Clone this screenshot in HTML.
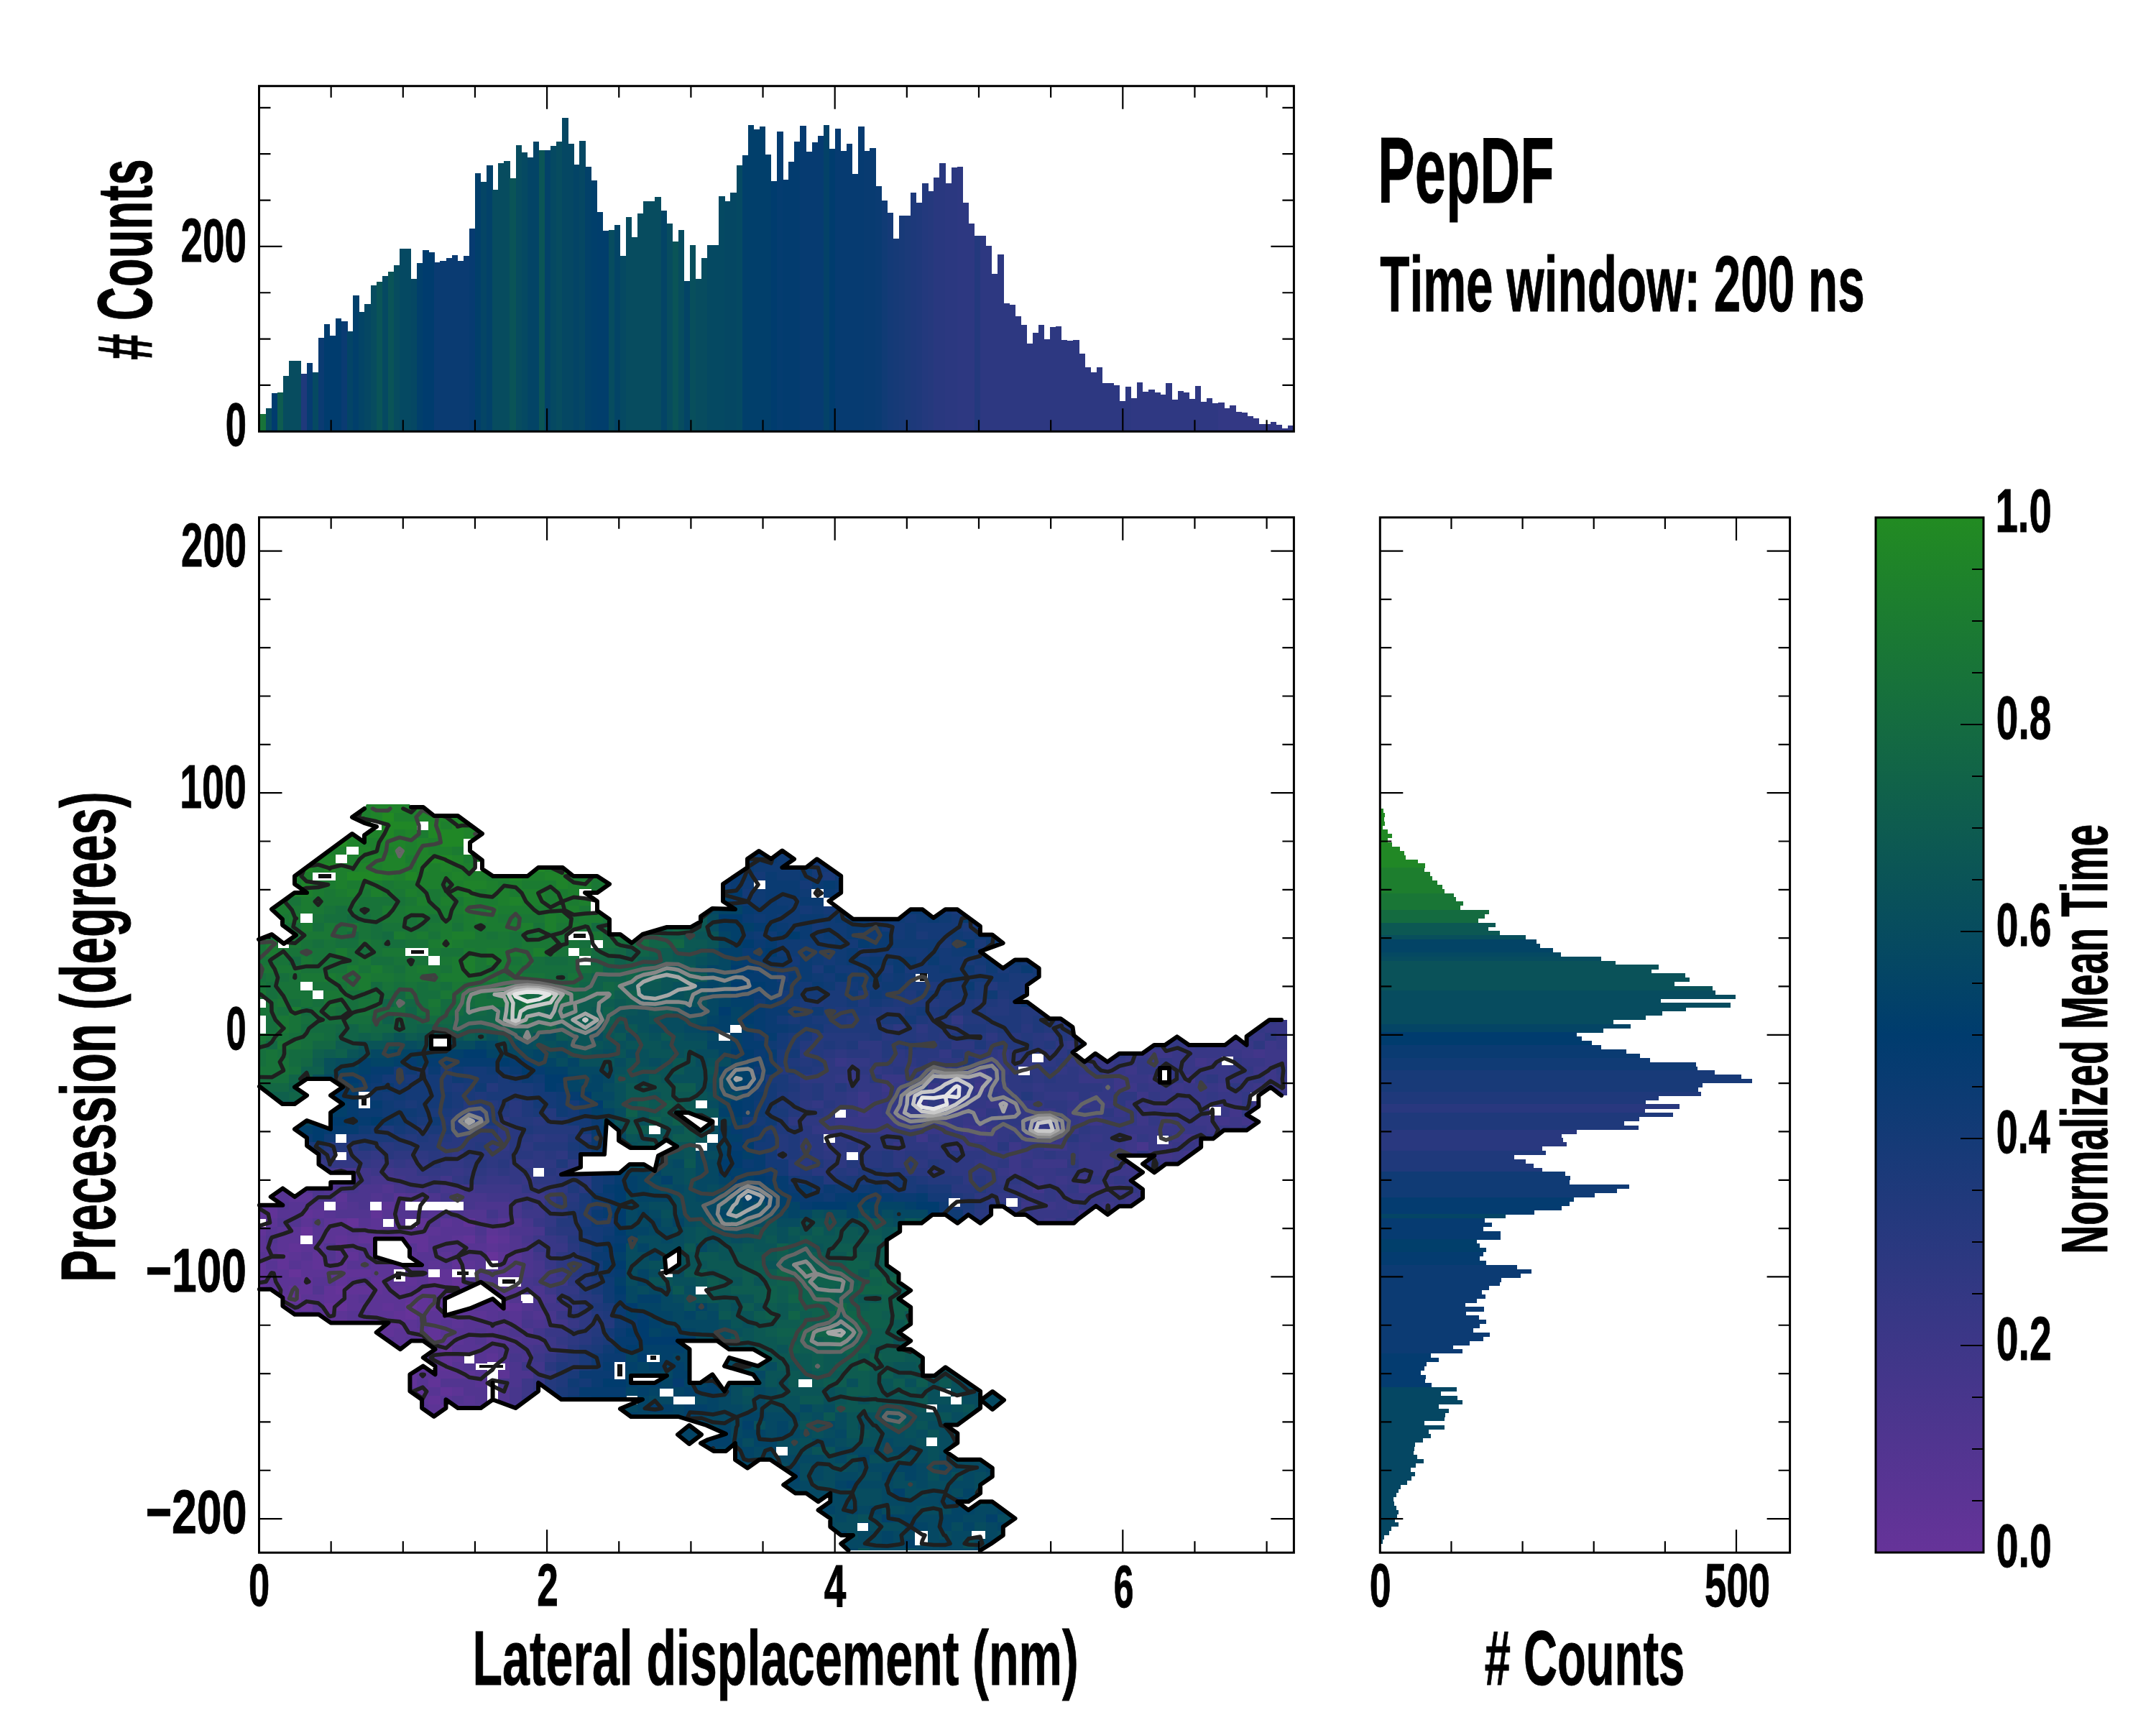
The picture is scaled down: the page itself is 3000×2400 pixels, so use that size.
<!DOCTYPE html><html><head><meta charset="utf-8"><style>html,body{margin:0;padding:0;background:#fff;width:3000px;height:2400px;overflow:hidden}svg{display:block}</style></head><body><svg width="3000" height="2400" viewBox="0 0 3000 2400"><rect width="3000" height="2400" fill="#fff"/><g shape-rendering="crispEdges"><rect x="362.00" y="576.0" width="8.38" height="24.3" fill="#187339"/><rect x="370.08" y="568.1" width="8.38" height="32.2" fill="#074c5f"/><rect x="378.16" y="546.9" width="8.38" height="53.4" fill="#003c6e"/><rect x="386.24" y="546.1" width="8.38" height="54.2" fill="#0e5c50"/><rect x="394.32" y="523.2" width="8.38" height="77.1" fill="#074c5f"/><rect x="402.40" y="502.2" width="8.38" height="98.1" fill="#074c5f"/><rect x="410.48" y="502.2" width="8.38" height="98.1" fill="#074c5f"/><rect x="418.56" y="520.2" width="8.38" height="80.1" fill="#1f397b"/><rect x="426.64" y="505.2" width="8.38" height="95.1" fill="#063b71"/><rect x="434.72" y="518.0" width="8.38" height="82.3" fill="#054962"/><rect x="442.80" y="470.1" width="8.38" height="130.2" fill="#0a3b72"/><rect x="450.88" y="451.3" width="8.38" height="149.0" fill="#003c6e"/><rect x="458.96" y="467.1" width="8.38" height="133.2" fill="#003c6e"/><rect x="467.04" y="443.1" width="8.38" height="157.2" fill="#003c6e"/><rect x="475.12" y="447.2" width="8.38" height="153.1" fill="#0a3b72"/><rect x="483.20" y="461.1" width="8.38" height="139.2" fill="#034466"/><rect x="491.28" y="410.9" width="8.38" height="189.4" fill="#013f6b"/><rect x="499.36" y="433.8" width="8.38" height="166.5" fill="#034466"/><rect x="507.44" y="423.2" width="8.38" height="177.1" fill="#054763"/><rect x="515.52" y="397.0" width="8.38" height="203.3" fill="#074c5f"/><rect x="523.60" y="392.1" width="8.38" height="208.2" fill="#0a5457"/><rect x="531.68" y="384.0" width="8.38" height="216.3" fill="#054962"/><rect x="539.76" y="378.0" width="8.38" height="222.3" fill="#0a5457"/><rect x="547.84" y="369.0" width="8.38" height="231.3" fill="#074c5f"/><rect x="555.92" y="346.1" width="8.38" height="254.2" fill="#054962"/><rect x="564.00" y="346.1" width="8.38" height="254.2" fill="#054962"/><rect x="572.08" y="387.8" width="8.38" height="212.5" fill="#054763"/><rect x="580.16" y="366.0" width="8.38" height="234.3" fill="#013f6b"/><rect x="588.24" y="348.0" width="8.38" height="252.3" fill="#003c6e"/><rect x="596.32" y="351.0" width="8.38" height="249.3" fill="#003c6e"/><rect x="604.40" y="364.7" width="8.38" height="235.6" fill="#0a3b72"/><rect x="612.48" y="363.1" width="8.38" height="237.2" fill="#0a3b72"/><rect x="620.56" y="359.0" width="8.38" height="241.3" fill="#0a3b72"/><rect x="628.64" y="355.0" width="8.38" height="245.3" fill="#0a3b72"/><rect x="636.72" y="363.1" width="8.38" height="237.2" fill="#0a3b72"/><rect x="644.80" y="355.8" width="8.38" height="244.5" fill="#0a3b72"/><rect x="652.88" y="317.9" width="8.38" height="282.4" fill="#063b71"/><rect x="660.96" y="241.1" width="8.38" height="359.2" fill="#013f6b"/><rect x="669.04" y="253.1" width="8.38" height="347.2" fill="#044565"/><rect x="677.12" y="230.2" width="8.38" height="370.1" fill="#024169"/><rect x="685.20" y="264.0" width="8.38" height="336.3" fill="#074c5f"/><rect x="693.28" y="227.0" width="8.38" height="373.3" fill="#074c5f"/><rect x="701.36" y="224.2" width="8.38" height="376.1" fill="#074c5f"/><rect x="709.44" y="247.9" width="8.38" height="352.4" fill="#0a5457"/><rect x="717.52" y="202.2" width="8.38" height="398.1" fill="#074c5f"/><rect x="725.60" y="212.0" width="8.38" height="388.3" fill="#054962"/><rect x="733.68" y="218.8" width="8.38" height="381.5" fill="#034466"/><rect x="741.76" y="197.0" width="8.38" height="403.3" fill="#034466"/><rect x="749.84" y="209.2" width="8.38" height="391.1" fill="#0b5556"/><rect x="757.92" y="209.2" width="8.38" height="391.1" fill="#034268"/><rect x="766.00" y="203.3" width="8.38" height="397.0" fill="#054962"/><rect x="774.08" y="197.0" width="8.38" height="403.3" fill="#074c5f"/><rect x="782.16" y="164.3" width="8.38" height="436.0" fill="#054763"/><rect x="790.24" y="200.0" width="8.38" height="400.3" fill="#054763"/><rect x="798.32" y="229.1" width="8.38" height="371.2" fill="#034466"/><rect x="806.40" y="195.9" width="8.38" height="404.4" fill="#054763"/><rect x="814.48" y="232.1" width="8.38" height="368.2" fill="#024169"/><rect x="822.56" y="251.2" width="8.38" height="349.1" fill="#013f6b"/><rect x="830.64" y="294.8" width="8.38" height="305.5" fill="#013e6c"/><rect x="838.72" y="321.2" width="8.38" height="279.1" fill="#013e6c"/><rect x="846.80" y="320.1" width="8.38" height="280.2" fill="#074c5f"/><rect x="854.88" y="313.0" width="8.38" height="287.3" fill="#034466"/><rect x="862.96" y="355.8" width="8.38" height="244.5" fill="#054962"/><rect x="871.04" y="302.1" width="8.38" height="298.2" fill="#074c5f"/><rect x="879.12" y="329.9" width="8.38" height="270.4" fill="#074c5f"/><rect x="887.20" y="296.9" width="8.38" height="303.4" fill="#074c5f"/><rect x="895.28" y="280.1" width="8.38" height="320.2" fill="#074c5f"/><rect x="903.36" y="280.1" width="8.38" height="320.2" fill="#074c5f"/><rect x="911.44" y="274.1" width="8.38" height="326.2" fill="#074c5f"/><rect x="919.52" y="293.1" width="8.38" height="307.2" fill="#034466"/><rect x="927.60" y="310.8" width="8.38" height="289.5" fill="#074c5f"/><rect x="935.68" y="335.9" width="8.38" height="264.4" fill="#0a5457"/><rect x="943.76" y="320.1" width="8.38" height="280.2" fill="#074c5f"/><rect x="951.84" y="390.9" width="8.38" height="209.4" fill="#034466"/><rect x="959.92" y="341.1" width="8.38" height="259.2" fill="#084f5c"/><rect x="968.00" y="387.6" width="8.38" height="212.7" fill="#074c5f"/><rect x="976.08" y="359.0" width="8.38" height="241.3" fill="#074c5f"/><rect x="984.16" y="341.1" width="8.38" height="259.2" fill="#054962"/><rect x="992.24" y="341.1" width="8.38" height="259.2" fill="#054962"/><rect x="1000.32" y="273.0" width="8.38" height="327.3" fill="#054962"/><rect x="1008.40" y="279.8" width="8.38" height="320.5" fill="#054763"/><rect x="1016.48" y="268.1" width="8.38" height="332.2" fill="#054763"/><rect x="1024.56" y="229.9" width="8.38" height="370.4" fill="#054962"/><rect x="1032.64" y="216.1" width="8.38" height="384.2" fill="#013f6b"/><rect x="1040.72" y="173.8" width="8.38" height="426.5" fill="#013f6b"/><rect x="1048.80" y="180.1" width="8.38" height="420.2" fill="#013f6b"/><rect x="1056.88" y="176.3" width="8.38" height="424.0" fill="#013f6b"/><rect x="1064.96" y="215.0" width="8.38" height="385.3" fill="#013f6b"/><rect x="1073.04" y="252.0" width="8.38" height="348.3" fill="#003c6e"/><rect x="1081.12" y="183.1" width="8.38" height="417.2" fill="#043c70"/><rect x="1089.20" y="249.8" width="8.38" height="350.5" fill="#023c6f"/><rect x="1097.28" y="225.0" width="8.38" height="375.3" fill="#023c6f"/><rect x="1105.36" y="197.0" width="8.38" height="403.3" fill="#023c6f"/><rect x="1113.44" y="175.2" width="8.38" height="425.1" fill="#063b71"/><rect x="1121.52" y="210.9" width="8.38" height="389.4" fill="#063b71"/><rect x="1129.60" y="198.1" width="8.38" height="402.2" fill="#063b71"/><rect x="1137.68" y="189.1" width="8.38" height="411.2" fill="#063b71"/><rect x="1145.76" y="173.8" width="8.38" height="426.5" fill="#034268"/><rect x="1153.84" y="207.1" width="8.38" height="393.2" fill="#003c6e"/><rect x="1161.92" y="179.0" width="8.38" height="421.3" fill="#063b71"/><rect x="1170.00" y="209.8" width="8.38" height="390.5" fill="#063b71"/><rect x="1178.08" y="200.0" width="8.38" height="400.3" fill="#063b71"/><rect x="1186.16" y="241.7" width="8.38" height="358.6" fill="#063b71"/><rect x="1194.24" y="176.0" width="8.38" height="424.3" fill="#063b71"/><rect x="1202.32" y="209.8" width="8.38" height="390.5" fill="#083b71"/><rect x="1210.40" y="206.0" width="8.38" height="394.3" fill="#083b71"/><rect x="1218.48" y="259.1" width="8.38" height="341.2" fill="#0a3b72"/><rect x="1226.56" y="279.0" width="8.38" height="321.3" fill="#103b75"/><rect x="1234.64" y="295.8" width="8.38" height="304.5" fill="#143a77"/><rect x="1242.72" y="331.8" width="8.38" height="268.5" fill="#163a77"/><rect x="1250.80" y="299.9" width="8.38" height="300.4" fill="#183a78"/><rect x="1258.88" y="299.9" width="8.38" height="300.4" fill="#1b3a79"/><rect x="1266.96" y="268.1" width="8.38" height="332.2" fill="#1d397a"/><rect x="1275.04" y="282.0" width="8.38" height="318.3" fill="#1f397b"/><rect x="1283.12" y="255.0" width="8.38" height="345.3" fill="#23397d"/><rect x="1291.20" y="265.9" width="8.38" height="334.4" fill="#25397d"/><rect x="1299.28" y="247.1" width="8.38" height="353.2" fill="#29387f"/><rect x="1307.36" y="227.0" width="8.38" height="373.3" fill="#29387f"/><rect x="1315.44" y="255.0" width="8.38" height="345.3" fill="#2b3880"/><rect x="1323.52" y="232.9" width="8.38" height="367.4" fill="#2b3880"/><rect x="1331.60" y="232.1" width="8.38" height="368.2" fill="#2d3881"/><rect x="1339.68" y="282.0" width="8.38" height="318.3" fill="#2d3881"/><rect x="1347.76" y="310.8" width="8.38" height="289.5" fill="#2d3881"/><rect x="1355.84" y="327.5" width="8.38" height="272.8" fill="#23397d"/><rect x="1363.92" y="328.0" width="8.38" height="272.3" fill="#2d3881"/><rect x="1372.00" y="341.9" width="8.38" height="258.4" fill="#2d3881"/><rect x="1380.08" y="380.8" width="8.38" height="219.5" fill="#2d3881"/><rect x="1388.16" y="353.9" width="8.38" height="246.4" fill="#2d3881"/><rect x="1396.24" y="421.9" width="8.38" height="178.4" fill="#2d3881"/><rect x="1404.32" y="423.6" width="8.38" height="176.7" fill="#2d3881"/><rect x="1412.40" y="439.9" width="8.38" height="160.4" fill="#2d3881"/><rect x="1420.48" y="451.9" width="8.38" height="148.4" fill="#2d3881"/><rect x="1428.56" y="477.8" width="8.38" height="122.5" fill="#2d3881"/><rect x="1436.64" y="462.5" width="8.38" height="137.8" fill="#2d3881"/><rect x="1444.72" y="451.9" width="8.38" height="148.4" fill="#2d3881"/><rect x="1452.80" y="471.8" width="8.38" height="128.5" fill="#2d3881"/><rect x="1460.88" y="454.6" width="8.38" height="145.7" fill="#2d3881"/><rect x="1468.96" y="454.1" width="8.38" height="146.2" fill="#2d3881"/><rect x="1477.04" y="473.1" width="8.38" height="127.2" fill="#2d3881"/><rect x="1485.12" y="474.0" width="8.38" height="126.3" fill="#2d3881"/><rect x="1493.20" y="473.1" width="8.38" height="127.2" fill="#2d3881"/><rect x="1501.28" y="492.2" width="8.38" height="108.1" fill="#2d3881"/><rect x="1509.36" y="510.7" width="8.38" height="89.6" fill="#2d3881"/><rect x="1517.44" y="517.5" width="8.38" height="82.8" fill="#2d3881"/><rect x="1525.52" y="510.7" width="8.38" height="89.6" fill="#2d3881"/><rect x="1533.60" y="532.5" width="8.38" height="67.8" fill="#2d3881"/><rect x="1541.68" y="532.5" width="8.38" height="67.8" fill="#2d3881"/><rect x="1549.76" y="535.5" width="8.38" height="64.8" fill="#2d3881"/><rect x="1557.84" y="558.4" width="8.38" height="41.9" fill="#2d3881"/><rect x="1565.92" y="537.7" width="8.38" height="62.6" fill="#2d3881"/><rect x="1574.00" y="554.2" width="8.38" height="46.1" fill="#2f3882"/><rect x="1582.08" y="532.2" width="8.38" height="68.1" fill="#2f3882"/><rect x="1590.16" y="545.1" width="8.38" height="55.2" fill="#2f3882"/><rect x="1598.24" y="542.2" width="8.38" height="58.1" fill="#2f3882"/><rect x="1606.32" y="546.1" width="8.38" height="54.2" fill="#2f3882"/><rect x="1614.40" y="549.1" width="8.38" height="51.2" fill="#2f3882"/><rect x="1622.48" y="533.3" width="8.38" height="67.0" fill="#2f3882"/><rect x="1630.56" y="556.0" width="8.38" height="44.3" fill="#2f3882"/><rect x="1638.64" y="544.4" width="8.38" height="55.9" fill="#2f3882"/><rect x="1646.72" y="546.2" width="8.38" height="54.1" fill="#2f3882"/><rect x="1654.80" y="555.1" width="8.38" height="45.2" fill="#2f3882"/><rect x="1662.88" y="537.3" width="8.38" height="63.0" fill="#2f3882"/><rect x="1670.96" y="559.0" width="8.38" height="41.3" fill="#2f3882"/><rect x="1679.04" y="554.3" width="8.38" height="46.0" fill="#2f3882"/><rect x="1687.12" y="561.1" width="8.38" height="39.2" fill="#2f3882"/><rect x="1695.20" y="560.4" width="8.38" height="39.9" fill="#333884"/><rect x="1703.28" y="568.2" width="8.38" height="32.1" fill="#333884"/><rect x="1711.36" y="564.3" width="8.38" height="36.0" fill="#333884"/><rect x="1719.44" y="573.1" width="8.38" height="27.2" fill="#333884"/><rect x="1727.52" y="574.0" width="8.38" height="26.3" fill="#333884"/><rect x="1735.60" y="579.2" width="8.38" height="21.1" fill="#333884"/><rect x="1743.68" y="582.2" width="8.38" height="18.1" fill="#333884"/><rect x="1751.76" y="590.1" width="8.38" height="10.2" fill="#333884"/><rect x="1759.84" y="590.1" width="8.38" height="10.2" fill="#333884"/><rect x="1767.92" y="587.4" width="8.38" height="12.9" fill="#333884"/><rect x="1776.00" y="591.3" width="8.38" height="9.0" fill="#333884"/><rect x="1784.08" y="596.0" width="8.38" height="4.3" fill="#333884"/><rect x="1792.16" y="592.3" width="8.38" height="8.0" fill="#333884"/><rect x="1920.3" y="1125.00" width="4.4" height="6.18" fill="#228b22"/><rect x="1920.3" y="1130.88" width="6.5" height="6.18" fill="#228b22"/><rect x="1920.3" y="1136.75" width="5.6" height="6.18" fill="#228a23"/><rect x="1920.3" y="1142.63" width="6.5" height="6.18" fill="#228a23"/><rect x="1920.3" y="1148.51" width="3.5" height="6.18" fill="#218a23"/><rect x="1920.3" y="1154.38" width="10.4" height="6.18" fill="#218924"/><rect x="1920.3" y="1160.26" width="16.5" height="6.18" fill="#218924"/><rect x="1920.3" y="1166.14" width="10.4" height="6.18" fill="#218924"/><rect x="1920.3" y="1172.02" width="16.5" height="6.18" fill="#218824"/><rect x="1920.3" y="1177.89" width="27.5" height="6.18" fill="#218825"/><rect x="1920.3" y="1183.77" width="33.7" height="6.18" fill="#218825"/><rect x="1920.3" y="1189.65" width="35.6" height="6.18" fill="#218825"/><rect x="1920.3" y="1195.52" width="52.6" height="6.18" fill="#208726"/><rect x="1920.3" y="1201.40" width="62.5" height="6.18" fill="#208726"/><rect x="1920.3" y="1207.28" width="61.5" height="6.18" fill="#1d7e2e"/><rect x="1920.3" y="1213.15" width="69.4" height="6.18" fill="#1d7e2e"/><rect x="1920.3" y="1219.03" width="72.6" height="6.18" fill="#1d7e2e"/><rect x="1920.3" y="1224.91" width="79.6" height="6.18" fill="#1d7e2e"/><rect x="1920.3" y="1230.79" width="86.5" height="6.18" fill="#1d7e2e"/><rect x="1920.3" y="1236.66" width="89.6" height="6.18" fill="#1d7e2e"/><rect x="1920.3" y="1242.54" width="102.5" height="6.18" fill="#197636"/><rect x="1920.3" y="1248.42" width="105.6" height="6.18" fill="#197636"/><rect x="1920.3" y="1254.29" width="115.6" height="6.18" fill="#197636"/><rect x="1920.3" y="1260.17" width="111.6" height="6.18" fill="#197636"/><rect x="1920.3" y="1266.05" width="151.7" height="6.18" fill="#146b40"/><rect x="1920.3" y="1271.92" width="145.5" height="6.18" fill="#146b40"/><rect x="1920.3" y="1277.80" width="136.6" height="6.18" fill="#146b40"/><rect x="1920.3" y="1283.68" width="160.6" height="6.18" fill="#0c5853"/><rect x="1920.3" y="1289.56" width="150.7" height="6.18" fill="#0c5853"/><rect x="1920.3" y="1295.43" width="166.7" height="6.18" fill="#0c5853"/><rect x="1920.3" y="1301.31" width="202.6" height="6.18" fill="#084f5c"/><rect x="1920.3" y="1307.19" width="217.5" height="6.18" fill="#034466"/><rect x="1920.3" y="1313.06" width="222.5" height="6.18" fill="#034466"/><rect x="1920.3" y="1318.94" width="240.6" height="6.18" fill="#034466"/><rect x="1920.3" y="1324.82" width="251.5" height="6.18" fill="#054962"/><rect x="1920.3" y="1330.69" width="307.5" height="6.18" fill="#074c5f"/><rect x="1920.3" y="1336.57" width="327.6" height="6.18" fill="#0a5259"/><rect x="1920.3" y="1342.45" width="387.4" height="6.18" fill="#0a5259"/><rect x="1920.3" y="1348.33" width="377.4" height="6.18" fill="#0a5259"/><rect x="1920.3" y="1354.20" width="424.5" height="6.18" fill="#0a5259"/><rect x="1920.3" y="1360.08" width="430.5" height="6.18" fill="#0a5259"/><rect x="1920.3" y="1365.96" width="409.5" height="6.18" fill="#0a5259"/><rect x="1920.3" y="1371.83" width="462.3" height="6.18" fill="#0a5259"/><rect x="1920.3" y="1377.71" width="466.6" height="6.18" fill="#074c5f"/><rect x="1920.3" y="1383.59" width="494.6" height="6.18" fill="#074c5f"/><rect x="1920.3" y="1389.46" width="390.4" height="6.18" fill="#074c5f"/><rect x="1920.3" y="1395.34" width="487.6" height="6.18" fill="#074c5f"/><rect x="1920.3" y="1401.22" width="425.5" height="6.18" fill="#074c5f"/><rect x="1920.3" y="1407.10" width="392.4" height="6.18" fill="#074c5f"/><rect x="1920.3" y="1412.97" width="369.4" height="6.18" fill="#074c5f"/><rect x="1920.3" y="1418.85" width="324.6" height="6.18" fill="#074c5f"/><rect x="1920.3" y="1424.73" width="348.6" height="6.18" fill="#044565"/><rect x="1920.3" y="1430.60" width="310.5" height="6.18" fill="#044565"/><rect x="1920.3" y="1436.48" width="273.5" height="6.18" fill="#003c6e"/><rect x="1920.3" y="1442.36" width="280.5" height="6.18" fill="#003c6e"/><rect x="1920.3" y="1448.24" width="294.5" height="6.18" fill="#003c6e"/><rect x="1920.3" y="1454.11" width="307.5" height="6.18" fill="#0a3b72"/><rect x="1920.3" y="1459.99" width="342.6" height="6.18" fill="#0a3b72"/><rect x="1920.3" y="1465.87" width="361.6" height="6.18" fill="#0a3b72"/><rect x="1920.3" y="1471.74" width="375.7" height="6.18" fill="#103b75"/><rect x="1920.3" y="1477.62" width="439.5" height="6.18" fill="#103b75"/><rect x="1920.3" y="1483.50" width="441.5" height="6.18" fill="#103b75"/><rect x="1920.3" y="1489.37" width="465.6" height="6.18" fill="#183a78"/><rect x="1920.3" y="1495.25" width="502.6" height="6.18" fill="#183a78"/><rect x="1920.3" y="1501.13" width="517.7" height="6.18" fill="#183a78"/><rect x="1920.3" y="1507.01" width="448.5" height="6.18" fill="#183a78"/><rect x="1920.3" y="1512.88" width="442.5" height="6.18" fill="#183a78"/><rect x="1920.3" y="1518.76" width="446.5" height="6.18" fill="#1f397b"/><rect x="1920.3" y="1524.64" width="387.4" height="6.18" fill="#1f397b"/><rect x="1920.3" y="1530.51" width="369.4" height="6.18" fill="#1f397b"/><rect x="1920.3" y="1536.39" width="416.5" height="6.18" fill="#29387f"/><rect x="1920.3" y="1542.27" width="368.4" height="6.18" fill="#29387f"/><rect x="1920.3" y="1548.14" width="407.5" height="6.18" fill="#1f397b"/><rect x="1920.3" y="1554.02" width="360.4" height="6.18" fill="#1f397b"/><rect x="1920.3" y="1559.90" width="339.6" height="6.18" fill="#1f397b"/><rect x="1920.3" y="1565.78" width="359.6" height="6.18" fill="#1f397b"/><rect x="1920.3" y="1571.65" width="273.5" height="6.18" fill="#29387f"/><rect x="1920.3" y="1577.53" width="252.7" height="6.18" fill="#29387f"/><rect x="1920.3" y="1583.41" width="254.4" height="6.18" fill="#29387f"/><rect x="1920.3" y="1589.28" width="259.4" height="6.18" fill="#29387f"/><rect x="1920.3" y="1595.16" width="225.6" height="6.18" fill="#29387f"/><rect x="1920.3" y="1601.04" width="230.4" height="6.18" fill="#1f397b"/><rect x="1920.3" y="1606.91" width="186.6" height="6.18" fill="#1f397b"/><rect x="1920.3" y="1612.79" width="202.3" height="6.18" fill="#1f397b"/><rect x="1920.3" y="1618.67" width="213.6" height="6.18" fill="#1f397b"/><rect x="1920.3" y="1624.55" width="225.4" height="6.18" fill="#1f397b"/><rect x="1920.3" y="1630.42" width="257.7" height="6.18" fill="#103b75"/><rect x="1920.3" y="1636.30" width="264.5" height="6.18" fill="#103b75"/><rect x="1920.3" y="1642.18" width="263.4" height="6.18" fill="#103b75"/><rect x="1920.3" y="1648.05" width="346.6" height="6.18" fill="#103b75"/><rect x="1920.3" y="1653.93" width="329.6" height="6.18" fill="#103b75"/><rect x="1920.3" y="1659.81" width="298.5" height="6.18" fill="#103b75"/><rect x="1920.3" y="1665.68" width="269.5" height="6.18" fill="#043c70"/><rect x="1920.3" y="1671.56" width="263.4" height="6.18" fill="#043c70"/><rect x="1920.3" y="1677.44" width="252.4" height="6.18" fill="#043c70"/><rect x="1920.3" y="1683.32" width="214.4" height="6.18" fill="#043c70"/><rect x="1920.3" y="1689.19" width="174.3" height="6.18" fill="#044565"/><rect x="1920.3" y="1695.07" width="145.5" height="6.18" fill="#063b71"/><rect x="1920.3" y="1700.95" width="155.2" height="6.18" fill="#063b71"/><rect x="1920.3" y="1706.82" width="143.5" height="6.18" fill="#063b71"/><rect x="1920.3" y="1712.70" width="167.3" height="6.18" fill="#063b71"/><rect x="1920.3" y="1718.58" width="167.3" height="6.18" fill="#063b71"/><rect x="1920.3" y="1724.45" width="134.5" height="6.18" fill="#013f6b"/><rect x="1920.3" y="1730.33" width="138.2" height="6.18" fill="#013f6b"/><rect x="1920.3" y="1736.21" width="147.2" height="6.18" fill="#013f6b"/><rect x="1920.3" y="1742.09" width="143.2" height="6.18" fill="#043c70"/><rect x="1920.3" y="1747.96" width="138.5" height="6.18" fill="#043c70"/><rect x="1920.3" y="1753.84" width="147.2" height="6.18" fill="#043c70"/><rect x="1920.3" y="1759.72" width="190.3" height="6.18" fill="#0c3b73"/><rect x="1920.3" y="1765.59" width="210.4" height="6.18" fill="#0c3b73"/><rect x="1920.3" y="1771.47" width="195.3" height="6.18" fill="#0c3b73"/><rect x="1920.3" y="1777.35" width="168.3" height="6.18" fill="#0c3b73"/><rect x="1920.3" y="1783.22" width="166.5" height="6.18" fill="#0c3b73"/><rect x="1920.3" y="1789.10" width="151.5" height="6.18" fill="#0c3b73"/><rect x="1920.3" y="1794.98" width="141.5" height="6.18" fill="#0c3b73"/><rect x="1920.3" y="1800.86" width="146.4" height="6.18" fill="#0c3b73"/><rect x="1920.3" y="1806.73" width="134.4" height="6.18" fill="#0c3b73"/><rect x="1920.3" y="1812.61" width="118.5" height="6.18" fill="#0c3b73"/><rect x="1920.3" y="1818.49" width="144.6" height="6.18" fill="#0c3b73"/><rect x="1920.3" y="1824.36" width="119.5" height="6.18" fill="#0c3b73"/><rect x="1920.3" y="1830.24" width="137.5" height="6.18" fill="#0c3b73"/><rect x="1920.3" y="1836.12" width="147.5" height="6.18" fill="#0c3b73"/><rect x="1920.3" y="1841.99" width="138.4" height="6.18" fill="#0c3b73"/><rect x="1920.3" y="1847.87" width="129.5" height="6.18" fill="#0c3b73"/><rect x="1920.3" y="1853.75" width="152.5" height="6.18" fill="#0c3b73"/><rect x="1920.3" y="1859.62" width="143.4" height="6.18" fill="#0c3b73"/><rect x="1920.3" y="1865.50" width="124.5" height="6.18" fill="#0c3b73"/><rect x="1920.3" y="1871.38" width="101.6" height="6.18" fill="#0c3b73"/><rect x="1920.3" y="1877.26" width="114.5" height="6.18" fill="#0c3b73"/><rect x="1920.3" y="1883.13" width="70.7" height="6.18" fill="#043c70"/><rect x="1920.3" y="1889.01" width="81.5" height="6.18" fill="#043c70"/><rect x="1920.3" y="1894.89" width="64.5" height="6.18" fill="#043c70"/><rect x="1920.3" y="1900.76" width="61.5" height="6.18" fill="#043c70"/><rect x="1920.3" y="1906.64" width="56.6" height="6.18" fill="#043c70"/><rect x="1920.3" y="1912.52" width="63.4" height="6.18" fill="#043c70"/><rect x="1920.3" y="1918.39" width="62.6" height="6.18" fill="#043c70"/><rect x="1920.3" y="1924.27" width="71.4" height="6.18" fill="#043c70"/><rect x="1920.3" y="1930.15" width="106.4" height="6.18" fill="#054763"/><rect x="1920.3" y="1936.03" width="84.7" height="6.18" fill="#054763"/><rect x="1920.3" y="1941.90" width="107.4" height="6.18" fill="#054763"/><rect x="1920.3" y="1947.78" width="114.5" height="6.18" fill="#054763"/><rect x="1920.3" y="1953.66" width="81.7" height="6.18" fill="#054763"/><rect x="1920.3" y="1959.53" width="95.4" height="6.18" fill="#054763"/><rect x="1920.3" y="1965.41" width="90.6" height="6.18" fill="#054763"/><rect x="1920.3" y="1971.29" width="89.6" height="6.18" fill="#054763"/><rect x="1920.3" y="1977.16" width="61.6" height="6.18" fill="#054763"/><rect x="1920.3" y="1983.04" width="89.6" height="6.18" fill="#054763"/><rect x="1920.3" y="1988.92" width="67.5" height="6.18" fill="#054763"/><rect x="1920.3" y="1994.80" width="70.5" height="6.18" fill="#054763"/><rect x="1920.3" y="2000.67" width="59.5" height="6.18" fill="#054763"/><rect x="1920.3" y="2006.55" width="48.5" height="6.18" fill="#054763"/><rect x="1920.3" y="2012.43" width="47.6" height="6.18" fill="#054763"/><rect x="1920.3" y="2018.30" width="46.6" height="6.18" fill="#054763"/><rect x="1920.3" y="2024.18" width="51.7" height="6.18" fill="#054763"/><rect x="1920.3" y="2030.06" width="60.6" height="6.18" fill="#054763"/><rect x="1920.3" y="2035.93" width="49.6" height="6.18" fill="#054763"/><rect x="1920.3" y="2041.81" width="42.6" height="6.18" fill="#054763"/><rect x="1920.3" y="2047.69" width="48.6" height="6.18" fill="#054763"/><rect x="1920.3" y="2053.57" width="43.6" height="6.18" fill="#054763"/><rect x="1920.3" y="2059.44" width="37.6" height="6.18" fill="#054763"/><rect x="1920.3" y="2065.32" width="28.5" height="6.18" fill="#054763"/><rect x="1920.3" y="2071.20" width="25.6" height="6.18" fill="#054763"/><rect x="1920.3" y="2077.07" width="22.5" height="6.18" fill="#054763"/><rect x="1920.3" y="2082.95" width="18.5" height="6.18" fill="#054763"/><rect x="1920.3" y="2088.83" width="19.6" height="6.18" fill="#054763"/><rect x="1920.3" y="2094.70" width="22.5" height="6.18" fill="#054763"/><rect x="1920.3" y="2100.58" width="25.6" height="6.18" fill="#054763"/><rect x="1920.3" y="2106.46" width="23.5" height="6.18" fill="#054763"/><rect x="1920.3" y="2112.34" width="20.4" height="6.18" fill="#054763"/><rect x="1920.3" y="2118.21" width="25.6" height="6.18" fill="#054763"/><rect x="1920.3" y="2124.09" width="15.7" height="6.18" fill="#054763"/><rect x="1920.3" y="2129.97" width="12.6" height="6.18" fill="#054763"/><rect x="1920.3" y="2135.84" width="5.6" height="6.18" fill="#054763"/><rect x="1920.3" y="2141.72" width="3.5" height="6.18" fill="#054763"/></g><defs><clipPath id="axc"><rect x="362" y="721.3" width="1436.9" height="1437.4"/></clipPath><clipPath id="bnd"><path d="M360.0 1307.0 L378.0 1300.0 L395.0 1313.0 L412.0 1301.0 L393.0 1287.0 L393.0 1279.0 L378.0 1265.0 L410.0 1242.0 L427.0 1242.0 L410.0 1230.0 L410.0 1219.0 L490.0 1160.0 L507.0 1172.0 L507.0 1162.0 L524.0 1150.0 L507.0 1145.0 L490.0 1137.0 L507.0 1125.0 L510.0 1119.0 L570.0 1119.0 L572.0 1123.0 L589.0 1123.0 L604.0 1135.0 L637.0 1135.0 L671.0 1160.0 L654.0 1172.0 L654.0 1184.0 L671.0 1197.0 L671.0 1209.0 L686.0 1219.0 L734.0 1219.0 L749.0 1207.0 L783.0 1207.0 L798.0 1219.0 L831.0 1219.0 L848.0 1230.0 L831.0 1242.0 L814.0 1242.0 L831.0 1254.0 L831.0 1267.0 L848.0 1279.0 L848.0 1300.0 L863.0 1300.0 L879.0 1312.0 L894.0 1300.0 L928.0 1290.0 L961.0 1290.0 L975.0 1282.0 L975.0 1275.0 L991.0 1264.0 L1023.0 1265.0 L1006.0 1254.0 L1006.0 1230.0 L1040.0 1207.0 L1040.0 1195.0 L1056.0 1184.0 L1073.0 1195.0 L1088.4 1183.5 L1105.0 1195.2 L1088.4 1206.9 L1121.8 1206.9 L1136.8 1195.2 L1170.2 1218.6 L1170.2 1242.0 L1153.5 1253.7 L1186.9 1278.7 L1250.3 1278.7 L1267.0 1265.3 L1283.7 1265.3 L1298.8 1277.0 L1315.5 1265.3 L1332.2 1265.3 L1363.9 1288.7 L1363.9 1300.4 L1380.6 1300.4 L1395.6 1312.1 L1363.9 1323.8 L1395.6 1347.2 L1412.3 1335.5 L1429.0 1335.5 L1445.7 1347.2 L1445.7 1358.9 L1429.0 1370.6 L1429.0 1383.9 L1412.3 1393.9 L1429.0 1393.9 L1460.8 1417.3 L1475.8 1417.3 L1492.5 1429.0 L1494.2 1440.7 L1509.2 1452.4 L1492.5 1464.1 L1509.2 1477.4 L1524.2 1465.7 L1540.9 1477.4 L1557.6 1465.7 L1589.4 1465.7 L1606.0 1454.0 L1621.0 1454.0 L1637.8 1442.4 L1654.5 1454.0 L1704.6 1454.0 L1719.6 1442.4 L1734.6 1454.0 L1734.6 1442.0 L1766.4 1419.0 L1783.0 1419.0 L1791.0 1419.0 L1791.0 1524.0 L1783.0 1524.2 L1768.0 1512.5 L1751.3 1524.2 L1751.3 1539.2 L1734.6 1550.9 L1751.3 1560.9 L1734.6 1572.6 L1702.9 1572.6 L1687.9 1584.3 L1671.2 1584.3 L1671.2 1596.0 L1639.1 1619.4 L1622.4 1619.4 L1606.2 1631.4 L1590.0 1619.4 L1606.2 1607.8 L1557.0 1607.8 L1590.0 1631.0 L1573.7 1642.6 L1590.0 1654.6 L1590.0 1666.7 L1573.7 1678.3 L1557.0 1678.3 L1541.3 1689.9 L1525.0 1677.8 L1500.0 1696.4 L1494.3 1701.8 L1444.2 1701.8 L1427.5 1690.1 L1412.5 1690.1 L1395.8 1678.5 L1379.1 1678.5 L1379.1 1690.1 L1364.1 1701.8 L1347.4 1690.1 L1332.3 1701.8 L1315.6 1690.1 L1297.3 1690.1 L1282.2 1701.8 L1252.2 1701.8 L1252.2 1713.5 L1233.8 1725.2 L1233.8 1760.3 L1250.5 1772.0 L1250.5 1783.7 L1267.2 1795.4 L1250.5 1807.0 L1267.2 1818.7 L1267.2 1842.1 L1250.5 1853.8 L1267.2 1865.5 L1250.5 1877.2 L1267.2 1877.2 L1283.9 1888.9 L1283.9 1913.9 L1300.6 1913.9 L1315.6 1902.2 L1364.1 1935.6 L1364.1 1959.0 L1332.3 1982.4 L1315.6 1982.4 L1332.3 1994.1 L1332.3 2007.5 L1315.6 2019.1 L1332.3 2030.8 L1364.1 2030.8 L1380.8 2042.5 L1380.8 2054.2 L1364.1 2065.9 L1364.1 2077.6 L1347.4 2089.3 L1332.3 2089.3 L1347.4 2101.0 L1364.1 2089.3 L1380.8 2089.3 L1412.5 2112.6 L1395.8 2124.3 L1395.8 2136.0 L1379.1 2147.7 L1364.1 2157.0 L1180.4 2157.0 L1170.3 2147.7 L1187.0 2136.0 L1170.3 2136.0 L1155.3 2124.3 L1155.3 2112.6 L1138.6 2101.0 L1155.3 2089.3 L1155.3 2077.6 L1138.6 2089.3 L1121.9 2077.6 L1106.9 2077.6 L1090.2 2065.9 L1106.9 2054.2 L1071.8 2030.8 L1056.8 2030.8 L1040.1 2042.5 L1023.0 2031.0 L1023.0 2008.0 L1010.0 2019.0 L993.0 2019.0 L975.0 2008.0 L985.0 2003.0 L1010.0 1995.0 L983.0 1983.0 L944.0 1971.0 L878.0 1971.0 L863.0 1960.0 L894.0 1947.0 L781.0 1947.0 L749.1 1923.9 L749.1 1935.6 L717.4 1959.0 L685.6 1947.3 L685.6 1923.9 L685.6 1947.3 L669.0 1959.0 L637.2 1959.0 L620.5 1947.3 L620.5 1959.0 L603.8 1970.7 L587.1 1959.0 L587.1 1947.3 L570.4 1935.6 L570.4 1912.3 L588.8 1900.6 L605.5 1912.3 L605.5 1900.6 L588.8 1888.9 L605.5 1877.2 L588.8 1865.5 L572.1 1865.5 L557.1 1877.2 L523.7 1853.8 L540.4 1840.4 L460.2 1840.4 L443.5 1828.7 L410.1 1828.7 L393.4 1817.1 L393.4 1805.4 L376.7 1793.7 L361.0 1793.7 L361.0 1676.8 L393.4 1676.8 L376.7 1665.1 L393.4 1653.4 L410.1 1665.1 L426.8 1653.4 L460.2 1653.4 L460.2 1645.0 L491.9 1645.0 L491.9 1631.7 L460.2 1631.7 L443.5 1620.0 L443.5 1606.0 L427.0 1594.0 L427.0 1583.0 L410.0 1571.0 L427.0 1559.0 L460.0 1571.0 L460.0 1548.0 L477.0 1536.0 L460.0 1524.0 L477.0 1512.5 L460.0 1501.0 L427.0 1501.0 L410.0 1512.5 L427.0 1524.0 L410.0 1536.0 L393.0 1536.0 L361.0 1511.5 Z"/></clipPath></defs><g clip-path="url(#bnd)" shape-rendering="crispEdges"><rect x="499.4" y="1119.1" width="16.6" height="12.15" fill="#1d7f2d"/><rect x="515.5" y="1119.1" width="48.9" height="12.15" fill="#1f832a"/><rect x="564.0" y="1119.1" width="16.6" height="12.15" fill="#1d7f2d"/><rect x="580.2" y="1119.1" width="16.6" height="12.15" fill="#1f832a"/><rect x="483.2" y="1130.9" width="16.6" height="12.15" fill="#1f832a"/><rect x="499.4" y="1130.9" width="16.6" height="12.15" fill="#1d7f2d"/><rect x="515.5" y="1130.9" width="16.6" height="12.15" fill="#1f832a"/><rect x="531.7" y="1130.9" width="16.6" height="12.15" fill="#228b22"/><rect x="547.8" y="1130.9" width="32.7" height="12.15" fill="#1d7f2d"/><rect x="580.2" y="1130.9" width="65.0" height="12.15" fill="#1f832a"/><rect x="499.4" y="1142.7" width="32.7" height="12.15" fill="#1f832a"/><rect x="531.7" y="1142.7" width="48.9" height="12.15" fill="#208726"/><rect x="580.2" y="1142.7" width="16.6" height="12.15" fill="#1f832a"/><rect x="596.3" y="1142.7" width="16.6" height="12.15" fill="#208726"/><rect x="612.5" y="1142.7" width="16.6" height="12.15" fill="#1d7f2d"/><rect x="628.6" y="1142.7" width="16.6" height="12.15" fill="#208726"/><rect x="644.8" y="1142.7" width="16.6" height="12.15" fill="#1f832a"/><rect x="483.2" y="1154.4" width="16.6" height="12.15" fill="#208726"/><rect x="499.4" y="1154.4" width="32.7" height="12.15" fill="#1f832a"/><rect x="531.7" y="1154.4" width="16.6" height="12.15" fill="#208726"/><rect x="547.8" y="1154.4" width="16.6" height="12.15" fill="#1d7f2d"/><rect x="564.0" y="1154.4" width="16.6" height="12.15" fill="#1f832a"/><rect x="580.2" y="1154.4" width="16.6" height="12.15" fill="#1b7b31"/><rect x="596.3" y="1154.4" width="48.9" height="12.15" fill="#208726"/><rect x="644.8" y="1154.4" width="32.7" height="12.15" fill="#1f832a"/><rect x="467.0" y="1166.2" width="16.6" height="12.15" fill="#228b22"/><rect x="483.2" y="1166.2" width="16.6" height="12.15" fill="#1f832a"/><rect x="499.4" y="1166.2" width="32.7" height="12.15" fill="#1d7f2d"/><rect x="531.7" y="1166.2" width="32.7" height="12.15" fill="#1f832a"/><rect x="564.0" y="1166.2" width="16.6" height="12.15" fill="#1d7f2d"/><rect x="580.2" y="1166.2" width="16.6" height="12.15" fill="#1f832a"/><rect x="596.3" y="1166.2" width="16.6" height="12.15" fill="#1d7f2d"/><rect x="612.5" y="1166.2" width="48.9" height="12.15" fill="#208726"/><rect x="450.9" y="1177.9" width="48.9" height="12.15" fill="#1d7f2d"/><rect x="499.4" y="1177.9" width="16.6" height="12.15" fill="#1f832a"/><rect x="515.5" y="1177.9" width="32.7" height="12.15" fill="#1d7f2d"/><rect x="547.8" y="1177.9" width="16.6" height="12.15" fill="#1f832a"/><rect x="564.0" y="1177.9" width="16.6" height="12.15" fill="#1d7f2d"/><rect x="580.2" y="1177.9" width="16.6" height="12.15" fill="#1f832a"/><rect x="596.3" y="1177.9" width="32.7" height="12.15" fill="#1d7f2d"/><rect x="628.6" y="1177.9" width="16.6" height="12.15" fill="#1b7b31"/><rect x="644.8" y="1177.9" width="16.6" height="12.15" fill="#208726"/><rect x="1048.8" y="1177.9" width="16.6" height="12.15" fill="#0a3b72"/><rect x="1081.1" y="1177.9" width="16.6" height="12.15" fill="#0f3b74"/><rect x="434.7" y="1189.7" width="48.9" height="12.15" fill="#1f832a"/><rect x="483.2" y="1189.7" width="32.7" height="12.15" fill="#1d7f2d"/><rect x="515.5" y="1189.7" width="48.9" height="12.15" fill="#1f832a"/><rect x="564.0" y="1189.7" width="16.6" height="12.15" fill="#1b7b31"/><rect x="580.2" y="1189.7" width="16.6" height="12.15" fill="#1f832a"/><rect x="596.3" y="1189.7" width="32.7" height="12.15" fill="#208726"/><rect x="628.6" y="1189.7" width="16.6" height="12.15" fill="#1f832a"/><rect x="644.8" y="1189.7" width="16.6" height="12.15" fill="#1b7b31"/><rect x="661.0" y="1189.7" width="16.6" height="12.15" fill="#1f832a"/><rect x="1032.6" y="1189.7" width="48.9" height="12.15" fill="#0a3b72"/><rect x="1081.1" y="1189.7" width="16.6" height="12.15" fill="#0f3b74"/><rect x="1097.3" y="1189.7" width="16.6" height="12.15" fill="#0a3b72"/><rect x="1129.6" y="1189.7" width="16.6" height="12.15" fill="#143a77"/><rect x="418.6" y="1201.4" width="16.6" height="12.15" fill="#208726"/><rect x="434.7" y="1201.4" width="16.6" height="12.15" fill="#1d7f2d"/><rect x="450.9" y="1201.4" width="16.6" height="12.15" fill="#208726"/><rect x="467.0" y="1201.4" width="32.7" height="12.15" fill="#1d7f2d"/><rect x="499.4" y="1201.4" width="16.6" height="12.15" fill="#1f832a"/><rect x="515.5" y="1201.4" width="16.6" height="12.15" fill="#1d7f2d"/><rect x="531.7" y="1201.4" width="32.7" height="12.15" fill="#1f832a"/><rect x="564.0" y="1201.4" width="16.6" height="12.15" fill="#1d7f2d"/><rect x="580.2" y="1201.4" width="16.6" height="12.15" fill="#1f832a"/><rect x="596.3" y="1201.4" width="16.6" height="12.15" fill="#1d7f2d"/><rect x="612.5" y="1201.4" width="16.6" height="12.15" fill="#1f832a"/><rect x="628.6" y="1201.4" width="32.7" height="12.15" fill="#1d7f2d"/><rect x="661.0" y="1201.4" width="16.6" height="12.15" fill="#208726"/><rect x="741.8" y="1201.4" width="16.6" height="12.15" fill="#208726"/><rect x="757.9" y="1201.4" width="16.6" height="12.15" fill="#1d7f2d"/><rect x="774.1" y="1201.4" width="16.6" height="12.15" fill="#1b7b31"/><rect x="1032.6" y="1201.4" width="16.6" height="12.15" fill="#0a3b72"/><rect x="1048.8" y="1201.4" width="65.0" height="12.15" fill="#0f3b74"/><rect x="1113.4" y="1201.4" width="16.6" height="12.15" fill="#0a3b72"/><rect x="1129.6" y="1201.4" width="32.7" height="12.15" fill="#143a77"/><rect x="402.4" y="1213.2" width="48.9" height="12.15" fill="#1d7f2d"/><rect x="450.9" y="1213.2" width="16.6" height="12.15" fill="#1b7b31"/><rect x="467.0" y="1213.2" width="16.6" height="12.15" fill="#1d7f2d"/><rect x="483.2" y="1213.2" width="48.9" height="12.15" fill="#208726"/><rect x="531.7" y="1213.2" width="16.6" height="12.15" fill="#1f832a"/><rect x="547.8" y="1213.2" width="16.6" height="12.15" fill="#1d7f2d"/><rect x="564.0" y="1213.2" width="16.6" height="12.15" fill="#208726"/><rect x="580.2" y="1213.2" width="48.9" height="12.15" fill="#1d7f2d"/><rect x="628.6" y="1213.2" width="16.6" height="12.15" fill="#1f832a"/><rect x="644.8" y="1213.2" width="32.7" height="12.15" fill="#1d7f2d"/><rect x="677.1" y="1213.2" width="16.6" height="12.15" fill="#1b7b31"/><rect x="693.3" y="1213.2" width="16.6" height="12.15" fill="#1d7f2d"/><rect x="709.4" y="1213.2" width="16.6" height="12.15" fill="#208726"/><rect x="725.6" y="1213.2" width="32.7" height="12.15" fill="#1d7f2d"/><rect x="757.9" y="1213.2" width="32.7" height="12.15" fill="#1f832a"/><rect x="790.2" y="1213.2" width="48.9" height="12.15" fill="#1b7b31"/><rect x="1016.5" y="1213.2" width="32.7" height="12.15" fill="#0a3b72"/><rect x="1048.8" y="1213.2" width="16.6" height="12.15" fill="#143a77"/><rect x="1065.0" y="1213.2" width="16.6" height="12.15" fill="#0a3b72"/><rect x="1081.1" y="1213.2" width="32.7" height="12.15" fill="#0f3b74"/><rect x="1113.4" y="1213.2" width="16.6" height="12.15" fill="#0a3b72"/><rect x="1129.6" y="1213.2" width="16.6" height="12.15" fill="#143a77"/><rect x="1145.8" y="1213.2" width="16.6" height="12.15" fill="#1a3a79"/><rect x="1161.9" y="1213.2" width="16.6" height="12.15" fill="#0f3b74"/><rect x="402.4" y="1224.9" width="16.6" height="12.15" fill="#1b7b31"/><rect x="418.6" y="1224.9" width="16.6" height="12.15" fill="#1f832a"/><rect x="434.7" y="1224.9" width="32.7" height="12.15" fill="#1b7b31"/><rect x="467.0" y="1224.9" width="16.6" height="12.15" fill="#1d7f2d"/><rect x="483.2" y="1224.9" width="48.9" height="12.15" fill="#1b7b31"/><rect x="531.7" y="1224.9" width="16.6" height="12.15" fill="#1a7735"/><rect x="547.8" y="1224.9" width="32.7" height="12.15" fill="#1b7b31"/><rect x="580.2" y="1224.9" width="32.7" height="12.15" fill="#1d7f2d"/><rect x="612.5" y="1224.9" width="16.6" height="12.15" fill="#1a7735"/><rect x="628.6" y="1224.9" width="16.6" height="12.15" fill="#1d7f2d"/><rect x="644.8" y="1224.9" width="32.7" height="12.15" fill="#1f832a"/><rect x="677.1" y="1224.9" width="16.6" height="12.15" fill="#1d7f2d"/><rect x="693.3" y="1224.9" width="16.6" height="12.15" fill="#1b7b31"/><rect x="709.4" y="1224.9" width="16.6" height="12.15" fill="#1d7f2d"/><rect x="725.6" y="1224.9" width="48.9" height="12.15" fill="#1b7b31"/><rect x="774.1" y="1224.9" width="16.6" height="12.15" fill="#1f832a"/><rect x="790.2" y="1224.9" width="32.7" height="12.15" fill="#1d7f2d"/><rect x="822.6" y="1224.9" width="32.7" height="12.15" fill="#1a7735"/><rect x="1000.3" y="1224.9" width="16.6" height="12.15" fill="#0f3b74"/><rect x="1016.5" y="1224.9" width="16.6" height="12.15" fill="#0a3b72"/><rect x="1032.6" y="1224.9" width="32.7" height="12.15" fill="#0f3b74"/><rect x="1065.0" y="1224.9" width="48.9" height="12.15" fill="#0a3b72"/><rect x="1113.4" y="1224.9" width="16.6" height="12.15" fill="#143a77"/><rect x="1129.6" y="1224.9" width="16.6" height="12.15" fill="#0a3b72"/><rect x="1145.8" y="1224.9" width="16.6" height="12.15" fill="#053c70"/><rect x="1161.9" y="1224.9" width="16.6" height="12.15" fill="#0a3b72"/><rect x="402.4" y="1236.7" width="32.7" height="12.15" fill="#1d7f2d"/><rect x="434.7" y="1236.7" width="16.6" height="12.15" fill="#1b7b31"/><rect x="450.9" y="1236.7" width="16.6" height="12.15" fill="#1a7735"/><rect x="467.0" y="1236.7" width="16.6" height="12.15" fill="#1b7b31"/><rect x="483.2" y="1236.7" width="16.6" height="12.15" fill="#1d7f2d"/><rect x="499.4" y="1236.7" width="16.6" height="12.15" fill="#1a7735"/><rect x="515.5" y="1236.7" width="16.6" height="12.15" fill="#1d7f2d"/><rect x="531.7" y="1236.7" width="16.6" height="12.15" fill="#1b7b31"/><rect x="547.8" y="1236.7" width="16.6" height="12.15" fill="#1a7735"/><rect x="564.0" y="1236.7" width="16.6" height="12.15" fill="#1d7f2d"/><rect x="580.2" y="1236.7" width="16.6" height="12.15" fill="#1b7b31"/><rect x="596.3" y="1236.7" width="16.6" height="12.15" fill="#1a7735"/><rect x="612.5" y="1236.7" width="16.6" height="12.15" fill="#1b7b31"/><rect x="628.6" y="1236.7" width="16.6" height="12.15" fill="#1d7f2d"/><rect x="644.8" y="1236.7" width="16.6" height="12.15" fill="#1f832a"/><rect x="661.0" y="1236.7" width="16.6" height="12.15" fill="#1b7b31"/><rect x="677.1" y="1236.7" width="32.7" height="12.15" fill="#1d7f2d"/><rect x="709.4" y="1236.7" width="16.6" height="12.15" fill="#1b7b31"/><rect x="725.6" y="1236.7" width="32.7" height="12.15" fill="#1d7f2d"/><rect x="757.9" y="1236.7" width="32.7" height="12.15" fill="#1b7b31"/><rect x="790.2" y="1236.7" width="16.6" height="12.15" fill="#1d7f2d"/><rect x="806.4" y="1236.7" width="16.6" height="12.15" fill="#1b7b31"/><rect x="822.6" y="1236.7" width="16.6" height="12.15" fill="#1a7735"/><rect x="1000.3" y="1236.7" width="16.6" height="12.15" fill="#02406a"/><rect x="1016.5" y="1236.7" width="16.6" height="12.15" fill="#003c6e"/><rect x="1032.6" y="1236.7" width="16.6" height="12.15" fill="#143a77"/><rect x="1048.8" y="1236.7" width="16.6" height="12.15" fill="#0f3b74"/><rect x="1065.0" y="1236.7" width="48.9" height="12.15" fill="#0a3b72"/><rect x="1113.4" y="1236.7" width="16.6" height="12.15" fill="#0f3b74"/><rect x="1129.6" y="1236.7" width="32.7" height="12.15" fill="#0a3b72"/><rect x="1161.9" y="1236.7" width="16.6" height="12.15" fill="#0f3b74"/><rect x="386.2" y="1248.4" width="16.6" height="12.15" fill="#1b7b31"/><rect x="402.4" y="1248.4" width="16.6" height="12.15" fill="#187339"/><rect x="418.6" y="1248.4" width="16.6" height="12.15" fill="#1b7b31"/><rect x="434.7" y="1248.4" width="65.0" height="12.15" fill="#1a7735"/><rect x="499.4" y="1248.4" width="65.0" height="12.15" fill="#187339"/><rect x="564.0" y="1248.4" width="16.6" height="12.15" fill="#1a7735"/><rect x="580.2" y="1248.4" width="16.6" height="12.15" fill="#1d7f2d"/><rect x="596.3" y="1248.4" width="16.6" height="12.15" fill="#1a7735"/><rect x="612.5" y="1248.4" width="16.6" height="12.15" fill="#1d7f2d"/><rect x="628.6" y="1248.4" width="16.6" height="12.15" fill="#1a7735"/><rect x="644.8" y="1248.4" width="16.6" height="12.15" fill="#1d7f2d"/><rect x="661.0" y="1248.4" width="32.7" height="12.15" fill="#1b7b31"/><rect x="693.3" y="1248.4" width="16.6" height="12.15" fill="#1d7f2d"/><rect x="709.4" y="1248.4" width="16.6" height="12.15" fill="#1f832a"/><rect x="725.6" y="1248.4" width="32.7" height="12.15" fill="#1d7f2d"/><rect x="757.9" y="1248.4" width="16.6" height="12.15" fill="#1b7b31"/><rect x="774.1" y="1248.4" width="16.6" height="12.15" fill="#1d7f2d"/><rect x="790.2" y="1248.4" width="16.6" height="12.15" fill="#1b7b31"/><rect x="806.4" y="1248.4" width="16.6" height="12.15" fill="#1d7f2d"/><rect x="822.6" y="1248.4" width="16.6" height="12.15" fill="#1a7735"/><rect x="1000.3" y="1248.4" width="16.6" height="12.15" fill="#02406a"/><rect x="1016.5" y="1248.4" width="16.6" height="12.15" fill="#0a3b72"/><rect x="1032.6" y="1248.4" width="32.7" height="12.15" fill="#0f3b74"/><rect x="1065.0" y="1248.4" width="16.6" height="12.15" fill="#0a3b72"/><rect x="1081.1" y="1248.4" width="32.7" height="12.15" fill="#0f3b74"/><rect x="1113.4" y="1248.4" width="32.7" height="12.15" fill="#0a3b72"/><rect x="1145.8" y="1248.4" width="16.6" height="12.15" fill="#0f3b74"/><rect x="370.1" y="1260.2" width="16.6" height="12.15" fill="#1a7735"/><rect x="386.2" y="1260.2" width="16.6" height="12.15" fill="#1b7b31"/><rect x="402.4" y="1260.2" width="16.6" height="12.15" fill="#1a7735"/><rect x="418.6" y="1260.2" width="16.6" height="12.15" fill="#1b7b31"/><rect x="434.7" y="1260.2" width="16.6" height="12.15" fill="#1a7735"/><rect x="450.9" y="1260.2" width="16.6" height="12.15" fill="#187339"/><rect x="467.0" y="1260.2" width="16.6" height="12.15" fill="#166f3d"/><rect x="483.2" y="1260.2" width="48.9" height="12.15" fill="#187339"/><rect x="531.7" y="1260.2" width="16.6" height="12.15" fill="#1b7b31"/><rect x="547.8" y="1260.2" width="16.6" height="12.15" fill="#1a7735"/><rect x="564.0" y="1260.2" width="81.2" height="12.15" fill="#1b7b31"/><rect x="644.8" y="1260.2" width="16.6" height="12.15" fill="#1d7f2d"/><rect x="661.0" y="1260.2" width="16.6" height="12.15" fill="#1a7735"/><rect x="677.1" y="1260.2" width="16.6" height="12.15" fill="#1d7f2d"/><rect x="693.3" y="1260.2" width="97.4" height="12.15" fill="#1b7b31"/><rect x="790.2" y="1260.2" width="16.6" height="12.15" fill="#1d7f2d"/><rect x="806.4" y="1260.2" width="16.6" height="12.15" fill="#1a7735"/><rect x="822.6" y="1260.2" width="16.6" height="12.15" fill="#166f3d"/><rect x="968.0" y="1260.2" width="16.6" height="12.15" fill="#08505b"/><rect x="984.2" y="1260.2" width="16.6" height="12.15" fill="#054863"/><rect x="1000.3" y="1260.2" width="32.7" height="12.15" fill="#034466"/><rect x="1032.6" y="1260.2" width="16.6" height="12.15" fill="#053c70"/><rect x="1048.8" y="1260.2" width="48.9" height="12.15" fill="#0a3b72"/><rect x="1097.3" y="1260.2" width="16.6" height="12.15" fill="#0f3b74"/><rect x="1113.4" y="1260.2" width="16.6" height="12.15" fill="#143a77"/><rect x="1129.6" y="1260.2" width="16.6" height="12.15" fill="#0f3b74"/><rect x="1145.8" y="1260.2" width="16.6" height="12.15" fill="#143a77"/><rect x="1161.9" y="1260.2" width="16.6" height="12.15" fill="#0f3b74"/><rect x="1258.9" y="1260.2" width="32.7" height="12.15" fill="#0a3b72"/><rect x="1307.4" y="1260.2" width="16.6" height="12.15" fill="#143a77"/><rect x="1323.5" y="1260.2" width="16.6" height="12.15" fill="#1a3a79"/><rect x="386.2" y="1271.9" width="16.6" height="12.15" fill="#1a7735"/><rect x="402.4" y="1271.9" width="16.6" height="12.15" fill="#1b7b31"/><rect x="418.6" y="1271.9" width="32.7" height="12.15" fill="#187339"/><rect x="450.9" y="1271.9" width="32.7" height="12.15" fill="#166f3d"/><rect x="483.2" y="1271.9" width="16.6" height="12.15" fill="#146b40"/><rect x="499.4" y="1271.9" width="16.6" height="12.15" fill="#166f3d"/><rect x="515.5" y="1271.9" width="16.6" height="12.15" fill="#187339"/><rect x="531.7" y="1271.9" width="32.7" height="12.15" fill="#1a7735"/><rect x="564.0" y="1271.9" width="16.6" height="12.15" fill="#187339"/><rect x="580.2" y="1271.9" width="16.6" height="12.15" fill="#1a7735"/><rect x="596.3" y="1271.9" width="16.6" height="12.15" fill="#187339"/><rect x="612.5" y="1271.9" width="16.6" height="12.15" fill="#1b7b31"/><rect x="628.6" y="1271.9" width="16.6" height="12.15" fill="#1a7735"/><rect x="644.8" y="1271.9" width="16.6" height="12.15" fill="#1b7b31"/><rect x="661.0" y="1271.9" width="16.6" height="12.15" fill="#1d7f2d"/><rect x="677.1" y="1271.9" width="16.6" height="12.15" fill="#1b7b31"/><rect x="693.3" y="1271.9" width="65.0" height="12.15" fill="#1a7735"/><rect x="757.9" y="1271.9" width="16.6" height="12.15" fill="#1d7f2d"/><rect x="774.1" y="1271.9" width="16.6" height="12.15" fill="#1b7b31"/><rect x="790.2" y="1271.9" width="16.6" height="12.15" fill="#1a7735"/><rect x="806.4" y="1271.9" width="32.7" height="12.15" fill="#1b7b31"/><rect x="838.7" y="1271.9" width="16.6" height="12.15" fill="#187339"/><rect x="968.0" y="1271.9" width="16.6" height="12.15" fill="#0c5853"/><rect x="984.2" y="1271.9" width="16.6" height="12.15" fill="#074c5f"/><rect x="1000.3" y="1271.9" width="32.7" height="12.15" fill="#003c6e"/><rect x="1032.6" y="1271.9" width="16.6" height="12.15" fill="#0a3b72"/><rect x="1048.8" y="1271.9" width="16.6" height="12.15" fill="#0f3b74"/><rect x="1065.0" y="1271.9" width="16.6" height="12.15" fill="#0a3b72"/><rect x="1081.1" y="1271.9" width="32.7" height="12.15" fill="#0f3b74"/><rect x="1113.4" y="1271.9" width="32.7" height="12.15" fill="#0a3b72"/><rect x="1145.8" y="1271.9" width="16.6" height="12.15" fill="#0f3b74"/><rect x="1161.9" y="1271.9" width="48.9" height="12.15" fill="#0a3b72"/><rect x="1210.4" y="1271.9" width="16.6" height="12.15" fill="#1a3a79"/><rect x="1226.6" y="1271.9" width="32.7" height="12.15" fill="#0f3b74"/><rect x="1258.9" y="1271.9" width="16.6" height="12.15" fill="#143a77"/><rect x="1275.0" y="1271.9" width="16.6" height="12.15" fill="#0f3b74"/><rect x="1291.2" y="1271.9" width="16.6" height="12.15" fill="#0a3b72"/><rect x="1307.4" y="1271.9" width="16.6" height="12.15" fill="#0f3b74"/><rect x="1323.5" y="1271.9" width="16.6" height="12.15" fill="#143a77"/><rect x="1339.7" y="1271.9" width="16.6" height="12.15" fill="#053c70"/><rect x="386.2" y="1283.7" width="32.7" height="12.15" fill="#187339"/><rect x="418.6" y="1283.7" width="16.6" height="12.15" fill="#1b7b31"/><rect x="434.7" y="1283.7" width="16.6" height="12.15" fill="#166f3d"/><rect x="450.9" y="1283.7" width="16.6" height="12.15" fill="#1a7735"/><rect x="467.0" y="1283.7" width="16.6" height="12.15" fill="#187339"/><rect x="483.2" y="1283.7" width="16.6" height="12.15" fill="#1a7735"/><rect x="499.4" y="1283.7" width="16.6" height="12.15" fill="#187339"/><rect x="515.5" y="1283.7" width="16.6" height="12.15" fill="#166f3d"/><rect x="531.7" y="1283.7" width="65.0" height="12.15" fill="#187339"/><rect x="596.3" y="1283.7" width="16.6" height="12.15" fill="#1a7735"/><rect x="612.5" y="1283.7" width="16.6" height="12.15" fill="#1b7b31"/><rect x="628.6" y="1283.7" width="16.6" height="12.15" fill="#187339"/><rect x="644.8" y="1283.7" width="16.6" height="12.15" fill="#1b7b31"/><rect x="661.0" y="1283.7" width="16.6" height="12.15" fill="#1a7735"/><rect x="677.1" y="1283.7" width="48.9" height="12.15" fill="#1b7b31"/><rect x="725.6" y="1283.7" width="16.6" height="12.15" fill="#1d7f2d"/><rect x="741.8" y="1283.7" width="16.6" height="12.15" fill="#187339"/><rect x="757.9" y="1283.7" width="16.6" height="12.15" fill="#1d7f2d"/><rect x="774.1" y="1283.7" width="16.6" height="12.15" fill="#1a7735"/><rect x="790.2" y="1283.7" width="16.6" height="12.15" fill="#1b7b31"/><rect x="806.4" y="1283.7" width="16.6" height="12.15" fill="#1a7735"/><rect x="822.6" y="1283.7" width="16.6" height="12.15" fill="#146b40"/><rect x="838.7" y="1283.7" width="16.6" height="12.15" fill="#166f3d"/><rect x="903.4" y="1283.7" width="16.6" height="12.15" fill="#136744"/><rect x="919.5" y="1283.7" width="16.6" height="12.15" fill="#0f604c"/><rect x="935.7" y="1283.7" width="16.6" height="12.15" fill="#136744"/><rect x="951.8" y="1283.7" width="16.6" height="12.15" fill="#116448"/><rect x="968.0" y="1283.7" width="16.6" height="12.15" fill="#0c5853"/><rect x="984.2" y="1283.7" width="16.6" height="12.15" fill="#074c5f"/><rect x="1000.3" y="1283.7" width="48.9" height="12.15" fill="#02406a"/><rect x="1048.8" y="1283.7" width="32.7" height="12.15" fill="#053c70"/><rect x="1081.1" y="1283.7" width="16.6" height="12.15" fill="#0a3b72"/><rect x="1097.3" y="1283.7" width="16.6" height="12.15" fill="#0f3b74"/><rect x="1113.4" y="1283.7" width="16.6" height="12.15" fill="#0a3b72"/><rect x="1129.6" y="1283.7" width="16.6" height="12.15" fill="#143a77"/><rect x="1145.8" y="1283.7" width="32.7" height="12.15" fill="#0f3b74"/><rect x="1178.1" y="1283.7" width="48.9" height="12.15" fill="#0a3b72"/><rect x="1226.6" y="1283.7" width="32.7" height="12.15" fill="#143a77"/><rect x="1258.9" y="1283.7" width="16.6" height="12.15" fill="#0f3b74"/><rect x="1275.0" y="1283.7" width="65.0" height="12.15" fill="#143a77"/><rect x="1339.7" y="1283.7" width="16.6" height="12.15" fill="#1a3a79"/><rect x="1355.8" y="1283.7" width="16.6" height="12.15" fill="#143a77"/><rect x="353.9" y="1295.5" width="16.6" height="12.15" fill="#1b7b31"/><rect x="370.1" y="1295.5" width="16.6" height="12.15" fill="#166f3d"/><rect x="402.4" y="1295.5" width="16.6" height="12.15" fill="#187339"/><rect x="418.6" y="1295.5" width="48.9" height="12.15" fill="#1a7735"/><rect x="467.0" y="1295.5" width="16.6" height="12.15" fill="#187339"/><rect x="483.2" y="1295.5" width="16.6" height="12.15" fill="#146b40"/><rect x="499.4" y="1295.5" width="16.6" height="12.15" fill="#187339"/><rect x="515.5" y="1295.5" width="16.6" height="12.15" fill="#166f3d"/><rect x="531.7" y="1295.5" width="16.6" height="12.15" fill="#146b40"/><rect x="547.8" y="1295.5" width="16.6" height="12.15" fill="#1b7b31"/><rect x="564.0" y="1295.5" width="16.6" height="12.15" fill="#1a7735"/><rect x="580.2" y="1295.5" width="16.6" height="12.15" fill="#1b7b31"/><rect x="596.3" y="1295.5" width="16.6" height="12.15" fill="#187339"/><rect x="612.5" y="1295.5" width="16.6" height="12.15" fill="#1b7b31"/><rect x="628.6" y="1295.5" width="32.7" height="12.15" fill="#1d7f2d"/><rect x="661.0" y="1295.5" width="16.6" height="12.15" fill="#1a7735"/><rect x="677.1" y="1295.5" width="16.6" height="12.15" fill="#187339"/><rect x="693.3" y="1295.5" width="16.6" height="12.15" fill="#1a7735"/><rect x="709.4" y="1295.5" width="32.7" height="12.15" fill="#187339"/><rect x="741.8" y="1295.5" width="16.6" height="12.15" fill="#1a7735"/><rect x="757.9" y="1295.5" width="16.6" height="12.15" fill="#187339"/><rect x="774.1" y="1295.5" width="32.7" height="12.15" fill="#1a7735"/><rect x="806.4" y="1295.5" width="16.6" height="12.15" fill="#1b7b31"/><rect x="822.6" y="1295.5" width="16.6" height="12.15" fill="#1a7735"/><rect x="838.7" y="1295.5" width="16.6" height="12.15" fill="#166f3d"/><rect x="854.9" y="1295.5" width="16.6" height="12.15" fill="#187339"/><rect x="887.2" y="1295.5" width="32.7" height="12.15" fill="#136744"/><rect x="919.5" y="1295.5" width="32.7" height="12.15" fill="#0f604c"/><rect x="951.8" y="1295.5" width="16.6" height="12.15" fill="#0c5853"/><rect x="968.0" y="1295.5" width="32.7" height="12.15" fill="#0a5457"/><rect x="1000.3" y="1295.5" width="16.6" height="12.15" fill="#034466"/><rect x="1016.5" y="1295.5" width="16.6" height="12.15" fill="#02406a"/><rect x="1032.6" y="1295.5" width="16.6" height="12.15" fill="#0a3b72"/><rect x="1048.8" y="1295.5" width="32.7" height="12.15" fill="#0f3b74"/><rect x="1081.1" y="1295.5" width="16.6" height="12.15" fill="#053c70"/><rect x="1097.3" y="1295.5" width="16.6" height="12.15" fill="#003c6e"/><rect x="1113.4" y="1295.5" width="16.6" height="12.15" fill="#0a3b72"/><rect x="1129.6" y="1295.5" width="16.6" height="12.15" fill="#0f3b74"/><rect x="1145.8" y="1295.5" width="16.6" height="12.15" fill="#0a3b72"/><rect x="1161.9" y="1295.5" width="16.6" height="12.15" fill="#0f3b74"/><rect x="1178.1" y="1295.5" width="16.6" height="12.15" fill="#0a3b72"/><rect x="1194.2" y="1295.5" width="32.7" height="12.15" fill="#0f3b74"/><rect x="1226.6" y="1295.5" width="16.6" height="12.15" fill="#0a3b72"/><rect x="1242.7" y="1295.5" width="16.6" height="12.15" fill="#143a77"/><rect x="1258.9" y="1295.5" width="16.6" height="12.15" fill="#0f3b74"/><rect x="1275.0" y="1295.5" width="16.6" height="12.15" fill="#1a3a79"/><rect x="1291.2" y="1295.5" width="32.7" height="12.15" fill="#143a77"/><rect x="1323.5" y="1295.5" width="16.6" height="12.15" fill="#0f3b74"/><rect x="1339.7" y="1295.5" width="16.6" height="12.15" fill="#143a77"/><rect x="1355.8" y="1295.5" width="32.7" height="12.15" fill="#0f3b74"/><rect x="353.9" y="1307.2" width="16.6" height="12.15" fill="#187339"/><rect x="370.1" y="1307.2" width="16.6" height="12.15" fill="#1b7b31"/><rect x="386.2" y="1307.2" width="16.6" height="12.15" fill="#187339"/><rect x="402.4" y="1307.2" width="16.6" height="12.15" fill="#1a7735"/><rect x="418.6" y="1307.2" width="16.6" height="12.15" fill="#187339"/><rect x="434.7" y="1307.2" width="16.6" height="12.15" fill="#166f3d"/><rect x="450.9" y="1307.2" width="16.6" height="12.15" fill="#187339"/><rect x="467.0" y="1307.2" width="32.7" height="12.15" fill="#166f3d"/><rect x="499.4" y="1307.2" width="16.6" height="12.15" fill="#1a7735"/><rect x="515.5" y="1307.2" width="16.6" height="12.15" fill="#187339"/><rect x="531.7" y="1307.2" width="32.7" height="12.15" fill="#166f3d"/><rect x="564.0" y="1307.2" width="32.7" height="12.15" fill="#187339"/><rect x="596.3" y="1307.2" width="16.6" height="12.15" fill="#1b7b31"/><rect x="612.5" y="1307.2" width="16.6" height="12.15" fill="#1d7f2d"/><rect x="628.6" y="1307.2" width="16.6" height="12.15" fill="#1b7b31"/><rect x="644.8" y="1307.2" width="65.0" height="12.15" fill="#1a7735"/><rect x="709.4" y="1307.2" width="16.6" height="12.15" fill="#187339"/><rect x="725.6" y="1307.2" width="48.9" height="12.15" fill="#1a7735"/><rect x="774.1" y="1307.2" width="32.7" height="12.15" fill="#187339"/><rect x="806.4" y="1307.2" width="16.6" height="12.15" fill="#166f3d"/><rect x="822.6" y="1307.2" width="16.6" height="12.15" fill="#1a7735"/><rect x="838.7" y="1307.2" width="32.7" height="12.15" fill="#166f3d"/><rect x="871.0" y="1307.2" width="32.7" height="12.15" fill="#146b40"/><rect x="903.4" y="1307.2" width="32.7" height="12.15" fill="#116448"/><rect x="935.7" y="1307.2" width="16.6" height="12.15" fill="#136744"/><rect x="951.8" y="1307.2" width="32.7" height="12.15" fill="#0c5853"/><rect x="984.2" y="1307.2" width="16.6" height="12.15" fill="#0a5457"/><rect x="1000.3" y="1307.2" width="16.6" height="12.15" fill="#054863"/><rect x="1016.5" y="1307.2" width="16.6" height="12.15" fill="#02406a"/><rect x="1032.6" y="1307.2" width="16.6" height="12.15" fill="#003c6e"/><rect x="1048.8" y="1307.2" width="16.6" height="12.15" fill="#0a3b72"/><rect x="1065.0" y="1307.2" width="16.6" height="12.15" fill="#053c70"/><rect x="1081.1" y="1307.2" width="81.2" height="12.15" fill="#0f3b74"/><rect x="1161.9" y="1307.2" width="16.6" height="12.15" fill="#0a3b72"/><rect x="1178.1" y="1307.2" width="16.6" height="12.15" fill="#143a77"/><rect x="1194.2" y="1307.2" width="16.6" height="12.15" fill="#053c70"/><rect x="1210.4" y="1307.2" width="32.7" height="12.15" fill="#0a3b72"/><rect x="1242.7" y="1307.2" width="65.0" height="12.15" fill="#0f3b74"/><rect x="1307.4" y="1307.2" width="16.6" height="12.15" fill="#1a3a79"/><rect x="1323.5" y="1307.2" width="16.6" height="12.15" fill="#0f3b74"/><rect x="1339.7" y="1307.2" width="16.6" height="12.15" fill="#053c70"/><rect x="1355.8" y="1307.2" width="16.6" height="12.15" fill="#1a3a79"/><rect x="1372.0" y="1307.2" width="32.7" height="12.15" fill="#0f3b74"/><rect x="353.9" y="1319.0" width="16.6" height="12.15" fill="#187339"/><rect x="370.1" y="1319.0" width="16.6" height="12.15" fill="#1b7b31"/><rect x="386.2" y="1319.0" width="16.6" height="12.15" fill="#1a7735"/><rect x="402.4" y="1319.0" width="65.0" height="12.15" fill="#187339"/><rect x="467.0" y="1319.0" width="16.6" height="12.15" fill="#1b7b31"/><rect x="483.2" y="1319.0" width="16.6" height="12.15" fill="#187339"/><rect x="499.4" y="1319.0" width="16.6" height="12.15" fill="#166f3d"/><rect x="515.5" y="1319.0" width="16.6" height="12.15" fill="#187339"/><rect x="531.7" y="1319.0" width="32.7" height="12.15" fill="#1a7735"/><rect x="564.0" y="1319.0" width="32.7" height="12.15" fill="#187339"/><rect x="596.3" y="1319.0" width="16.6" height="12.15" fill="#1a7735"/><rect x="612.5" y="1319.0" width="32.7" height="12.15" fill="#187339"/><rect x="644.8" y="1319.0" width="16.6" height="12.15" fill="#1b7b31"/><rect x="661.0" y="1319.0" width="16.6" height="12.15" fill="#1a7735"/><rect x="677.1" y="1319.0" width="48.9" height="12.15" fill="#1b7b31"/><rect x="725.6" y="1319.0" width="16.6" height="12.15" fill="#1a7735"/><rect x="741.8" y="1319.0" width="16.6" height="12.15" fill="#1d7f2d"/><rect x="757.9" y="1319.0" width="16.6" height="12.15" fill="#1a7735"/><rect x="774.1" y="1319.0" width="48.9" height="12.15" fill="#187339"/><rect x="822.6" y="1319.0" width="32.7" height="12.15" fill="#146b40"/><rect x="854.9" y="1319.0" width="16.6" height="12.15" fill="#136744"/><rect x="871.0" y="1319.0" width="16.6" height="12.15" fill="#0f604c"/><rect x="887.2" y="1319.0" width="16.6" height="12.15" fill="#116448"/><rect x="903.4" y="1319.0" width="16.6" height="12.15" fill="#0f604c"/><rect x="919.5" y="1319.0" width="16.6" height="12.15" fill="#0e5c50"/><rect x="935.7" y="1319.0" width="32.7" height="12.15" fill="#0c5853"/><rect x="968.0" y="1319.0" width="16.6" height="12.15" fill="#0a5457"/><rect x="984.2" y="1319.0" width="16.6" height="12.15" fill="#074c5f"/><rect x="1000.3" y="1319.0" width="32.7" height="12.15" fill="#02406a"/><rect x="1032.6" y="1319.0" width="16.6" height="12.15" fill="#0a3b72"/><rect x="1048.8" y="1319.0" width="16.6" height="12.15" fill="#053c70"/><rect x="1065.0" y="1319.0" width="16.6" height="12.15" fill="#003c6e"/><rect x="1081.1" y="1319.0" width="32.7" height="12.15" fill="#0f3b74"/><rect x="1113.4" y="1319.0" width="16.6" height="12.15" fill="#0a3b72"/><rect x="1129.6" y="1319.0" width="48.9" height="12.15" fill="#0f3b74"/><rect x="1178.1" y="1319.0" width="16.6" height="12.15" fill="#0a3b72"/><rect x="1194.2" y="1319.0" width="16.6" height="12.15" fill="#1a3a79"/><rect x="1210.4" y="1319.0" width="81.2" height="12.15" fill="#143a77"/><rect x="1291.2" y="1319.0" width="16.6" height="12.15" fill="#0f3b74"/><rect x="1307.4" y="1319.0" width="16.6" height="12.15" fill="#143a77"/><rect x="1323.5" y="1319.0" width="32.7" height="12.15" fill="#0f3b74"/><rect x="1355.8" y="1319.0" width="32.7" height="12.15" fill="#143a77"/><rect x="353.9" y="1330.7" width="48.9" height="12.15" fill="#187339"/><rect x="402.4" y="1330.7" width="16.6" height="12.15" fill="#146b40"/><rect x="418.6" y="1330.7" width="16.6" height="12.15" fill="#1a7735"/><rect x="434.7" y="1330.7" width="65.0" height="12.15" fill="#187339"/><rect x="499.4" y="1330.7" width="16.6" height="12.15" fill="#1a7735"/><rect x="515.5" y="1330.7" width="32.7" height="12.15" fill="#166f3d"/><rect x="547.8" y="1330.7" width="65.0" height="12.15" fill="#187339"/><rect x="612.5" y="1330.7" width="16.6" height="12.15" fill="#1a7735"/><rect x="628.6" y="1330.7" width="16.6" height="12.15" fill="#1b7b31"/><rect x="644.8" y="1330.7" width="16.6" height="12.15" fill="#1d7f2d"/><rect x="661.0" y="1330.7" width="16.6" height="12.15" fill="#1a7735"/><rect x="677.1" y="1330.7" width="16.6" height="12.15" fill="#1d7f2d"/><rect x="693.3" y="1330.7" width="16.6" height="12.15" fill="#1b7b31"/><rect x="709.4" y="1330.7" width="16.6" height="12.15" fill="#187339"/><rect x="725.6" y="1330.7" width="16.6" height="12.15" fill="#1a7735"/><rect x="741.8" y="1330.7" width="16.6" height="12.15" fill="#166f3d"/><rect x="757.9" y="1330.7" width="32.7" height="12.15" fill="#146b40"/><rect x="790.2" y="1330.7" width="16.6" height="12.15" fill="#166f3d"/><rect x="806.4" y="1330.7" width="16.6" height="12.15" fill="#146b40"/><rect x="822.6" y="1330.7" width="32.7" height="12.15" fill="#136744"/><rect x="854.9" y="1330.7" width="16.6" height="12.15" fill="#0f604c"/><rect x="871.0" y="1330.7" width="16.6" height="12.15" fill="#116448"/><rect x="887.2" y="1330.7" width="48.9" height="12.15" fill="#0e5c50"/><rect x="935.7" y="1330.7" width="16.6" height="12.15" fill="#0c5853"/><rect x="951.8" y="1330.7" width="16.6" height="12.15" fill="#0a5457"/><rect x="968.0" y="1330.7" width="16.6" height="12.15" fill="#08505b"/><rect x="984.2" y="1330.7" width="16.6" height="12.15" fill="#074c5f"/><rect x="1000.3" y="1330.7" width="16.6" height="12.15" fill="#054863"/><rect x="1016.5" y="1330.7" width="16.6" height="12.15" fill="#02406a"/><rect x="1032.6" y="1330.7" width="16.6" height="12.15" fill="#053c70"/><rect x="1048.8" y="1330.7" width="48.9" height="12.15" fill="#0a3b72"/><rect x="1097.3" y="1330.7" width="16.6" height="12.15" fill="#143a77"/><rect x="1113.4" y="1330.7" width="16.6" height="12.15" fill="#0a3b72"/><rect x="1129.6" y="1330.7" width="16.6" height="12.15" fill="#0f3b74"/><rect x="1145.8" y="1330.7" width="16.6" height="12.15" fill="#143a77"/><rect x="1161.9" y="1330.7" width="16.6" height="12.15" fill="#0f3b74"/><rect x="1178.1" y="1330.7" width="16.6" height="12.15" fill="#0a3b72"/><rect x="1194.2" y="1330.7" width="16.6" height="12.15" fill="#0f3b74"/><rect x="1210.4" y="1330.7" width="16.6" height="12.15" fill="#0a3b72"/><rect x="1226.6" y="1330.7" width="16.6" height="12.15" fill="#0f3b74"/><rect x="1242.7" y="1330.7" width="32.7" height="12.15" fill="#0a3b72"/><rect x="1275.0" y="1330.7" width="16.6" height="12.15" fill="#143a77"/><rect x="1291.2" y="1330.7" width="16.6" height="12.15" fill="#0a3b72"/><rect x="1307.4" y="1330.7" width="32.7" height="12.15" fill="#143a77"/><rect x="1339.7" y="1330.7" width="16.6" height="12.15" fill="#1a3a79"/><rect x="1355.8" y="1330.7" width="16.6" height="12.15" fill="#143a77"/><rect x="1372.0" y="1330.7" width="16.6" height="12.15" fill="#0f3b74"/><rect x="1404.3" y="1330.7" width="16.6" height="12.15" fill="#0f3b74"/><rect x="1420.5" y="1330.7" width="16.6" height="12.15" fill="#143a77"/><rect x="353.9" y="1342.5" width="65.0" height="12.15" fill="#1a7735"/><rect x="418.6" y="1342.5" width="65.0" height="12.15" fill="#187339"/><rect x="483.2" y="1342.5" width="16.6" height="12.15" fill="#1b7b31"/><rect x="499.4" y="1342.5" width="16.6" height="12.15" fill="#187339"/><rect x="515.5" y="1342.5" width="16.6" height="12.15" fill="#1b7b31"/><rect x="531.7" y="1342.5" width="16.6" height="12.15" fill="#187339"/><rect x="547.8" y="1342.5" width="16.6" height="12.15" fill="#166f3d"/><rect x="564.0" y="1342.5" width="16.6" height="12.15" fill="#1a7735"/><rect x="580.2" y="1342.5" width="16.6" height="12.15" fill="#1b7b31"/><rect x="596.3" y="1342.5" width="16.6" height="12.15" fill="#1a7735"/><rect x="612.5" y="1342.5" width="16.6" height="12.15" fill="#187339"/><rect x="628.6" y="1342.5" width="16.6" height="12.15" fill="#1b7b31"/><rect x="644.8" y="1342.5" width="16.6" height="12.15" fill="#1d7f2d"/><rect x="661.0" y="1342.5" width="16.6" height="12.15" fill="#1a7735"/><rect x="677.1" y="1342.5" width="16.6" height="12.15" fill="#187339"/><rect x="693.3" y="1342.5" width="16.6" height="12.15" fill="#1b7b31"/><rect x="709.4" y="1342.5" width="16.6" height="12.15" fill="#1a7735"/><rect x="725.6" y="1342.5" width="97.4" height="12.15" fill="#166f3d"/><rect x="822.6" y="1342.5" width="16.6" height="12.15" fill="#146b40"/><rect x="838.7" y="1342.5" width="16.6" height="12.15" fill="#0f604c"/><rect x="854.9" y="1342.5" width="32.7" height="12.15" fill="#116448"/><rect x="887.2" y="1342.5" width="32.7" height="12.15" fill="#0f604c"/><rect x="919.5" y="1342.5" width="16.6" height="12.15" fill="#0c5853"/><rect x="935.7" y="1342.5" width="16.6" height="12.15" fill="#0a5457"/><rect x="951.8" y="1342.5" width="16.6" height="12.15" fill="#0c5853"/><rect x="968.0" y="1342.5" width="16.6" height="12.15" fill="#074c5f"/><rect x="984.2" y="1342.5" width="16.6" height="12.15" fill="#034466"/><rect x="1000.3" y="1342.5" width="16.6" height="12.15" fill="#054863"/><rect x="1016.5" y="1342.5" width="32.7" height="12.15" fill="#003c6e"/><rect x="1048.8" y="1342.5" width="32.7" height="12.15" fill="#0a3b72"/><rect x="1081.1" y="1342.5" width="32.7" height="12.15" fill="#0f3b74"/><rect x="1113.4" y="1342.5" width="16.6" height="12.15" fill="#0a3b72"/><rect x="1129.6" y="1342.5" width="16.6" height="12.15" fill="#1a3a79"/><rect x="1145.8" y="1342.5" width="16.6" height="12.15" fill="#0a3b72"/><rect x="1161.9" y="1342.5" width="32.7" height="12.15" fill="#143a77"/><rect x="1194.2" y="1342.5" width="32.7" height="12.15" fill="#0f3b74"/><rect x="1226.6" y="1342.5" width="16.6" height="12.15" fill="#1a3a79"/><rect x="1242.7" y="1342.5" width="16.6" height="12.15" fill="#0a3b72"/><rect x="1258.9" y="1342.5" width="16.6" height="12.15" fill="#1a3a79"/><rect x="1275.0" y="1342.5" width="32.7" height="12.15" fill="#143a77"/><rect x="1307.4" y="1342.5" width="16.6" height="12.15" fill="#0f3b74"/><rect x="1323.5" y="1342.5" width="16.6" height="12.15" fill="#143a77"/><rect x="1339.7" y="1342.5" width="16.6" height="12.15" fill="#0f3b74"/><rect x="1355.8" y="1342.5" width="16.6" height="12.15" fill="#1a3a79"/><rect x="1372.0" y="1342.5" width="16.6" height="12.15" fill="#0f3b74"/><rect x="1388.2" y="1342.5" width="16.6" height="12.15" fill="#1a3a79"/><rect x="1404.3" y="1342.5" width="16.6" height="12.15" fill="#143a77"/><rect x="1420.5" y="1342.5" width="16.6" height="12.15" fill="#0a3b72"/><rect x="1436.6" y="1342.5" width="16.6" height="12.15" fill="#143a77"/><rect x="353.9" y="1354.2" width="16.6" height="12.15" fill="#166f3d"/><rect x="370.1" y="1354.2" width="16.6" height="12.15" fill="#187339"/><rect x="386.2" y="1354.2" width="16.6" height="12.15" fill="#166f3d"/><rect x="402.4" y="1354.2" width="16.6" height="12.15" fill="#187339"/><rect x="418.6" y="1354.2" width="32.7" height="12.15" fill="#1a7735"/><rect x="450.9" y="1354.2" width="16.6" height="12.15" fill="#1b7b31"/><rect x="467.0" y="1354.2" width="16.6" height="12.15" fill="#1a7735"/><rect x="483.2" y="1354.2" width="16.6" height="12.15" fill="#187339"/><rect x="499.4" y="1354.2" width="16.6" height="12.15" fill="#1b7b31"/><rect x="515.5" y="1354.2" width="32.7" height="12.15" fill="#1a7735"/><rect x="547.8" y="1354.2" width="16.6" height="12.15" fill="#187339"/><rect x="564.0" y="1354.2" width="48.9" height="12.15" fill="#1a7735"/><rect x="612.5" y="1354.2" width="48.9" height="12.15" fill="#1b7b31"/><rect x="661.0" y="1354.2" width="16.6" height="12.15" fill="#1a7735"/><rect x="677.1" y="1354.2" width="16.6" height="12.15" fill="#1b7b31"/><rect x="693.3" y="1354.2" width="16.6" height="12.15" fill="#187339"/><rect x="709.4" y="1354.2" width="16.6" height="12.15" fill="#1b7b31"/><rect x="725.6" y="1354.2" width="32.7" height="12.15" fill="#187339"/><rect x="757.9" y="1354.2" width="16.6" height="12.15" fill="#166f3d"/><rect x="774.1" y="1354.2" width="16.6" height="12.15" fill="#146b40"/><rect x="790.2" y="1354.2" width="16.6" height="12.15" fill="#187339"/><rect x="806.4" y="1354.2" width="16.6" height="12.15" fill="#136744"/><rect x="822.6" y="1354.2" width="48.9" height="12.15" fill="#0f604c"/><rect x="871.0" y="1354.2" width="16.6" height="12.15" fill="#116448"/><rect x="887.2" y="1354.2" width="32.7" height="12.15" fill="#0e5c50"/><rect x="919.5" y="1354.2" width="16.6" height="12.15" fill="#0a5457"/><rect x="935.7" y="1354.2" width="48.9" height="12.15" fill="#0c5853"/><rect x="984.2" y="1354.2" width="32.7" height="12.15" fill="#054863"/><rect x="1016.5" y="1354.2" width="16.6" height="12.15" fill="#02406a"/><rect x="1032.6" y="1354.2" width="48.9" height="12.15" fill="#053c70"/><rect x="1081.1" y="1354.2" width="16.6" height="12.15" fill="#143a77"/><rect x="1097.3" y="1354.2" width="32.7" height="12.15" fill="#0a3b72"/><rect x="1129.6" y="1354.2" width="16.6" height="12.15" fill="#0f3b74"/><rect x="1145.8" y="1354.2" width="16.6" height="12.15" fill="#143a77"/><rect x="1161.9" y="1354.2" width="16.6" height="12.15" fill="#0a3b72"/><rect x="1178.1" y="1354.2" width="32.7" height="12.15" fill="#0f3b74"/><rect x="1210.4" y="1354.2" width="16.6" height="12.15" fill="#0a3b72"/><rect x="1226.6" y="1354.2" width="16.6" height="12.15" fill="#143a77"/><rect x="1242.7" y="1354.2" width="16.6" height="12.15" fill="#0f3b74"/><rect x="1258.9" y="1354.2" width="65.0" height="12.15" fill="#143a77"/><rect x="1323.5" y="1354.2" width="16.6" height="12.15" fill="#0f3b74"/><rect x="1339.7" y="1354.2" width="65.0" height="12.15" fill="#143a77"/><rect x="1404.3" y="1354.2" width="32.7" height="12.15" fill="#1a3a79"/><rect x="1436.6" y="1354.2" width="16.6" height="12.15" fill="#143a77"/><rect x="353.9" y="1366.0" width="16.6" height="12.15" fill="#187339"/><rect x="370.1" y="1366.0" width="16.6" height="12.15" fill="#166f3d"/><rect x="386.2" y="1366.0" width="97.4" height="12.15" fill="#187339"/><rect x="483.2" y="1366.0" width="16.6" height="12.15" fill="#1a7735"/><rect x="499.4" y="1366.0" width="16.6" height="12.15" fill="#1b7b31"/><rect x="515.5" y="1366.0" width="16.6" height="12.15" fill="#146b40"/><rect x="531.7" y="1366.0" width="16.6" height="12.15" fill="#187339"/><rect x="547.8" y="1366.0" width="16.6" height="12.15" fill="#166f3d"/><rect x="564.0" y="1366.0" width="16.6" height="12.15" fill="#187339"/><rect x="580.2" y="1366.0" width="16.6" height="12.15" fill="#166f3d"/><rect x="596.3" y="1366.0" width="16.6" height="12.15" fill="#187339"/><rect x="612.5" y="1366.0" width="16.6" height="12.15" fill="#166f3d"/><rect x="628.6" y="1366.0" width="16.6" height="12.15" fill="#1a7735"/><rect x="644.8" y="1366.0" width="48.9" height="12.15" fill="#187339"/><rect x="693.3" y="1366.0" width="16.6" height="12.15" fill="#166f3d"/><rect x="709.4" y="1366.0" width="16.6" height="12.15" fill="#146b40"/><rect x="725.6" y="1366.0" width="32.7" height="12.15" fill="#166f3d"/><rect x="757.9" y="1366.0" width="48.9" height="12.15" fill="#146b40"/><rect x="806.4" y="1366.0" width="16.6" height="12.15" fill="#116448"/><rect x="822.6" y="1366.0" width="16.6" height="12.15" fill="#0f604c"/><rect x="838.7" y="1366.0" width="16.6" height="12.15" fill="#136744"/><rect x="854.9" y="1366.0" width="16.6" height="12.15" fill="#116448"/><rect x="871.0" y="1366.0" width="48.9" height="12.15" fill="#0c5853"/><rect x="919.5" y="1366.0" width="16.6" height="12.15" fill="#0a5457"/><rect x="935.7" y="1366.0" width="16.6" height="12.15" fill="#08505b"/><rect x="951.8" y="1366.0" width="16.6" height="12.15" fill="#0a5457"/><rect x="968.0" y="1366.0" width="16.6" height="12.15" fill="#054863"/><rect x="984.2" y="1366.0" width="16.6" height="12.15" fill="#034466"/><rect x="1000.3" y="1366.0" width="16.6" height="12.15" fill="#054863"/><rect x="1016.5" y="1366.0" width="48.9" height="12.15" fill="#003c6e"/><rect x="1065.0" y="1366.0" width="16.6" height="12.15" fill="#053c70"/><rect x="1081.1" y="1366.0" width="16.6" height="12.15" fill="#0a3b72"/><rect x="1097.3" y="1366.0" width="16.6" height="12.15" fill="#0f3b74"/><rect x="1113.4" y="1366.0" width="16.6" height="12.15" fill="#143a77"/><rect x="1129.6" y="1366.0" width="16.6" height="12.15" fill="#0a3b72"/><rect x="1145.8" y="1366.0" width="16.6" height="12.15" fill="#0f3b74"/><rect x="1161.9" y="1366.0" width="16.6" height="12.15" fill="#1a3a79"/><rect x="1178.1" y="1366.0" width="16.6" height="12.15" fill="#143a77"/><rect x="1194.2" y="1366.0" width="16.6" height="12.15" fill="#0f3b74"/><rect x="1210.4" y="1366.0" width="16.6" height="12.15" fill="#143a77"/><rect x="1226.6" y="1366.0" width="32.7" height="12.15" fill="#0f3b74"/><rect x="1258.9" y="1366.0" width="32.7" height="12.15" fill="#1a3a79"/><rect x="1291.2" y="1366.0" width="16.6" height="12.15" fill="#1f397b"/><rect x="1307.4" y="1366.0" width="16.6" height="12.15" fill="#143a77"/><rect x="1323.5" y="1366.0" width="16.6" height="12.15" fill="#1a3a79"/><rect x="1339.7" y="1366.0" width="16.6" height="12.15" fill="#0a3b72"/><rect x="1355.8" y="1366.0" width="16.6" height="12.15" fill="#1a3a79"/><rect x="1372.0" y="1366.0" width="16.6" height="12.15" fill="#24397d"/><rect x="1388.2" y="1366.0" width="32.7" height="12.15" fill="#1a3a79"/><rect x="1420.5" y="1366.0" width="16.6" height="12.15" fill="#1f397b"/><rect x="353.9" y="1377.7" width="16.6" height="12.15" fill="#1a7735"/><rect x="370.1" y="1377.7" width="16.6" height="12.15" fill="#166f3d"/><rect x="386.2" y="1377.7" width="48.9" height="12.15" fill="#187339"/><rect x="434.7" y="1377.7" width="16.6" height="12.15" fill="#166f3d"/><rect x="450.9" y="1377.7" width="32.7" height="12.15" fill="#1a7735"/><rect x="483.2" y="1377.7" width="32.7" height="12.15" fill="#166f3d"/><rect x="515.5" y="1377.7" width="16.6" height="12.15" fill="#187339"/><rect x="531.7" y="1377.7" width="16.6" height="12.15" fill="#166f3d"/><rect x="547.8" y="1377.7" width="16.6" height="12.15" fill="#136744"/><rect x="564.0" y="1377.7" width="16.6" height="12.15" fill="#187339"/><rect x="580.2" y="1377.7" width="32.7" height="12.15" fill="#166f3d"/><rect x="612.5" y="1377.7" width="16.6" height="12.15" fill="#1a7735"/><rect x="628.6" y="1377.7" width="16.6" height="12.15" fill="#187339"/><rect x="644.8" y="1377.7" width="32.7" height="12.15" fill="#166f3d"/><rect x="677.1" y="1377.7" width="32.7" height="12.15" fill="#146b40"/><rect x="709.4" y="1377.7" width="16.6" height="12.15" fill="#166f3d"/><rect x="725.6" y="1377.7" width="16.6" height="12.15" fill="#146b40"/><rect x="741.8" y="1377.7" width="16.6" height="12.15" fill="#136744"/><rect x="757.9" y="1377.7" width="16.6" height="12.15" fill="#166f3d"/><rect x="774.1" y="1377.7" width="16.6" height="12.15" fill="#146b40"/><rect x="790.2" y="1377.7" width="16.6" height="12.15" fill="#136744"/><rect x="806.4" y="1377.7" width="48.9" height="12.15" fill="#116448"/><rect x="854.9" y="1377.7" width="16.6" height="12.15" fill="#0e5c50"/><rect x="871.0" y="1377.7" width="16.6" height="12.15" fill="#0f604c"/><rect x="887.2" y="1377.7" width="32.7" height="12.15" fill="#0a5457"/><rect x="919.5" y="1377.7" width="32.7" height="12.15" fill="#08505b"/><rect x="951.8" y="1377.7" width="16.6" height="12.15" fill="#0a5457"/><rect x="968.0" y="1377.7" width="16.6" height="12.15" fill="#08505b"/><rect x="984.2" y="1377.7" width="32.7" height="12.15" fill="#034466"/><rect x="1016.5" y="1377.7" width="16.6" height="12.15" fill="#003c6e"/><rect x="1032.6" y="1377.7" width="16.6" height="12.15" fill="#053c70"/><rect x="1048.8" y="1377.7" width="32.7" height="12.15" fill="#0a3b72"/><rect x="1081.1" y="1377.7" width="16.6" height="12.15" fill="#143a77"/><rect x="1097.3" y="1377.7" width="16.6" height="12.15" fill="#0f3b74"/><rect x="1113.4" y="1377.7" width="32.7" height="12.15" fill="#143a77"/><rect x="1145.8" y="1377.7" width="32.7" height="12.15" fill="#1a3a79"/><rect x="1178.1" y="1377.7" width="16.6" height="12.15" fill="#0f3b74"/><rect x="1194.2" y="1377.7" width="16.6" height="12.15" fill="#1f397b"/><rect x="1210.4" y="1377.7" width="16.6" height="12.15" fill="#0f3b74"/><rect x="1226.6" y="1377.7" width="16.6" height="12.15" fill="#143a77"/><rect x="1242.7" y="1377.7" width="16.6" height="12.15" fill="#1a3a79"/><rect x="1258.9" y="1377.7" width="16.6" height="12.15" fill="#1f397b"/><rect x="1275.0" y="1377.7" width="32.7" height="12.15" fill="#143a77"/><rect x="1307.4" y="1377.7" width="16.6" height="12.15" fill="#1f397b"/><rect x="1323.5" y="1377.7" width="16.6" height="12.15" fill="#1a3a79"/><rect x="1339.7" y="1377.7" width="16.6" height="12.15" fill="#143a77"/><rect x="1355.8" y="1377.7" width="16.6" height="12.15" fill="#1a3a79"/><rect x="1372.0" y="1377.7" width="16.6" height="12.15" fill="#0f3b74"/><rect x="1388.2" y="1377.7" width="16.6" height="12.15" fill="#1f397b"/><rect x="1404.3" y="1377.7" width="16.6" height="12.15" fill="#1a3a79"/><rect x="1420.5" y="1377.7" width="16.6" height="12.15" fill="#1f397b"/><rect x="353.9" y="1389.5" width="16.6" height="12.15" fill="#1a7735"/><rect x="370.1" y="1389.5" width="16.6" height="12.15" fill="#187339"/><rect x="386.2" y="1389.5" width="16.6" height="12.15" fill="#1a7735"/><rect x="402.4" y="1389.5" width="16.6" height="12.15" fill="#166f3d"/><rect x="418.6" y="1389.5" width="16.6" height="12.15" fill="#187339"/><rect x="434.7" y="1389.5" width="16.6" height="12.15" fill="#166f3d"/><rect x="450.9" y="1389.5" width="16.6" height="12.15" fill="#1a7735"/><rect x="467.0" y="1389.5" width="16.6" height="12.15" fill="#187339"/><rect x="483.2" y="1389.5" width="16.6" height="12.15" fill="#166f3d"/><rect x="499.4" y="1389.5" width="32.7" height="12.15" fill="#187339"/><rect x="531.7" y="1389.5" width="16.6" height="12.15" fill="#116448"/><rect x="547.8" y="1389.5" width="16.6" height="12.15" fill="#146b40"/><rect x="564.0" y="1389.5" width="16.6" height="12.15" fill="#136744"/><rect x="580.2" y="1389.5" width="16.6" height="12.15" fill="#166f3d"/><rect x="596.3" y="1389.5" width="16.6" height="12.15" fill="#1a7735"/><rect x="612.5" y="1389.5" width="16.6" height="12.15" fill="#146b40"/><rect x="628.6" y="1389.5" width="16.6" height="12.15" fill="#166f3d"/><rect x="644.8" y="1389.5" width="16.6" height="12.15" fill="#146b40"/><rect x="661.0" y="1389.5" width="48.9" height="12.15" fill="#166f3d"/><rect x="709.4" y="1389.5" width="16.6" height="12.15" fill="#136744"/><rect x="725.6" y="1389.5" width="16.6" height="12.15" fill="#166f3d"/><rect x="741.8" y="1389.5" width="16.6" height="12.15" fill="#116448"/><rect x="757.9" y="1389.5" width="32.7" height="12.15" fill="#136744"/><rect x="790.2" y="1389.5" width="16.6" height="12.15" fill="#116448"/><rect x="806.4" y="1389.5" width="48.9" height="12.15" fill="#0e5c50"/><rect x="854.9" y="1389.5" width="16.6" height="12.15" fill="#0c5853"/><rect x="871.0" y="1389.5" width="16.6" height="12.15" fill="#0e5c50"/><rect x="887.2" y="1389.5" width="16.6" height="12.15" fill="#08505b"/><rect x="903.4" y="1389.5" width="48.9" height="12.15" fill="#0a5457"/><rect x="951.8" y="1389.5" width="32.7" height="12.15" fill="#08505b"/><rect x="984.2" y="1389.5" width="16.6" height="12.15" fill="#054863"/><rect x="1000.3" y="1389.5" width="16.6" height="12.15" fill="#034466"/><rect x="1016.5" y="1389.5" width="32.7" height="12.15" fill="#02406a"/><rect x="1048.8" y="1389.5" width="16.6" height="12.15" fill="#0f3b74"/><rect x="1065.0" y="1389.5" width="16.6" height="12.15" fill="#053c70"/><rect x="1081.1" y="1389.5" width="16.6" height="12.15" fill="#0f3b74"/><rect x="1097.3" y="1389.5" width="16.6" height="12.15" fill="#143a77"/><rect x="1113.4" y="1389.5" width="16.6" height="12.15" fill="#1a3a79"/><rect x="1129.6" y="1389.5" width="16.6" height="12.15" fill="#1f397b"/><rect x="1145.8" y="1389.5" width="32.7" height="12.15" fill="#1a3a79"/><rect x="1178.1" y="1389.5" width="16.6" height="12.15" fill="#143a77"/><rect x="1194.2" y="1389.5" width="16.6" height="12.15" fill="#1f397b"/><rect x="1210.4" y="1389.5" width="16.6" height="12.15" fill="#143a77"/><rect x="1226.6" y="1389.5" width="16.6" height="12.15" fill="#1a3a79"/><rect x="1242.7" y="1389.5" width="48.9" height="12.15" fill="#1f397b"/><rect x="1291.2" y="1389.5" width="16.6" height="12.15" fill="#24397d"/><rect x="1307.4" y="1389.5" width="48.9" height="12.15" fill="#1f397b"/><rect x="1355.8" y="1389.5" width="16.6" height="12.15" fill="#24397d"/><rect x="1372.0" y="1389.5" width="16.6" height="12.15" fill="#1f397b"/><rect x="1388.2" y="1389.5" width="16.6" height="12.15" fill="#24397d"/><rect x="1404.3" y="1389.5" width="16.6" height="12.15" fill="#1f397b"/><rect x="1420.5" y="1389.5" width="16.6" height="12.15" fill="#143a77"/><rect x="353.9" y="1401.2" width="32.7" height="12.15" fill="#187339"/><rect x="386.2" y="1401.2" width="16.6" height="12.15" fill="#166f3d"/><rect x="402.4" y="1401.2" width="16.6" height="12.15" fill="#1b7b31"/><rect x="418.6" y="1401.2" width="16.6" height="12.15" fill="#146b40"/><rect x="434.7" y="1401.2" width="32.7" height="12.15" fill="#187339"/><rect x="467.0" y="1401.2" width="32.7" height="12.15" fill="#166f3d"/><rect x="499.4" y="1401.2" width="16.6" height="12.15" fill="#187339"/><rect x="515.5" y="1401.2" width="48.9" height="12.15" fill="#166f3d"/><rect x="564.0" y="1401.2" width="16.6" height="12.15" fill="#116448"/><rect x="580.2" y="1401.2" width="16.6" height="12.15" fill="#166f3d"/><rect x="596.3" y="1401.2" width="16.6" height="12.15" fill="#187339"/><rect x="612.5" y="1401.2" width="32.7" height="12.15" fill="#146b40"/><rect x="644.8" y="1401.2" width="16.6" height="12.15" fill="#116448"/><rect x="661.0" y="1401.2" width="16.6" height="12.15" fill="#136744"/><rect x="677.1" y="1401.2" width="32.7" height="12.15" fill="#116448"/><rect x="709.4" y="1401.2" width="16.6" height="12.15" fill="#146b40"/><rect x="725.6" y="1401.2" width="32.7" height="12.15" fill="#116448"/><rect x="757.9" y="1401.2" width="16.6" height="12.15" fill="#0e5c50"/><rect x="774.1" y="1401.2" width="32.7" height="12.15" fill="#0f604c"/><rect x="806.4" y="1401.2" width="16.6" height="12.15" fill="#0e5c50"/><rect x="822.6" y="1401.2" width="16.6" height="12.15" fill="#0c5853"/><rect x="838.7" y="1401.2" width="16.6" height="12.15" fill="#0f604c"/><rect x="854.9" y="1401.2" width="32.7" height="12.15" fill="#0a5457"/><rect x="887.2" y="1401.2" width="16.6" height="12.15" fill="#08505b"/><rect x="903.4" y="1401.2" width="32.7" height="12.15" fill="#0c5853"/><rect x="935.7" y="1401.2" width="16.6" height="12.15" fill="#08505b"/><rect x="951.8" y="1401.2" width="48.9" height="12.15" fill="#054863"/><rect x="1000.3" y="1401.2" width="16.6" height="12.15" fill="#003c6e"/><rect x="1016.5" y="1401.2" width="16.6" height="12.15" fill="#034466"/><rect x="1032.6" y="1401.2" width="16.6" height="12.15" fill="#02406a"/><rect x="1048.8" y="1401.2" width="16.6" height="12.15" fill="#053c70"/><rect x="1065.0" y="1401.2" width="48.9" height="12.15" fill="#0a3b72"/><rect x="1113.4" y="1401.2" width="16.6" height="12.15" fill="#1a3a79"/><rect x="1129.6" y="1401.2" width="16.6" height="12.15" fill="#0f3b74"/><rect x="1145.8" y="1401.2" width="16.6" height="12.15" fill="#1a3a79"/><rect x="1161.9" y="1401.2" width="16.6" height="12.15" fill="#1f397b"/><rect x="1178.1" y="1401.2" width="32.7" height="12.15" fill="#1a3a79"/><rect x="1210.4" y="1401.2" width="16.6" height="12.15" fill="#1f397b"/><rect x="1226.6" y="1401.2" width="32.7" height="12.15" fill="#24397d"/><rect x="1258.9" y="1401.2" width="16.6" height="12.15" fill="#1a3a79"/><rect x="1275.0" y="1401.2" width="16.6" height="12.15" fill="#143a77"/><rect x="1291.2" y="1401.2" width="16.6" height="12.15" fill="#1f397b"/><rect x="1307.4" y="1401.2" width="16.6" height="12.15" fill="#1a3a79"/><rect x="1323.5" y="1401.2" width="16.6" height="12.15" fill="#24397d"/><rect x="1339.7" y="1401.2" width="32.7" height="12.15" fill="#1f397b"/><rect x="1372.0" y="1401.2" width="32.7" height="12.15" fill="#24397d"/><rect x="1404.3" y="1401.2" width="16.6" height="12.15" fill="#1f397b"/><rect x="1420.5" y="1401.2" width="32.7" height="12.15" fill="#24397d"/><rect x="353.9" y="1413.0" width="16.6" height="12.15" fill="#1a7735"/><rect x="370.1" y="1413.0" width="16.6" height="12.15" fill="#166f3d"/><rect x="386.2" y="1413.0" width="16.6" height="12.15" fill="#1a7735"/><rect x="402.4" y="1413.0" width="16.6" height="12.15" fill="#187339"/><rect x="418.6" y="1413.0" width="97.4" height="12.15" fill="#166f3d"/><rect x="515.5" y="1413.0" width="16.6" height="12.15" fill="#146b40"/><rect x="531.7" y="1413.0" width="16.6" height="12.15" fill="#0f604c"/><rect x="547.8" y="1413.0" width="16.6" height="12.15" fill="#146b40"/><rect x="564.0" y="1413.0" width="16.6" height="12.15" fill="#116448"/><rect x="580.2" y="1413.0" width="16.6" height="12.15" fill="#136744"/><rect x="596.3" y="1413.0" width="16.6" height="12.15" fill="#146b40"/><rect x="612.5" y="1413.0" width="16.6" height="12.15" fill="#136744"/><rect x="628.6" y="1413.0" width="81.2" height="12.15" fill="#116448"/><rect x="709.4" y="1413.0" width="16.6" height="12.15" fill="#0f604c"/><rect x="725.6" y="1413.0" width="16.6" height="12.15" fill="#136744"/><rect x="741.8" y="1413.0" width="16.6" height="12.15" fill="#0f604c"/><rect x="757.9" y="1413.0" width="16.6" height="12.15" fill="#116448"/><rect x="774.1" y="1413.0" width="16.6" height="12.15" fill="#0f604c"/><rect x="790.2" y="1413.0" width="65.0" height="12.15" fill="#0e5c50"/><rect x="854.9" y="1413.0" width="16.6" height="12.15" fill="#0c5853"/><rect x="871.0" y="1413.0" width="32.7" height="12.15" fill="#08505b"/><rect x="903.4" y="1413.0" width="16.6" height="12.15" fill="#0a5457"/><rect x="919.5" y="1413.0" width="32.7" height="12.15" fill="#074c5f"/><rect x="951.8" y="1413.0" width="16.6" height="12.15" fill="#08505b"/><rect x="968.0" y="1413.0" width="16.6" height="12.15" fill="#074c5f"/><rect x="984.2" y="1413.0" width="16.6" height="12.15" fill="#034466"/><rect x="1000.3" y="1413.0" width="16.6" height="12.15" fill="#02406a"/><rect x="1016.5" y="1413.0" width="16.6" height="12.15" fill="#034466"/><rect x="1032.6" y="1413.0" width="16.6" height="12.15" fill="#003c6e"/><rect x="1048.8" y="1413.0" width="16.6" height="12.15" fill="#053c70"/><rect x="1065.0" y="1413.0" width="16.6" height="12.15" fill="#0a3b72"/><rect x="1081.1" y="1413.0" width="16.6" height="12.15" fill="#143a77"/><rect x="1097.3" y="1413.0" width="16.6" height="12.15" fill="#1a3a79"/><rect x="1113.4" y="1413.0" width="16.6" height="12.15" fill="#143a77"/><rect x="1129.6" y="1413.0" width="32.7" height="12.15" fill="#1a3a79"/><rect x="1161.9" y="1413.0" width="16.6" height="12.15" fill="#1f397b"/><rect x="1178.1" y="1413.0" width="16.6" height="12.15" fill="#24397d"/><rect x="1194.2" y="1413.0" width="16.6" height="12.15" fill="#1f397b"/><rect x="1210.4" y="1413.0" width="16.6" height="12.15" fill="#24397d"/><rect x="1226.6" y="1413.0" width="32.7" height="12.15" fill="#1a3a79"/><rect x="1258.9" y="1413.0" width="16.6" height="12.15" fill="#143a77"/><rect x="1275.0" y="1413.0" width="16.6" height="12.15" fill="#1f397b"/><rect x="1291.2" y="1413.0" width="32.7" height="12.15" fill="#24397d"/><rect x="1323.5" y="1413.0" width="16.6" height="12.15" fill="#333884"/><rect x="1339.7" y="1413.0" width="32.7" height="12.15" fill="#24397d"/><rect x="1372.0" y="1413.0" width="48.9" height="12.15" fill="#1f397b"/><rect x="1420.5" y="1413.0" width="16.6" height="12.15" fill="#24397d"/><rect x="1436.6" y="1413.0" width="32.7" height="12.15" fill="#1f397b"/><rect x="1469.0" y="1413.0" width="16.6" height="12.15" fill="#29387f"/><rect x="1759.8" y="1413.0" width="16.6" height="12.15" fill="#333884"/><rect x="1776.0" y="1413.0" width="16.6" height="12.15" fill="#383786"/><rect x="353.9" y="1424.8" width="16.6" height="12.15" fill="#1a7735"/><rect x="370.1" y="1424.8" width="16.6" height="12.15" fill="#166f3d"/><rect x="386.2" y="1424.8" width="16.6" height="12.15" fill="#1a7735"/><rect x="402.4" y="1424.8" width="16.6" height="12.15" fill="#187339"/><rect x="418.6" y="1424.8" width="48.9" height="12.15" fill="#146b40"/><rect x="467.0" y="1424.8" width="16.6" height="12.15" fill="#136744"/><rect x="483.2" y="1424.8" width="16.6" height="12.15" fill="#116448"/><rect x="499.4" y="1424.8" width="16.6" height="12.15" fill="#146b40"/><rect x="515.5" y="1424.8" width="32.7" height="12.15" fill="#136744"/><rect x="547.8" y="1424.8" width="32.7" height="12.15" fill="#116448"/><rect x="580.2" y="1424.8" width="32.7" height="12.15" fill="#0f604c"/><rect x="612.5" y="1424.8" width="16.6" height="12.15" fill="#116448"/><rect x="628.6" y="1424.8" width="16.6" height="12.15" fill="#0f604c"/><rect x="644.8" y="1424.8" width="32.7" height="12.15" fill="#0e5c50"/><rect x="677.1" y="1424.8" width="32.7" height="12.15" fill="#0f604c"/><rect x="709.4" y="1424.8" width="32.7" height="12.15" fill="#0e5c50"/><rect x="741.8" y="1424.8" width="16.6" height="12.15" fill="#0f604c"/><rect x="757.9" y="1424.8" width="16.6" height="12.15" fill="#116448"/><rect x="774.1" y="1424.8" width="16.6" height="12.15" fill="#0c5853"/><rect x="790.2" y="1424.8" width="32.7" height="12.15" fill="#0e5c50"/><rect x="822.6" y="1424.8" width="16.6" height="12.15" fill="#08505b"/><rect x="838.7" y="1424.8" width="16.6" height="12.15" fill="#0c5853"/><rect x="854.9" y="1424.8" width="16.6" height="12.15" fill="#08505b"/><rect x="871.0" y="1424.8" width="16.6" height="12.15" fill="#0c5853"/><rect x="887.2" y="1424.8" width="16.6" height="12.15" fill="#08505b"/><rect x="903.4" y="1424.8" width="48.9" height="12.15" fill="#074c5f"/><rect x="951.8" y="1424.8" width="32.7" height="12.15" fill="#054863"/><rect x="984.2" y="1424.8" width="65.0" height="12.15" fill="#02406a"/><rect x="1048.8" y="1424.8" width="16.6" height="12.15" fill="#053c70"/><rect x="1065.0" y="1424.8" width="32.7" height="12.15" fill="#0a3b72"/><rect x="1097.3" y="1424.8" width="16.6" height="12.15" fill="#0f3b74"/><rect x="1113.4" y="1424.8" width="32.7" height="12.15" fill="#143a77"/><rect x="1145.8" y="1424.8" width="81.2" height="12.15" fill="#1f397b"/><rect x="1226.6" y="1424.8" width="16.6" height="12.15" fill="#24397d"/><rect x="1242.7" y="1424.8" width="16.6" height="12.15" fill="#2e3881"/><rect x="1258.9" y="1424.8" width="16.6" height="12.15" fill="#24397d"/><rect x="1275.0" y="1424.8" width="16.6" height="12.15" fill="#2e3881"/><rect x="1291.2" y="1424.8" width="32.7" height="12.15" fill="#24397d"/><rect x="1323.5" y="1424.8" width="16.6" height="12.15" fill="#29387f"/><rect x="1339.7" y="1424.8" width="32.7" height="12.15" fill="#1f397b"/><rect x="1372.0" y="1424.8" width="16.6" height="12.15" fill="#24397d"/><rect x="1388.2" y="1424.8" width="32.7" height="12.15" fill="#1f397b"/><rect x="1420.5" y="1424.8" width="16.6" height="12.15" fill="#29387f"/><rect x="1436.6" y="1424.8" width="16.6" height="12.15" fill="#1f397b"/><rect x="1452.8" y="1424.8" width="48.9" height="12.15" fill="#24397d"/><rect x="1743.7" y="1424.8" width="16.6" height="12.15" fill="#333884"/><rect x="1759.8" y="1424.8" width="32.7" height="12.15" fill="#383786"/><rect x="353.9" y="1436.5" width="16.6" height="12.15" fill="#1a7735"/><rect x="370.1" y="1436.5" width="32.7" height="12.15" fill="#187339"/><rect x="402.4" y="1436.5" width="48.9" height="12.15" fill="#166f3d"/><rect x="450.9" y="1436.5" width="16.6" height="12.15" fill="#146b40"/><rect x="467.0" y="1436.5" width="32.7" height="12.15" fill="#116448"/><rect x="499.4" y="1436.5" width="16.6" height="12.15" fill="#0f604c"/><rect x="515.5" y="1436.5" width="16.6" height="12.15" fill="#116448"/><rect x="531.7" y="1436.5" width="16.6" height="12.15" fill="#0e5c50"/><rect x="547.8" y="1436.5" width="16.6" height="12.15" fill="#0a5457"/><rect x="564.0" y="1436.5" width="16.6" height="12.15" fill="#0e5c50"/><rect x="580.2" y="1436.5" width="16.6" height="12.15" fill="#0c5853"/><rect x="596.3" y="1436.5" width="48.9" height="12.15" fill="#0a5457"/><rect x="644.8" y="1436.5" width="16.6" height="12.15" fill="#0e5c50"/><rect x="661.0" y="1436.5" width="16.6" height="12.15" fill="#0c5853"/><rect x="677.1" y="1436.5" width="16.6" height="12.15" fill="#08505b"/><rect x="693.3" y="1436.5" width="16.6" height="12.15" fill="#0c5853"/><rect x="709.4" y="1436.5" width="16.6" height="12.15" fill="#0a5457"/><rect x="725.6" y="1436.5" width="16.6" height="12.15" fill="#0e5c50"/><rect x="741.8" y="1436.5" width="16.6" height="12.15" fill="#08505b"/><rect x="757.9" y="1436.5" width="16.6" height="12.15" fill="#074c5f"/><rect x="774.1" y="1436.5" width="16.6" height="12.15" fill="#0c5853"/><rect x="790.2" y="1436.5" width="32.7" height="12.15" fill="#0a5457"/><rect x="822.6" y="1436.5" width="16.6" height="12.15" fill="#074c5f"/><rect x="838.7" y="1436.5" width="16.6" height="12.15" fill="#0a5457"/><rect x="854.9" y="1436.5" width="16.6" height="12.15" fill="#0c5853"/><rect x="871.0" y="1436.5" width="16.6" height="12.15" fill="#074c5f"/><rect x="887.2" y="1436.5" width="16.6" height="12.15" fill="#0a5457"/><rect x="903.4" y="1436.5" width="16.6" height="12.15" fill="#08505b"/><rect x="919.5" y="1436.5" width="16.6" height="12.15" fill="#0c5853"/><rect x="935.7" y="1436.5" width="16.6" height="12.15" fill="#08505b"/><rect x="951.8" y="1436.5" width="32.7" height="12.15" fill="#074c5f"/><rect x="984.2" y="1436.5" width="16.6" height="12.15" fill="#054863"/><rect x="1000.3" y="1436.5" width="32.7" height="12.15" fill="#02406a"/><rect x="1032.6" y="1436.5" width="16.6" height="12.15" fill="#053c70"/><rect x="1048.8" y="1436.5" width="16.6" height="12.15" fill="#0f3b74"/><rect x="1065.0" y="1436.5" width="16.6" height="12.15" fill="#053c70"/><rect x="1081.1" y="1436.5" width="16.6" height="12.15" fill="#143a77"/><rect x="1097.3" y="1436.5" width="32.7" height="12.15" fill="#1a3a79"/><rect x="1129.6" y="1436.5" width="81.2" height="12.15" fill="#24397d"/><rect x="1210.4" y="1436.5" width="16.6" height="12.15" fill="#1f397b"/><rect x="1226.6" y="1436.5" width="16.6" height="12.15" fill="#29387f"/><rect x="1242.7" y="1436.5" width="32.7" height="12.15" fill="#24397d"/><rect x="1275.0" y="1436.5" width="16.6" height="12.15" fill="#29387f"/><rect x="1291.2" y="1436.5" width="16.6" height="12.15" fill="#24397d"/><rect x="1307.4" y="1436.5" width="16.6" height="12.15" fill="#29387f"/><rect x="1323.5" y="1436.5" width="16.6" height="12.15" fill="#1f397b"/><rect x="1339.7" y="1436.5" width="32.7" height="12.15" fill="#24397d"/><rect x="1372.0" y="1436.5" width="16.6" height="12.15" fill="#2e3881"/><rect x="1388.2" y="1436.5" width="16.6" height="12.15" fill="#24397d"/><rect x="1404.3" y="1436.5" width="16.6" height="12.15" fill="#29387f"/><rect x="1420.5" y="1436.5" width="16.6" height="12.15" fill="#24397d"/><rect x="1436.6" y="1436.5" width="16.6" height="12.15" fill="#29387f"/><rect x="1452.8" y="1436.5" width="16.6" height="12.15" fill="#2e3881"/><rect x="1469.0" y="1436.5" width="16.6" height="12.15" fill="#24397d"/><rect x="1485.1" y="1436.5" width="16.6" height="12.15" fill="#29387f"/><rect x="1630.6" y="1436.5" width="16.6" height="12.15" fill="#2e3881"/><rect x="1711.4" y="1436.5" width="16.6" height="12.15" fill="#383786"/><rect x="1727.5" y="1436.5" width="16.6" height="12.15" fill="#333884"/><rect x="1743.7" y="1436.5" width="16.6" height="12.15" fill="#383786"/><rect x="1759.8" y="1436.5" width="16.6" height="12.15" fill="#2e3881"/><rect x="1776.0" y="1436.5" width="16.6" height="12.15" fill="#383786"/><rect x="353.9" y="1448.3" width="16.6" height="12.15" fill="#187339"/><rect x="370.1" y="1448.3" width="16.6" height="12.15" fill="#136744"/><rect x="386.2" y="1448.3" width="16.6" height="12.15" fill="#1a7735"/><rect x="402.4" y="1448.3" width="16.6" height="12.15" fill="#187339"/><rect x="418.6" y="1448.3" width="16.6" height="12.15" fill="#166f3d"/><rect x="434.7" y="1448.3" width="32.7" height="12.15" fill="#136744"/><rect x="467.0" y="1448.3" width="32.7" height="12.15" fill="#0e5c50"/><rect x="499.4" y="1448.3" width="48.9" height="12.15" fill="#0a5457"/><rect x="547.8" y="1448.3" width="16.6" height="12.15" fill="#08505b"/><rect x="564.0" y="1448.3" width="16.6" height="12.15" fill="#074c5f"/><rect x="580.2" y="1448.3" width="16.6" height="12.15" fill="#08505b"/><rect x="596.3" y="1448.3" width="16.6" height="12.15" fill="#074c5f"/><rect x="612.5" y="1448.3" width="16.6" height="12.15" fill="#054863"/><rect x="628.6" y="1448.3" width="32.7" height="12.15" fill="#074c5f"/><rect x="661.0" y="1448.3" width="16.6" height="12.15" fill="#034466"/><rect x="677.1" y="1448.3" width="16.6" height="12.15" fill="#054863"/><rect x="693.3" y="1448.3" width="16.6" height="12.15" fill="#08505b"/><rect x="709.4" y="1448.3" width="16.6" height="12.15" fill="#054863"/><rect x="725.6" y="1448.3" width="16.6" height="12.15" fill="#074c5f"/><rect x="741.8" y="1448.3" width="32.7" height="12.15" fill="#08505b"/><rect x="774.1" y="1448.3" width="16.6" height="12.15" fill="#074c5f"/><rect x="790.2" y="1448.3" width="16.6" height="12.15" fill="#08505b"/><rect x="806.4" y="1448.3" width="32.7" height="12.15" fill="#0a5457"/><rect x="838.7" y="1448.3" width="32.7" height="12.15" fill="#08505b"/><rect x="871.0" y="1448.3" width="48.9" height="12.15" fill="#0a5457"/><rect x="919.5" y="1448.3" width="65.0" height="12.15" fill="#08505b"/><rect x="984.2" y="1448.3" width="32.7" height="12.15" fill="#034466"/><rect x="1016.5" y="1448.3" width="16.6" height="12.15" fill="#02406a"/><rect x="1032.6" y="1448.3" width="32.7" height="12.15" fill="#053c70"/><rect x="1065.0" y="1448.3" width="16.6" height="12.15" fill="#0f3b74"/><rect x="1081.1" y="1448.3" width="16.6" height="12.15" fill="#143a77"/><rect x="1097.3" y="1448.3" width="16.6" height="12.15" fill="#1a3a79"/><rect x="1113.4" y="1448.3" width="32.7" height="12.15" fill="#24397d"/><rect x="1145.8" y="1448.3" width="16.6" height="12.15" fill="#1f397b"/><rect x="1161.9" y="1448.3" width="16.6" height="12.15" fill="#24397d"/><rect x="1178.1" y="1448.3" width="16.6" height="12.15" fill="#1f397b"/><rect x="1194.2" y="1448.3" width="32.7" height="12.15" fill="#2e3881"/><rect x="1226.6" y="1448.3" width="32.7" height="12.15" fill="#24397d"/><rect x="1258.9" y="1448.3" width="16.6" height="12.15" fill="#1f397b"/><rect x="1275.0" y="1448.3" width="16.6" height="12.15" fill="#24397d"/><rect x="1291.2" y="1448.3" width="16.6" height="12.15" fill="#29387f"/><rect x="1307.4" y="1448.3" width="16.6" height="12.15" fill="#24397d"/><rect x="1323.5" y="1448.3" width="32.7" height="12.15" fill="#2e3881"/><rect x="1355.8" y="1448.3" width="16.6" height="12.15" fill="#1f397b"/><rect x="1372.0" y="1448.3" width="16.6" height="12.15" fill="#29387f"/><rect x="1388.2" y="1448.3" width="32.7" height="12.15" fill="#24397d"/><rect x="1420.5" y="1448.3" width="16.6" height="12.15" fill="#1f397b"/><rect x="1436.6" y="1448.3" width="16.6" height="12.15" fill="#29387f"/><rect x="1452.8" y="1448.3" width="16.6" height="12.15" fill="#24397d"/><rect x="1469.0" y="1448.3" width="16.6" height="12.15" fill="#2e3881"/><rect x="1485.1" y="1448.3" width="16.6" height="12.15" fill="#333884"/><rect x="1501.3" y="1448.3" width="16.6" height="12.15" fill="#24397d"/><rect x="1598.2" y="1448.3" width="16.6" height="12.15" fill="#2e3881"/><rect x="1614.4" y="1448.3" width="32.7" height="12.15" fill="#333884"/><rect x="1646.7" y="1448.3" width="16.6" height="12.15" fill="#383786"/><rect x="1662.9" y="1448.3" width="16.6" height="12.15" fill="#333884"/><rect x="1679.0" y="1448.3" width="32.7" height="12.15" fill="#383786"/><rect x="1711.4" y="1448.3" width="16.6" height="12.15" fill="#3d3788"/><rect x="1727.5" y="1448.3" width="16.6" height="12.15" fill="#383786"/><rect x="1743.7" y="1448.3" width="16.6" height="12.15" fill="#2e3881"/><rect x="1759.8" y="1448.3" width="16.6" height="12.15" fill="#3d3788"/><rect x="1776.0" y="1448.3" width="16.6" height="12.15" fill="#383786"/><rect x="353.9" y="1460.0" width="16.6" height="12.15" fill="#166f3d"/><rect x="370.1" y="1460.0" width="16.6" height="12.15" fill="#187339"/><rect x="386.2" y="1460.0" width="16.6" height="12.15" fill="#166f3d"/><rect x="402.4" y="1460.0" width="32.7" height="12.15" fill="#146b40"/><rect x="434.7" y="1460.0" width="16.6" height="12.15" fill="#0f604c"/><rect x="450.9" y="1460.0" width="16.6" height="12.15" fill="#0e5c50"/><rect x="467.0" y="1460.0" width="16.6" height="12.15" fill="#0f604c"/><rect x="483.2" y="1460.0" width="16.6" height="12.15" fill="#0a5457"/><rect x="499.4" y="1460.0" width="16.6" height="12.15" fill="#08505b"/><rect x="515.5" y="1460.0" width="32.7" height="12.15" fill="#054863"/><rect x="547.8" y="1460.0" width="32.7" height="12.15" fill="#034466"/><rect x="580.2" y="1460.0" width="65.0" height="12.15" fill="#02406a"/><rect x="644.8" y="1460.0" width="32.7" height="12.15" fill="#003c6e"/><rect x="677.1" y="1460.0" width="32.7" height="12.15" fill="#034466"/><rect x="709.4" y="1460.0" width="32.7" height="12.15" fill="#054863"/><rect x="741.8" y="1460.0" width="16.6" height="12.15" fill="#034466"/><rect x="757.9" y="1460.0" width="16.6" height="12.15" fill="#074c5f"/><rect x="774.1" y="1460.0" width="16.6" height="12.15" fill="#054863"/><rect x="790.2" y="1460.0" width="32.7" height="12.15" fill="#0a5457"/><rect x="822.6" y="1460.0" width="16.6" height="12.15" fill="#08505b"/><rect x="838.7" y="1460.0" width="16.6" height="12.15" fill="#074c5f"/><rect x="854.9" y="1460.0" width="16.6" height="12.15" fill="#0a5457"/><rect x="871.0" y="1460.0" width="16.6" height="12.15" fill="#074c5f"/><rect x="887.2" y="1460.0" width="16.6" height="12.15" fill="#08505b"/><rect x="903.4" y="1460.0" width="32.7" height="12.15" fill="#0a5457"/><rect x="935.7" y="1460.0" width="16.6" height="12.15" fill="#08505b"/><rect x="951.8" y="1460.0" width="16.6" height="12.15" fill="#0a5457"/><rect x="968.0" y="1460.0" width="32.7" height="12.15" fill="#074c5f"/><rect x="1000.3" y="1460.0" width="16.6" height="12.15" fill="#034466"/><rect x="1016.5" y="1460.0" width="32.7" height="12.15" fill="#003c6e"/><rect x="1048.8" y="1460.0" width="16.6" height="12.15" fill="#0a3b72"/><rect x="1065.0" y="1460.0" width="16.6" height="12.15" fill="#053c70"/><rect x="1081.1" y="1460.0" width="16.6" height="12.15" fill="#1a3a79"/><rect x="1097.3" y="1460.0" width="16.6" height="12.15" fill="#143a77"/><rect x="1113.4" y="1460.0" width="16.6" height="12.15" fill="#29387f"/><rect x="1129.6" y="1460.0" width="16.6" height="12.15" fill="#24397d"/><rect x="1145.8" y="1460.0" width="16.6" height="12.15" fill="#29387f"/><rect x="1161.9" y="1460.0" width="16.6" height="12.15" fill="#2e3881"/><rect x="1178.1" y="1460.0" width="32.7" height="12.15" fill="#29387f"/><rect x="1210.4" y="1460.0" width="16.6" height="12.15" fill="#2e3881"/><rect x="1226.6" y="1460.0" width="16.6" height="12.15" fill="#24397d"/><rect x="1242.7" y="1460.0" width="16.6" height="12.15" fill="#2e3881"/><rect x="1258.9" y="1460.0" width="48.9" height="12.15" fill="#29387f"/><rect x="1307.4" y="1460.0" width="16.6" height="12.15" fill="#333884"/><rect x="1323.5" y="1460.0" width="16.6" height="12.15" fill="#24397d"/><rect x="1339.7" y="1460.0" width="16.6" height="12.15" fill="#29387f"/><rect x="1355.8" y="1460.0" width="32.7" height="12.15" fill="#2e3881"/><rect x="1388.2" y="1460.0" width="16.6" height="12.15" fill="#333884"/><rect x="1404.3" y="1460.0" width="16.6" height="12.15" fill="#2e3881"/><rect x="1420.5" y="1460.0" width="32.7" height="12.15" fill="#29387f"/><rect x="1452.8" y="1460.0" width="32.7" height="12.15" fill="#2e3881"/><rect x="1485.1" y="1460.0" width="16.6" height="12.15" fill="#24397d"/><rect x="1517.4" y="1460.0" width="16.6" height="12.15" fill="#333884"/><rect x="1549.8" y="1460.0" width="16.6" height="12.15" fill="#2e3881"/><rect x="1565.9" y="1460.0" width="16.6" height="12.15" fill="#333884"/><rect x="1582.1" y="1460.0" width="16.6" height="12.15" fill="#383786"/><rect x="1598.2" y="1460.0" width="32.7" height="12.15" fill="#3d3788"/><rect x="1630.6" y="1460.0" width="97.4" height="12.15" fill="#383786"/><rect x="1727.5" y="1460.0" width="16.6" height="12.15" fill="#3d3788"/><rect x="1743.7" y="1460.0" width="16.6" height="12.15" fill="#42368a"/><rect x="1759.8" y="1460.0" width="32.7" height="12.15" fill="#3d3788"/><rect x="353.9" y="1471.8" width="16.6" height="12.15" fill="#166f3d"/><rect x="370.1" y="1471.8" width="32.7" height="12.15" fill="#187339"/><rect x="402.4" y="1471.8" width="16.6" height="12.15" fill="#146b40"/><rect x="418.6" y="1471.8" width="16.6" height="12.15" fill="#136744"/><rect x="434.7" y="1471.8" width="16.6" height="12.15" fill="#0e5c50"/><rect x="450.9" y="1471.8" width="16.6" height="12.15" fill="#08505b"/><rect x="467.0" y="1471.8" width="32.7" height="12.15" fill="#074c5f"/><rect x="499.4" y="1471.8" width="16.6" height="12.15" fill="#02406a"/><rect x="515.5" y="1471.8" width="32.7" height="12.15" fill="#034466"/><rect x="547.8" y="1471.8" width="16.6" height="12.15" fill="#02406a"/><rect x="564.0" y="1471.8" width="16.6" height="12.15" fill="#053c70"/><rect x="580.2" y="1471.8" width="16.6" height="12.15" fill="#02406a"/><rect x="596.3" y="1471.8" width="97.4" height="12.15" fill="#053c70"/><rect x="693.3" y="1471.8" width="16.6" height="12.15" fill="#003c6e"/><rect x="709.4" y="1471.8" width="32.7" height="12.15" fill="#053c70"/><rect x="741.8" y="1471.8" width="32.7" height="12.15" fill="#034466"/><rect x="774.1" y="1471.8" width="16.6" height="12.15" fill="#074c5f"/><rect x="790.2" y="1471.8" width="16.6" height="12.15" fill="#034466"/><rect x="806.4" y="1471.8" width="32.7" height="12.15" fill="#08505b"/><rect x="838.7" y="1471.8" width="16.6" height="12.15" fill="#0a5457"/><rect x="854.9" y="1471.8" width="16.6" height="12.15" fill="#074c5f"/><rect x="871.0" y="1471.8" width="16.6" height="12.15" fill="#0a5457"/><rect x="887.2" y="1471.8" width="16.6" height="12.15" fill="#08505b"/><rect x="903.4" y="1471.8" width="16.6" height="12.15" fill="#074c5f"/><rect x="919.5" y="1471.8" width="16.6" height="12.15" fill="#08505b"/><rect x="935.7" y="1471.8" width="16.6" height="12.15" fill="#0c5853"/><rect x="951.8" y="1471.8" width="16.6" height="12.15" fill="#0a5457"/><rect x="968.0" y="1471.8" width="16.6" height="12.15" fill="#074c5f"/><rect x="984.2" y="1471.8" width="16.6" height="12.15" fill="#08505b"/><rect x="1000.3" y="1471.8" width="16.6" height="12.15" fill="#074c5f"/><rect x="1016.5" y="1471.8" width="16.6" height="12.15" fill="#034466"/><rect x="1032.6" y="1471.8" width="16.6" height="12.15" fill="#003c6e"/><rect x="1048.8" y="1471.8" width="16.6" height="12.15" fill="#053c70"/><rect x="1065.0" y="1471.8" width="16.6" height="12.15" fill="#0a3b72"/><rect x="1081.1" y="1471.8" width="16.6" height="12.15" fill="#1a3a79"/><rect x="1097.3" y="1471.8" width="16.6" height="12.15" fill="#1f397b"/><rect x="1113.4" y="1471.8" width="16.6" height="12.15" fill="#24397d"/><rect x="1129.6" y="1471.8" width="16.6" height="12.15" fill="#1f397b"/><rect x="1145.8" y="1471.8" width="16.6" height="12.15" fill="#2e3881"/><rect x="1161.9" y="1471.8" width="16.6" height="12.15" fill="#383786"/><rect x="1178.1" y="1471.8" width="32.7" height="12.15" fill="#333884"/><rect x="1210.4" y="1471.8" width="16.6" height="12.15" fill="#2e3881"/><rect x="1226.6" y="1471.8" width="16.6" height="12.15" fill="#29387f"/><rect x="1242.7" y="1471.8" width="32.7" height="12.15" fill="#2e3881"/><rect x="1275.0" y="1471.8" width="16.6" height="12.15" fill="#29387f"/><rect x="1291.2" y="1471.8" width="48.9" height="12.15" fill="#2e3881"/><rect x="1339.7" y="1471.8" width="16.6" height="12.15" fill="#1f397b"/><rect x="1355.8" y="1471.8" width="16.6" height="12.15" fill="#29387f"/><rect x="1372.0" y="1471.8" width="32.7" height="12.15" fill="#333884"/><rect x="1404.3" y="1471.8" width="16.6" height="12.15" fill="#2e3881"/><rect x="1420.5" y="1471.8" width="16.6" height="12.15" fill="#333884"/><rect x="1436.6" y="1471.8" width="32.7" height="12.15" fill="#2e3881"/><rect x="1469.0" y="1471.8" width="16.6" height="12.15" fill="#29387f"/><rect x="1485.1" y="1471.8" width="32.7" height="12.15" fill="#333884"/><rect x="1517.4" y="1471.8" width="32.7" height="12.15" fill="#383786"/><rect x="1549.8" y="1471.8" width="16.6" height="12.15" fill="#333884"/><rect x="1565.9" y="1471.8" width="16.6" height="12.15" fill="#383786"/><rect x="1582.1" y="1471.8" width="16.6" height="12.15" fill="#333884"/><rect x="1598.2" y="1471.8" width="16.6" height="12.15" fill="#383786"/><rect x="1614.4" y="1471.8" width="16.6" height="12.15" fill="#333884"/><rect x="1630.6" y="1471.8" width="32.7" height="12.15" fill="#383786"/><rect x="1662.9" y="1471.8" width="16.6" height="12.15" fill="#42368a"/><rect x="1679.0" y="1471.8" width="16.6" height="12.15" fill="#3d3788"/><rect x="1695.2" y="1471.8" width="16.6" height="12.15" fill="#383786"/><rect x="1711.4" y="1471.8" width="16.6" height="12.15" fill="#333884"/><rect x="1727.5" y="1471.8" width="32.7" height="12.15" fill="#383786"/><rect x="1759.8" y="1471.8" width="32.7" height="12.15" fill="#3d3788"/><rect x="353.9" y="1483.5" width="48.9" height="12.15" fill="#187339"/><rect x="402.4" y="1483.5" width="16.6" height="12.15" fill="#166f3d"/><rect x="418.6" y="1483.5" width="32.7" height="12.15" fill="#0f604c"/><rect x="450.9" y="1483.5" width="16.6" height="12.15" fill="#08505b"/><rect x="467.0" y="1483.5" width="32.7" height="12.15" fill="#034466"/><rect x="499.4" y="1483.5" width="16.6" height="12.15" fill="#02406a"/><rect x="515.5" y="1483.5" width="32.7" height="12.15" fill="#053c70"/><rect x="547.8" y="1483.5" width="16.6" height="12.15" fill="#143a77"/><rect x="564.0" y="1483.5" width="16.6" height="12.15" fill="#0f3b74"/><rect x="580.2" y="1483.5" width="16.6" height="12.15" fill="#1a3a79"/><rect x="596.3" y="1483.5" width="16.6" height="12.15" fill="#0a3b72"/><rect x="612.5" y="1483.5" width="16.6" height="12.15" fill="#1a3a79"/><rect x="628.6" y="1483.5" width="16.6" height="12.15" fill="#0f3b74"/><rect x="644.8" y="1483.5" width="32.7" height="12.15" fill="#143a77"/><rect x="677.1" y="1483.5" width="32.7" height="12.15" fill="#0f3b74"/><rect x="709.4" y="1483.5" width="16.6" height="12.15" fill="#0a3b72"/><rect x="725.6" y="1483.5" width="16.6" height="12.15" fill="#003c6e"/><rect x="741.8" y="1483.5" width="16.6" height="12.15" fill="#053c70"/><rect x="757.9" y="1483.5" width="32.7" height="12.15" fill="#02406a"/><rect x="790.2" y="1483.5" width="48.9" height="12.15" fill="#054863"/><rect x="838.7" y="1483.5" width="16.6" height="12.15" fill="#074c5f"/><rect x="854.9" y="1483.5" width="16.6" height="12.15" fill="#08505b"/><rect x="871.0" y="1483.5" width="65.0" height="12.15" fill="#0a5457"/><rect x="935.7" y="1483.5" width="16.6" height="12.15" fill="#0c5853"/><rect x="951.8" y="1483.5" width="32.7" height="12.15" fill="#08505b"/><rect x="984.2" y="1483.5" width="16.6" height="12.15" fill="#0a5457"/><rect x="1000.3" y="1483.5" width="48.9" height="12.15" fill="#02406a"/><rect x="1048.8" y="1483.5" width="16.6" height="12.15" fill="#0f3b74"/><rect x="1065.0" y="1483.5" width="16.6" height="12.15" fill="#053c70"/><rect x="1081.1" y="1483.5" width="16.6" height="12.15" fill="#24397d"/><rect x="1097.3" y="1483.5" width="16.6" height="12.15" fill="#1a3a79"/><rect x="1113.4" y="1483.5" width="16.6" height="12.15" fill="#1f397b"/><rect x="1129.6" y="1483.5" width="16.6" height="12.15" fill="#24397d"/><rect x="1145.8" y="1483.5" width="32.7" height="12.15" fill="#2e3881"/><rect x="1178.1" y="1483.5" width="16.6" height="12.15" fill="#333884"/><rect x="1194.2" y="1483.5" width="16.6" height="12.15" fill="#2e3881"/><rect x="1210.4" y="1483.5" width="16.6" height="12.15" fill="#333884"/><rect x="1226.6" y="1483.5" width="16.6" height="12.15" fill="#2e3881"/><rect x="1242.7" y="1483.5" width="16.6" height="12.15" fill="#29387f"/><rect x="1258.9" y="1483.5" width="16.6" height="12.15" fill="#333884"/><rect x="1275.0" y="1483.5" width="32.7" height="12.15" fill="#2e3881"/><rect x="1307.4" y="1483.5" width="16.6" height="12.15" fill="#333884"/><rect x="1323.5" y="1483.5" width="16.6" height="12.15" fill="#29387f"/><rect x="1339.7" y="1483.5" width="16.6" height="12.15" fill="#2e3881"/><rect x="1355.8" y="1483.5" width="16.6" height="12.15" fill="#383786"/><rect x="1372.0" y="1483.5" width="16.6" height="12.15" fill="#2e3881"/><rect x="1388.2" y="1483.5" width="16.6" height="12.15" fill="#333884"/><rect x="1404.3" y="1483.5" width="48.9" height="12.15" fill="#2e3881"/><rect x="1452.8" y="1483.5" width="16.6" height="12.15" fill="#29387f"/><rect x="1469.0" y="1483.5" width="16.6" height="12.15" fill="#333884"/><rect x="1485.1" y="1483.5" width="16.6" height="12.15" fill="#2e3881"/><rect x="1501.3" y="1483.5" width="16.6" height="12.15" fill="#333884"/><rect x="1517.4" y="1483.5" width="16.6" height="12.15" fill="#2e3881"/><rect x="1533.6" y="1483.5" width="32.7" height="12.15" fill="#383786"/><rect x="1565.9" y="1483.5" width="16.6" height="12.15" fill="#3d3788"/><rect x="1582.1" y="1483.5" width="32.7" height="12.15" fill="#333884"/><rect x="1614.4" y="1483.5" width="16.6" height="12.15" fill="#2e3881"/><rect x="1630.6" y="1483.5" width="16.6" height="12.15" fill="#333884"/><rect x="1646.7" y="1483.5" width="65.0" height="12.15" fill="#383786"/><rect x="1711.4" y="1483.5" width="32.7" height="12.15" fill="#333884"/><rect x="1743.7" y="1483.5" width="32.7" height="12.15" fill="#3d3788"/><rect x="1776.0" y="1483.5" width="16.6" height="12.15" fill="#333884"/><rect x="353.9" y="1495.3" width="48.9" height="12.15" fill="#166f3d"/><rect x="402.4" y="1495.3" width="16.6" height="12.15" fill="#116448"/><rect x="418.6" y="1495.3" width="16.6" height="12.15" fill="#0f604c"/><rect x="434.7" y="1495.3" width="16.6" height="12.15" fill="#08505b"/><rect x="450.9" y="1495.3" width="16.6" height="12.15" fill="#054863"/><rect x="467.0" y="1495.3" width="32.7" height="12.15" fill="#003c6e"/><rect x="499.4" y="1495.3" width="16.6" height="12.15" fill="#053c70"/><rect x="515.5" y="1495.3" width="16.6" height="12.15" fill="#0a3b72"/><rect x="531.7" y="1495.3" width="32.7" height="12.15" fill="#143a77"/><rect x="564.0" y="1495.3" width="16.6" height="12.15" fill="#1a3a79"/><rect x="580.2" y="1495.3" width="32.7" height="12.15" fill="#143a77"/><rect x="612.5" y="1495.3" width="16.6" height="12.15" fill="#1a3a79"/><rect x="628.6" y="1495.3" width="16.6" height="12.15" fill="#0f3b74"/><rect x="644.8" y="1495.3" width="48.9" height="12.15" fill="#143a77"/><rect x="693.3" y="1495.3" width="16.6" height="12.15" fill="#1a3a79"/><rect x="709.4" y="1495.3" width="16.6" height="12.15" fill="#143a77"/><rect x="725.6" y="1495.3" width="16.6" height="12.15" fill="#0a3b72"/><rect x="741.8" y="1495.3" width="16.6" height="12.15" fill="#0f3b74"/><rect x="757.9" y="1495.3" width="32.7" height="12.15" fill="#003c6e"/><rect x="790.2" y="1495.3" width="16.6" height="12.15" fill="#034466"/><rect x="806.4" y="1495.3" width="16.6" height="12.15" fill="#054863"/><rect x="822.6" y="1495.3" width="16.6" height="12.15" fill="#034466"/><rect x="838.7" y="1495.3" width="16.6" height="12.15" fill="#054863"/><rect x="854.9" y="1495.3" width="32.7" height="12.15" fill="#0a5457"/><rect x="887.2" y="1495.3" width="16.6" height="12.15" fill="#08505b"/><rect x="903.4" y="1495.3" width="16.6" height="12.15" fill="#0c5853"/><rect x="919.5" y="1495.3" width="16.6" height="12.15" fill="#0a5457"/><rect x="935.7" y="1495.3" width="65.0" height="12.15" fill="#08505b"/><rect x="1000.3" y="1495.3" width="16.6" height="12.15" fill="#054863"/><rect x="1016.5" y="1495.3" width="16.6" height="12.15" fill="#034466"/><rect x="1032.6" y="1495.3" width="16.6" height="12.15" fill="#02406a"/><rect x="1048.8" y="1495.3" width="16.6" height="12.15" fill="#053c70"/><rect x="1065.0" y="1495.3" width="32.7" height="12.15" fill="#1a3a79"/><rect x="1097.3" y="1495.3" width="16.6" height="12.15" fill="#24397d"/><rect x="1113.4" y="1495.3" width="48.9" height="12.15" fill="#2e3881"/><rect x="1161.9" y="1495.3" width="16.6" height="12.15" fill="#333884"/><rect x="1178.1" y="1495.3" width="16.6" height="12.15" fill="#383786"/><rect x="1194.2" y="1495.3" width="16.6" height="12.15" fill="#333884"/><rect x="1210.4" y="1495.3" width="16.6" height="12.15" fill="#29387f"/><rect x="1226.6" y="1495.3" width="32.7" height="12.15" fill="#383786"/><rect x="1258.9" y="1495.3" width="16.6" height="12.15" fill="#2e3881"/><rect x="1275.0" y="1495.3" width="16.6" height="12.15" fill="#29387f"/><rect x="1291.2" y="1495.3" width="16.6" height="12.15" fill="#2e3881"/><rect x="1307.4" y="1495.3" width="16.6" height="12.15" fill="#333884"/><rect x="1323.5" y="1495.3" width="16.6" height="12.15" fill="#2e3881"/><rect x="1339.7" y="1495.3" width="16.6" height="12.15" fill="#333884"/><rect x="1355.8" y="1495.3" width="16.6" height="12.15" fill="#383786"/><rect x="1372.0" y="1495.3" width="16.6" height="12.15" fill="#333884"/><rect x="1388.2" y="1495.3" width="32.7" height="12.15" fill="#2e3881"/><rect x="1420.5" y="1495.3" width="16.6" height="12.15" fill="#29387f"/><rect x="1436.6" y="1495.3" width="16.6" height="12.15" fill="#2e3881"/><rect x="1452.8" y="1495.3" width="16.6" height="12.15" fill="#29387f"/><rect x="1469.0" y="1495.3" width="32.7" height="12.15" fill="#2e3881"/><rect x="1501.3" y="1495.3" width="32.7" height="12.15" fill="#383786"/><rect x="1533.6" y="1495.3" width="16.6" height="12.15" fill="#333884"/><rect x="1549.8" y="1495.3" width="16.6" height="12.15" fill="#3d3788"/><rect x="1565.9" y="1495.3" width="32.7" height="12.15" fill="#383786"/><rect x="1598.2" y="1495.3" width="32.7" height="12.15" fill="#3d3788"/><rect x="1630.6" y="1495.3" width="16.6" height="12.15" fill="#333884"/><rect x="1646.7" y="1495.3" width="16.6" height="12.15" fill="#42368a"/><rect x="1662.9" y="1495.3" width="16.6" height="12.15" fill="#333884"/><rect x="1679.0" y="1495.3" width="16.6" height="12.15" fill="#2e3881"/><rect x="1695.2" y="1495.3" width="48.9" height="12.15" fill="#383786"/><rect x="1743.7" y="1495.3" width="16.6" height="12.15" fill="#333884"/><rect x="1759.8" y="1495.3" width="16.6" height="12.15" fill="#3d3788"/><rect x="1776.0" y="1495.3" width="16.6" height="12.15" fill="#383786"/><rect x="353.9" y="1507.0" width="16.6" height="12.15" fill="#146b40"/><rect x="370.1" y="1507.0" width="32.7" height="12.15" fill="#136744"/><rect x="402.4" y="1507.0" width="16.6" height="12.15" fill="#0f604c"/><rect x="467.0" y="1507.0" width="16.6" height="12.15" fill="#053c70"/><rect x="483.2" y="1507.0" width="16.6" height="12.15" fill="#02406a"/><rect x="499.4" y="1507.0" width="16.6" height="12.15" fill="#0a3b72"/><rect x="515.5" y="1507.0" width="16.6" height="12.15" fill="#0f3b74"/><rect x="531.7" y="1507.0" width="16.6" height="12.15" fill="#0a3b72"/><rect x="547.8" y="1507.0" width="65.0" height="12.15" fill="#143a77"/><rect x="612.5" y="1507.0" width="16.6" height="12.15" fill="#1a3a79"/><rect x="628.6" y="1507.0" width="16.6" height="12.15" fill="#1f397b"/><rect x="644.8" y="1507.0" width="16.6" height="12.15" fill="#1a3a79"/><rect x="661.0" y="1507.0" width="16.6" height="12.15" fill="#0f3b74"/><rect x="677.1" y="1507.0" width="16.6" height="12.15" fill="#24397d"/><rect x="693.3" y="1507.0" width="48.9" height="12.15" fill="#1a3a79"/><rect x="741.8" y="1507.0" width="16.6" height="12.15" fill="#143a77"/><rect x="757.9" y="1507.0" width="16.6" height="12.15" fill="#003c6e"/><rect x="774.1" y="1507.0" width="16.6" height="12.15" fill="#053c70"/><rect x="790.2" y="1507.0" width="48.9" height="12.15" fill="#034466"/><rect x="838.7" y="1507.0" width="16.6" height="12.15" fill="#074c5f"/><rect x="854.9" y="1507.0" width="16.6" height="12.15" fill="#08505b"/><rect x="871.0" y="1507.0" width="65.0" height="12.15" fill="#0c5853"/><rect x="935.7" y="1507.0" width="32.7" height="12.15" fill="#0e5c50"/><rect x="968.0" y="1507.0" width="16.6" height="12.15" fill="#08505b"/><rect x="984.2" y="1507.0" width="16.6" height="12.15" fill="#074c5f"/><rect x="1000.3" y="1507.0" width="16.6" height="12.15" fill="#054863"/><rect x="1016.5" y="1507.0" width="16.6" height="12.15" fill="#02406a"/><rect x="1032.6" y="1507.0" width="16.6" height="12.15" fill="#003c6e"/><rect x="1048.8" y="1507.0" width="16.6" height="12.15" fill="#0f3b74"/><rect x="1065.0" y="1507.0" width="16.6" height="12.15" fill="#143a77"/><rect x="1081.1" y="1507.0" width="16.6" height="12.15" fill="#1a3a79"/><rect x="1097.3" y="1507.0" width="16.6" height="12.15" fill="#1f397b"/><rect x="1113.4" y="1507.0" width="16.6" height="12.15" fill="#29387f"/><rect x="1129.6" y="1507.0" width="16.6" height="12.15" fill="#24397d"/><rect x="1145.8" y="1507.0" width="16.6" height="12.15" fill="#2e3881"/><rect x="1161.9" y="1507.0" width="16.6" height="12.15" fill="#24397d"/><rect x="1178.1" y="1507.0" width="16.6" height="12.15" fill="#2e3881"/><rect x="1194.2" y="1507.0" width="32.7" height="12.15" fill="#333884"/><rect x="1226.6" y="1507.0" width="16.6" height="12.15" fill="#3d3788"/><rect x="1242.7" y="1507.0" width="16.6" height="12.15" fill="#333884"/><rect x="1258.9" y="1507.0" width="16.6" height="12.15" fill="#2e3881"/><rect x="1275.0" y="1507.0" width="16.6" height="12.15" fill="#24397d"/><rect x="1291.2" y="1507.0" width="16.6" height="12.15" fill="#383786"/><rect x="1307.4" y="1507.0" width="16.6" height="12.15" fill="#29387f"/><rect x="1323.5" y="1507.0" width="16.6" height="12.15" fill="#333884"/><rect x="1339.7" y="1507.0" width="16.6" height="12.15" fill="#2e3881"/><rect x="1355.8" y="1507.0" width="16.6" height="12.15" fill="#3d3788"/><rect x="1372.0" y="1507.0" width="32.7" height="12.15" fill="#333884"/><rect x="1404.3" y="1507.0" width="32.7" height="12.15" fill="#2e3881"/><rect x="1436.6" y="1507.0" width="16.6" height="12.15" fill="#333884"/><rect x="1452.8" y="1507.0" width="81.2" height="12.15" fill="#2e3881"/><rect x="1533.6" y="1507.0" width="16.6" height="12.15" fill="#333884"/><rect x="1549.8" y="1507.0" width="32.7" height="12.15" fill="#3d3788"/><rect x="1582.1" y="1507.0" width="16.6" height="12.15" fill="#333884"/><rect x="1598.2" y="1507.0" width="32.7" height="12.15" fill="#383786"/><rect x="1630.6" y="1507.0" width="16.6" height="12.15" fill="#3d3788"/><rect x="1646.7" y="1507.0" width="48.9" height="12.15" fill="#383786"/><rect x="1695.2" y="1507.0" width="16.6" height="12.15" fill="#3d3788"/><rect x="1711.4" y="1507.0" width="16.6" height="12.15" fill="#2e3881"/><rect x="1727.5" y="1507.0" width="16.6" height="12.15" fill="#383786"/><rect x="1743.7" y="1507.0" width="48.9" height="12.15" fill="#3d3788"/><rect x="370.1" y="1518.8" width="32.7" height="12.15" fill="#0f604c"/><rect x="402.4" y="1518.8" width="16.6" height="12.15" fill="#116448"/><rect x="418.6" y="1518.8" width="16.6" height="12.15" fill="#0c5853"/><rect x="450.9" y="1518.8" width="16.6" height="12.15" fill="#034466"/><rect x="467.0" y="1518.8" width="32.7" height="12.15" fill="#003c6e"/><rect x="499.4" y="1518.8" width="16.6" height="12.15" fill="#0a3b72"/><rect x="515.5" y="1518.8" width="16.6" height="12.15" fill="#0f3b74"/><rect x="531.7" y="1518.8" width="16.6" height="12.15" fill="#143a77"/><rect x="547.8" y="1518.8" width="16.6" height="12.15" fill="#0f3b74"/><rect x="564.0" y="1518.8" width="65.0" height="12.15" fill="#143a77"/><rect x="628.6" y="1518.8" width="32.7" height="12.15" fill="#1a3a79"/><rect x="661.0" y="1518.8" width="16.6" height="12.15" fill="#1f397b"/><rect x="677.1" y="1518.8" width="32.7" height="12.15" fill="#1a3a79"/><rect x="709.4" y="1518.8" width="16.6" height="12.15" fill="#1f397b"/><rect x="725.6" y="1518.8" width="16.6" height="12.15" fill="#1a3a79"/><rect x="741.8" y="1518.8" width="32.7" height="12.15" fill="#143a77"/><rect x="774.1" y="1518.8" width="16.6" height="12.15" fill="#0f3b74"/><rect x="790.2" y="1518.8" width="16.6" height="12.15" fill="#053c70"/><rect x="806.4" y="1518.8" width="16.6" height="12.15" fill="#003c6e"/><rect x="822.6" y="1518.8" width="32.7" height="12.15" fill="#054863"/><rect x="854.9" y="1518.8" width="16.6" height="12.15" fill="#08505b"/><rect x="871.0" y="1518.8" width="32.7" height="12.15" fill="#0c5853"/><rect x="903.4" y="1518.8" width="16.6" height="12.15" fill="#0a5457"/><rect x="919.5" y="1518.8" width="48.9" height="12.15" fill="#0c5853"/><rect x="968.0" y="1518.8" width="16.6" height="12.15" fill="#0a5457"/><rect x="984.2" y="1518.8" width="16.6" height="12.15" fill="#08505b"/><rect x="1000.3" y="1518.8" width="16.6" height="12.15" fill="#034466"/><rect x="1016.5" y="1518.8" width="16.6" height="12.15" fill="#054863"/><rect x="1032.6" y="1518.8" width="16.6" height="12.15" fill="#053c70"/><rect x="1048.8" y="1518.8" width="16.6" height="12.15" fill="#0a3b72"/><rect x="1065.0" y="1518.8" width="16.6" height="12.15" fill="#143a77"/><rect x="1081.1" y="1518.8" width="16.6" height="12.15" fill="#1f397b"/><rect x="1097.3" y="1518.8" width="16.6" height="12.15" fill="#24397d"/><rect x="1113.4" y="1518.8" width="16.6" height="12.15" fill="#29387f"/><rect x="1129.6" y="1518.8" width="16.6" height="12.15" fill="#24397d"/><rect x="1145.8" y="1518.8" width="32.7" height="12.15" fill="#2e3881"/><rect x="1178.1" y="1518.8" width="16.6" height="12.15" fill="#333884"/><rect x="1194.2" y="1518.8" width="16.6" height="12.15" fill="#3d3788"/><rect x="1210.4" y="1518.8" width="16.6" height="12.15" fill="#333884"/><rect x="1226.6" y="1518.8" width="16.6" height="12.15" fill="#383786"/><rect x="1242.7" y="1518.8" width="16.6" height="12.15" fill="#2e3881"/><rect x="1258.9" y="1518.8" width="16.6" height="12.15" fill="#333884"/><rect x="1275.0" y="1518.8" width="16.6" height="12.15" fill="#29387f"/><rect x="1291.2" y="1518.8" width="32.7" height="12.15" fill="#2e3881"/><rect x="1323.5" y="1518.8" width="48.9" height="12.15" fill="#333884"/><rect x="1372.0" y="1518.8" width="16.6" height="12.15" fill="#2e3881"/><rect x="1388.2" y="1518.8" width="16.6" height="12.15" fill="#333884"/><rect x="1404.3" y="1518.8" width="16.6" height="12.15" fill="#2e3881"/><rect x="1420.5" y="1518.8" width="16.6" height="12.15" fill="#24397d"/><rect x="1436.6" y="1518.8" width="16.6" height="12.15" fill="#2e3881"/><rect x="1452.8" y="1518.8" width="32.7" height="12.15" fill="#333884"/><rect x="1485.1" y="1518.8" width="16.6" height="12.15" fill="#383786"/><rect x="1501.3" y="1518.8" width="16.6" height="12.15" fill="#2e3881"/><rect x="1517.4" y="1518.8" width="32.7" height="12.15" fill="#333884"/><rect x="1549.8" y="1518.8" width="32.7" height="12.15" fill="#2e3881"/><rect x="1582.1" y="1518.8" width="16.6" height="12.15" fill="#3d3788"/><rect x="1598.2" y="1518.8" width="16.6" height="12.15" fill="#333884"/><rect x="1614.4" y="1518.8" width="65.0" height="12.15" fill="#383786"/><rect x="1679.0" y="1518.8" width="16.6" height="12.15" fill="#333884"/><rect x="1695.2" y="1518.8" width="32.7" height="12.15" fill="#383786"/><rect x="1727.5" y="1518.8" width="32.7" height="12.15" fill="#333884"/><rect x="1776.0" y="1518.8" width="16.6" height="12.15" fill="#383786"/><rect x="386.2" y="1530.5" width="32.7" height="12.15" fill="#0c5853"/><rect x="467.0" y="1530.5" width="16.6" height="12.15" fill="#02406a"/><rect x="483.2" y="1530.5" width="16.6" height="12.15" fill="#053c70"/><rect x="499.4" y="1530.5" width="16.6" height="12.15" fill="#0a3b72"/><rect x="515.5" y="1530.5" width="16.6" height="12.15" fill="#053c70"/><rect x="531.7" y="1530.5" width="16.6" height="12.15" fill="#0f3b74"/><rect x="547.8" y="1530.5" width="16.6" height="12.15" fill="#143a77"/><rect x="564.0" y="1530.5" width="16.6" height="12.15" fill="#1a3a79"/><rect x="580.2" y="1530.5" width="48.9" height="12.15" fill="#143a77"/><rect x="628.6" y="1530.5" width="16.6" height="12.15" fill="#1a3a79"/><rect x="644.8" y="1530.5" width="16.6" height="12.15" fill="#24397d"/><rect x="661.0" y="1530.5" width="16.6" height="12.15" fill="#1f397b"/><rect x="677.1" y="1530.5" width="16.6" height="12.15" fill="#24397d"/><rect x="693.3" y="1530.5" width="16.6" height="12.15" fill="#1f397b"/><rect x="709.4" y="1530.5" width="16.6" height="12.15" fill="#29387f"/><rect x="725.6" y="1530.5" width="16.6" height="12.15" fill="#1f397b"/><rect x="741.8" y="1530.5" width="32.7" height="12.15" fill="#143a77"/><rect x="774.1" y="1530.5" width="16.6" height="12.15" fill="#0f3b74"/><rect x="790.2" y="1530.5" width="16.6" height="12.15" fill="#143a77"/><rect x="806.4" y="1530.5" width="16.6" height="12.15" fill="#0a3b72"/><rect x="822.6" y="1530.5" width="16.6" height="12.15" fill="#003c6e"/><rect x="838.7" y="1530.5" width="16.6" height="12.15" fill="#074c5f"/><rect x="854.9" y="1530.5" width="16.6" height="12.15" fill="#08505b"/><rect x="871.0" y="1530.5" width="16.6" height="12.15" fill="#0a5457"/><rect x="887.2" y="1530.5" width="16.6" height="12.15" fill="#0e5c50"/><rect x="903.4" y="1530.5" width="16.6" height="12.15" fill="#0c5853"/><rect x="919.5" y="1530.5" width="16.6" height="12.15" fill="#0f604c"/><rect x="935.7" y="1530.5" width="16.6" height="12.15" fill="#0e5c50"/><rect x="951.8" y="1530.5" width="32.7" height="12.15" fill="#0c5853"/><rect x="984.2" y="1530.5" width="16.6" height="12.15" fill="#074c5f"/><rect x="1000.3" y="1530.5" width="16.6" height="12.15" fill="#034466"/><rect x="1016.5" y="1530.5" width="16.6" height="12.15" fill="#003c6e"/><rect x="1032.6" y="1530.5" width="16.6" height="12.15" fill="#053c70"/><rect x="1048.8" y="1530.5" width="16.6" height="12.15" fill="#0f3b74"/><rect x="1065.0" y="1530.5" width="16.6" height="12.15" fill="#143a77"/><rect x="1081.1" y="1530.5" width="32.7" height="12.15" fill="#1f397b"/><rect x="1113.4" y="1530.5" width="16.6" height="12.15" fill="#2e3881"/><rect x="1129.6" y="1530.5" width="16.6" height="12.15" fill="#333884"/><rect x="1145.8" y="1530.5" width="16.6" height="12.15" fill="#29387f"/><rect x="1161.9" y="1530.5" width="16.6" height="12.15" fill="#2e3881"/><rect x="1178.1" y="1530.5" width="16.6" height="12.15" fill="#333884"/><rect x="1194.2" y="1530.5" width="16.6" height="12.15" fill="#3d3788"/><rect x="1210.4" y="1530.5" width="16.6" height="12.15" fill="#383786"/><rect x="1226.6" y="1530.5" width="32.7" height="12.15" fill="#333884"/><rect x="1258.9" y="1530.5" width="16.6" height="12.15" fill="#29387f"/><rect x="1275.0" y="1530.5" width="16.6" height="12.15" fill="#383786"/><rect x="1291.2" y="1530.5" width="16.6" height="12.15" fill="#2e3881"/><rect x="1307.4" y="1530.5" width="16.6" height="12.15" fill="#383786"/><rect x="1323.5" y="1530.5" width="16.6" height="12.15" fill="#2e3881"/><rect x="1339.7" y="1530.5" width="32.7" height="12.15" fill="#333884"/><rect x="1372.0" y="1530.5" width="48.9" height="12.15" fill="#383786"/><rect x="1420.5" y="1530.5" width="32.7" height="12.15" fill="#333884"/><rect x="1452.8" y="1530.5" width="32.7" height="12.15" fill="#2e3881"/><rect x="1485.1" y="1530.5" width="16.6" height="12.15" fill="#333884"/><rect x="1501.3" y="1530.5" width="16.6" height="12.15" fill="#383786"/><rect x="1517.4" y="1530.5" width="16.6" height="12.15" fill="#333884"/><rect x="1533.6" y="1530.5" width="16.6" height="12.15" fill="#383786"/><rect x="1549.8" y="1530.5" width="16.6" height="12.15" fill="#2e3881"/><rect x="1565.9" y="1530.5" width="32.7" height="12.15" fill="#383786"/><rect x="1598.2" y="1530.5" width="16.6" height="12.15" fill="#3d3788"/><rect x="1614.4" y="1530.5" width="16.6" height="12.15" fill="#42368a"/><rect x="1630.6" y="1530.5" width="32.7" height="12.15" fill="#3d3788"/><rect x="1662.9" y="1530.5" width="32.7" height="12.15" fill="#383786"/><rect x="1695.2" y="1530.5" width="32.7" height="12.15" fill="#3d3788"/><rect x="1727.5" y="1530.5" width="16.6" height="12.15" fill="#333884"/><rect x="1743.7" y="1530.5" width="16.6" height="12.15" fill="#3d3788"/><rect x="450.9" y="1542.3" width="32.7" height="12.15" fill="#02406a"/><rect x="483.2" y="1542.3" width="16.6" height="12.15" fill="#053c70"/><rect x="499.4" y="1542.3" width="32.7" height="12.15" fill="#0a3b72"/><rect x="531.7" y="1542.3" width="48.9" height="12.15" fill="#0f3b74"/><rect x="580.2" y="1542.3" width="16.6" height="12.15" fill="#143a77"/><rect x="596.3" y="1542.3" width="32.7" height="12.15" fill="#1a3a79"/><rect x="628.6" y="1542.3" width="16.6" height="12.15" fill="#1f397b"/><rect x="644.8" y="1542.3" width="32.7" height="12.15" fill="#24397d"/><rect x="677.1" y="1542.3" width="16.6" height="12.15" fill="#1f397b"/><rect x="693.3" y="1542.3" width="16.6" height="12.15" fill="#24397d"/><rect x="709.4" y="1542.3" width="16.6" height="12.15" fill="#29387f"/><rect x="725.6" y="1542.3" width="16.6" height="12.15" fill="#1f397b"/><rect x="741.8" y="1542.3" width="16.6" height="12.15" fill="#1a3a79"/><rect x="757.9" y="1542.3" width="16.6" height="12.15" fill="#24397d"/><rect x="774.1" y="1542.3" width="16.6" height="12.15" fill="#0f3b74"/><rect x="790.2" y="1542.3" width="16.6" height="12.15" fill="#143a77"/><rect x="806.4" y="1542.3" width="16.6" height="12.15" fill="#0a3b72"/><rect x="822.6" y="1542.3" width="16.6" height="12.15" fill="#02406a"/><rect x="838.7" y="1542.3" width="16.6" height="12.15" fill="#034466"/><rect x="854.9" y="1542.3" width="16.6" height="12.15" fill="#074c5f"/><rect x="871.0" y="1542.3" width="16.6" height="12.15" fill="#0f604c"/><rect x="887.2" y="1542.3" width="16.6" height="12.15" fill="#0a5457"/><rect x="903.4" y="1542.3" width="16.6" height="12.15" fill="#0c5853"/><rect x="919.5" y="1542.3" width="16.6" height="12.15" fill="#0e5c50"/><rect x="935.7" y="1542.3" width="16.6" height="12.15" fill="#0c5853"/><rect x="951.8" y="1542.3" width="16.6" height="12.15" fill="#0e5c50"/><rect x="968.0" y="1542.3" width="32.7" height="12.15" fill="#0a5457"/><rect x="1000.3" y="1542.3" width="16.6" height="12.15" fill="#02406a"/><rect x="1016.5" y="1542.3" width="16.6" height="12.15" fill="#003c6e"/><rect x="1032.6" y="1542.3" width="16.6" height="12.15" fill="#053c70"/><rect x="1048.8" y="1542.3" width="16.6" height="12.15" fill="#0f3b74"/><rect x="1065.0" y="1542.3" width="32.7" height="12.15" fill="#1a3a79"/><rect x="1097.3" y="1542.3" width="16.6" height="12.15" fill="#24397d"/><rect x="1113.4" y="1542.3" width="32.7" height="12.15" fill="#29387f"/><rect x="1145.8" y="1542.3" width="16.6" height="12.15" fill="#2e3881"/><rect x="1161.9" y="1542.3" width="32.7" height="12.15" fill="#333884"/><rect x="1194.2" y="1542.3" width="16.6" height="12.15" fill="#3d3788"/><rect x="1210.4" y="1542.3" width="16.6" height="12.15" fill="#383786"/><rect x="1226.6" y="1542.3" width="16.6" height="12.15" fill="#333884"/><rect x="1242.7" y="1542.3" width="16.6" height="12.15" fill="#383786"/><rect x="1258.9" y="1542.3" width="32.7" height="12.15" fill="#333884"/><rect x="1291.2" y="1542.3" width="16.6" height="12.15" fill="#2e3881"/><rect x="1307.4" y="1542.3" width="16.6" height="12.15" fill="#29387f"/><rect x="1323.5" y="1542.3" width="16.6" height="12.15" fill="#383786"/><rect x="1339.7" y="1542.3" width="16.6" height="12.15" fill="#333884"/><rect x="1355.8" y="1542.3" width="16.6" height="12.15" fill="#383786"/><rect x="1372.0" y="1542.3" width="16.6" height="12.15" fill="#2e3881"/><rect x="1388.2" y="1542.3" width="65.0" height="12.15" fill="#333884"/><rect x="1452.8" y="1542.3" width="16.6" height="12.15" fill="#383786"/><rect x="1469.0" y="1542.3" width="16.6" height="12.15" fill="#2e3881"/><rect x="1485.1" y="1542.3" width="16.6" height="12.15" fill="#383786"/><rect x="1501.3" y="1542.3" width="16.6" height="12.15" fill="#2e3881"/><rect x="1517.4" y="1542.3" width="16.6" height="12.15" fill="#333884"/><rect x="1533.6" y="1542.3" width="16.6" height="12.15" fill="#2e3881"/><rect x="1549.8" y="1542.3" width="16.6" height="12.15" fill="#383786"/><rect x="1565.9" y="1542.3" width="16.6" height="12.15" fill="#333884"/><rect x="1582.1" y="1542.3" width="16.6" height="12.15" fill="#3d3788"/><rect x="1598.2" y="1542.3" width="65.0" height="12.15" fill="#383786"/><rect x="1662.9" y="1542.3" width="16.6" height="12.15" fill="#333884"/><rect x="1679.0" y="1542.3" width="16.6" height="12.15" fill="#42368a"/><rect x="1695.2" y="1542.3" width="16.6" height="12.15" fill="#383786"/><rect x="1711.4" y="1542.3" width="16.6" height="12.15" fill="#42368a"/><rect x="1727.5" y="1542.3" width="16.6" height="12.15" fill="#333884"/><rect x="418.6" y="1554.0" width="32.7" height="12.15" fill="#054863"/><rect x="450.9" y="1554.0" width="32.7" height="12.15" fill="#003c6e"/><rect x="483.2" y="1554.0" width="32.7" height="12.15" fill="#053c70"/><rect x="515.5" y="1554.0" width="16.6" height="12.15" fill="#003c6e"/><rect x="531.7" y="1554.0" width="16.6" height="12.15" fill="#0a3b72"/><rect x="547.8" y="1554.0" width="16.6" height="12.15" fill="#0f3b74"/><rect x="564.0" y="1554.0" width="16.6" height="12.15" fill="#143a77"/><rect x="580.2" y="1554.0" width="16.6" height="12.15" fill="#1a3a79"/><rect x="596.3" y="1554.0" width="16.6" height="12.15" fill="#0f3b74"/><rect x="612.5" y="1554.0" width="16.6" height="12.15" fill="#1f397b"/><rect x="628.6" y="1554.0" width="16.6" height="12.15" fill="#24397d"/><rect x="644.8" y="1554.0" width="16.6" height="12.15" fill="#1f397b"/><rect x="661.0" y="1554.0" width="16.6" height="12.15" fill="#24397d"/><rect x="677.1" y="1554.0" width="16.6" height="12.15" fill="#1a3a79"/><rect x="693.3" y="1554.0" width="16.6" height="12.15" fill="#2e3881"/><rect x="709.4" y="1554.0" width="32.7" height="12.15" fill="#24397d"/><rect x="741.8" y="1554.0" width="16.6" height="12.15" fill="#29387f"/><rect x="757.9" y="1554.0" width="16.6" height="12.15" fill="#24397d"/><rect x="774.1" y="1554.0" width="16.6" height="12.15" fill="#1f397b"/><rect x="790.2" y="1554.0" width="32.7" height="12.15" fill="#143a77"/><rect x="822.6" y="1554.0" width="16.6" height="12.15" fill="#0a3b72"/><rect x="838.7" y="1554.0" width="16.6" height="12.15" fill="#054863"/><rect x="854.9" y="1554.0" width="16.6" height="12.15" fill="#0a5457"/><rect x="871.0" y="1554.0" width="16.6" height="12.15" fill="#0c5853"/><rect x="887.2" y="1554.0" width="16.6" height="12.15" fill="#08505b"/><rect x="903.4" y="1554.0" width="16.6" height="12.15" fill="#0f604c"/><rect x="919.5" y="1554.0" width="16.6" height="12.15" fill="#0c5853"/><rect x="935.7" y="1554.0" width="16.6" height="12.15" fill="#0f604c"/><rect x="951.8" y="1554.0" width="16.6" height="12.15" fill="#0e5c50"/><rect x="968.0" y="1554.0" width="16.6" height="12.15" fill="#0a5457"/><rect x="984.2" y="1554.0" width="16.6" height="12.15" fill="#074c5f"/><rect x="1000.3" y="1554.0" width="16.6" height="12.15" fill="#054863"/><rect x="1016.5" y="1554.0" width="16.6" height="12.15" fill="#02406a"/><rect x="1032.6" y="1554.0" width="32.7" height="12.15" fill="#143a77"/><rect x="1065.0" y="1554.0" width="16.6" height="12.15" fill="#0f3b74"/><rect x="1081.1" y="1554.0" width="16.6" height="12.15" fill="#1f397b"/><rect x="1097.3" y="1554.0" width="48.9" height="12.15" fill="#2e3881"/><rect x="1145.8" y="1554.0" width="16.6" height="12.15" fill="#333884"/><rect x="1161.9" y="1554.0" width="97.4" height="12.15" fill="#383786"/><rect x="1258.9" y="1554.0" width="16.6" height="12.15" fill="#333884"/><rect x="1275.0" y="1554.0" width="16.6" height="12.15" fill="#2e3881"/><rect x="1291.2" y="1554.0" width="16.6" height="12.15" fill="#333884"/><rect x="1307.4" y="1554.0" width="16.6" height="12.15" fill="#383786"/><rect x="1323.5" y="1554.0" width="16.6" height="12.15" fill="#333884"/><rect x="1339.7" y="1554.0" width="16.6" height="12.15" fill="#383786"/><rect x="1355.8" y="1554.0" width="32.7" height="12.15" fill="#333884"/><rect x="1388.2" y="1554.0" width="32.7" height="12.15" fill="#2e3881"/><rect x="1420.5" y="1554.0" width="32.7" height="12.15" fill="#333884"/><rect x="1452.8" y="1554.0" width="32.7" height="12.15" fill="#2e3881"/><rect x="1485.1" y="1554.0" width="16.6" height="12.15" fill="#333884"/><rect x="1501.3" y="1554.0" width="16.6" height="12.15" fill="#383786"/><rect x="1517.4" y="1554.0" width="16.6" height="12.15" fill="#3d3788"/><rect x="1533.6" y="1554.0" width="48.9" height="12.15" fill="#333884"/><rect x="1582.1" y="1554.0" width="16.6" height="12.15" fill="#3d3788"/><rect x="1598.2" y="1554.0" width="16.6" height="12.15" fill="#333884"/><rect x="1614.4" y="1554.0" width="16.6" height="12.15" fill="#3d3788"/><rect x="1630.6" y="1554.0" width="32.7" height="12.15" fill="#383786"/><rect x="1662.9" y="1554.0" width="32.7" height="12.15" fill="#3d3788"/><rect x="1695.2" y="1554.0" width="16.6" height="12.15" fill="#42368a"/><rect x="1711.4" y="1554.0" width="16.6" height="12.15" fill="#3d3788"/><rect x="1727.5" y="1554.0" width="16.6" height="12.15" fill="#42368a"/><rect x="1743.7" y="1554.0" width="16.6" height="12.15" fill="#383786"/><rect x="402.4" y="1565.8" width="32.7" height="12.15" fill="#02406a"/><rect x="434.7" y="1565.8" width="16.6" height="12.15" fill="#003c6e"/><rect x="450.9" y="1565.8" width="48.9" height="12.15" fill="#053c70"/><rect x="499.4" y="1565.8" width="16.6" height="12.15" fill="#0f3b74"/><rect x="515.5" y="1565.8" width="16.6" height="12.15" fill="#143a77"/><rect x="531.7" y="1565.8" width="16.6" height="12.15" fill="#1f397b"/><rect x="547.8" y="1565.8" width="16.6" height="12.15" fill="#143a77"/><rect x="564.0" y="1565.8" width="16.6" height="12.15" fill="#1a3a79"/><rect x="580.2" y="1565.8" width="16.6" height="12.15" fill="#24397d"/><rect x="596.3" y="1565.8" width="32.7" height="12.15" fill="#1a3a79"/><rect x="628.6" y="1565.8" width="32.7" height="12.15" fill="#24397d"/><rect x="661.0" y="1565.8" width="16.6" height="12.15" fill="#29387f"/><rect x="677.1" y="1565.8" width="16.6" height="12.15" fill="#24397d"/><rect x="693.3" y="1565.8" width="16.6" height="12.15" fill="#2e3881"/><rect x="709.4" y="1565.8" width="16.6" height="12.15" fill="#29387f"/><rect x="725.6" y="1565.8" width="16.6" height="12.15" fill="#1f397b"/><rect x="741.8" y="1565.8" width="65.0" height="12.15" fill="#24397d"/><rect x="806.4" y="1565.8" width="16.6" height="12.15" fill="#143a77"/><rect x="822.6" y="1565.8" width="16.6" height="12.15" fill="#053c70"/><rect x="838.7" y="1565.8" width="16.6" height="12.15" fill="#003c6e"/><rect x="854.9" y="1565.8" width="16.6" height="12.15" fill="#074c5f"/><rect x="871.0" y="1565.8" width="32.7" height="12.15" fill="#0e5c50"/><rect x="903.4" y="1565.8" width="48.9" height="12.15" fill="#0a5457"/><rect x="951.8" y="1565.8" width="16.6" height="12.15" fill="#0e5c50"/><rect x="968.0" y="1565.8" width="16.6" height="12.15" fill="#0a5457"/><rect x="984.2" y="1565.8" width="16.6" height="12.15" fill="#074c5f"/><rect x="1000.3" y="1565.8" width="16.6" height="12.15" fill="#02406a"/><rect x="1016.5" y="1565.8" width="16.6" height="12.15" fill="#053c70"/><rect x="1032.6" y="1565.8" width="16.6" height="12.15" fill="#0a3b72"/><rect x="1048.8" y="1565.8" width="16.6" height="12.15" fill="#0f3b74"/><rect x="1065.0" y="1565.8" width="16.6" height="12.15" fill="#1a3a79"/><rect x="1081.1" y="1565.8" width="16.6" height="12.15" fill="#1f397b"/><rect x="1097.3" y="1565.8" width="16.6" height="12.15" fill="#24397d"/><rect x="1113.4" y="1565.8" width="16.6" height="12.15" fill="#29387f"/><rect x="1129.6" y="1565.8" width="16.6" height="12.15" fill="#333884"/><rect x="1145.8" y="1565.8" width="16.6" height="12.15" fill="#383786"/><rect x="1161.9" y="1565.8" width="32.7" height="12.15" fill="#333884"/><rect x="1194.2" y="1565.8" width="48.9" height="12.15" fill="#383786"/><rect x="1242.7" y="1565.8" width="48.9" height="12.15" fill="#333884"/><rect x="1291.2" y="1565.8" width="32.7" height="12.15" fill="#383786"/><rect x="1323.5" y="1565.8" width="16.6" height="12.15" fill="#333884"/><rect x="1339.7" y="1565.8" width="32.7" height="12.15" fill="#3d3788"/><rect x="1372.0" y="1565.8" width="16.6" height="12.15" fill="#383786"/><rect x="1388.2" y="1565.8" width="32.7" height="12.15" fill="#333884"/><rect x="1420.5" y="1565.8" width="16.6" height="12.15" fill="#2e3881"/><rect x="1436.6" y="1565.8" width="32.7" height="12.15" fill="#333884"/><rect x="1469.0" y="1565.8" width="32.7" height="12.15" fill="#383786"/><rect x="1501.3" y="1565.8" width="16.6" height="12.15" fill="#2e3881"/><rect x="1517.4" y="1565.8" width="48.9" height="12.15" fill="#333884"/><rect x="1565.9" y="1565.8" width="113.5" height="12.15" fill="#383786"/><rect x="1679.0" y="1565.8" width="16.6" height="12.15" fill="#3d3788"/><rect x="1695.2" y="1565.8" width="16.6" height="12.15" fill="#383786"/><rect x="1711.4" y="1565.8" width="16.6" height="12.15" fill="#3d3788"/><rect x="1727.5" y="1565.8" width="16.6" height="12.15" fill="#333884"/><rect x="418.6" y="1577.6" width="16.6" height="12.15" fill="#0a3b72"/><rect x="434.7" y="1577.6" width="16.6" height="12.15" fill="#003c6e"/><rect x="450.9" y="1577.6" width="16.6" height="12.15" fill="#0f3b74"/><rect x="467.0" y="1577.6" width="81.2" height="12.15" fill="#1a3a79"/><rect x="547.8" y="1577.6" width="16.6" height="12.15" fill="#1f397b"/><rect x="564.0" y="1577.6" width="16.6" height="12.15" fill="#24397d"/><rect x="580.2" y="1577.6" width="16.6" height="12.15" fill="#1f397b"/><rect x="596.3" y="1577.6" width="32.7" height="12.15" fill="#24397d"/><rect x="628.6" y="1577.6" width="65.0" height="12.15" fill="#29387f"/><rect x="693.3" y="1577.6" width="16.6" height="12.15" fill="#2e3881"/><rect x="709.4" y="1577.6" width="32.7" height="12.15" fill="#29387f"/><rect x="741.8" y="1577.6" width="16.6" height="12.15" fill="#2e3881"/><rect x="757.9" y="1577.6" width="32.7" height="12.15" fill="#29387f"/><rect x="790.2" y="1577.6" width="16.6" height="12.15" fill="#1f397b"/><rect x="806.4" y="1577.6" width="16.6" height="12.15" fill="#24397d"/><rect x="822.6" y="1577.6" width="16.6" height="12.15" fill="#0a3b72"/><rect x="838.7" y="1577.6" width="16.6" height="12.15" fill="#053c70"/><rect x="854.9" y="1577.6" width="16.6" height="12.15" fill="#054863"/><rect x="871.0" y="1577.6" width="16.6" height="12.15" fill="#0a5457"/><rect x="887.2" y="1577.6" width="16.6" height="12.15" fill="#08505b"/><rect x="903.4" y="1577.6" width="32.7" height="12.15" fill="#0a5457"/><rect x="935.7" y="1577.6" width="32.7" height="12.15" fill="#0e5c50"/><rect x="968.0" y="1577.6" width="16.6" height="12.15" fill="#0a5457"/><rect x="984.2" y="1577.6" width="16.6" height="12.15" fill="#034466"/><rect x="1000.3" y="1577.6" width="32.7" height="12.15" fill="#02406a"/><rect x="1032.6" y="1577.6" width="16.6" height="12.15" fill="#0a3b72"/><rect x="1048.8" y="1577.6" width="16.6" height="12.15" fill="#0f3b74"/><rect x="1065.0" y="1577.6" width="16.6" height="12.15" fill="#143a77"/><rect x="1081.1" y="1577.6" width="16.6" height="12.15" fill="#24397d"/><rect x="1097.3" y="1577.6" width="16.6" height="12.15" fill="#1f397b"/><rect x="1113.4" y="1577.6" width="32.7" height="12.15" fill="#29387f"/><rect x="1145.8" y="1577.6" width="16.6" height="12.15" fill="#333884"/><rect x="1161.9" y="1577.6" width="16.6" height="12.15" fill="#2e3881"/><rect x="1178.1" y="1577.6" width="16.6" height="12.15" fill="#333884"/><rect x="1194.2" y="1577.6" width="81.2" height="12.15" fill="#2e3881"/><rect x="1275.0" y="1577.6" width="16.6" height="12.15" fill="#3d3788"/><rect x="1291.2" y="1577.6" width="16.6" height="12.15" fill="#2e3881"/><rect x="1307.4" y="1577.6" width="32.7" height="12.15" fill="#333884"/><rect x="1339.7" y="1577.6" width="16.6" height="12.15" fill="#383786"/><rect x="1355.8" y="1577.6" width="16.6" height="12.15" fill="#3d3788"/><rect x="1372.0" y="1577.6" width="16.6" height="12.15" fill="#383786"/><rect x="1388.2" y="1577.6" width="16.6" height="12.15" fill="#333884"/><rect x="1404.3" y="1577.6" width="16.6" height="12.15" fill="#2e3881"/><rect x="1420.5" y="1577.6" width="32.7" height="12.15" fill="#383786"/><rect x="1452.8" y="1577.6" width="16.6" height="12.15" fill="#2e3881"/><rect x="1469.0" y="1577.6" width="16.6" height="12.15" fill="#383786"/><rect x="1485.1" y="1577.6" width="16.6" height="12.15" fill="#29387f"/><rect x="1501.3" y="1577.6" width="16.6" height="12.15" fill="#333884"/><rect x="1517.4" y="1577.6" width="16.6" height="12.15" fill="#383786"/><rect x="1533.6" y="1577.6" width="16.6" height="12.15" fill="#333884"/><rect x="1549.8" y="1577.6" width="16.6" height="12.15" fill="#2e3881"/><rect x="1565.9" y="1577.6" width="16.6" height="12.15" fill="#3d3788"/><rect x="1582.1" y="1577.6" width="16.6" height="12.15" fill="#333884"/><rect x="1598.2" y="1577.6" width="16.6" height="12.15" fill="#383786"/><rect x="1614.4" y="1577.6" width="16.6" height="12.15" fill="#333884"/><rect x="1630.6" y="1577.6" width="16.6" height="12.15" fill="#3d3788"/><rect x="1646.7" y="1577.6" width="16.6" height="12.15" fill="#42368a"/><rect x="1662.9" y="1577.6" width="16.6" height="12.15" fill="#383786"/><rect x="1679.0" y="1577.6" width="16.6" height="12.15" fill="#333884"/><rect x="418.6" y="1589.3" width="32.7" height="12.15" fill="#1a3a79"/><rect x="450.9" y="1589.3" width="32.7" height="12.15" fill="#24397d"/><rect x="483.2" y="1589.3" width="16.6" height="12.15" fill="#29387f"/><rect x="499.4" y="1589.3" width="16.6" height="12.15" fill="#1f397b"/><rect x="515.5" y="1589.3" width="16.6" height="12.15" fill="#24397d"/><rect x="531.7" y="1589.3" width="16.6" height="12.15" fill="#29387f"/><rect x="547.8" y="1589.3" width="65.0" height="12.15" fill="#24397d"/><rect x="612.5" y="1589.3" width="48.9" height="12.15" fill="#29387f"/><rect x="661.0" y="1589.3" width="16.6" height="12.15" fill="#24397d"/><rect x="677.1" y="1589.3" width="16.6" height="12.15" fill="#2e3881"/><rect x="693.3" y="1589.3" width="16.6" height="12.15" fill="#333884"/><rect x="709.4" y="1589.3" width="16.6" height="12.15" fill="#29387f"/><rect x="725.6" y="1589.3" width="16.6" height="12.15" fill="#2e3881"/><rect x="741.8" y="1589.3" width="48.9" height="12.15" fill="#24397d"/><rect x="790.2" y="1589.3" width="16.6" height="12.15" fill="#1a3a79"/><rect x="806.4" y="1589.3" width="16.6" height="12.15" fill="#143a77"/><rect x="822.6" y="1589.3" width="16.6" height="12.15" fill="#0a3b72"/><rect x="838.7" y="1589.3" width="16.6" height="12.15" fill="#053c70"/><rect x="854.9" y="1589.3" width="16.6" height="12.15" fill="#034466"/><rect x="871.0" y="1589.3" width="16.6" height="12.15" fill="#08505b"/><rect x="887.2" y="1589.3" width="16.6" height="12.15" fill="#0a5457"/><rect x="903.4" y="1589.3" width="16.6" height="12.15" fill="#0c5853"/><rect x="919.5" y="1589.3" width="16.6" height="12.15" fill="#0e5c50"/><rect x="935.7" y="1589.3" width="32.7" height="12.15" fill="#0a5457"/><rect x="968.0" y="1589.3" width="16.6" height="12.15" fill="#08505b"/><rect x="984.2" y="1589.3" width="16.6" height="12.15" fill="#054863"/><rect x="1000.3" y="1589.3" width="16.6" height="12.15" fill="#034466"/><rect x="1016.5" y="1589.3" width="16.6" height="12.15" fill="#053c70"/><rect x="1032.6" y="1589.3" width="16.6" height="12.15" fill="#003c6e"/><rect x="1048.8" y="1589.3" width="32.7" height="12.15" fill="#143a77"/><rect x="1081.1" y="1589.3" width="16.6" height="12.15" fill="#24397d"/><rect x="1097.3" y="1589.3" width="16.6" height="12.15" fill="#1f397b"/><rect x="1113.4" y="1589.3" width="16.6" height="12.15" fill="#2e3881"/><rect x="1129.6" y="1589.3" width="16.6" height="12.15" fill="#29387f"/><rect x="1145.8" y="1589.3" width="16.6" height="12.15" fill="#333884"/><rect x="1161.9" y="1589.3" width="16.6" height="12.15" fill="#2e3881"/><rect x="1178.1" y="1589.3" width="16.6" height="12.15" fill="#29387f"/><rect x="1194.2" y="1589.3" width="16.6" height="12.15" fill="#333884"/><rect x="1210.4" y="1589.3" width="32.7" height="12.15" fill="#2e3881"/><rect x="1242.7" y="1589.3" width="16.6" height="12.15" fill="#383786"/><rect x="1258.9" y="1589.3" width="32.7" height="12.15" fill="#2e3881"/><rect x="1291.2" y="1589.3" width="16.6" height="12.15" fill="#333884"/><rect x="1307.4" y="1589.3" width="16.6" height="12.15" fill="#2e3881"/><rect x="1323.5" y="1589.3" width="32.7" height="12.15" fill="#383786"/><rect x="1355.8" y="1589.3" width="16.6" height="12.15" fill="#333884"/><rect x="1372.0" y="1589.3" width="16.6" height="12.15" fill="#383786"/><rect x="1388.2" y="1589.3" width="16.6" height="12.15" fill="#29387f"/><rect x="1404.3" y="1589.3" width="16.6" height="12.15" fill="#3d3788"/><rect x="1420.5" y="1589.3" width="32.7" height="12.15" fill="#333884"/><rect x="1452.8" y="1589.3" width="32.7" height="12.15" fill="#3d3788"/><rect x="1485.1" y="1589.3" width="16.6" height="12.15" fill="#333884"/><rect x="1501.3" y="1589.3" width="16.6" height="12.15" fill="#383786"/><rect x="1517.4" y="1589.3" width="32.7" height="12.15" fill="#333884"/><rect x="1549.8" y="1589.3" width="16.6" height="12.15" fill="#383786"/><rect x="1565.9" y="1589.3" width="16.6" height="12.15" fill="#3d3788"/><rect x="1582.1" y="1589.3" width="16.6" height="12.15" fill="#47368c"/><rect x="1598.2" y="1589.3" width="16.6" height="12.15" fill="#383786"/><rect x="1614.4" y="1589.3" width="16.6" height="12.15" fill="#3d3788"/><rect x="1630.6" y="1589.3" width="32.7" height="12.15" fill="#383786"/><rect x="1662.9" y="1589.3" width="16.6" height="12.15" fill="#3d3788"/><rect x="434.7" y="1601.1" width="32.7" height="12.15" fill="#2e3881"/><rect x="467.0" y="1601.1" width="16.6" height="12.15" fill="#29387f"/><rect x="483.2" y="1601.1" width="32.7" height="12.15" fill="#2e3881"/><rect x="515.5" y="1601.1" width="16.6" height="12.15" fill="#333884"/><rect x="531.7" y="1601.1" width="16.6" height="12.15" fill="#29387f"/><rect x="547.8" y="1601.1" width="48.9" height="12.15" fill="#2e3881"/><rect x="596.3" y="1601.1" width="16.6" height="12.15" fill="#29387f"/><rect x="612.5" y="1601.1" width="16.6" height="12.15" fill="#2e3881"/><rect x="628.6" y="1601.1" width="16.6" height="12.15" fill="#333884"/><rect x="644.8" y="1601.1" width="16.6" height="12.15" fill="#29387f"/><rect x="661.0" y="1601.1" width="48.9" height="12.15" fill="#2e3881"/><rect x="709.4" y="1601.1" width="32.7" height="12.15" fill="#29387f"/><rect x="741.8" y="1601.1" width="16.6" height="12.15" fill="#2e3881"/><rect x="757.9" y="1601.1" width="16.6" height="12.15" fill="#29387f"/><rect x="774.1" y="1601.1" width="16.6" height="12.15" fill="#2e3881"/><rect x="790.2" y="1601.1" width="16.6" height="12.15" fill="#1f397b"/><rect x="806.4" y="1601.1" width="16.6" height="12.15" fill="#1a3a79"/><rect x="822.6" y="1601.1" width="16.6" height="12.15" fill="#0a3b72"/><rect x="838.7" y="1601.1" width="16.6" height="12.15" fill="#053c70"/><rect x="854.9" y="1601.1" width="16.6" height="12.15" fill="#003c6e"/><rect x="871.0" y="1601.1" width="16.6" height="12.15" fill="#08505b"/><rect x="887.2" y="1601.1" width="16.6" height="12.15" fill="#074c5f"/><rect x="903.4" y="1601.1" width="48.9" height="12.15" fill="#08505b"/><rect x="951.8" y="1601.1" width="16.6" height="12.15" fill="#0a5457"/><rect x="968.0" y="1601.1" width="16.6" height="12.15" fill="#054863"/><rect x="984.2" y="1601.1" width="16.6" height="12.15" fill="#074c5f"/><rect x="1000.3" y="1601.1" width="16.6" height="12.15" fill="#02406a"/><rect x="1016.5" y="1601.1" width="16.6" height="12.15" fill="#003c6e"/><rect x="1032.6" y="1601.1" width="16.6" height="12.15" fill="#02406a"/><rect x="1048.8" y="1601.1" width="16.6" height="12.15" fill="#053c70"/><rect x="1065.0" y="1601.1" width="16.6" height="12.15" fill="#143a77"/><rect x="1081.1" y="1601.1" width="16.6" height="12.15" fill="#24397d"/><rect x="1097.3" y="1601.1" width="16.6" height="12.15" fill="#1f397b"/><rect x="1113.4" y="1601.1" width="16.6" height="12.15" fill="#24397d"/><rect x="1129.6" y="1601.1" width="16.6" height="12.15" fill="#29387f"/><rect x="1145.8" y="1601.1" width="48.9" height="12.15" fill="#2e3881"/><rect x="1194.2" y="1601.1" width="32.7" height="12.15" fill="#29387f"/><rect x="1226.6" y="1601.1" width="16.6" height="12.15" fill="#24397d"/><rect x="1242.7" y="1601.1" width="16.6" height="12.15" fill="#2e3881"/><rect x="1258.9" y="1601.1" width="32.7" height="12.15" fill="#29387f"/><rect x="1291.2" y="1601.1" width="32.7" height="12.15" fill="#2e3881"/><rect x="1323.5" y="1601.1" width="16.6" height="12.15" fill="#29387f"/><rect x="1339.7" y="1601.1" width="32.7" height="12.15" fill="#2e3881"/><rect x="1372.0" y="1601.1" width="32.7" height="12.15" fill="#333884"/><rect x="1404.3" y="1601.1" width="16.6" height="12.15" fill="#3d3788"/><rect x="1420.5" y="1601.1" width="16.6" height="12.15" fill="#383786"/><rect x="1436.6" y="1601.1" width="16.6" height="12.15" fill="#333884"/><rect x="1452.8" y="1601.1" width="16.6" height="12.15" fill="#2e3881"/><rect x="1469.0" y="1601.1" width="32.7" height="12.15" fill="#333884"/><rect x="1501.3" y="1601.1" width="48.9" height="12.15" fill="#383786"/><rect x="1549.8" y="1601.1" width="16.6" height="12.15" fill="#333884"/><rect x="1565.9" y="1601.1" width="16.6" height="12.15" fill="#3d3788"/><rect x="1582.1" y="1601.1" width="16.6" height="12.15" fill="#333884"/><rect x="1598.2" y="1601.1" width="16.6" height="12.15" fill="#3d3788"/><rect x="1614.4" y="1601.1" width="16.6" height="12.15" fill="#42368a"/><rect x="1630.6" y="1601.1" width="16.6" height="12.15" fill="#3d3788"/><rect x="1646.7" y="1601.1" width="16.6" height="12.15" fill="#42368a"/><rect x="434.7" y="1612.8" width="16.6" height="12.15" fill="#383786"/><rect x="450.9" y="1612.8" width="65.0" height="12.15" fill="#333884"/><rect x="515.5" y="1612.8" width="32.7" height="12.15" fill="#383786"/><rect x="547.8" y="1612.8" width="16.6" height="12.15" fill="#333884"/><rect x="564.0" y="1612.8" width="16.6" height="12.15" fill="#383786"/><rect x="580.2" y="1612.8" width="16.6" height="12.15" fill="#333884"/><rect x="596.3" y="1612.8" width="16.6" height="12.15" fill="#29387f"/><rect x="612.5" y="1612.8" width="32.7" height="12.15" fill="#333884"/><rect x="644.8" y="1612.8" width="16.6" height="12.15" fill="#2e3881"/><rect x="661.0" y="1612.8" width="16.6" height="12.15" fill="#29387f"/><rect x="677.1" y="1612.8" width="16.6" height="12.15" fill="#2e3881"/><rect x="693.3" y="1612.8" width="16.6" height="12.15" fill="#29387f"/><rect x="709.4" y="1612.8" width="32.7" height="12.15" fill="#333884"/><rect x="741.8" y="1612.8" width="32.7" height="12.15" fill="#2e3881"/><rect x="774.1" y="1612.8" width="16.6" height="12.15" fill="#1f397b"/><rect x="790.2" y="1612.8" width="16.6" height="12.15" fill="#2e3881"/><rect x="806.4" y="1612.8" width="32.7" height="12.15" fill="#143a77"/><rect x="838.7" y="1612.8" width="16.6" height="12.15" fill="#053c70"/><rect x="854.9" y="1612.8" width="16.6" height="12.15" fill="#034466"/><rect x="871.0" y="1612.8" width="32.7" height="12.15" fill="#074c5f"/><rect x="903.4" y="1612.8" width="16.6" height="12.15" fill="#034466"/><rect x="919.5" y="1612.8" width="16.6" height="12.15" fill="#074c5f"/><rect x="935.7" y="1612.8" width="16.6" height="12.15" fill="#054863"/><rect x="951.8" y="1612.8" width="16.6" height="12.15" fill="#0c5853"/><rect x="968.0" y="1612.8" width="32.7" height="12.15" fill="#054863"/><rect x="1000.3" y="1612.8" width="32.7" height="12.15" fill="#003c6e"/><rect x="1032.6" y="1612.8" width="16.6" height="12.15" fill="#0a3b72"/><rect x="1048.8" y="1612.8" width="16.6" height="12.15" fill="#053c70"/><rect x="1065.0" y="1612.8" width="32.7" height="12.15" fill="#143a77"/><rect x="1097.3" y="1612.8" width="16.6" height="12.15" fill="#24397d"/><rect x="1113.4" y="1612.8" width="16.6" height="12.15" fill="#29387f"/><rect x="1129.6" y="1612.8" width="16.6" height="12.15" fill="#1f397b"/><rect x="1145.8" y="1612.8" width="16.6" height="12.15" fill="#29387f"/><rect x="1161.9" y="1612.8" width="16.6" height="12.15" fill="#2e3881"/><rect x="1178.1" y="1612.8" width="16.6" height="12.15" fill="#24397d"/><rect x="1194.2" y="1612.8" width="32.7" height="12.15" fill="#29387f"/><rect x="1226.6" y="1612.8" width="16.6" height="12.15" fill="#24397d"/><rect x="1242.7" y="1612.8" width="16.6" height="12.15" fill="#2e3881"/><rect x="1258.9" y="1612.8" width="16.6" height="12.15" fill="#24397d"/><rect x="1275.0" y="1612.8" width="16.6" height="12.15" fill="#2e3881"/><rect x="1291.2" y="1612.8" width="16.6" height="12.15" fill="#24397d"/><rect x="1307.4" y="1612.8" width="16.6" height="12.15" fill="#29387f"/><rect x="1323.5" y="1612.8" width="32.7" height="12.15" fill="#2e3881"/><rect x="1355.8" y="1612.8" width="32.7" height="12.15" fill="#333884"/><rect x="1388.2" y="1612.8" width="16.6" height="12.15" fill="#2e3881"/><rect x="1404.3" y="1612.8" width="16.6" height="12.15" fill="#3d3788"/><rect x="1420.5" y="1612.8" width="16.6" height="12.15" fill="#333884"/><rect x="1436.6" y="1612.8" width="48.9" height="12.15" fill="#3d3788"/><rect x="1485.1" y="1612.8" width="16.6" height="12.15" fill="#2e3881"/><rect x="1501.3" y="1612.8" width="32.7" height="12.15" fill="#383786"/><rect x="1533.6" y="1612.8" width="16.6" height="12.15" fill="#3d3788"/><rect x="1549.8" y="1612.8" width="16.6" height="12.15" fill="#333884"/><rect x="1565.9" y="1612.8" width="16.6" height="12.15" fill="#42368a"/><rect x="1582.1" y="1612.8" width="16.6" height="12.15" fill="#383786"/><rect x="1598.2" y="1612.8" width="16.6" height="12.15" fill="#2e3881"/><rect x="1614.4" y="1612.8" width="16.6" height="12.15" fill="#3d3788"/><rect x="1630.6" y="1612.8" width="16.6" height="12.15" fill="#383786"/><rect x="450.9" y="1624.6" width="16.6" height="12.15" fill="#42368a"/><rect x="467.0" y="1624.6" width="32.7" height="12.15" fill="#47368c"/><rect x="499.4" y="1624.6" width="16.6" height="12.15" fill="#42368a"/><rect x="515.5" y="1624.6" width="16.6" height="12.15" fill="#3d3788"/><rect x="531.7" y="1624.6" width="16.6" height="12.15" fill="#42368a"/><rect x="547.8" y="1624.6" width="32.7" height="12.15" fill="#3d3788"/><rect x="580.2" y="1624.6" width="48.9" height="12.15" fill="#333884"/><rect x="628.6" y="1624.6" width="16.6" height="12.15" fill="#383786"/><rect x="644.8" y="1624.6" width="16.6" height="12.15" fill="#333884"/><rect x="661.0" y="1624.6" width="16.6" height="12.15" fill="#2e3881"/><rect x="677.1" y="1624.6" width="16.6" height="12.15" fill="#333884"/><rect x="693.3" y="1624.6" width="16.6" height="12.15" fill="#2e3881"/><rect x="709.4" y="1624.6" width="16.6" height="12.15" fill="#333884"/><rect x="725.6" y="1624.6" width="32.7" height="12.15" fill="#2e3881"/><rect x="757.9" y="1624.6" width="16.6" height="12.15" fill="#29387f"/><rect x="774.1" y="1624.6" width="16.6" height="12.15" fill="#2e3881"/><rect x="790.2" y="1624.6" width="16.6" height="12.15" fill="#29387f"/><rect x="806.4" y="1624.6" width="16.6" height="12.15" fill="#143a77"/><rect x="822.6" y="1624.6" width="16.6" height="12.15" fill="#1a3a79"/><rect x="838.7" y="1624.6" width="16.6" height="12.15" fill="#0a3b72"/><rect x="854.9" y="1624.6" width="16.6" height="12.15" fill="#02406a"/><rect x="871.0" y="1624.6" width="48.9" height="12.15" fill="#034466"/><rect x="919.5" y="1624.6" width="32.7" height="12.15" fill="#074c5f"/><rect x="951.8" y="1624.6" width="16.6" height="12.15" fill="#08505b"/><rect x="968.0" y="1624.6" width="32.7" height="12.15" fill="#054863"/><rect x="1000.3" y="1624.6" width="16.6" height="12.15" fill="#003c6e"/><rect x="1016.5" y="1624.6" width="16.6" height="12.15" fill="#02406a"/><rect x="1032.6" y="1624.6" width="32.7" height="12.15" fill="#053c70"/><rect x="1065.0" y="1624.6" width="16.6" height="12.15" fill="#0a3b72"/><rect x="1081.1" y="1624.6" width="16.6" height="12.15" fill="#143a77"/><rect x="1097.3" y="1624.6" width="16.6" height="12.15" fill="#24397d"/><rect x="1113.4" y="1624.6" width="16.6" height="12.15" fill="#1f397b"/><rect x="1129.6" y="1624.6" width="32.7" height="12.15" fill="#29387f"/><rect x="1161.9" y="1624.6" width="16.6" height="12.15" fill="#24397d"/><rect x="1178.1" y="1624.6" width="16.6" height="12.15" fill="#29387f"/><rect x="1194.2" y="1624.6" width="32.7" height="12.15" fill="#1f397b"/><rect x="1226.6" y="1624.6" width="32.7" height="12.15" fill="#24397d"/><rect x="1258.9" y="1624.6" width="32.7" height="12.15" fill="#29387f"/><rect x="1291.2" y="1624.6" width="16.6" height="12.15" fill="#333884"/><rect x="1307.4" y="1624.6" width="16.6" height="12.15" fill="#29387f"/><rect x="1323.5" y="1624.6" width="65.0" height="12.15" fill="#2e3881"/><rect x="1388.2" y="1624.6" width="16.6" height="12.15" fill="#383786"/><rect x="1404.3" y="1624.6" width="16.6" height="12.15" fill="#3d3788"/><rect x="1420.5" y="1624.6" width="48.9" height="12.15" fill="#383786"/><rect x="1469.0" y="1624.6" width="32.7" height="12.15" fill="#333884"/><rect x="1501.3" y="1624.6" width="32.7" height="12.15" fill="#383786"/><rect x="1533.6" y="1624.6" width="48.9" height="12.15" fill="#3d3788"/><rect x="1582.1" y="1624.6" width="32.7" height="12.15" fill="#383786"/><rect x="450.9" y="1636.3" width="48.9" height="12.15" fill="#47368c"/><rect x="499.4" y="1636.3" width="16.6" height="12.15" fill="#42368a"/><rect x="515.5" y="1636.3" width="32.7" height="12.15" fill="#47368c"/><rect x="547.8" y="1636.3" width="16.6" height="12.15" fill="#42368a"/><rect x="564.0" y="1636.3" width="32.7" height="12.15" fill="#3d3788"/><rect x="596.3" y="1636.3" width="16.6" height="12.15" fill="#383786"/><rect x="612.5" y="1636.3" width="16.6" height="12.15" fill="#42368a"/><rect x="628.6" y="1636.3" width="16.6" height="12.15" fill="#333884"/><rect x="644.8" y="1636.3" width="16.6" height="12.15" fill="#2e3881"/><rect x="661.0" y="1636.3" width="16.6" height="12.15" fill="#333884"/><rect x="677.1" y="1636.3" width="32.7" height="12.15" fill="#383786"/><rect x="709.4" y="1636.3" width="16.6" height="12.15" fill="#333884"/><rect x="725.6" y="1636.3" width="16.6" height="12.15" fill="#383786"/><rect x="741.8" y="1636.3" width="32.7" height="12.15" fill="#2e3881"/><rect x="774.1" y="1636.3" width="16.6" height="12.15" fill="#29387f"/><rect x="790.2" y="1636.3" width="16.6" height="12.15" fill="#24397d"/><rect x="806.4" y="1636.3" width="16.6" height="12.15" fill="#29387f"/><rect x="822.6" y="1636.3" width="16.6" height="12.15" fill="#143a77"/><rect x="838.7" y="1636.3" width="16.6" height="12.15" fill="#0f3b74"/><rect x="854.9" y="1636.3" width="16.6" height="12.15" fill="#053c70"/><rect x="871.0" y="1636.3" width="16.6" height="12.15" fill="#02406a"/><rect x="887.2" y="1636.3" width="16.6" height="12.15" fill="#034466"/><rect x="903.4" y="1636.3" width="16.6" height="12.15" fill="#054863"/><rect x="919.5" y="1636.3" width="16.6" height="12.15" fill="#02406a"/><rect x="935.7" y="1636.3" width="16.6" height="12.15" fill="#074c5f"/><rect x="951.8" y="1636.3" width="16.6" height="12.15" fill="#08505b"/><rect x="968.0" y="1636.3" width="32.7" height="12.15" fill="#054863"/><rect x="1000.3" y="1636.3" width="16.6" height="12.15" fill="#034466"/><rect x="1016.5" y="1636.3" width="16.6" height="12.15" fill="#003c6e"/><rect x="1032.6" y="1636.3" width="16.6" height="12.15" fill="#02406a"/><rect x="1048.8" y="1636.3" width="16.6" height="12.15" fill="#003c6e"/><rect x="1065.0" y="1636.3" width="32.7" height="12.15" fill="#053c70"/><rect x="1097.3" y="1636.3" width="16.6" height="12.15" fill="#143a77"/><rect x="1113.4" y="1636.3" width="16.6" height="12.15" fill="#1a3a79"/><rect x="1129.6" y="1636.3" width="16.6" height="12.15" fill="#143a77"/><rect x="1145.8" y="1636.3" width="16.6" height="12.15" fill="#24397d"/><rect x="1161.9" y="1636.3" width="16.6" height="12.15" fill="#1f397b"/><rect x="1178.1" y="1636.3" width="48.9" height="12.15" fill="#1a3a79"/><rect x="1226.6" y="1636.3" width="16.6" height="12.15" fill="#1f397b"/><rect x="1242.7" y="1636.3" width="16.6" height="12.15" fill="#143a77"/><rect x="1258.9" y="1636.3" width="16.6" height="12.15" fill="#1a3a79"/><rect x="1275.0" y="1636.3" width="16.6" height="12.15" fill="#1f397b"/><rect x="1291.2" y="1636.3" width="48.9" height="12.15" fill="#24397d"/><rect x="1339.7" y="1636.3" width="16.6" height="12.15" fill="#2e3881"/><rect x="1355.8" y="1636.3" width="16.6" height="12.15" fill="#29387f"/><rect x="1372.0" y="1636.3" width="16.6" height="12.15" fill="#2e3881"/><rect x="1388.2" y="1636.3" width="16.6" height="12.15" fill="#333884"/><rect x="1404.3" y="1636.3" width="16.6" height="12.15" fill="#2e3881"/><rect x="1420.5" y="1636.3" width="16.6" height="12.15" fill="#333884"/><rect x="1436.6" y="1636.3" width="16.6" height="12.15" fill="#3d3788"/><rect x="1452.8" y="1636.3" width="16.6" height="12.15" fill="#383786"/><rect x="1469.0" y="1636.3" width="16.6" height="12.15" fill="#3d3788"/><rect x="1485.1" y="1636.3" width="16.6" height="12.15" fill="#383786"/><rect x="1501.3" y="1636.3" width="16.6" height="12.15" fill="#3d3788"/><rect x="1517.4" y="1636.3" width="16.6" height="12.15" fill="#333884"/><rect x="1533.6" y="1636.3" width="16.6" height="12.15" fill="#383786"/><rect x="1549.8" y="1636.3" width="16.6" height="12.15" fill="#333884"/><rect x="1565.9" y="1636.3" width="16.6" height="12.15" fill="#383786"/><rect x="386.2" y="1648.1" width="16.6" height="12.15" fill="#573493"/><rect x="418.6" y="1648.1" width="16.6" height="12.15" fill="#523590"/><rect x="434.7" y="1648.1" width="16.6" height="12.15" fill="#4c358e"/><rect x="450.9" y="1648.1" width="16.6" height="12.15" fill="#523590"/><rect x="467.0" y="1648.1" width="16.6" height="12.15" fill="#4c358e"/><rect x="483.2" y="1648.1" width="16.6" height="12.15" fill="#47368c"/><rect x="499.4" y="1648.1" width="32.7" height="12.15" fill="#4c358e"/><rect x="531.7" y="1648.1" width="16.6" height="12.15" fill="#523590"/><rect x="547.8" y="1648.1" width="16.6" height="12.15" fill="#47368c"/><rect x="564.0" y="1648.1" width="16.6" height="12.15" fill="#42368a"/><rect x="580.2" y="1648.1" width="16.6" height="12.15" fill="#47368c"/><rect x="596.3" y="1648.1" width="16.6" height="12.15" fill="#3d3788"/><rect x="612.5" y="1648.1" width="32.7" height="12.15" fill="#47368c"/><rect x="644.8" y="1648.1" width="16.6" height="12.15" fill="#42368a"/><rect x="661.0" y="1648.1" width="65.0" height="12.15" fill="#3d3788"/><rect x="725.6" y="1648.1" width="48.9" height="12.15" fill="#333884"/><rect x="774.1" y="1648.1" width="16.6" height="12.15" fill="#2e3881"/><rect x="790.2" y="1648.1" width="16.6" height="12.15" fill="#1f397b"/><rect x="806.4" y="1648.1" width="16.6" height="12.15" fill="#29387f"/><rect x="822.6" y="1648.1" width="16.6" height="12.15" fill="#143a77"/><rect x="838.7" y="1648.1" width="16.6" height="12.15" fill="#053c70"/><rect x="854.9" y="1648.1" width="16.6" height="12.15" fill="#003c6e"/><rect x="871.0" y="1648.1" width="16.6" height="12.15" fill="#02406a"/><rect x="887.2" y="1648.1" width="16.6" height="12.15" fill="#034466"/><rect x="903.4" y="1648.1" width="16.6" height="12.15" fill="#054863"/><rect x="919.5" y="1648.1" width="16.6" height="12.15" fill="#074c5f"/><rect x="935.7" y="1648.1" width="16.6" height="12.15" fill="#054863"/><rect x="951.8" y="1648.1" width="16.6" height="12.15" fill="#074c5f"/><rect x="968.0" y="1648.1" width="16.6" height="12.15" fill="#054863"/><rect x="984.2" y="1648.1" width="16.6" height="12.15" fill="#074c5f"/><rect x="1000.3" y="1648.1" width="16.6" height="12.15" fill="#054863"/><rect x="1016.5" y="1648.1" width="16.6" height="12.15" fill="#02406a"/><rect x="1032.6" y="1648.1" width="16.6" height="12.15" fill="#003c6e"/><rect x="1048.8" y="1648.1" width="32.7" height="12.15" fill="#02406a"/><rect x="1081.1" y="1648.1" width="16.6" height="12.15" fill="#053c70"/><rect x="1097.3" y="1648.1" width="16.6" height="12.15" fill="#0a3b72"/><rect x="1113.4" y="1648.1" width="16.6" height="12.15" fill="#053c70"/><rect x="1129.6" y="1648.1" width="16.6" height="12.15" fill="#143a77"/><rect x="1145.8" y="1648.1" width="16.6" height="12.15" fill="#0a3b72"/><rect x="1161.9" y="1648.1" width="48.9" height="12.15" fill="#0f3b74"/><rect x="1210.4" y="1648.1" width="16.6" height="12.15" fill="#0a3b72"/><rect x="1226.6" y="1648.1" width="32.7" height="12.15" fill="#143a77"/><rect x="1258.9" y="1648.1" width="16.6" height="12.15" fill="#1a3a79"/><rect x="1275.0" y="1648.1" width="16.6" height="12.15" fill="#143a77"/><rect x="1291.2" y="1648.1" width="32.7" height="12.15" fill="#1a3a79"/><rect x="1323.5" y="1648.1" width="32.7" height="12.15" fill="#29387f"/><rect x="1355.8" y="1648.1" width="16.6" height="12.15" fill="#24397d"/><rect x="1372.0" y="1648.1" width="32.7" height="12.15" fill="#2e3881"/><rect x="1404.3" y="1648.1" width="16.6" height="12.15" fill="#333884"/><rect x="1420.5" y="1648.1" width="16.6" height="12.15" fill="#383786"/><rect x="1436.6" y="1648.1" width="16.6" height="12.15" fill="#42368a"/><rect x="1452.8" y="1648.1" width="16.6" height="12.15" fill="#333884"/><rect x="1469.0" y="1648.1" width="16.6" height="12.15" fill="#383786"/><rect x="1485.1" y="1648.1" width="16.6" height="12.15" fill="#333884"/><rect x="1501.3" y="1648.1" width="48.9" height="12.15" fill="#42368a"/><rect x="1549.8" y="1648.1" width="16.6" height="12.15" fill="#3d3788"/><rect x="1565.9" y="1648.1" width="16.6" height="12.15" fill="#333884"/><rect x="1582.1" y="1648.1" width="16.6" height="12.15" fill="#383786"/><rect x="370.1" y="1659.8" width="16.6" height="12.15" fill="#613397"/><rect x="386.2" y="1659.8" width="16.6" height="12.15" fill="#573493"/><rect x="402.4" y="1659.8" width="32.7" height="12.15" fill="#5c3495"/><rect x="434.7" y="1659.8" width="32.7" height="12.15" fill="#4c358e"/><rect x="467.0" y="1659.8" width="16.6" height="12.15" fill="#5c3495"/><rect x="483.2" y="1659.8" width="32.7" height="12.15" fill="#4c358e"/><rect x="515.5" y="1659.8" width="16.6" height="12.15" fill="#523590"/><rect x="531.7" y="1659.8" width="16.6" height="12.15" fill="#4c358e"/><rect x="547.8" y="1659.8" width="16.6" height="12.15" fill="#573493"/><rect x="564.0" y="1659.8" width="32.7" height="12.15" fill="#523590"/><rect x="596.3" y="1659.8" width="16.6" height="12.15" fill="#4c358e"/><rect x="612.5" y="1659.8" width="16.6" height="12.15" fill="#42368a"/><rect x="628.6" y="1659.8" width="16.6" height="12.15" fill="#4c358e"/><rect x="644.8" y="1659.8" width="32.7" height="12.15" fill="#47368c"/><rect x="677.1" y="1659.8" width="32.7" height="12.15" fill="#42368a"/><rect x="709.4" y="1659.8" width="48.9" height="12.15" fill="#3d3788"/><rect x="757.9" y="1659.8" width="16.6" height="12.15" fill="#333884"/><rect x="774.1" y="1659.8" width="32.7" height="12.15" fill="#29387f"/><rect x="806.4" y="1659.8" width="16.6" height="12.15" fill="#1a3a79"/><rect x="822.6" y="1659.8" width="32.7" height="12.15" fill="#0a3b72"/><rect x="854.9" y="1659.8" width="16.6" height="12.15" fill="#003c6e"/><rect x="871.0" y="1659.8" width="16.6" height="12.15" fill="#054863"/><rect x="887.2" y="1659.8" width="48.9" height="12.15" fill="#034466"/><rect x="935.7" y="1659.8" width="32.7" height="12.15" fill="#074c5f"/><rect x="968.0" y="1659.8" width="32.7" height="12.15" fill="#054863"/><rect x="1000.3" y="1659.8" width="16.6" height="12.15" fill="#074c5f"/><rect x="1016.5" y="1659.8" width="16.6" height="12.15" fill="#054863"/><rect x="1032.6" y="1659.8" width="65.0" height="12.15" fill="#02406a"/><rect x="1097.3" y="1659.8" width="16.6" height="12.15" fill="#053c70"/><rect x="1113.4" y="1659.8" width="32.7" height="12.15" fill="#0a3b72"/><rect x="1145.8" y="1659.8" width="16.6" height="12.15" fill="#0f3b74"/><rect x="1161.9" y="1659.8" width="32.7" height="12.15" fill="#053c70"/><rect x="1194.2" y="1659.8" width="16.6" height="12.15" fill="#003c6e"/><rect x="1210.4" y="1659.8" width="16.6" height="12.15" fill="#0a3b72"/><rect x="1226.6" y="1659.8" width="16.6" height="12.15" fill="#053c70"/><rect x="1242.7" y="1659.8" width="32.7" height="12.15" fill="#0a3b72"/><rect x="1275.0" y="1659.8" width="16.6" height="12.15" fill="#053c70"/><rect x="1291.2" y="1659.8" width="32.7" height="12.15" fill="#143a77"/><rect x="1323.5" y="1659.8" width="16.6" height="12.15" fill="#1f397b"/><rect x="1339.7" y="1659.8" width="16.6" height="12.15" fill="#24397d"/><rect x="1355.8" y="1659.8" width="32.7" height="12.15" fill="#2e3881"/><rect x="1388.2" y="1659.8" width="16.6" height="12.15" fill="#333884"/><rect x="1404.3" y="1659.8" width="16.6" height="12.15" fill="#2e3881"/><rect x="1420.5" y="1659.8" width="32.7" height="12.15" fill="#383786"/><rect x="1452.8" y="1659.8" width="16.6" height="12.15" fill="#333884"/><rect x="1469.0" y="1659.8" width="97.4" height="12.15" fill="#383786"/><rect x="1565.9" y="1659.8" width="16.6" height="12.15" fill="#3d3788"/><rect x="1582.1" y="1659.8" width="16.6" height="12.15" fill="#383786"/><rect x="353.9" y="1671.6" width="16.6" height="12.15" fill="#573493"/><rect x="370.1" y="1671.6" width="16.6" height="12.15" fill="#5c3495"/><rect x="386.2" y="1671.6" width="16.6" height="12.15" fill="#523590"/><rect x="402.4" y="1671.6" width="81.2" height="12.15" fill="#573493"/><rect x="483.2" y="1671.6" width="16.6" height="12.15" fill="#523590"/><rect x="499.4" y="1671.6" width="16.6" height="12.15" fill="#4c358e"/><rect x="515.5" y="1671.6" width="16.6" height="12.15" fill="#523590"/><rect x="531.7" y="1671.6" width="16.6" height="12.15" fill="#5c3495"/><rect x="547.8" y="1671.6" width="32.7" height="12.15" fill="#573493"/><rect x="580.2" y="1671.6" width="16.6" height="12.15" fill="#523590"/><rect x="596.3" y="1671.6" width="48.9" height="12.15" fill="#4c358e"/><rect x="644.8" y="1671.6" width="16.6" height="12.15" fill="#47368c"/><rect x="661.0" y="1671.6" width="48.9" height="12.15" fill="#4c358e"/><rect x="709.4" y="1671.6" width="16.6" height="12.15" fill="#47368c"/><rect x="725.6" y="1671.6" width="16.6" height="12.15" fill="#383786"/><rect x="741.8" y="1671.6" width="16.6" height="12.15" fill="#3d3788"/><rect x="757.9" y="1671.6" width="16.6" height="12.15" fill="#2e3881"/><rect x="774.1" y="1671.6" width="32.7" height="12.15" fill="#24397d"/><rect x="806.4" y="1671.6" width="16.6" height="12.15" fill="#1a3a79"/><rect x="822.6" y="1671.6" width="16.6" height="12.15" fill="#143a77"/><rect x="838.7" y="1671.6" width="16.6" height="12.15" fill="#0a3b72"/><rect x="854.9" y="1671.6" width="16.6" height="12.15" fill="#02406a"/><rect x="871.0" y="1671.6" width="16.6" height="12.15" fill="#034466"/><rect x="887.2" y="1671.6" width="16.6" height="12.15" fill="#054863"/><rect x="903.4" y="1671.6" width="81.2" height="12.15" fill="#074c5f"/><rect x="984.2" y="1671.6" width="16.6" height="12.15" fill="#054863"/><rect x="1000.3" y="1671.6" width="16.6" height="12.15" fill="#074c5f"/><rect x="1016.5" y="1671.6" width="16.6" height="12.15" fill="#054863"/><rect x="1032.6" y="1671.6" width="16.6" height="12.15" fill="#034466"/><rect x="1048.8" y="1671.6" width="16.6" height="12.15" fill="#074c5f"/><rect x="1065.0" y="1671.6" width="32.7" height="12.15" fill="#02406a"/><rect x="1097.3" y="1671.6" width="16.6" height="12.15" fill="#034466"/><rect x="1113.4" y="1671.6" width="16.6" height="12.15" fill="#053c70"/><rect x="1129.6" y="1671.6" width="48.9" height="12.15" fill="#003c6e"/><rect x="1178.1" y="1671.6" width="16.6" height="12.15" fill="#02406a"/><rect x="1194.2" y="1671.6" width="65.0" height="12.15" fill="#034466"/><rect x="1258.9" y="1671.6" width="16.6" height="12.15" fill="#02406a"/><rect x="1275.0" y="1671.6" width="32.7" height="12.15" fill="#003c6e"/><rect x="1307.4" y="1671.6" width="16.6" height="12.15" fill="#0f3b74"/><rect x="1323.5" y="1671.6" width="32.7" height="12.15" fill="#1a3a79"/><rect x="1355.8" y="1671.6" width="16.6" height="12.15" fill="#24397d"/><rect x="1372.0" y="1671.6" width="32.7" height="12.15" fill="#29387f"/><rect x="1404.3" y="1671.6" width="16.6" height="12.15" fill="#2e3881"/><rect x="1420.5" y="1671.6" width="16.6" height="12.15" fill="#3d3788"/><rect x="1436.6" y="1671.6" width="16.6" height="12.15" fill="#383786"/><rect x="1452.8" y="1671.6" width="16.6" height="12.15" fill="#3d3788"/><rect x="1469.0" y="1671.6" width="16.6" height="12.15" fill="#383786"/><rect x="1485.1" y="1671.6" width="16.6" height="12.15" fill="#3d3788"/><rect x="1501.3" y="1671.6" width="16.6" height="12.15" fill="#333884"/><rect x="1517.4" y="1671.6" width="16.6" height="12.15" fill="#383786"/><rect x="1533.6" y="1671.6" width="16.6" height="12.15" fill="#3d3788"/><rect x="1549.8" y="1671.6" width="16.6" height="12.15" fill="#383786"/><rect x="1565.9" y="1671.6" width="16.6" height="12.15" fill="#3d3788"/><rect x="353.9" y="1683.3" width="16.6" height="12.15" fill="#5c3495"/><rect x="370.1" y="1683.3" width="16.6" height="12.15" fill="#613397"/><rect x="386.2" y="1683.3" width="32.7" height="12.15" fill="#573493"/><rect x="418.6" y="1683.3" width="16.6" height="12.15" fill="#613397"/><rect x="434.7" y="1683.3" width="16.6" height="12.15" fill="#5c3495"/><rect x="450.9" y="1683.3" width="16.6" height="12.15" fill="#573493"/><rect x="467.0" y="1683.3" width="48.9" height="12.15" fill="#523590"/><rect x="515.5" y="1683.3" width="16.6" height="12.15" fill="#613397"/><rect x="531.7" y="1683.3" width="16.6" height="12.15" fill="#573493"/><rect x="547.8" y="1683.3" width="48.9" height="12.15" fill="#523590"/><rect x="596.3" y="1683.3" width="16.6" height="12.15" fill="#573493"/><rect x="612.5" y="1683.3" width="32.7" height="12.15" fill="#4c358e"/><rect x="644.8" y="1683.3" width="32.7" height="12.15" fill="#523590"/><rect x="677.1" y="1683.3" width="16.6" height="12.15" fill="#42368a"/><rect x="693.3" y="1683.3" width="16.6" height="12.15" fill="#4c358e"/><rect x="709.4" y="1683.3" width="16.6" height="12.15" fill="#47368c"/><rect x="725.6" y="1683.3" width="32.7" height="12.15" fill="#3d3788"/><rect x="757.9" y="1683.3" width="16.6" height="12.15" fill="#333884"/><rect x="774.1" y="1683.3" width="16.6" height="12.15" fill="#2e3881"/><rect x="790.2" y="1683.3" width="16.6" height="12.15" fill="#1f397b"/><rect x="806.4" y="1683.3" width="16.6" height="12.15" fill="#1a3a79"/><rect x="822.6" y="1683.3" width="16.6" height="12.15" fill="#0a3b72"/><rect x="838.7" y="1683.3" width="16.6" height="12.15" fill="#053c70"/><rect x="854.9" y="1683.3" width="16.6" height="12.15" fill="#003c6e"/><rect x="871.0" y="1683.3" width="16.6" height="12.15" fill="#054863"/><rect x="887.2" y="1683.3" width="16.6" height="12.15" fill="#034466"/><rect x="903.4" y="1683.3" width="16.6" height="12.15" fill="#054863"/><rect x="919.5" y="1683.3" width="16.6" height="12.15" fill="#08505b"/><rect x="935.7" y="1683.3" width="16.6" height="12.15" fill="#054863"/><rect x="951.8" y="1683.3" width="32.7" height="12.15" fill="#074c5f"/><rect x="984.2" y="1683.3" width="16.6" height="12.15" fill="#054863"/><rect x="1000.3" y="1683.3" width="16.6" height="12.15" fill="#034466"/><rect x="1016.5" y="1683.3" width="16.6" height="12.15" fill="#08505b"/><rect x="1032.6" y="1683.3" width="65.0" height="12.15" fill="#054863"/><rect x="1097.3" y="1683.3" width="16.6" height="12.15" fill="#034466"/><rect x="1113.4" y="1683.3" width="16.6" height="12.15" fill="#054863"/><rect x="1129.6" y="1683.3" width="16.6" height="12.15" fill="#08505b"/><rect x="1145.8" y="1683.3" width="32.7" height="12.15" fill="#074c5f"/><rect x="1178.1" y="1683.3" width="16.6" height="12.15" fill="#034466"/><rect x="1194.2" y="1683.3" width="16.6" height="12.15" fill="#074c5f"/><rect x="1210.4" y="1683.3" width="16.6" height="12.15" fill="#034466"/><rect x="1226.6" y="1683.3" width="16.6" height="12.15" fill="#074c5f"/><rect x="1242.7" y="1683.3" width="48.9" height="12.15" fill="#054863"/><rect x="1291.2" y="1683.3" width="16.6" height="12.15" fill="#003c6e"/><rect x="1307.4" y="1683.3" width="32.7" height="12.15" fill="#0f3b74"/><rect x="1339.7" y="1683.3" width="16.6" height="12.15" fill="#1f397b"/><rect x="1355.8" y="1683.3" width="32.7" height="12.15" fill="#29387f"/><rect x="1404.3" y="1683.3" width="16.6" height="12.15" fill="#2e3881"/><rect x="1420.5" y="1683.3" width="16.6" height="12.15" fill="#333884"/><rect x="1436.6" y="1683.3" width="48.9" height="12.15" fill="#383786"/><rect x="1485.1" y="1683.3" width="16.6" height="12.15" fill="#333884"/><rect x="1501.3" y="1683.3" width="16.6" height="12.15" fill="#42368a"/><rect x="1533.6" y="1683.3" width="16.6" height="12.15" fill="#3d3788"/><rect x="353.9" y="1695.1" width="16.6" height="12.15" fill="#613397"/><rect x="370.1" y="1695.1" width="16.6" height="12.15" fill="#5c3495"/><rect x="386.2" y="1695.1" width="32.7" height="12.15" fill="#523590"/><rect x="418.6" y="1695.1" width="16.6" height="12.15" fill="#5c3495"/><rect x="434.7" y="1695.1" width="16.6" height="12.15" fill="#523590"/><rect x="450.9" y="1695.1" width="16.6" height="12.15" fill="#5c3495"/><rect x="467.0" y="1695.1" width="16.6" height="12.15" fill="#613397"/><rect x="483.2" y="1695.1" width="16.6" height="12.15" fill="#663399"/><rect x="499.4" y="1695.1" width="16.6" height="12.15" fill="#573493"/><rect x="515.5" y="1695.1" width="16.6" height="12.15" fill="#5c3495"/><rect x="531.7" y="1695.1" width="16.6" height="12.15" fill="#523590"/><rect x="547.8" y="1695.1" width="16.6" height="12.15" fill="#573493"/><rect x="564.0" y="1695.1" width="16.6" height="12.15" fill="#5c3495"/><rect x="580.2" y="1695.1" width="16.6" height="12.15" fill="#613397"/><rect x="596.3" y="1695.1" width="16.6" height="12.15" fill="#523590"/><rect x="612.5" y="1695.1" width="16.6" height="12.15" fill="#5c3495"/><rect x="628.6" y="1695.1" width="16.6" height="12.15" fill="#573493"/><rect x="644.8" y="1695.1" width="16.6" height="12.15" fill="#613397"/><rect x="661.0" y="1695.1" width="16.6" height="12.15" fill="#523590"/><rect x="677.1" y="1695.1" width="16.6" height="12.15" fill="#4c358e"/><rect x="693.3" y="1695.1" width="16.6" height="12.15" fill="#573493"/><rect x="709.4" y="1695.1" width="16.6" height="12.15" fill="#523590"/><rect x="725.6" y="1695.1" width="16.6" height="12.15" fill="#47368c"/><rect x="741.8" y="1695.1" width="16.6" height="12.15" fill="#383786"/><rect x="757.9" y="1695.1" width="16.6" height="12.15" fill="#333884"/><rect x="774.1" y="1695.1" width="32.7" height="12.15" fill="#24397d"/><rect x="806.4" y="1695.1" width="16.6" height="12.15" fill="#1a3a79"/><rect x="822.6" y="1695.1" width="16.6" height="12.15" fill="#0f3b74"/><rect x="838.7" y="1695.1" width="16.6" height="12.15" fill="#143a77"/><rect x="854.9" y="1695.1" width="16.6" height="12.15" fill="#003c6e"/><rect x="871.0" y="1695.1" width="32.7" height="12.15" fill="#054863"/><rect x="903.4" y="1695.1" width="16.6" height="12.15" fill="#034466"/><rect x="919.5" y="1695.1" width="16.6" height="12.15" fill="#074c5f"/><rect x="935.7" y="1695.1" width="16.6" height="12.15" fill="#034466"/><rect x="951.8" y="1695.1" width="16.6" height="12.15" fill="#074c5f"/><rect x="968.0" y="1695.1" width="32.7" height="12.15" fill="#08505b"/><rect x="1000.3" y="1695.1" width="16.6" height="12.15" fill="#074c5f"/><rect x="1016.5" y="1695.1" width="16.6" height="12.15" fill="#08505b"/><rect x="1032.6" y="1695.1" width="16.6" height="12.15" fill="#0a5457"/><rect x="1048.8" y="1695.1" width="16.6" height="12.15" fill="#074c5f"/><rect x="1065.0" y="1695.1" width="16.6" height="12.15" fill="#0a5457"/><rect x="1081.1" y="1695.1" width="32.7" height="12.15" fill="#074c5f"/><rect x="1113.4" y="1695.1" width="48.9" height="12.15" fill="#0a5457"/><rect x="1161.9" y="1695.1" width="32.7" height="12.15" fill="#08505b"/><rect x="1194.2" y="1695.1" width="16.6" height="12.15" fill="#0a5457"/><rect x="1210.4" y="1695.1" width="16.6" height="12.15" fill="#0c5853"/><rect x="1226.6" y="1695.1" width="16.6" height="12.15" fill="#08505b"/><rect x="1242.7" y="1695.1" width="16.6" height="12.15" fill="#074c5f"/><rect x="1258.9" y="1695.1" width="16.6" height="12.15" fill="#0c5853"/><rect x="1275.0" y="1695.1" width="16.6" height="12.15" fill="#0a5457"/><rect x="1323.5" y="1695.1" width="16.6" height="12.15" fill="#003c6e"/><rect x="1355.8" y="1695.1" width="16.6" height="12.15" fill="#1f397b"/><rect x="1436.6" y="1695.1" width="16.6" height="12.15" fill="#383786"/><rect x="1452.8" y="1695.1" width="16.6" height="12.15" fill="#3d3788"/><rect x="1469.0" y="1695.1" width="16.6" height="12.15" fill="#333884"/><rect x="1485.1" y="1695.1" width="16.6" height="12.15" fill="#3d3788"/><rect x="353.9" y="1706.8" width="16.6" height="12.15" fill="#613397"/><rect x="370.1" y="1706.8" width="16.6" height="12.15" fill="#573493"/><rect x="386.2" y="1706.8" width="32.7" height="12.15" fill="#5c3495"/><rect x="418.6" y="1706.8" width="16.6" height="12.15" fill="#663399"/><rect x="434.7" y="1706.8" width="16.6" height="12.15" fill="#573493"/><rect x="450.9" y="1706.8" width="32.7" height="12.15" fill="#5c3495"/><rect x="483.2" y="1706.8" width="16.6" height="12.15" fill="#573493"/><rect x="499.4" y="1706.8" width="32.7" height="12.15" fill="#5c3495"/><rect x="531.7" y="1706.8" width="16.6" height="12.15" fill="#573493"/><rect x="547.8" y="1706.8" width="65.0" height="12.15" fill="#5c3495"/><rect x="612.5" y="1706.8" width="48.9" height="12.15" fill="#573493"/><rect x="661.0" y="1706.8" width="16.6" height="12.15" fill="#4c358e"/><rect x="677.1" y="1706.8" width="16.6" height="12.15" fill="#5c3495"/><rect x="693.3" y="1706.8" width="16.6" height="12.15" fill="#573493"/><rect x="709.4" y="1706.8" width="32.7" height="12.15" fill="#4c358e"/><rect x="741.8" y="1706.8" width="16.6" height="12.15" fill="#47368c"/><rect x="757.9" y="1706.8" width="16.6" height="12.15" fill="#2e3881"/><rect x="774.1" y="1706.8" width="32.7" height="12.15" fill="#29387f"/><rect x="806.4" y="1706.8" width="32.7" height="12.15" fill="#143a77"/><rect x="838.7" y="1706.8" width="16.6" height="12.15" fill="#0f3b74"/><rect x="854.9" y="1706.8" width="16.6" height="12.15" fill="#003c6e"/><rect x="871.0" y="1706.8" width="32.7" height="12.15" fill="#034466"/><rect x="903.4" y="1706.8" width="32.7" height="12.15" fill="#054863"/><rect x="935.7" y="1706.8" width="16.6" height="12.15" fill="#074c5f"/><rect x="951.8" y="1706.8" width="16.6" height="12.15" fill="#08505b"/><rect x="968.0" y="1706.8" width="16.6" height="12.15" fill="#0a5457"/><rect x="984.2" y="1706.8" width="16.6" height="12.15" fill="#08505b"/><rect x="1000.3" y="1706.8" width="32.7" height="12.15" fill="#074c5f"/><rect x="1032.6" y="1706.8" width="16.6" height="12.15" fill="#08505b"/><rect x="1048.8" y="1706.8" width="16.6" height="12.15" fill="#0c5853"/><rect x="1065.0" y="1706.8" width="16.6" height="12.15" fill="#0a5457"/><rect x="1081.1" y="1706.8" width="16.6" height="12.15" fill="#08505b"/><rect x="1097.3" y="1706.8" width="16.6" height="12.15" fill="#0c5853"/><rect x="1113.4" y="1706.8" width="16.6" height="12.15" fill="#0a5457"/><rect x="1129.6" y="1706.8" width="16.6" height="12.15" fill="#0e5c50"/><rect x="1145.8" y="1706.8" width="16.6" height="12.15" fill="#0a5457"/><rect x="1161.9" y="1706.8" width="32.7" height="12.15" fill="#0c5853"/><rect x="1194.2" y="1706.8" width="16.6" height="12.15" fill="#0a5457"/><rect x="1210.4" y="1706.8" width="16.6" height="12.15" fill="#0c5853"/><rect x="1226.6" y="1706.8" width="16.6" height="12.15" fill="#0a5457"/><rect x="1242.7" y="1706.8" width="16.6" height="12.15" fill="#0c5853"/><rect x="353.9" y="1718.6" width="16.6" height="12.15" fill="#5c3495"/><rect x="370.1" y="1718.6" width="16.6" height="12.15" fill="#523590"/><rect x="386.2" y="1718.6" width="48.9" height="12.15" fill="#5c3495"/><rect x="434.7" y="1718.6" width="16.6" height="12.15" fill="#573493"/><rect x="450.9" y="1718.6" width="16.6" height="12.15" fill="#5c3495"/><rect x="467.0" y="1718.6" width="16.6" height="12.15" fill="#613397"/><rect x="483.2" y="1718.6" width="16.6" height="12.15" fill="#5c3495"/><rect x="499.4" y="1718.6" width="97.4" height="12.15" fill="#613397"/><rect x="596.3" y="1718.6" width="32.7" height="12.15" fill="#573493"/><rect x="628.6" y="1718.6" width="16.6" height="12.15" fill="#5c3495"/><rect x="644.8" y="1718.6" width="16.6" height="12.15" fill="#613397"/><rect x="661.0" y="1718.6" width="16.6" height="12.15" fill="#523590"/><rect x="677.1" y="1718.6" width="16.6" height="12.15" fill="#613397"/><rect x="693.3" y="1718.6" width="16.6" height="12.15" fill="#5c3495"/><rect x="709.4" y="1718.6" width="16.6" height="12.15" fill="#523590"/><rect x="725.6" y="1718.6" width="16.6" height="12.15" fill="#47368c"/><rect x="741.8" y="1718.6" width="16.6" height="12.15" fill="#3d3788"/><rect x="757.9" y="1718.6" width="16.6" height="12.15" fill="#383786"/><rect x="774.1" y="1718.6" width="16.6" height="12.15" fill="#333884"/><rect x="790.2" y="1718.6" width="16.6" height="12.15" fill="#24397d"/><rect x="806.4" y="1718.6" width="16.6" height="12.15" fill="#1a3a79"/><rect x="822.6" y="1718.6" width="16.6" height="12.15" fill="#143a77"/><rect x="838.7" y="1718.6" width="16.6" height="12.15" fill="#0a3b72"/><rect x="854.9" y="1718.6" width="16.6" height="12.15" fill="#053c70"/><rect x="871.0" y="1718.6" width="16.6" height="12.15" fill="#02406a"/><rect x="887.2" y="1718.6" width="32.7" height="12.15" fill="#074c5f"/><rect x="919.5" y="1718.6" width="16.6" height="12.15" fill="#054863"/><rect x="935.7" y="1718.6" width="16.6" height="12.15" fill="#074c5f"/><rect x="951.8" y="1718.6" width="16.6" height="12.15" fill="#08505b"/><rect x="968.0" y="1718.6" width="16.6" height="12.15" fill="#0a5457"/><rect x="984.2" y="1718.6" width="16.6" height="12.15" fill="#074c5f"/><rect x="1000.3" y="1718.6" width="16.6" height="12.15" fill="#08505b"/><rect x="1016.5" y="1718.6" width="16.6" height="12.15" fill="#074c5f"/><rect x="1032.6" y="1718.6" width="16.6" height="12.15" fill="#08505b"/><rect x="1048.8" y="1718.6" width="16.6" height="12.15" fill="#0a5457"/><rect x="1065.0" y="1718.6" width="16.6" height="12.15" fill="#0c5853"/><rect x="1081.1" y="1718.6" width="16.6" height="12.15" fill="#08505b"/><rect x="1097.3" y="1718.6" width="16.6" height="12.15" fill="#0a5457"/><rect x="1113.4" y="1718.6" width="16.6" height="12.15" fill="#0e5c50"/><rect x="1129.6" y="1718.6" width="65.0" height="12.15" fill="#0c5853"/><rect x="1194.2" y="1718.6" width="32.7" height="12.15" fill="#0e5c50"/><rect x="1226.6" y="1718.6" width="16.6" height="12.15" fill="#0a5457"/><rect x="353.9" y="1730.4" width="16.6" height="12.15" fill="#5c3495"/><rect x="370.1" y="1730.4" width="16.6" height="12.15" fill="#573493"/><rect x="386.2" y="1730.4" width="16.6" height="12.15" fill="#5c3495"/><rect x="402.4" y="1730.4" width="16.6" height="12.15" fill="#613397"/><rect x="418.6" y="1730.4" width="32.7" height="12.15" fill="#5c3495"/><rect x="450.9" y="1730.4" width="16.6" height="12.15" fill="#523590"/><rect x="467.0" y="1730.4" width="16.6" height="12.15" fill="#663399"/><rect x="483.2" y="1730.4" width="16.6" height="12.15" fill="#5c3495"/><rect x="499.4" y="1730.4" width="16.6" height="12.15" fill="#573493"/><rect x="515.5" y="1730.4" width="16.6" height="12.15" fill="#613397"/><rect x="531.7" y="1730.4" width="16.6" height="12.15" fill="#5c3495"/><rect x="547.8" y="1730.4" width="16.6" height="12.15" fill="#523590"/><rect x="564.0" y="1730.4" width="16.6" height="12.15" fill="#573493"/><rect x="580.2" y="1730.4" width="16.6" height="12.15" fill="#613397"/><rect x="596.3" y="1730.4" width="81.2" height="12.15" fill="#573493"/><rect x="677.1" y="1730.4" width="16.6" height="12.15" fill="#5c3495"/><rect x="693.3" y="1730.4" width="16.6" height="12.15" fill="#573493"/><rect x="709.4" y="1730.4" width="16.6" height="12.15" fill="#523590"/><rect x="725.6" y="1730.4" width="16.6" height="12.15" fill="#4c358e"/><rect x="741.8" y="1730.4" width="48.9" height="12.15" fill="#383786"/><rect x="790.2" y="1730.4" width="16.6" height="12.15" fill="#29387f"/><rect x="806.4" y="1730.4" width="16.6" height="12.15" fill="#1a3a79"/><rect x="822.6" y="1730.4" width="16.6" height="12.15" fill="#0f3b74"/><rect x="838.7" y="1730.4" width="16.6" height="12.15" fill="#053c70"/><rect x="854.9" y="1730.4" width="16.6" height="12.15" fill="#003c6e"/><rect x="871.0" y="1730.4" width="16.6" height="12.15" fill="#074c5f"/><rect x="887.2" y="1730.4" width="16.6" height="12.15" fill="#034466"/><rect x="903.4" y="1730.4" width="48.9" height="12.15" fill="#074c5f"/><rect x="951.8" y="1730.4" width="16.6" height="12.15" fill="#0c5853"/><rect x="968.0" y="1730.4" width="16.6" height="12.15" fill="#054863"/><rect x="984.2" y="1730.4" width="16.6" height="12.15" fill="#08505b"/><rect x="1000.3" y="1730.4" width="32.7" height="12.15" fill="#0a5457"/><rect x="1032.6" y="1730.4" width="16.6" height="12.15" fill="#0c5853"/><rect x="1048.8" y="1730.4" width="32.7" height="12.15" fill="#0a5457"/><rect x="1081.1" y="1730.4" width="16.6" height="12.15" fill="#0f604c"/><rect x="1097.3" y="1730.4" width="32.7" height="12.15" fill="#0c5853"/><rect x="1129.6" y="1730.4" width="16.6" height="12.15" fill="#0a5457"/><rect x="1145.8" y="1730.4" width="16.6" height="12.15" fill="#0c5853"/><rect x="1161.9" y="1730.4" width="32.7" height="12.15" fill="#0e5c50"/><rect x="1194.2" y="1730.4" width="32.7" height="12.15" fill="#0c5853"/><rect x="1226.6" y="1730.4" width="16.6" height="12.15" fill="#0e5c50"/><rect x="353.9" y="1742.1" width="16.6" height="12.15" fill="#573493"/><rect x="370.1" y="1742.1" width="16.6" height="12.15" fill="#5c3495"/><rect x="386.2" y="1742.1" width="16.6" height="12.15" fill="#613397"/><rect x="402.4" y="1742.1" width="16.6" height="12.15" fill="#5c3495"/><rect x="418.6" y="1742.1" width="16.6" height="12.15" fill="#573493"/><rect x="434.7" y="1742.1" width="16.6" height="12.15" fill="#613397"/><rect x="450.9" y="1742.1" width="16.6" height="12.15" fill="#523590"/><rect x="467.0" y="1742.1" width="16.6" height="12.15" fill="#5c3495"/><rect x="483.2" y="1742.1" width="16.6" height="12.15" fill="#613397"/><rect x="499.4" y="1742.1" width="16.6" height="12.15" fill="#573493"/><rect x="515.5" y="1742.1" width="65.0" height="12.15" fill="#5c3495"/><rect x="580.2" y="1742.1" width="32.7" height="12.15" fill="#573493"/><rect x="612.5" y="1742.1" width="16.6" height="12.15" fill="#5c3495"/><rect x="628.6" y="1742.1" width="48.9" height="12.15" fill="#573493"/><rect x="677.1" y="1742.1" width="16.6" height="12.15" fill="#663399"/><rect x="693.3" y="1742.1" width="16.6" height="12.15" fill="#5c3495"/><rect x="709.4" y="1742.1" width="16.6" height="12.15" fill="#573493"/><rect x="725.6" y="1742.1" width="16.6" height="12.15" fill="#4c358e"/><rect x="741.8" y="1742.1" width="16.6" height="12.15" fill="#42368a"/><rect x="757.9" y="1742.1" width="16.6" height="12.15" fill="#383786"/><rect x="774.1" y="1742.1" width="16.6" height="12.15" fill="#2e3881"/><rect x="790.2" y="1742.1" width="16.6" height="12.15" fill="#29387f"/><rect x="806.4" y="1742.1" width="16.6" height="12.15" fill="#1f397b"/><rect x="822.6" y="1742.1" width="32.7" height="12.15" fill="#0a3b72"/><rect x="854.9" y="1742.1" width="16.6" height="12.15" fill="#02406a"/><rect x="871.0" y="1742.1" width="32.7" height="12.15" fill="#074c5f"/><rect x="903.4" y="1742.1" width="16.6" height="12.15" fill="#034466"/><rect x="919.5" y="1742.1" width="32.7" height="12.15" fill="#08505b"/><rect x="951.8" y="1742.1" width="16.6" height="12.15" fill="#0a5457"/><rect x="968.0" y="1742.1" width="32.7" height="12.15" fill="#0c5853"/><rect x="1000.3" y="1742.1" width="16.6" height="12.15" fill="#0a5457"/><rect x="1016.5" y="1742.1" width="65.0" height="12.15" fill="#0c5853"/><rect x="1081.1" y="1742.1" width="16.6" height="12.15" fill="#0e5c50"/><rect x="1097.3" y="1742.1" width="32.7" height="12.15" fill="#0c5853"/><rect x="1129.6" y="1742.1" width="16.6" height="12.15" fill="#0e5c50"/><rect x="1145.8" y="1742.1" width="32.7" height="12.15" fill="#0c5853"/><rect x="1178.1" y="1742.1" width="16.6" height="12.15" fill="#0f604c"/><rect x="1194.2" y="1742.1" width="48.9" height="12.15" fill="#0e5c50"/><rect x="353.9" y="1753.9" width="16.6" height="12.15" fill="#613397"/><rect x="370.1" y="1753.9" width="16.6" height="12.15" fill="#573493"/><rect x="386.2" y="1753.9" width="16.6" height="12.15" fill="#613397"/><rect x="402.4" y="1753.9" width="16.6" height="12.15" fill="#573493"/><rect x="418.6" y="1753.9" width="16.6" height="12.15" fill="#5c3495"/><rect x="434.7" y="1753.9" width="16.6" height="12.15" fill="#613397"/><rect x="450.9" y="1753.9" width="16.6" height="12.15" fill="#5c3495"/><rect x="467.0" y="1753.9" width="16.6" height="12.15" fill="#613397"/><rect x="483.2" y="1753.9" width="32.7" height="12.15" fill="#573493"/><rect x="515.5" y="1753.9" width="65.0" height="12.15" fill="#5c3495"/><rect x="580.2" y="1753.9" width="16.6" height="12.15" fill="#573493"/><rect x="596.3" y="1753.9" width="16.6" height="12.15" fill="#5c3495"/><rect x="612.5" y="1753.9" width="16.6" height="12.15" fill="#573493"/><rect x="628.6" y="1753.9" width="16.6" height="12.15" fill="#613397"/><rect x="644.8" y="1753.9" width="16.6" height="12.15" fill="#5c3495"/><rect x="661.0" y="1753.9" width="16.6" height="12.15" fill="#573493"/><rect x="677.1" y="1753.9" width="16.6" height="12.15" fill="#5c3495"/><rect x="693.3" y="1753.9" width="32.7" height="12.15" fill="#573493"/><rect x="725.6" y="1753.9" width="16.6" height="12.15" fill="#4c358e"/><rect x="741.8" y="1753.9" width="16.6" height="12.15" fill="#47368c"/><rect x="757.9" y="1753.9" width="16.6" height="12.15" fill="#383786"/><rect x="774.1" y="1753.9" width="16.6" height="12.15" fill="#2e3881"/><rect x="790.2" y="1753.9" width="32.7" height="12.15" fill="#29387f"/><rect x="822.6" y="1753.9" width="16.6" height="12.15" fill="#143a77"/><rect x="838.7" y="1753.9" width="16.6" height="12.15" fill="#053c70"/><rect x="854.9" y="1753.9" width="16.6" height="12.15" fill="#003c6e"/><rect x="871.0" y="1753.9" width="32.7" height="12.15" fill="#074c5f"/><rect x="903.4" y="1753.9" width="48.9" height="12.15" fill="#08505b"/><rect x="951.8" y="1753.9" width="32.7" height="12.15" fill="#0a5457"/><rect x="984.2" y="1753.9" width="65.0" height="12.15" fill="#0c5853"/><rect x="1048.8" y="1753.9" width="16.6" height="12.15" fill="#0e5c50"/><rect x="1065.0" y="1753.9" width="16.6" height="12.15" fill="#0a5457"/><rect x="1081.1" y="1753.9" width="32.7" height="12.15" fill="#0c5853"/><rect x="1113.4" y="1753.9" width="65.0" height="12.15" fill="#0e5c50"/><rect x="1178.1" y="1753.9" width="32.7" height="12.15" fill="#0f604c"/><rect x="1210.4" y="1753.9" width="16.6" height="12.15" fill="#0c5853"/><rect x="1226.6" y="1753.9" width="16.6" height="12.15" fill="#0e5c50"/><rect x="353.9" y="1765.6" width="16.6" height="12.15" fill="#613397"/><rect x="370.1" y="1765.6" width="32.7" height="12.15" fill="#5c3495"/><rect x="402.4" y="1765.6" width="16.6" height="12.15" fill="#663399"/><rect x="418.6" y="1765.6" width="48.9" height="12.15" fill="#5c3495"/><rect x="467.0" y="1765.6" width="48.9" height="12.15" fill="#613397"/><rect x="515.5" y="1765.6" width="48.9" height="12.15" fill="#5c3495"/><rect x="564.0" y="1765.6" width="32.7" height="12.15" fill="#573493"/><rect x="596.3" y="1765.6" width="32.7" height="12.15" fill="#613397"/><rect x="628.6" y="1765.6" width="16.6" height="12.15" fill="#523590"/><rect x="644.8" y="1765.6" width="16.6" height="12.15" fill="#5c3495"/><rect x="661.0" y="1765.6" width="32.7" height="12.15" fill="#523590"/><rect x="693.3" y="1765.6" width="16.6" height="12.15" fill="#5c3495"/><rect x="709.4" y="1765.6" width="16.6" height="12.15" fill="#573493"/><rect x="725.6" y="1765.6" width="16.6" height="12.15" fill="#4c358e"/><rect x="741.8" y="1765.6" width="16.6" height="12.15" fill="#47368c"/><rect x="757.9" y="1765.6" width="16.6" height="12.15" fill="#42368a"/><rect x="774.1" y="1765.6" width="16.6" height="12.15" fill="#383786"/><rect x="790.2" y="1765.6" width="16.6" height="12.15" fill="#29387f"/><rect x="806.4" y="1765.6" width="16.6" height="12.15" fill="#24397d"/><rect x="822.6" y="1765.6" width="16.6" height="12.15" fill="#143a77"/><rect x="838.7" y="1765.6" width="16.6" height="12.15" fill="#0a3b72"/><rect x="854.9" y="1765.6" width="16.6" height="12.15" fill="#053c70"/><rect x="871.0" y="1765.6" width="16.6" height="12.15" fill="#074c5f"/><rect x="887.2" y="1765.6" width="16.6" height="12.15" fill="#034466"/><rect x="903.4" y="1765.6" width="16.6" height="12.15" fill="#074c5f"/><rect x="919.5" y="1765.6" width="16.6" height="12.15" fill="#0a5457"/><rect x="935.7" y="1765.6" width="16.6" height="12.15" fill="#074c5f"/><rect x="951.8" y="1765.6" width="16.6" height="12.15" fill="#0c5853"/><rect x="968.0" y="1765.6" width="16.6" height="12.15" fill="#0e5c50"/><rect x="984.2" y="1765.6" width="16.6" height="12.15" fill="#0a5457"/><rect x="1000.3" y="1765.6" width="32.7" height="12.15" fill="#0c5853"/><rect x="1032.6" y="1765.6" width="48.9" height="12.15" fill="#0e5c50"/><rect x="1081.1" y="1765.6" width="16.6" height="12.15" fill="#116448"/><rect x="1097.3" y="1765.6" width="16.6" height="12.15" fill="#0f604c"/><rect x="1113.4" y="1765.6" width="16.6" height="12.15" fill="#116448"/><rect x="1129.6" y="1765.6" width="16.6" height="12.15" fill="#0f604c"/><rect x="1145.8" y="1765.6" width="16.6" height="12.15" fill="#0e5c50"/><rect x="1161.9" y="1765.6" width="32.7" height="12.15" fill="#0f604c"/><rect x="1194.2" y="1765.6" width="16.6" height="12.15" fill="#0c5853"/><rect x="1210.4" y="1765.6" width="16.6" height="12.15" fill="#116448"/><rect x="1226.6" y="1765.6" width="16.6" height="12.15" fill="#0e5c50"/><rect x="1242.7" y="1765.6" width="16.6" height="12.15" fill="#0f604c"/><rect x="353.9" y="1777.4" width="16.6" height="12.15" fill="#613397"/><rect x="370.1" y="1777.4" width="48.9" height="12.15" fill="#5c3495"/><rect x="418.6" y="1777.4" width="16.6" height="12.15" fill="#613397"/><rect x="434.7" y="1777.4" width="32.7" height="12.15" fill="#573493"/><rect x="467.0" y="1777.4" width="16.6" height="12.15" fill="#613397"/><rect x="483.2" y="1777.4" width="16.6" height="12.15" fill="#5c3495"/><rect x="499.4" y="1777.4" width="16.6" height="12.15" fill="#573493"/><rect x="515.5" y="1777.4" width="16.6" height="12.15" fill="#613397"/><rect x="531.7" y="1777.4" width="32.7" height="12.15" fill="#5c3495"/><rect x="564.0" y="1777.4" width="16.6" height="12.15" fill="#613397"/><rect x="580.2" y="1777.4" width="16.6" height="12.15" fill="#5c3495"/><rect x="596.3" y="1777.4" width="16.6" height="12.15" fill="#663399"/><rect x="612.5" y="1777.4" width="16.6" height="12.15" fill="#613397"/><rect x="628.6" y="1777.4" width="16.6" height="12.15" fill="#663399"/><rect x="644.8" y="1777.4" width="48.9" height="12.15" fill="#523590"/><rect x="693.3" y="1777.4" width="16.6" height="12.15" fill="#573493"/><rect x="709.4" y="1777.4" width="16.6" height="12.15" fill="#523590"/><rect x="725.6" y="1777.4" width="16.6" height="12.15" fill="#47368c"/><rect x="741.8" y="1777.4" width="16.6" height="12.15" fill="#42368a"/><rect x="757.9" y="1777.4" width="32.7" height="12.15" fill="#3d3788"/><rect x="790.2" y="1777.4" width="16.6" height="12.15" fill="#2e3881"/><rect x="806.4" y="1777.4" width="16.6" height="12.15" fill="#24397d"/><rect x="822.6" y="1777.4" width="16.6" height="12.15" fill="#1f397b"/><rect x="838.7" y="1777.4" width="16.6" height="12.15" fill="#0f3b74"/><rect x="854.9" y="1777.4" width="16.6" height="12.15" fill="#02406a"/><rect x="871.0" y="1777.4" width="16.6" height="12.15" fill="#074c5f"/><rect x="887.2" y="1777.4" width="16.6" height="12.15" fill="#034466"/><rect x="903.4" y="1777.4" width="32.7" height="12.15" fill="#0a5457"/><rect x="935.7" y="1777.4" width="32.7" height="12.15" fill="#08505b"/><rect x="968.0" y="1777.4" width="16.6" height="12.15" fill="#0a5457"/><rect x="984.2" y="1777.4" width="16.6" height="12.15" fill="#0e5c50"/><rect x="1000.3" y="1777.4" width="16.6" height="12.15" fill="#0c5853"/><rect x="1016.5" y="1777.4" width="16.6" height="12.15" fill="#0a5457"/><rect x="1032.6" y="1777.4" width="16.6" height="12.15" fill="#0e5c50"/><rect x="1048.8" y="1777.4" width="16.6" height="12.15" fill="#0a5457"/><rect x="1065.0" y="1777.4" width="16.6" height="12.15" fill="#0e5c50"/><rect x="1081.1" y="1777.4" width="97.4" height="12.15" fill="#0f604c"/><rect x="1178.1" y="1777.4" width="16.6" height="12.15" fill="#0e5c50"/><rect x="1194.2" y="1777.4" width="32.7" height="12.15" fill="#0f604c"/><rect x="1226.6" y="1777.4" width="32.7" height="12.15" fill="#116448"/><rect x="353.9" y="1789.1" width="16.6" height="12.15" fill="#663399"/><rect x="370.1" y="1789.1" width="32.7" height="12.15" fill="#5c3495"/><rect x="402.4" y="1789.1" width="32.7" height="12.15" fill="#613397"/><rect x="434.7" y="1789.1" width="16.6" height="12.15" fill="#523590"/><rect x="450.9" y="1789.1" width="16.6" height="12.15" fill="#613397"/><rect x="467.0" y="1789.1" width="16.6" height="12.15" fill="#663399"/><rect x="483.2" y="1789.1" width="48.9" height="12.15" fill="#613397"/><rect x="531.7" y="1789.1" width="16.6" height="12.15" fill="#5c3495"/><rect x="547.8" y="1789.1" width="16.6" height="12.15" fill="#613397"/><rect x="564.0" y="1789.1" width="16.6" height="12.15" fill="#5c3495"/><rect x="580.2" y="1789.1" width="48.9" height="12.15" fill="#613397"/><rect x="628.6" y="1789.1" width="16.6" height="12.15" fill="#5c3495"/><rect x="644.8" y="1789.1" width="32.7" height="12.15" fill="#573493"/><rect x="677.1" y="1789.1" width="16.6" height="12.15" fill="#5c3495"/><rect x="693.3" y="1789.1" width="32.7" height="12.15" fill="#573493"/><rect x="725.6" y="1789.1" width="16.6" height="12.15" fill="#47368c"/><rect x="741.8" y="1789.1" width="16.6" height="12.15" fill="#4c358e"/><rect x="757.9" y="1789.1" width="16.6" height="12.15" fill="#3d3788"/><rect x="774.1" y="1789.1" width="32.7" height="12.15" fill="#333884"/><rect x="806.4" y="1789.1" width="16.6" height="12.15" fill="#24397d"/><rect x="822.6" y="1789.1" width="16.6" height="12.15" fill="#1a3a79"/><rect x="838.7" y="1789.1" width="16.6" height="12.15" fill="#0f3b74"/><rect x="854.9" y="1789.1" width="16.6" height="12.15" fill="#003c6e"/><rect x="871.0" y="1789.1" width="16.6" height="12.15" fill="#054863"/><rect x="887.2" y="1789.1" width="16.6" height="12.15" fill="#074c5f"/><rect x="903.4" y="1789.1" width="16.6" height="12.15" fill="#054863"/><rect x="919.5" y="1789.1" width="16.6" height="12.15" fill="#074c5f"/><rect x="935.7" y="1789.1" width="16.6" height="12.15" fill="#0c5853"/><rect x="951.8" y="1789.1" width="16.6" height="12.15" fill="#074c5f"/><rect x="968.0" y="1789.1" width="16.6" height="12.15" fill="#0a5457"/><rect x="984.2" y="1789.1" width="32.7" height="12.15" fill="#0c5853"/><rect x="1016.5" y="1789.1" width="48.9" height="12.15" fill="#0e5c50"/><rect x="1065.0" y="1789.1" width="16.6" height="12.15" fill="#0f604c"/><rect x="1081.1" y="1789.1" width="16.6" height="12.15" fill="#0e5c50"/><rect x="1097.3" y="1789.1" width="32.7" height="12.15" fill="#0f604c"/><rect x="1129.6" y="1789.1" width="16.6" height="12.15" fill="#0e5c50"/><rect x="1145.8" y="1789.1" width="16.6" height="12.15" fill="#0f604c"/><rect x="1161.9" y="1789.1" width="16.6" height="12.15" fill="#0e5c50"/><rect x="1178.1" y="1789.1" width="16.6" height="12.15" fill="#0f604c"/><rect x="1194.2" y="1789.1" width="48.9" height="12.15" fill="#116448"/><rect x="1242.7" y="1789.1" width="16.6" height="12.15" fill="#0c5853"/><rect x="1258.9" y="1789.1" width="16.6" height="12.15" fill="#0f604c"/><rect x="386.2" y="1800.9" width="16.6" height="12.15" fill="#613397"/><rect x="402.4" y="1800.9" width="16.6" height="12.15" fill="#663399"/><rect x="418.6" y="1800.9" width="32.7" height="12.15" fill="#5c3495"/><rect x="450.9" y="1800.9" width="32.7" height="12.15" fill="#613397"/><rect x="483.2" y="1800.9" width="16.6" height="12.15" fill="#5c3495"/><rect x="499.4" y="1800.9" width="16.6" height="12.15" fill="#573493"/><rect x="515.5" y="1800.9" width="48.9" height="12.15" fill="#5c3495"/><rect x="564.0" y="1800.9" width="32.7" height="12.15" fill="#613397"/><rect x="596.3" y="1800.9" width="48.9" height="12.15" fill="#5c3495"/><rect x="644.8" y="1800.9" width="48.9" height="12.15" fill="#573493"/><rect x="693.3" y="1800.9" width="16.6" height="12.15" fill="#5c3495"/><rect x="709.4" y="1800.9" width="32.7" height="12.15" fill="#523590"/><rect x="741.8" y="1800.9" width="16.6" height="12.15" fill="#4c358e"/><rect x="757.9" y="1800.9" width="16.6" height="12.15" fill="#47368c"/><rect x="774.1" y="1800.9" width="16.6" height="12.15" fill="#333884"/><rect x="790.2" y="1800.9" width="16.6" height="12.15" fill="#2e3881"/><rect x="806.4" y="1800.9" width="16.6" height="12.15" fill="#29387f"/><rect x="822.6" y="1800.9" width="16.6" height="12.15" fill="#24397d"/><rect x="838.7" y="1800.9" width="16.6" height="12.15" fill="#0f3b74"/><rect x="854.9" y="1800.9" width="16.6" height="12.15" fill="#053c70"/><rect x="871.0" y="1800.9" width="16.6" height="12.15" fill="#054863"/><rect x="887.2" y="1800.9" width="32.7" height="12.15" fill="#02406a"/><rect x="919.5" y="1800.9" width="16.6" height="12.15" fill="#054863"/><rect x="935.7" y="1800.9" width="16.6" height="12.15" fill="#074c5f"/><rect x="951.8" y="1800.9" width="16.6" height="12.15" fill="#08505b"/><rect x="968.0" y="1800.9" width="16.6" height="12.15" fill="#0a5457"/><rect x="984.2" y="1800.9" width="16.6" height="12.15" fill="#0c5853"/><rect x="1000.3" y="1800.9" width="48.9" height="12.15" fill="#0a5457"/><rect x="1048.8" y="1800.9" width="16.6" height="12.15" fill="#0e5c50"/><rect x="1065.0" y="1800.9" width="16.6" height="12.15" fill="#0f604c"/><rect x="1081.1" y="1800.9" width="16.6" height="12.15" fill="#0e5c50"/><rect x="1097.3" y="1800.9" width="16.6" height="12.15" fill="#116448"/><rect x="1113.4" y="1800.9" width="16.6" height="12.15" fill="#0f604c"/><rect x="1129.6" y="1800.9" width="16.6" height="12.15" fill="#116448"/><rect x="1145.8" y="1800.9" width="16.6" height="12.15" fill="#0f604c"/><rect x="1161.9" y="1800.9" width="32.7" height="12.15" fill="#0e5c50"/><rect x="1194.2" y="1800.9" width="32.7" height="12.15" fill="#0c5853"/><rect x="1226.6" y="1800.9" width="32.7" height="12.15" fill="#0f604c"/><rect x="386.2" y="1812.6" width="16.6" height="12.15" fill="#663399"/><rect x="402.4" y="1812.6" width="16.6" height="12.15" fill="#5c3495"/><rect x="418.6" y="1812.6" width="16.6" height="12.15" fill="#663399"/><rect x="434.7" y="1812.6" width="16.6" height="12.15" fill="#573493"/><rect x="450.9" y="1812.6" width="32.7" height="12.15" fill="#663399"/><rect x="483.2" y="1812.6" width="48.9" height="12.15" fill="#5c3495"/><rect x="531.7" y="1812.6" width="16.6" height="12.15" fill="#613397"/><rect x="547.8" y="1812.6" width="16.6" height="12.15" fill="#5c3495"/><rect x="564.0" y="1812.6" width="16.6" height="12.15" fill="#663399"/><rect x="580.2" y="1812.6" width="32.7" height="12.15" fill="#613397"/><rect x="612.5" y="1812.6" width="16.6" height="12.15" fill="#5c3495"/><rect x="628.6" y="1812.6" width="16.6" height="12.15" fill="#573493"/><rect x="644.8" y="1812.6" width="16.6" height="12.15" fill="#5c3495"/><rect x="661.0" y="1812.6" width="32.7" height="12.15" fill="#573493"/><rect x="693.3" y="1812.6" width="16.6" height="12.15" fill="#613397"/><rect x="709.4" y="1812.6" width="16.6" height="12.15" fill="#5c3495"/><rect x="725.6" y="1812.6" width="16.6" height="12.15" fill="#523590"/><rect x="741.8" y="1812.6" width="16.6" height="12.15" fill="#4c358e"/><rect x="757.9" y="1812.6" width="32.7" height="12.15" fill="#42368a"/><rect x="790.2" y="1812.6" width="16.6" height="12.15" fill="#333884"/><rect x="806.4" y="1812.6" width="16.6" height="12.15" fill="#29387f"/><rect x="822.6" y="1812.6" width="16.6" height="12.15" fill="#1f397b"/><rect x="838.7" y="1812.6" width="16.6" height="12.15" fill="#1a3a79"/><rect x="854.9" y="1812.6" width="16.6" height="12.15" fill="#0a3b72"/><rect x="871.0" y="1812.6" width="16.6" height="12.15" fill="#003c6e"/><rect x="887.2" y="1812.6" width="32.7" height="12.15" fill="#034466"/><rect x="919.5" y="1812.6" width="32.7" height="12.15" fill="#054863"/><rect x="951.8" y="1812.6" width="16.6" height="12.15" fill="#08505b"/><rect x="968.0" y="1812.6" width="16.6" height="12.15" fill="#034466"/><rect x="984.2" y="1812.6" width="16.6" height="12.15" fill="#074c5f"/><rect x="1000.3" y="1812.6" width="16.6" height="12.15" fill="#0a5457"/><rect x="1016.5" y="1812.6" width="16.6" height="12.15" fill="#08505b"/><rect x="1032.6" y="1812.6" width="16.6" height="12.15" fill="#0e5c50"/><rect x="1048.8" y="1812.6" width="16.6" height="12.15" fill="#0a5457"/><rect x="1065.0" y="1812.6" width="16.6" height="12.15" fill="#0e5c50"/><rect x="1081.1" y="1812.6" width="16.6" height="12.15" fill="#0c5853"/><rect x="1097.3" y="1812.6" width="16.6" height="12.15" fill="#0e5c50"/><rect x="1113.4" y="1812.6" width="32.7" height="12.15" fill="#0f604c"/><rect x="1145.8" y="1812.6" width="16.6" height="12.15" fill="#0e5c50"/><rect x="1161.9" y="1812.6" width="16.6" height="12.15" fill="#136744"/><rect x="1178.1" y="1812.6" width="16.6" height="12.15" fill="#0f604c"/><rect x="1194.2" y="1812.6" width="16.6" height="12.15" fill="#0e5c50"/><rect x="1210.4" y="1812.6" width="48.9" height="12.15" fill="#0f604c"/><rect x="1258.9" y="1812.6" width="16.6" height="12.15" fill="#116448"/><rect x="402.4" y="1824.4" width="16.6" height="12.15" fill="#613397"/><rect x="418.6" y="1824.4" width="16.6" height="12.15" fill="#573493"/><rect x="434.7" y="1824.4" width="16.6" height="12.15" fill="#5c3495"/><rect x="450.9" y="1824.4" width="16.6" height="12.15" fill="#613397"/><rect x="467.0" y="1824.4" width="16.6" height="12.15" fill="#5c3495"/><rect x="483.2" y="1824.4" width="32.7" height="12.15" fill="#573493"/><rect x="515.5" y="1824.4" width="32.7" height="12.15" fill="#5c3495"/><rect x="547.8" y="1824.4" width="16.6" height="12.15" fill="#613397"/><rect x="564.0" y="1824.4" width="16.6" height="12.15" fill="#663399"/><rect x="580.2" y="1824.4" width="97.4" height="12.15" fill="#5c3495"/><rect x="677.1" y="1824.4" width="16.6" height="12.15" fill="#573493"/><rect x="693.3" y="1824.4" width="16.6" height="12.15" fill="#523590"/><rect x="709.4" y="1824.4" width="16.6" height="12.15" fill="#573493"/><rect x="725.6" y="1824.4" width="16.6" height="12.15" fill="#4c358e"/><rect x="741.8" y="1824.4" width="16.6" height="12.15" fill="#523590"/><rect x="757.9" y="1824.4" width="16.6" height="12.15" fill="#47368c"/><rect x="774.1" y="1824.4" width="16.6" height="12.15" fill="#383786"/><rect x="790.2" y="1824.4" width="32.7" height="12.15" fill="#2e3881"/><rect x="822.6" y="1824.4" width="16.6" height="12.15" fill="#24397d"/><rect x="838.7" y="1824.4" width="16.6" height="12.15" fill="#1f397b"/><rect x="854.9" y="1824.4" width="16.6" height="12.15" fill="#0a3b72"/><rect x="871.0" y="1824.4" width="16.6" height="12.15" fill="#02406a"/><rect x="887.2" y="1824.4" width="16.6" height="12.15" fill="#053c70"/><rect x="903.4" y="1824.4" width="32.7" height="12.15" fill="#034466"/><rect x="935.7" y="1824.4" width="16.6" height="12.15" fill="#054863"/><rect x="951.8" y="1824.4" width="16.6" height="12.15" fill="#034466"/><rect x="968.0" y="1824.4" width="16.6" height="12.15" fill="#074c5f"/><rect x="984.2" y="1824.4" width="16.6" height="12.15" fill="#054863"/><rect x="1000.3" y="1824.4" width="16.6" height="12.15" fill="#0c5853"/><rect x="1016.5" y="1824.4" width="32.7" height="12.15" fill="#0a5457"/><rect x="1048.8" y="1824.4" width="16.6" height="12.15" fill="#0e5c50"/><rect x="1065.0" y="1824.4" width="16.6" height="12.15" fill="#0f604c"/><rect x="1081.1" y="1824.4" width="16.6" height="12.15" fill="#0c5853"/><rect x="1097.3" y="1824.4" width="16.6" height="12.15" fill="#116448"/><rect x="1113.4" y="1824.4" width="16.6" height="12.15" fill="#0e5c50"/><rect x="1129.6" y="1824.4" width="16.6" height="12.15" fill="#0f604c"/><rect x="1145.8" y="1824.4" width="16.6" height="12.15" fill="#116448"/><rect x="1161.9" y="1824.4" width="16.6" height="12.15" fill="#0c5853"/><rect x="1178.1" y="1824.4" width="16.6" height="12.15" fill="#116448"/><rect x="1194.2" y="1824.4" width="32.7" height="12.15" fill="#0f604c"/><rect x="1226.6" y="1824.4" width="16.6" height="12.15" fill="#0e5c50"/><rect x="1242.7" y="1824.4" width="16.6" height="12.15" fill="#0f604c"/><rect x="1258.9" y="1824.4" width="16.6" height="12.15" fill="#0c5853"/><rect x="450.9" y="1836.1" width="16.6" height="12.15" fill="#613397"/><rect x="467.0" y="1836.1" width="16.6" height="12.15" fill="#663399"/><rect x="483.2" y="1836.1" width="16.6" height="12.15" fill="#5c3495"/><rect x="499.4" y="1836.1" width="16.6" height="12.15" fill="#613397"/><rect x="515.5" y="1836.1" width="16.6" height="12.15" fill="#5c3495"/><rect x="531.7" y="1836.1" width="32.7" height="12.15" fill="#613397"/><rect x="564.0" y="1836.1" width="16.6" height="12.15" fill="#5c3495"/><rect x="580.2" y="1836.1" width="16.6" height="12.15" fill="#573493"/><rect x="596.3" y="1836.1" width="16.6" height="12.15" fill="#5c3495"/><rect x="612.5" y="1836.1" width="16.6" height="12.15" fill="#573493"/><rect x="628.6" y="1836.1" width="16.6" height="12.15" fill="#5c3495"/><rect x="644.8" y="1836.1" width="81.2" height="12.15" fill="#573493"/><rect x="725.6" y="1836.1" width="16.6" height="12.15" fill="#47368c"/><rect x="741.8" y="1836.1" width="16.6" height="12.15" fill="#4c358e"/><rect x="757.9" y="1836.1" width="16.6" height="12.15" fill="#47368c"/><rect x="774.1" y="1836.1" width="16.6" height="12.15" fill="#42368a"/><rect x="790.2" y="1836.1" width="16.6" height="12.15" fill="#383786"/><rect x="806.4" y="1836.1" width="16.6" height="12.15" fill="#2e3881"/><rect x="822.6" y="1836.1" width="16.6" height="12.15" fill="#29387f"/><rect x="838.7" y="1836.1" width="16.6" height="12.15" fill="#24397d"/><rect x="854.9" y="1836.1" width="16.6" height="12.15" fill="#0f3b74"/><rect x="871.0" y="1836.1" width="16.6" height="12.15" fill="#0a3b72"/><rect x="887.2" y="1836.1" width="16.6" height="12.15" fill="#003c6e"/><rect x="903.4" y="1836.1" width="16.6" height="12.15" fill="#02406a"/><rect x="919.5" y="1836.1" width="16.6" height="12.15" fill="#034466"/><rect x="935.7" y="1836.1" width="65.0" height="12.15" fill="#054863"/><rect x="1000.3" y="1836.1" width="16.6" height="12.15" fill="#074c5f"/><rect x="1016.5" y="1836.1" width="16.6" height="12.15" fill="#0a5457"/><rect x="1032.6" y="1836.1" width="16.6" height="12.15" fill="#08505b"/><rect x="1048.8" y="1836.1" width="32.7" height="12.15" fill="#0c5853"/><rect x="1081.1" y="1836.1" width="32.7" height="12.15" fill="#0e5c50"/><rect x="1113.4" y="1836.1" width="16.6" height="12.15" fill="#0f604c"/><rect x="1129.6" y="1836.1" width="32.7" height="12.15" fill="#0e5c50"/><rect x="1161.9" y="1836.1" width="16.6" height="12.15" fill="#0c5853"/><rect x="1178.1" y="1836.1" width="16.6" height="12.15" fill="#0f604c"/><rect x="1194.2" y="1836.1" width="16.6" height="12.15" fill="#116448"/><rect x="1210.4" y="1836.1" width="32.7" height="12.15" fill="#0f604c"/><rect x="1242.7" y="1836.1" width="16.6" height="12.15" fill="#0c5853"/><rect x="1258.9" y="1836.1" width="16.6" height="12.15" fill="#0f604c"/><rect x="515.5" y="1847.9" width="16.6" height="12.15" fill="#5c3495"/><rect x="531.7" y="1847.9" width="16.6" height="12.15" fill="#613397"/><rect x="547.8" y="1847.9" width="48.9" height="12.15" fill="#5c3495"/><rect x="596.3" y="1847.9" width="16.6" height="12.15" fill="#613397"/><rect x="612.5" y="1847.9" width="48.9" height="12.15" fill="#573493"/><rect x="661.0" y="1847.9" width="16.6" height="12.15" fill="#523590"/><rect x="677.1" y="1847.9" width="16.6" height="12.15" fill="#573493"/><rect x="693.3" y="1847.9" width="16.6" height="12.15" fill="#523590"/><rect x="709.4" y="1847.9" width="16.6" height="12.15" fill="#4c358e"/><rect x="725.6" y="1847.9" width="16.6" height="12.15" fill="#523590"/><rect x="741.8" y="1847.9" width="16.6" height="12.15" fill="#42368a"/><rect x="757.9" y="1847.9" width="32.7" height="12.15" fill="#383786"/><rect x="790.2" y="1847.9" width="16.6" height="12.15" fill="#2e3881"/><rect x="806.4" y="1847.9" width="16.6" height="12.15" fill="#29387f"/><rect x="822.6" y="1847.9" width="16.6" height="12.15" fill="#24397d"/><rect x="838.7" y="1847.9" width="16.6" height="12.15" fill="#143a77"/><rect x="854.9" y="1847.9" width="16.6" height="12.15" fill="#0a3b72"/><rect x="871.0" y="1847.9" width="32.7" height="12.15" fill="#003c6e"/><rect x="903.4" y="1847.9" width="16.6" height="12.15" fill="#034466"/><rect x="919.5" y="1847.9" width="32.7" height="12.15" fill="#02406a"/><rect x="951.8" y="1847.9" width="16.6" height="12.15" fill="#034466"/><rect x="968.0" y="1847.9" width="32.7" height="12.15" fill="#054863"/><rect x="1000.3" y="1847.9" width="16.6" height="12.15" fill="#074c5f"/><rect x="1016.5" y="1847.9" width="16.6" height="12.15" fill="#08505b"/><rect x="1032.6" y="1847.9" width="16.6" height="12.15" fill="#0a5457"/><rect x="1048.8" y="1847.9" width="16.6" height="12.15" fill="#0c5853"/><rect x="1065.0" y="1847.9" width="16.6" height="12.15" fill="#0e5c50"/><rect x="1081.1" y="1847.9" width="32.7" height="12.15" fill="#0f604c"/><rect x="1113.4" y="1847.9" width="48.9" height="12.15" fill="#116448"/><rect x="1161.9" y="1847.9" width="16.6" height="12.15" fill="#0e5c50"/><rect x="1178.1" y="1847.9" width="32.7" height="12.15" fill="#0f604c"/><rect x="1210.4" y="1847.9" width="48.9" height="12.15" fill="#0e5c50"/><rect x="531.7" y="1859.6" width="16.6" height="12.15" fill="#573493"/><rect x="547.8" y="1859.6" width="16.6" height="12.15" fill="#5c3495"/><rect x="564.0" y="1859.6" width="16.6" height="12.15" fill="#573493"/><rect x="580.2" y="1859.6" width="16.6" height="12.15" fill="#5c3495"/><rect x="596.3" y="1859.6" width="16.6" height="12.15" fill="#613397"/><rect x="612.5" y="1859.6" width="32.7" height="12.15" fill="#5c3495"/><rect x="644.8" y="1859.6" width="16.6" height="12.15" fill="#573493"/><rect x="661.0" y="1859.6" width="16.6" height="12.15" fill="#523590"/><rect x="677.1" y="1859.6" width="16.6" height="12.15" fill="#5c3495"/><rect x="693.3" y="1859.6" width="16.6" height="12.15" fill="#573493"/><rect x="709.4" y="1859.6" width="16.6" height="12.15" fill="#523590"/><rect x="725.6" y="1859.6" width="32.7" height="12.15" fill="#4c358e"/><rect x="757.9" y="1859.6" width="16.6" height="12.15" fill="#3d3788"/><rect x="774.1" y="1859.6" width="16.6" height="12.15" fill="#333884"/><rect x="790.2" y="1859.6" width="16.6" height="12.15" fill="#2e3881"/><rect x="806.4" y="1859.6" width="16.6" height="12.15" fill="#29387f"/><rect x="822.6" y="1859.6" width="16.6" height="12.15" fill="#1f397b"/><rect x="838.7" y="1859.6" width="16.6" height="12.15" fill="#1a3a79"/><rect x="854.9" y="1859.6" width="32.7" height="12.15" fill="#053c70"/><rect x="887.2" y="1859.6" width="81.2" height="12.15" fill="#003c6e"/><rect x="968.0" y="1859.6" width="48.9" height="12.15" fill="#074c5f"/><rect x="1016.5" y="1859.6" width="16.6" height="12.15" fill="#0c5853"/><rect x="1032.6" y="1859.6" width="16.6" height="12.15" fill="#0a5457"/><rect x="1048.8" y="1859.6" width="32.7" height="12.15" fill="#0c5853"/><rect x="1081.1" y="1859.6" width="32.7" height="12.15" fill="#0e5c50"/><rect x="1113.4" y="1859.6" width="16.6" height="12.15" fill="#0f604c"/><rect x="1129.6" y="1859.6" width="16.6" height="12.15" fill="#0e5c50"/><rect x="1145.8" y="1859.6" width="16.6" height="12.15" fill="#0f604c"/><rect x="1161.9" y="1859.6" width="16.6" height="12.15" fill="#116448"/><rect x="1178.1" y="1859.6" width="16.6" height="12.15" fill="#0c5853"/><rect x="1194.2" y="1859.6" width="48.9" height="12.15" fill="#0e5c50"/><rect x="1242.7" y="1859.6" width="16.6" height="12.15" fill="#0a5457"/><rect x="1258.9" y="1859.6" width="16.6" height="12.15" fill="#0e5c50"/><rect x="547.8" y="1871.4" width="16.6" height="12.15" fill="#573493"/><rect x="596.3" y="1871.4" width="16.6" height="12.15" fill="#5c3495"/><rect x="612.5" y="1871.4" width="16.6" height="12.15" fill="#663399"/><rect x="628.6" y="1871.4" width="65.0" height="12.15" fill="#573493"/><rect x="693.3" y="1871.4" width="16.6" height="12.15" fill="#523590"/><rect x="709.4" y="1871.4" width="16.6" height="12.15" fill="#4c358e"/><rect x="725.6" y="1871.4" width="16.6" height="12.15" fill="#47368c"/><rect x="741.8" y="1871.4" width="16.6" height="12.15" fill="#42368a"/><rect x="757.9" y="1871.4" width="16.6" height="12.15" fill="#3d3788"/><rect x="774.1" y="1871.4" width="16.6" height="12.15" fill="#383786"/><rect x="790.2" y="1871.4" width="16.6" height="12.15" fill="#29387f"/><rect x="806.4" y="1871.4" width="16.6" height="12.15" fill="#1f397b"/><rect x="822.6" y="1871.4" width="16.6" height="12.15" fill="#1a3a79"/><rect x="838.7" y="1871.4" width="16.6" height="12.15" fill="#0f3b74"/><rect x="854.9" y="1871.4" width="16.6" height="12.15" fill="#053c70"/><rect x="871.0" y="1871.4" width="16.6" height="12.15" fill="#003c6e"/><rect x="887.2" y="1871.4" width="65.0" height="12.15" fill="#02406a"/><rect x="951.8" y="1871.4" width="16.6" height="12.15" fill="#034466"/><rect x="968.0" y="1871.4" width="16.6" height="12.15" fill="#02406a"/><rect x="984.2" y="1871.4" width="16.6" height="12.15" fill="#074c5f"/><rect x="1000.3" y="1871.4" width="16.6" height="12.15" fill="#054863"/><rect x="1016.5" y="1871.4" width="32.7" height="12.15" fill="#08505b"/><rect x="1048.8" y="1871.4" width="32.7" height="12.15" fill="#0c5853"/><rect x="1081.1" y="1871.4" width="16.6" height="12.15" fill="#0a5457"/><rect x="1097.3" y="1871.4" width="16.6" height="12.15" fill="#0f604c"/><rect x="1113.4" y="1871.4" width="48.9" height="12.15" fill="#0e5c50"/><rect x="1161.9" y="1871.4" width="48.9" height="12.15" fill="#0f604c"/><rect x="1210.4" y="1871.4" width="16.6" height="12.15" fill="#0c5853"/><rect x="1226.6" y="1871.4" width="32.7" height="12.15" fill="#0e5c50"/><rect x="1258.9" y="1871.4" width="16.6" height="12.15" fill="#0f604c"/><rect x="580.2" y="1883.2" width="16.6" height="12.15" fill="#523590"/><rect x="596.3" y="1883.2" width="16.6" height="12.15" fill="#573493"/><rect x="612.5" y="1883.2" width="16.6" height="12.15" fill="#613397"/><rect x="628.6" y="1883.2" width="16.6" height="12.15" fill="#5c3495"/><rect x="644.8" y="1883.2" width="16.6" height="12.15" fill="#523590"/><rect x="661.0" y="1883.2" width="16.6" height="12.15" fill="#573493"/><rect x="677.1" y="1883.2" width="16.6" height="12.15" fill="#5c3495"/><rect x="693.3" y="1883.2" width="16.6" height="12.15" fill="#523590"/><rect x="709.4" y="1883.2" width="16.6" height="12.15" fill="#47368c"/><rect x="725.6" y="1883.2" width="16.6" height="12.15" fill="#4c358e"/><rect x="741.8" y="1883.2" width="16.6" height="12.15" fill="#3d3788"/><rect x="757.9" y="1883.2" width="16.6" height="12.15" fill="#333884"/><rect x="774.1" y="1883.2" width="16.6" height="12.15" fill="#29387f"/><rect x="790.2" y="1883.2" width="16.6" height="12.15" fill="#24397d"/><rect x="806.4" y="1883.2" width="16.6" height="12.15" fill="#1a3a79"/><rect x="822.6" y="1883.2" width="16.6" height="12.15" fill="#0f3b74"/><rect x="838.7" y="1883.2" width="32.7" height="12.15" fill="#0a3b72"/><rect x="871.0" y="1883.2" width="16.6" height="12.15" fill="#034466"/><rect x="887.2" y="1883.2" width="16.6" height="12.15" fill="#003c6e"/><rect x="903.4" y="1883.2" width="16.6" height="12.15" fill="#034466"/><rect x="919.5" y="1883.2" width="16.6" height="12.15" fill="#02406a"/><rect x="935.7" y="1883.2" width="32.7" height="12.15" fill="#034466"/><rect x="968.0" y="1883.2" width="32.7" height="12.15" fill="#054863"/><rect x="1000.3" y="1883.2" width="16.6" height="12.15" fill="#074c5f"/><rect x="1016.5" y="1883.2" width="16.6" height="12.15" fill="#08505b"/><rect x="1032.6" y="1883.2" width="16.6" height="12.15" fill="#0c5853"/><rect x="1048.8" y="1883.2" width="16.6" height="12.15" fill="#08505b"/><rect x="1065.0" y="1883.2" width="65.0" height="12.15" fill="#0c5853"/><rect x="1129.6" y="1883.2" width="16.6" height="12.15" fill="#0e5c50"/><rect x="1145.8" y="1883.2" width="32.7" height="12.15" fill="#0c5853"/><rect x="1178.1" y="1883.2" width="16.6" height="12.15" fill="#0f604c"/><rect x="1194.2" y="1883.2" width="16.6" height="12.15" fill="#0c5853"/><rect x="1210.4" y="1883.2" width="16.6" height="12.15" fill="#0f604c"/><rect x="1226.6" y="1883.2" width="32.7" height="12.15" fill="#0e5c50"/><rect x="1258.9" y="1883.2" width="32.7" height="12.15" fill="#0c5853"/><rect x="580.2" y="1894.9" width="16.6" height="12.15" fill="#613397"/><rect x="596.3" y="1894.9" width="16.6" height="12.15" fill="#5c3495"/><rect x="612.5" y="1894.9" width="16.6" height="12.15" fill="#613397"/><rect x="628.6" y="1894.9" width="16.6" height="12.15" fill="#573493"/><rect x="644.8" y="1894.9" width="16.6" height="12.15" fill="#523590"/><rect x="661.0" y="1894.9" width="16.6" height="12.15" fill="#573493"/><rect x="693.3" y="1894.9" width="16.6" height="12.15" fill="#573493"/><rect x="709.4" y="1894.9" width="16.6" height="12.15" fill="#4c358e"/><rect x="725.6" y="1894.9" width="16.6" height="12.15" fill="#3d3788"/><rect x="741.8" y="1894.9" width="16.6" height="12.15" fill="#42368a"/><rect x="757.9" y="1894.9" width="16.6" height="12.15" fill="#29387f"/><rect x="774.1" y="1894.9" width="16.6" height="12.15" fill="#1f397b"/><rect x="790.2" y="1894.9" width="16.6" height="12.15" fill="#24397d"/><rect x="806.4" y="1894.9" width="16.6" height="12.15" fill="#1a3a79"/><rect x="822.6" y="1894.9" width="16.6" height="12.15" fill="#0f3b74"/><rect x="838.7" y="1894.9" width="32.7" height="12.15" fill="#053c70"/><rect x="871.0" y="1894.9" width="16.6" height="12.15" fill="#02406a"/><rect x="887.2" y="1894.9" width="16.6" height="12.15" fill="#034466"/><rect x="903.4" y="1894.9" width="48.9" height="12.15" fill="#02406a"/><rect x="951.8" y="1894.9" width="16.6" height="12.15" fill="#034466"/><rect x="968.0" y="1894.9" width="16.6" height="12.15" fill="#02406a"/><rect x="984.2" y="1894.9" width="16.6" height="12.15" fill="#074c5f"/><rect x="1000.3" y="1894.9" width="32.7" height="12.15" fill="#054863"/><rect x="1032.6" y="1894.9" width="16.6" height="12.15" fill="#08505b"/><rect x="1048.8" y="1894.9" width="16.6" height="12.15" fill="#0a5457"/><rect x="1065.0" y="1894.9" width="16.6" height="12.15" fill="#074c5f"/><rect x="1081.1" y="1894.9" width="16.6" height="12.15" fill="#0c5853"/><rect x="1097.3" y="1894.9" width="16.6" height="12.15" fill="#0a5457"/><rect x="1113.4" y="1894.9" width="16.6" height="12.15" fill="#0c5853"/><rect x="1129.6" y="1894.9" width="16.6" height="12.15" fill="#0e5c50"/><rect x="1145.8" y="1894.9" width="16.6" height="12.15" fill="#0c5853"/><rect x="1161.9" y="1894.9" width="32.7" height="12.15" fill="#0e5c50"/><rect x="1194.2" y="1894.9" width="16.6" height="12.15" fill="#116448"/><rect x="1210.4" y="1894.9" width="16.6" height="12.15" fill="#0e5c50"/><rect x="1226.6" y="1894.9" width="16.6" height="12.15" fill="#0c5853"/><rect x="1242.7" y="1894.9" width="32.7" height="12.15" fill="#0a5457"/><rect x="1275.0" y="1894.9" width="16.6" height="12.15" fill="#0c5853"/><rect x="1307.4" y="1894.9" width="16.6" height="12.15" fill="#0a5457"/><rect x="564.0" y="1906.7" width="16.6" height="12.15" fill="#613397"/><rect x="580.2" y="1906.7" width="81.2" height="12.15" fill="#5c3495"/><rect x="661.0" y="1906.7" width="16.6" height="12.15" fill="#573493"/><rect x="693.3" y="1906.7" width="16.6" height="12.15" fill="#5c3495"/><rect x="709.4" y="1906.7" width="32.7" height="12.15" fill="#4c358e"/><rect x="741.8" y="1906.7" width="16.6" height="12.15" fill="#3d3788"/><rect x="757.9" y="1906.7" width="16.6" height="12.15" fill="#333884"/><rect x="774.1" y="1906.7" width="16.6" height="12.15" fill="#1f397b"/><rect x="790.2" y="1906.7" width="16.6" height="12.15" fill="#1a3a79"/><rect x="806.4" y="1906.7" width="48.9" height="12.15" fill="#0a3b72"/><rect x="854.9" y="1906.7" width="16.6" height="12.15" fill="#053c70"/><rect x="871.0" y="1906.7" width="48.9" height="12.15" fill="#034466"/><rect x="919.5" y="1906.7" width="16.6" height="12.15" fill="#054863"/><rect x="935.7" y="1906.7" width="32.7" height="12.15" fill="#02406a"/><rect x="968.0" y="1906.7" width="32.7" height="12.15" fill="#034466"/><rect x="1000.3" y="1906.7" width="32.7" height="12.15" fill="#054863"/><rect x="1032.6" y="1906.7" width="16.6" height="12.15" fill="#0a5457"/><rect x="1048.8" y="1906.7" width="16.6" height="12.15" fill="#054863"/><rect x="1065.0" y="1906.7" width="32.7" height="12.15" fill="#0a5457"/><rect x="1097.3" y="1906.7" width="16.6" height="12.15" fill="#0c5853"/><rect x="1113.4" y="1906.7" width="16.6" height="12.15" fill="#0a5457"/><rect x="1129.6" y="1906.7" width="48.9" height="12.15" fill="#0c5853"/><rect x="1178.1" y="1906.7" width="32.7" height="12.15" fill="#0e5c50"/><rect x="1210.4" y="1906.7" width="16.6" height="12.15" fill="#0c5853"/><rect x="1226.6" y="1906.7" width="16.6" height="12.15" fill="#0e5c50"/><rect x="1242.7" y="1906.7" width="16.6" height="12.15" fill="#0a5457"/><rect x="1258.9" y="1906.7" width="16.6" height="12.15" fill="#0c5853"/><rect x="1275.0" y="1906.7" width="32.7" height="12.15" fill="#0a5457"/><rect x="1307.4" y="1906.7" width="32.7" height="12.15" fill="#08505b"/><rect x="564.0" y="1918.4" width="16.6" height="12.15" fill="#613397"/><rect x="580.2" y="1918.4" width="16.6" height="12.15" fill="#573493"/><rect x="596.3" y="1918.4" width="16.6" height="12.15" fill="#613397"/><rect x="612.5" y="1918.4" width="48.9" height="12.15" fill="#523590"/><rect x="661.0" y="1918.4" width="16.6" height="12.15" fill="#573493"/><rect x="693.3" y="1918.4" width="16.6" height="12.15" fill="#47368c"/><rect x="709.4" y="1918.4" width="16.6" height="12.15" fill="#4c358e"/><rect x="725.6" y="1918.4" width="16.6" height="12.15" fill="#3d3788"/><rect x="741.8" y="1918.4" width="16.6" height="12.15" fill="#383786"/><rect x="757.9" y="1918.4" width="16.6" height="12.15" fill="#24397d"/><rect x="774.1" y="1918.4" width="16.6" height="12.15" fill="#1f397b"/><rect x="790.2" y="1918.4" width="16.6" height="12.15" fill="#0f3b74"/><rect x="806.4" y="1918.4" width="16.6" height="12.15" fill="#143a77"/><rect x="822.6" y="1918.4" width="16.6" height="12.15" fill="#0a3b72"/><rect x="838.7" y="1918.4" width="32.7" height="12.15" fill="#003c6e"/><rect x="871.0" y="1918.4" width="16.6" height="12.15" fill="#02406a"/><rect x="887.2" y="1918.4" width="16.6" height="12.15" fill="#034466"/><rect x="903.4" y="1918.4" width="16.6" height="12.15" fill="#02406a"/><rect x="919.5" y="1918.4" width="16.6" height="12.15" fill="#034466"/><rect x="935.7" y="1918.4" width="16.6" height="12.15" fill="#053c70"/><rect x="951.8" y="1918.4" width="32.7" height="12.15" fill="#034466"/><rect x="984.2" y="1918.4" width="16.6" height="12.15" fill="#02406a"/><rect x="1000.3" y="1918.4" width="16.6" height="12.15" fill="#034466"/><rect x="1016.5" y="1918.4" width="16.6" height="12.15" fill="#074c5f"/><rect x="1032.6" y="1918.4" width="16.6" height="12.15" fill="#054863"/><rect x="1048.8" y="1918.4" width="16.6" height="12.15" fill="#074c5f"/><rect x="1065.0" y="1918.4" width="16.6" height="12.15" fill="#0a5457"/><rect x="1081.1" y="1918.4" width="16.6" height="12.15" fill="#08505b"/><rect x="1097.3" y="1918.4" width="16.6" height="12.15" fill="#0c5853"/><rect x="1113.4" y="1918.4" width="16.6" height="12.15" fill="#0a5457"/><rect x="1129.6" y="1918.4" width="16.6" height="12.15" fill="#0c5853"/><rect x="1145.8" y="1918.4" width="32.7" height="12.15" fill="#0e5c50"/><rect x="1178.1" y="1918.4" width="16.6" height="12.15" fill="#08505b"/><rect x="1194.2" y="1918.4" width="16.6" height="12.15" fill="#0e5c50"/><rect x="1210.4" y="1918.4" width="16.6" height="12.15" fill="#0c5853"/><rect x="1226.6" y="1918.4" width="16.6" height="12.15" fill="#0a5457"/><rect x="1242.7" y="1918.4" width="16.6" height="12.15" fill="#0e5c50"/><rect x="1258.9" y="1918.4" width="16.6" height="12.15" fill="#08505b"/><rect x="1275.0" y="1918.4" width="16.6" height="12.15" fill="#0e5c50"/><rect x="1291.2" y="1918.4" width="16.6" height="12.15" fill="#08505b"/><rect x="1307.4" y="1918.4" width="16.6" height="12.15" fill="#0c5853"/><rect x="1323.5" y="1918.4" width="16.6" height="12.15" fill="#08505b"/><rect x="1339.7" y="1918.4" width="16.6" height="12.15" fill="#054863"/><rect x="564.0" y="1930.2" width="16.6" height="12.15" fill="#573493"/><rect x="580.2" y="1930.2" width="16.6" height="12.15" fill="#613397"/><rect x="596.3" y="1930.2" width="16.6" height="12.15" fill="#573493"/><rect x="612.5" y="1930.2" width="16.6" height="12.15" fill="#613397"/><rect x="628.6" y="1930.2" width="16.6" height="12.15" fill="#5c3495"/><rect x="644.8" y="1930.2" width="32.7" height="12.15" fill="#523590"/><rect x="693.3" y="1930.2" width="16.6" height="12.15" fill="#523590"/><rect x="709.4" y="1930.2" width="16.6" height="12.15" fill="#47368c"/><rect x="725.6" y="1930.2" width="16.6" height="12.15" fill="#3d3788"/><rect x="741.8" y="1930.2" width="16.6" height="12.15" fill="#333884"/><rect x="757.9" y="1930.2" width="16.6" height="12.15" fill="#24397d"/><rect x="774.1" y="1930.2" width="16.6" height="12.15" fill="#1a3a79"/><rect x="790.2" y="1930.2" width="16.6" height="12.15" fill="#143a77"/><rect x="806.4" y="1930.2" width="65.0" height="12.15" fill="#053c70"/><rect x="871.0" y="1930.2" width="16.6" height="12.15" fill="#034466"/><rect x="887.2" y="1930.2" width="16.6" height="12.15" fill="#02406a"/><rect x="903.4" y="1930.2" width="16.6" height="12.15" fill="#034466"/><rect x="919.5" y="1930.2" width="16.6" height="12.15" fill="#02406a"/><rect x="935.7" y="1930.2" width="16.6" height="12.15" fill="#034466"/><rect x="951.8" y="1930.2" width="48.9" height="12.15" fill="#02406a"/><rect x="1000.3" y="1930.2" width="16.6" height="12.15" fill="#034466"/><rect x="1016.5" y="1930.2" width="16.6" height="12.15" fill="#074c5f"/><rect x="1032.6" y="1930.2" width="16.6" height="12.15" fill="#0a5457"/><rect x="1048.8" y="1930.2" width="16.6" height="12.15" fill="#054863"/><rect x="1065.0" y="1930.2" width="16.6" height="12.15" fill="#074c5f"/><rect x="1081.1" y="1930.2" width="16.6" height="12.15" fill="#08505b"/><rect x="1097.3" y="1930.2" width="48.9" height="12.15" fill="#0a5457"/><rect x="1145.8" y="1930.2" width="16.6" height="12.15" fill="#08505b"/><rect x="1161.9" y="1930.2" width="16.6" height="12.15" fill="#0a5457"/><rect x="1178.1" y="1930.2" width="32.7" height="12.15" fill="#0e5c50"/><rect x="1210.4" y="1930.2" width="16.6" height="12.15" fill="#0c5853"/><rect x="1226.6" y="1930.2" width="16.6" height="12.15" fill="#0a5457"/><rect x="1242.7" y="1930.2" width="32.7" height="12.15" fill="#0c5853"/><rect x="1275.0" y="1930.2" width="16.6" height="12.15" fill="#0a5457"/><rect x="1291.2" y="1930.2" width="48.9" height="12.15" fill="#08505b"/><rect x="1339.7" y="1930.2" width="16.6" height="12.15" fill="#074c5f"/><rect x="1355.8" y="1930.2" width="16.6" height="12.15" fill="#054863"/><rect x="580.2" y="1941.9" width="16.6" height="12.15" fill="#5c3495"/><rect x="596.3" y="1941.9" width="16.6" height="12.15" fill="#613397"/><rect x="612.5" y="1941.9" width="16.6" height="12.15" fill="#573493"/><rect x="628.6" y="1941.9" width="16.6" height="12.15" fill="#523590"/><rect x="644.8" y="1941.9" width="16.6" height="12.15" fill="#573493"/><rect x="661.0" y="1941.9" width="16.6" height="12.15" fill="#523590"/><rect x="693.3" y="1941.9" width="16.6" height="12.15" fill="#523590"/><rect x="709.4" y="1941.9" width="16.6" height="12.15" fill="#47368c"/><rect x="725.6" y="1941.9" width="16.6" height="12.15" fill="#383786"/><rect x="774.1" y="1941.9" width="16.6" height="12.15" fill="#143a77"/><rect x="790.2" y="1941.9" width="16.6" height="12.15" fill="#0a3b72"/><rect x="806.4" y="1941.9" width="16.6" height="12.15" fill="#053c70"/><rect x="822.6" y="1941.9" width="48.9" height="12.15" fill="#003c6e"/><rect x="887.2" y="1941.9" width="16.6" height="12.15" fill="#034466"/><rect x="903.4" y="1941.9" width="32.7" height="12.15" fill="#054863"/><rect x="935.7" y="1941.9" width="16.6" height="12.15" fill="#02406a"/><rect x="951.8" y="1941.9" width="16.6" height="12.15" fill="#034466"/><rect x="968.0" y="1941.9" width="16.6" height="12.15" fill="#054863"/><rect x="984.2" y="1941.9" width="16.6" height="12.15" fill="#034466"/><rect x="1000.3" y="1941.9" width="16.6" height="12.15" fill="#054863"/><rect x="1016.5" y="1941.9" width="16.6" height="12.15" fill="#074c5f"/><rect x="1032.6" y="1941.9" width="16.6" height="12.15" fill="#08505b"/><rect x="1048.8" y="1941.9" width="16.6" height="12.15" fill="#054863"/><rect x="1065.0" y="1941.9" width="48.9" height="12.15" fill="#08505b"/><rect x="1113.4" y="1941.9" width="32.7" height="12.15" fill="#0c5853"/><rect x="1145.8" y="1941.9" width="16.6" height="12.15" fill="#08505b"/><rect x="1161.9" y="1941.9" width="16.6" height="12.15" fill="#0a5457"/><rect x="1178.1" y="1941.9" width="16.6" height="12.15" fill="#0c5853"/><rect x="1194.2" y="1941.9" width="16.6" height="12.15" fill="#08505b"/><rect x="1210.4" y="1941.9" width="16.6" height="12.15" fill="#0c5853"/><rect x="1226.6" y="1941.9" width="48.9" height="12.15" fill="#0a5457"/><rect x="1275.0" y="1941.9" width="16.6" height="12.15" fill="#0c5853"/><rect x="1291.2" y="1941.9" width="32.7" height="12.15" fill="#08505b"/><rect x="1323.5" y="1941.9" width="16.6" height="12.15" fill="#0a5457"/><rect x="1339.7" y="1941.9" width="32.7" height="12.15" fill="#074c5f"/><rect x="580.2" y="1953.7" width="16.6" height="12.15" fill="#573493"/><rect x="596.3" y="1953.7" width="16.6" height="12.15" fill="#5c3495"/><rect x="612.5" y="1953.7" width="16.6" height="12.15" fill="#613397"/><rect x="628.6" y="1953.7" width="16.6" height="12.15" fill="#573493"/><rect x="644.8" y="1953.7" width="32.7" height="12.15" fill="#523590"/><rect x="693.3" y="1953.7" width="32.7" height="12.15" fill="#47368c"/><rect x="854.9" y="1953.7" width="16.6" height="12.15" fill="#034466"/><rect x="871.0" y="1953.7" width="16.6" height="12.15" fill="#054863"/><rect x="887.2" y="1953.7" width="16.6" height="12.15" fill="#034466"/><rect x="903.4" y="1953.7" width="16.6" height="12.15" fill="#003c6e"/><rect x="919.5" y="1953.7" width="16.6" height="12.15" fill="#02406a"/><rect x="935.7" y="1953.7" width="16.6" height="12.15" fill="#034466"/><rect x="951.8" y="1953.7" width="32.7" height="12.15" fill="#02406a"/><rect x="984.2" y="1953.7" width="16.6" height="12.15" fill="#034466"/><rect x="1000.3" y="1953.7" width="32.7" height="12.15" fill="#054863"/><rect x="1032.6" y="1953.7" width="16.6" height="12.15" fill="#074c5f"/><rect x="1048.8" y="1953.7" width="16.6" height="12.15" fill="#054863"/><rect x="1065.0" y="1953.7" width="32.7" height="12.15" fill="#074c5f"/><rect x="1097.3" y="1953.7" width="16.6" height="12.15" fill="#08505b"/><rect x="1113.4" y="1953.7" width="16.6" height="12.15" fill="#054863"/><rect x="1129.6" y="1953.7" width="16.6" height="12.15" fill="#08505b"/><rect x="1145.8" y="1953.7" width="16.6" height="12.15" fill="#074c5f"/><rect x="1161.9" y="1953.7" width="65.0" height="12.15" fill="#0c5853"/><rect x="1226.6" y="1953.7" width="16.6" height="12.15" fill="#08505b"/><rect x="1242.7" y="1953.7" width="16.6" height="12.15" fill="#0a5457"/><rect x="1258.9" y="1953.7" width="16.6" height="12.15" fill="#08505b"/><rect x="1275.0" y="1953.7" width="16.6" height="12.15" fill="#0a5457"/><rect x="1291.2" y="1953.7" width="32.7" height="12.15" fill="#074c5f"/><rect x="1323.5" y="1953.7" width="16.6" height="12.15" fill="#08505b"/><rect x="1339.7" y="1953.7" width="16.6" height="12.15" fill="#0a5457"/><rect x="1355.8" y="1953.7" width="16.6" height="12.15" fill="#074c5f"/><rect x="596.3" y="1965.4" width="16.6" height="12.15" fill="#573493"/><rect x="871.0" y="1965.4" width="16.6" height="12.15" fill="#02406a"/><rect x="887.2" y="1965.4" width="16.6" height="12.15" fill="#034466"/><rect x="903.4" y="1965.4" width="16.6" height="12.15" fill="#054863"/><rect x="919.5" y="1965.4" width="32.7" height="12.15" fill="#034466"/><rect x="951.8" y="1965.4" width="16.6" height="12.15" fill="#02406a"/><rect x="968.0" y="1965.4" width="16.6" height="12.15" fill="#034466"/><rect x="984.2" y="1965.4" width="48.9" height="12.15" fill="#054863"/><rect x="1032.6" y="1965.4" width="32.7" height="12.15" fill="#034466"/><rect x="1065.0" y="1965.4" width="48.9" height="12.15" fill="#054863"/><rect x="1113.4" y="1965.4" width="16.6" height="12.15" fill="#08505b"/><rect x="1129.6" y="1965.4" width="16.6" height="12.15" fill="#074c5f"/><rect x="1145.8" y="1965.4" width="16.6" height="12.15" fill="#0c5853"/><rect x="1161.9" y="1965.4" width="16.6" height="12.15" fill="#074c5f"/><rect x="1178.1" y="1965.4" width="16.6" height="12.15" fill="#0a5457"/><rect x="1194.2" y="1965.4" width="16.6" height="12.15" fill="#074c5f"/><rect x="1210.4" y="1965.4" width="16.6" height="12.15" fill="#08505b"/><rect x="1226.6" y="1965.4" width="16.6" height="12.15" fill="#074c5f"/><rect x="1242.7" y="1965.4" width="65.0" height="12.15" fill="#08505b"/><rect x="1307.4" y="1965.4" width="16.6" height="12.15" fill="#0a5457"/><rect x="1323.5" y="1965.4" width="16.6" height="12.15" fill="#074c5f"/><rect x="1339.7" y="1965.4" width="16.6" height="12.15" fill="#08505b"/><rect x="951.8" y="1977.2" width="16.6" height="12.15" fill="#054863"/><rect x="968.0" y="1977.2" width="16.6" height="12.15" fill="#034466"/><rect x="984.2" y="1977.2" width="16.6" height="12.15" fill="#054863"/><rect x="1000.3" y="1977.2" width="16.6" height="12.15" fill="#034466"/><rect x="1016.5" y="1977.2" width="16.6" height="12.15" fill="#054863"/><rect x="1032.6" y="1977.2" width="16.6" height="12.15" fill="#02406a"/><rect x="1048.8" y="1977.2" width="16.6" height="12.15" fill="#08505b"/><rect x="1065.0" y="1977.2" width="16.6" height="12.15" fill="#054863"/><rect x="1081.1" y="1977.2" width="16.6" height="12.15" fill="#034466"/><rect x="1097.3" y="1977.2" width="16.6" height="12.15" fill="#074c5f"/><rect x="1113.4" y="1977.2" width="16.6" height="12.15" fill="#0a5457"/><rect x="1129.6" y="1977.2" width="16.6" height="12.15" fill="#08505b"/><rect x="1145.8" y="1977.2" width="16.6" height="12.15" fill="#054863"/><rect x="1161.9" y="1977.2" width="16.6" height="12.15" fill="#074c5f"/><rect x="1178.1" y="1977.2" width="16.6" height="12.15" fill="#0a5457"/><rect x="1194.2" y="1977.2" width="16.6" height="12.15" fill="#074c5f"/><rect x="1210.4" y="1977.2" width="32.7" height="12.15" fill="#08505b"/><rect x="1242.7" y="1977.2" width="16.6" height="12.15" fill="#0c5853"/><rect x="1258.9" y="1977.2" width="16.6" height="12.15" fill="#08505b"/><rect x="1275.0" y="1977.2" width="16.6" height="12.15" fill="#0a5457"/><rect x="1291.2" y="1977.2" width="32.7" height="12.15" fill="#074c5f"/><rect x="1323.5" y="1977.2" width="16.6" height="12.15" fill="#08505b"/><rect x="984.2" y="1988.9" width="16.6" height="12.15" fill="#054863"/><rect x="1000.3" y="1988.9" width="16.6" height="12.15" fill="#02406a"/><rect x="1016.5" y="1988.9" width="16.6" height="12.15" fill="#054863"/><rect x="1032.6" y="1988.9" width="32.7" height="12.15" fill="#034466"/><rect x="1065.0" y="1988.9" width="16.6" height="12.15" fill="#054863"/><rect x="1081.1" y="1988.9" width="16.6" height="12.15" fill="#034466"/><rect x="1097.3" y="1988.9" width="16.6" height="12.15" fill="#054863"/><rect x="1113.4" y="1988.9" width="16.6" height="12.15" fill="#074c5f"/><rect x="1129.6" y="1988.9" width="16.6" height="12.15" fill="#08505b"/><rect x="1145.8" y="1988.9" width="16.6" height="12.15" fill="#074c5f"/><rect x="1161.9" y="1988.9" width="16.6" height="12.15" fill="#054863"/><rect x="1178.1" y="1988.9" width="32.7" height="12.15" fill="#0a5457"/><rect x="1210.4" y="1988.9" width="16.6" height="12.15" fill="#08505b"/><rect x="1226.6" y="1988.9" width="32.7" height="12.15" fill="#074c5f"/><rect x="1258.9" y="1988.9" width="16.6" height="12.15" fill="#08505b"/><rect x="1275.0" y="1988.9" width="16.6" height="12.15" fill="#074c5f"/><rect x="1291.2" y="1988.9" width="16.6" height="12.15" fill="#0a5457"/><rect x="1307.4" y="1988.9" width="32.7" height="12.15" fill="#074c5f"/><rect x="968.0" y="2000.7" width="16.6" height="12.15" fill="#054863"/><rect x="984.2" y="2000.7" width="32.7" height="12.15" fill="#02406a"/><rect x="1016.5" y="2000.7" width="16.6" height="12.15" fill="#034466"/><rect x="1032.6" y="2000.7" width="16.6" height="12.15" fill="#074c5f"/><rect x="1048.8" y="2000.7" width="32.7" height="12.15" fill="#034466"/><rect x="1081.1" y="2000.7" width="32.7" height="12.15" fill="#074c5f"/><rect x="1113.4" y="2000.7" width="16.6" height="12.15" fill="#08505b"/><rect x="1129.6" y="2000.7" width="32.7" height="12.15" fill="#054863"/><rect x="1161.9" y="2000.7" width="16.6" height="12.15" fill="#074c5f"/><rect x="1178.1" y="2000.7" width="48.9" height="12.15" fill="#08505b"/><rect x="1226.6" y="2000.7" width="16.6" height="12.15" fill="#054863"/><rect x="1242.7" y="2000.7" width="32.7" height="12.15" fill="#074c5f"/><rect x="1275.0" y="2000.7" width="32.7" height="12.15" fill="#08505b"/><rect x="1307.4" y="2000.7" width="16.6" height="12.15" fill="#074c5f"/><rect x="1323.5" y="2000.7" width="16.6" height="12.15" fill="#054863"/><rect x="984.2" y="2012.5" width="65.0" height="12.15" fill="#034466"/><rect x="1048.8" y="2012.5" width="16.6" height="12.15" fill="#054863"/><rect x="1065.0" y="2012.5" width="16.6" height="12.15" fill="#034466"/><rect x="1081.1" y="2012.5" width="16.6" height="12.15" fill="#054863"/><rect x="1097.3" y="2012.5" width="32.7" height="12.15" fill="#074c5f"/><rect x="1129.6" y="2012.5" width="32.7" height="12.15" fill="#0a5457"/><rect x="1161.9" y="2012.5" width="65.0" height="12.15" fill="#054863"/><rect x="1226.6" y="2012.5" width="16.6" height="12.15" fill="#074c5f"/><rect x="1242.7" y="2012.5" width="32.7" height="12.15" fill="#054863"/><rect x="1275.0" y="2012.5" width="16.6" height="12.15" fill="#074c5f"/><rect x="1291.2" y="2012.5" width="16.6" height="12.15" fill="#08505b"/><rect x="1307.4" y="2012.5" width="16.6" height="12.15" fill="#074c5f"/><rect x="1016.5" y="2024.2" width="32.7" height="12.15" fill="#034466"/><rect x="1048.8" y="2024.2" width="97.4" height="12.15" fill="#054863"/><rect x="1145.8" y="2024.2" width="16.6" height="12.15" fill="#074c5f"/><rect x="1161.9" y="2024.2" width="16.6" height="12.15" fill="#054863"/><rect x="1178.1" y="2024.2" width="16.6" height="12.15" fill="#08505b"/><rect x="1194.2" y="2024.2" width="16.6" height="12.15" fill="#034466"/><rect x="1210.4" y="2024.2" width="16.6" height="12.15" fill="#08505b"/><rect x="1226.6" y="2024.2" width="16.6" height="12.15" fill="#074c5f"/><rect x="1242.7" y="2024.2" width="16.6" height="12.15" fill="#08505b"/><rect x="1258.9" y="2024.2" width="32.7" height="12.15" fill="#074c5f"/><rect x="1291.2" y="2024.2" width="16.6" height="12.15" fill="#08505b"/><rect x="1307.4" y="2024.2" width="16.6" height="12.15" fill="#054863"/><rect x="1323.5" y="2024.2" width="16.6" height="12.15" fill="#074c5f"/><rect x="1339.7" y="2024.2" width="16.6" height="12.15" fill="#054863"/><rect x="1355.8" y="2024.2" width="16.6" height="12.15" fill="#074c5f"/><rect x="1032.6" y="2036.0" width="16.6" height="12.15" fill="#054863"/><rect x="1081.1" y="2036.0" width="16.6" height="12.15" fill="#074c5f"/><rect x="1097.3" y="2036.0" width="16.6" height="12.15" fill="#034466"/><rect x="1113.4" y="2036.0" width="16.6" height="12.15" fill="#074c5f"/><rect x="1129.6" y="2036.0" width="16.6" height="12.15" fill="#054863"/><rect x="1145.8" y="2036.0" width="16.6" height="12.15" fill="#074c5f"/><rect x="1161.9" y="2036.0" width="16.6" height="12.15" fill="#08505b"/><rect x="1178.1" y="2036.0" width="16.6" height="12.15" fill="#074c5f"/><rect x="1194.2" y="2036.0" width="48.9" height="12.15" fill="#054863"/><rect x="1242.7" y="2036.0" width="32.7" height="12.15" fill="#034466"/><rect x="1275.0" y="2036.0" width="16.6" height="12.15" fill="#054863"/><rect x="1291.2" y="2036.0" width="16.6" height="12.15" fill="#074c5f"/><rect x="1307.4" y="2036.0" width="16.6" height="12.15" fill="#034466"/><rect x="1323.5" y="2036.0" width="16.6" height="12.15" fill="#054863"/><rect x="1339.7" y="2036.0" width="16.6" height="12.15" fill="#074c5f"/><rect x="1355.8" y="2036.0" width="16.6" height="12.15" fill="#054863"/><rect x="1372.0" y="2036.0" width="16.6" height="12.15" fill="#034466"/><rect x="1097.3" y="2047.7" width="16.6" height="12.15" fill="#02406a"/><rect x="1113.4" y="2047.7" width="16.6" height="12.15" fill="#074c5f"/><rect x="1129.6" y="2047.7" width="16.6" height="12.15" fill="#054863"/><rect x="1145.8" y="2047.7" width="16.6" height="12.15" fill="#074c5f"/><rect x="1161.9" y="2047.7" width="32.7" height="12.15" fill="#054863"/><rect x="1194.2" y="2047.7" width="32.7" height="12.15" fill="#074c5f"/><rect x="1226.6" y="2047.7" width="16.6" height="12.15" fill="#034466"/><rect x="1242.7" y="2047.7" width="16.6" height="12.15" fill="#074c5f"/><rect x="1258.9" y="2047.7" width="16.6" height="12.15" fill="#034466"/><rect x="1275.0" y="2047.7" width="16.6" height="12.15" fill="#054863"/><rect x="1291.2" y="2047.7" width="16.6" height="12.15" fill="#08505b"/><rect x="1307.4" y="2047.7" width="16.6" height="12.15" fill="#054863"/><rect x="1323.5" y="2047.7" width="16.6" height="12.15" fill="#08505b"/><rect x="1339.7" y="2047.7" width="16.6" height="12.15" fill="#054863"/><rect x="1355.8" y="2047.7" width="16.6" height="12.15" fill="#074c5f"/><rect x="1372.0" y="2047.7" width="16.6" height="12.15" fill="#054863"/><rect x="1081.1" y="2059.5" width="16.6" height="12.15" fill="#054863"/><rect x="1097.3" y="2059.5" width="16.6" height="12.15" fill="#034466"/><rect x="1113.4" y="2059.5" width="16.6" height="12.15" fill="#054863"/><rect x="1129.6" y="2059.5" width="32.7" height="12.15" fill="#074c5f"/><rect x="1161.9" y="2059.5" width="16.6" height="12.15" fill="#034466"/><rect x="1178.1" y="2059.5" width="16.6" height="12.15" fill="#02406a"/><rect x="1194.2" y="2059.5" width="48.9" height="12.15" fill="#054863"/><rect x="1242.7" y="2059.5" width="32.7" height="12.15" fill="#074c5f"/><rect x="1275.0" y="2059.5" width="16.6" height="12.15" fill="#054863"/><rect x="1291.2" y="2059.5" width="32.7" height="12.15" fill="#074c5f"/><rect x="1323.5" y="2059.5" width="32.7" height="12.15" fill="#054863"/><rect x="1355.8" y="2059.5" width="16.6" height="12.15" fill="#074c5f"/><rect x="1097.3" y="2071.2" width="81.2" height="12.15" fill="#054863"/><rect x="1178.1" y="2071.2" width="48.9" height="12.15" fill="#074c5f"/><rect x="1226.6" y="2071.2" width="16.6" height="12.15" fill="#054863"/><rect x="1242.7" y="2071.2" width="16.6" height="12.15" fill="#02406a"/><rect x="1258.9" y="2071.2" width="32.7" height="12.15" fill="#074c5f"/><rect x="1291.2" y="2071.2" width="32.7" height="12.15" fill="#054863"/><rect x="1323.5" y="2071.2" width="16.6" height="12.15" fill="#074c5f"/><rect x="1339.7" y="2071.2" width="16.6" height="12.15" fill="#034466"/><rect x="1355.8" y="2071.2" width="16.6" height="12.15" fill="#074c5f"/><rect x="1129.6" y="2083.0" width="16.6" height="12.15" fill="#074c5f"/><rect x="1145.8" y="2083.0" width="48.9" height="12.15" fill="#054863"/><rect x="1194.2" y="2083.0" width="32.7" height="12.15" fill="#074c5f"/><rect x="1226.6" y="2083.0" width="81.2" height="12.15" fill="#054863"/><rect x="1307.4" y="2083.0" width="16.6" height="12.15" fill="#034466"/><rect x="1323.5" y="2083.0" width="16.6" height="12.15" fill="#02406a"/><rect x="1339.7" y="2083.0" width="16.6" height="12.15" fill="#054863"/><rect x="1355.8" y="2083.0" width="16.6" height="12.15" fill="#074c5f"/><rect x="1372.0" y="2083.0" width="16.6" height="12.15" fill="#054863"/><rect x="1129.6" y="2094.7" width="16.6" height="12.15" fill="#074c5f"/><rect x="1145.8" y="2094.7" width="16.6" height="12.15" fill="#034466"/><rect x="1161.9" y="2094.7" width="16.6" height="12.15" fill="#054863"/><rect x="1178.1" y="2094.7" width="16.6" height="12.15" fill="#034466"/><rect x="1194.2" y="2094.7" width="16.6" height="12.15" fill="#054863"/><rect x="1210.4" y="2094.7" width="16.6" height="12.15" fill="#034466"/><rect x="1226.6" y="2094.7" width="32.7" height="12.15" fill="#074c5f"/><rect x="1258.9" y="2094.7" width="16.6" height="12.15" fill="#054863"/><rect x="1275.0" y="2094.7" width="48.9" height="12.15" fill="#074c5f"/><rect x="1323.5" y="2094.7" width="32.7" height="12.15" fill="#034466"/><rect x="1355.8" y="2094.7" width="32.7" height="12.15" fill="#054863"/><rect x="1388.2" y="2094.7" width="16.6" height="12.15" fill="#034466"/><rect x="1145.8" y="2106.5" width="16.6" height="12.15" fill="#074c5f"/><rect x="1161.9" y="2106.5" width="16.6" height="12.15" fill="#054863"/><rect x="1178.1" y="2106.5" width="16.6" height="12.15" fill="#074c5f"/><rect x="1194.2" y="2106.5" width="16.6" height="12.15" fill="#08505b"/><rect x="1210.4" y="2106.5" width="16.6" height="12.15" fill="#054863"/><rect x="1226.6" y="2106.5" width="16.6" height="12.15" fill="#02406a"/><rect x="1242.7" y="2106.5" width="32.7" height="12.15" fill="#034466"/><rect x="1275.0" y="2106.5" width="32.7" height="12.15" fill="#054863"/><rect x="1307.4" y="2106.5" width="32.7" height="12.15" fill="#034466"/><rect x="1339.7" y="2106.5" width="32.7" height="12.15" fill="#054863"/><rect x="1372.0" y="2106.5" width="16.6" height="12.15" fill="#02406a"/><rect x="1388.2" y="2106.5" width="16.6" height="12.15" fill="#074c5f"/><rect x="1404.3" y="2106.5" width="16.6" height="12.15" fill="#054863"/><rect x="1145.8" y="2118.2" width="16.6" height="12.15" fill="#054863"/><rect x="1161.9" y="2118.2" width="32.7" height="12.15" fill="#074c5f"/><rect x="1194.2" y="2118.2" width="16.6" height="12.15" fill="#02406a"/><rect x="1210.4" y="2118.2" width="48.9" height="12.15" fill="#074c5f"/><rect x="1258.9" y="2118.2" width="16.6" height="12.15" fill="#02406a"/><rect x="1275.0" y="2118.2" width="16.6" height="12.15" fill="#034466"/><rect x="1291.2" y="2118.2" width="16.6" height="12.15" fill="#054863"/><rect x="1307.4" y="2118.2" width="16.6" height="12.15" fill="#034466"/><rect x="1323.5" y="2118.2" width="16.6" height="12.15" fill="#074c5f"/><rect x="1339.7" y="2118.2" width="16.6" height="12.15" fill="#034466"/><rect x="1355.8" y="2118.2" width="16.6" height="12.15" fill="#074c5f"/><rect x="1372.0" y="2118.2" width="16.6" height="12.15" fill="#054863"/><rect x="1388.2" y="2118.2" width="16.6" height="12.15" fill="#034466"/><rect x="1161.9" y="2130.0" width="16.6" height="12.15" fill="#034466"/><rect x="1178.1" y="2130.0" width="16.6" height="12.15" fill="#074c5f"/><rect x="1194.2" y="2130.0" width="32.7" height="12.15" fill="#054863"/><rect x="1226.6" y="2130.0" width="16.6" height="12.15" fill="#034466"/><rect x="1242.7" y="2130.0" width="65.0" height="12.15" fill="#054863"/><rect x="1307.4" y="2130.0" width="16.6" height="12.15" fill="#074c5f"/><rect x="1323.5" y="2130.0" width="32.7" height="12.15" fill="#054863"/><rect x="1355.8" y="2130.0" width="16.6" height="12.15" fill="#074c5f"/><rect x="1372.0" y="2130.0" width="16.6" height="12.15" fill="#054863"/><rect x="1388.2" y="2130.0" width="16.6" height="12.15" fill="#074c5f"/><rect x="1161.9" y="2141.7" width="16.6" height="12.15" fill="#074c5f"/><rect x="1178.1" y="2141.7" width="48.9" height="12.15" fill="#054863"/><rect x="1226.6" y="2141.7" width="16.6" height="12.15" fill="#034466"/><rect x="1242.7" y="2141.7" width="16.6" height="12.15" fill="#054863"/><rect x="1258.9" y="2141.7" width="16.6" height="12.15" fill="#02406a"/><rect x="1275.0" y="2141.7" width="32.7" height="12.15" fill="#054863"/><rect x="1307.4" y="2141.7" width="16.6" height="12.15" fill="#034466"/><rect x="1323.5" y="2141.7" width="16.6" height="12.15" fill="#054863"/><rect x="1339.7" y="2141.7" width="16.6" height="12.15" fill="#08505b"/><rect x="1355.8" y="2141.7" width="16.6" height="12.15" fill="#054863"/><rect x="1372.0" y="2141.7" width="16.6" height="12.15" fill="#034466"/><rect x="1178.1" y="2153.5" width="16.6" height="12.15" fill="#034466"/><rect x="1194.2" y="2153.5" width="16.6" height="12.15" fill="#0a5457"/><rect x="1210.4" y="2153.5" width="48.9" height="12.15" fill="#054863"/><rect x="1258.9" y="2153.5" width="16.6" height="12.15" fill="#074c5f"/><rect x="1275.0" y="2153.5" width="16.6" height="12.15" fill="#034466"/><rect x="1291.2" y="2153.5" width="65.0" height="12.15" fill="#054863"/><rect x="1355.8" y="2153.5" width="16.6" height="12.15" fill="#034466"/></g><g fill="#fff" shape-rendering="crispEdges"><rect x="515.8" y="1143.4" width="15.6" height="11.1"/><rect x="580.0" y="1143.0" width="16.0" height="11.5"/><rect x="645.0" y="1167.0" width="16.0" height="22.0"/><rect x="482.0" y="1178.0" width="17.0" height="11.0"/><rect x="467.0" y="1189.0" width="16.0" height="12.0"/><rect x="660.6" y="1199.0" width="15.4" height="13.0"/><rect x="434.6" y="1213.5" width="32.4" height="11.2"/><rect x="806.0" y="1237.0" width="17.0" height="12.0"/><rect x="822.0" y="1249.0" width="17.0" height="23.0"/><rect x="418.0" y="1271.0" width="16.6" height="13.0"/><rect x="386.7" y="1308.0" width="15.6" height="11.0"/><rect x="790.8" y="1296.0" width="31.2" height="12.0"/><rect x="822.0" y="1308.0" width="17.0" height="11.0"/><rect x="790.8" y="1319.0" width="15.6" height="11.0"/><rect x="806.4" y="1330.0" width="15.6" height="13.0"/><rect x="564.4" y="1319.0" width="31.6" height="11.0"/><rect x="596.0" y="1330.0" width="15.6" height="13.0"/><rect x="418.0" y="1366.0" width="16.6" height="12.0"/><rect x="434.6" y="1378.0" width="15.4" height="12.0"/><rect x="360.0" y="1390.0" width="10.0" height="11.6"/><rect x="360.0" y="1413.0" width="10.0" height="25.0"/><rect x="1049.3" y="1224.7" width="15.6" height="12.3"/><rect x="1129.4" y="1237.0" width="16.1" height="12.0"/><rect x="1145.5" y="1249.0" width="16.2" height="12.0"/><rect x="1274.0" y="1355.0" width="17.0" height="11.0"/><rect x="1016.0" y="1426.0" width="15.5" height="11.0"/><rect x="1000.0" y="1437.0" width="16.0" height="11.4"/><rect x="499.0" y="1519.0" width="15.7" height="23.0"/><rect x="467.0" y="1578.0" width="15.4" height="12.0"/><rect x="467.0" y="1602.5" width="15.4" height="11.1"/><rect x="741.8" y="1624.7" width="15.6" height="12.3"/><rect x="451.3" y="1671.5" width="15.7" height="12.2"/><rect x="514.7" y="1671.5" width="16.7" height="12.2"/><rect x="564.4" y="1671.5" width="80.6" height="12.2"/><rect x="532.5" y="1696.0" width="15.5" height="11.0"/><rect x="564.4" y="1696.0" width="15.6" height="11.0"/><rect x="418.3" y="1719.4" width="16.3" height="11.1"/><rect x="360.0" y="1696.0" width="10.0" height="11.0"/><rect x="676.0" y="1754.0" width="17.0" height="12.0"/><rect x="596.0" y="1766.0" width="15.6" height="11.0"/><rect x="629.4" y="1766.0" width="31.2" height="11.0"/><rect x="548.0" y="1766.0" width="15.7" height="17.0"/><rect x="693.0" y="1777.0" width="32.0" height="12.5"/><rect x="725.0" y="1800.6" width="15.7" height="9.4"/><rect x="968.0" y="1531.0" width="15.6" height="11.4"/><rect x="983.6" y="1554.6" width="15.4" height="11.1"/><rect x="903.4" y="1565.7" width="15.6" height="12.3"/><rect x="983.6" y="1578.0" width="15.4" height="12.0"/><rect x="968.0" y="1590.0" width="15.6" height="11.4"/><rect x="1146.0" y="1578.0" width="15.7" height="12.0"/><rect x="1161.7" y="1543.5" width="15.6" height="11.1"/><rect x="1178.4" y="1602.5" width="15.6" height="11.1"/><rect x="968.0" y="1789.5" width="15.6" height="11.1"/><rect x="919.0" y="1766.0" width="16.7" height="11.0"/><rect x="727.0" y="1802.0" width="15.0" height="11.0"/><rect x="645.6" y="1885.0" width="14.8" height="11.5"/><rect x="662.0" y="1896.5" width="41.0" height="9.3"/><rect x="1111.0" y="1918.7" width="19.0" height="11.3"/><rect x="1308.0" y="1931.7" width="15.0" height="11.3"/><rect x="1323.0" y="1943.0" width="14.5" height="11.0"/><rect x="1289.0" y="1954.0" width="15.0" height="11.0"/><rect x="1289.0" y="2000.0" width="15.0" height="11.5"/><rect x="1079.7" y="2013.4" width="16.7" height="11.1"/><rect x="1193.0" y="2119.0" width="14.7" height="11.0"/><rect x="1352.4" y="2130.0" width="18.6" height="11.0"/><rect x="1272.6" y="2130.0" width="18.4" height="20.0"/><rect x="899.7" y="1885.3" width="18.6" height="9.3"/><rect x="855.0" y="1894.6" width="15.0" height="24.1"/><rect x="937.0" y="1943.0" width="29.5" height="11.0"/><rect x="918.0" y="1931.7" width="19.0" height="11.3"/><rect x="1417.0" y="1484.0" width="16.0" height="12.0"/><rect x="1436.0" y="1466.0" width="16.0" height="12.0"/><rect x="1700.0" y="1470.0" width="16.0" height="12.0"/><rect x="1740.0" y="1520.0" width="16.0" height="12.0"/><rect x="1683.0" y="1540.0" width="16.0" height="12.0"/><rect x="1610.0" y="1580.0" width="16.0" height="12.0"/><rect x="1320.0" y="1667.0" width="16.0" height="12.0"/><rect x="1400.0" y="1667.0" width="16.0" height="12.0"/></g><g fill="#111"><rect x="443.0" y="1216.0" width="18.0" height="6.0"/><rect x="572.0" y="1322.0" width="18.0" height="5.0"/><rect x="798.0" y="1299.0" width="17.0" height="6.0"/><rect x="1280.0" y="1354.0" width="10.0" height="11.0"/><rect x="503.0" y="1524.0" width="7.0" height="14.0"/><rect x="551.0" y="1769.0" width="7.0" height="11.0"/><rect x="636.0" y="1769.0" width="16.0" height="5.0"/><rect x="699.0" y="1780.0" width="18.0" height="6.0"/><rect x="667.0" y="1899.0" width="33.0" height="4.0"/><rect x="905.0" y="1886.0" width="8.0" height="6.0"/><rect x="859.0" y="1898.0" width="7.0" height="17.0"/></g><g clip-path="url(#bnd)" fill="none" stroke-width="5.5" stroke-linejoin="round" stroke-linecap="round"><path stroke="#1f1f1f" d="M362.0 1308.2 375.6 1301.3 378.2 1299.5 380.7 1301.3 394.3 1310.7 410.5 1312.3 423.6 1301.3 410.5 1291.4 408.0 1289.6 410.5 1278.7 412.4 1277.8 410.5 1276.6 406.2 1266.1 396.1 1254.3 407.9 1242.6 410.5 1240.7 426.6 1235.4 442.8 1234.5 456.6 1230.8 442.8 1228.8 426.6 1226.2 419.2 1219.1 424.1 1207.3 426.6 1205.5 442.8 1203.0 456.8 1207.3 459.0 1208.7 460.0 1207.3 475.1 1203.8 488.8 1207.3 491.3 1208.9 492.3 1207.3 500.2 1195.5 507.4 1189.5 523.6 1184.6 524.4 1183.8 527.4 1172.0 534.8 1160.3 539.8 1149.7 540.8 1148.5 539.8 1147.4 523.6 1142.8 507.4 1139.4 499.1 1136.8 503.2 1125.0M560.9 1125.0 572.1 1130.3 577.4 1125.0M593.2 1125.0 604.4 1132.1 620.6 1136.7 621.0 1136.8 636.4 1148.5 636.7 1150.0 642.6 1148.5 652.9 1148.4 653.1 1148.5 669.0 1155.2 676.1 1160.3 669.0 1165.4 657.1 1172.0 657.7 1183.8 661.2 1195.5 661.2 1207.3 652.9 1216.0 643.5 1207.3 636.7 1204.3 620.6 1196.7 618.7 1195.5 604.4 1190.9 599.2 1195.5 588.2 1206.8 587.9 1207.3 584.9 1219.1 580.6 1230.8 588.2 1237.5 593.4 1242.6 597.2 1254.3 604.4 1261.1 610.2 1266.1 615.9 1277.8 620.6 1282.2 625.6 1277.8 628.6 1266.1 635.2 1254.3 623.4 1242.6 636.7 1235.5 652.9 1239.8 656.3 1242.6 669.0 1246.1 685.2 1248.0 691.4 1242.6 701.4 1232.3 717.5 1234.5 726.0 1242.6 731.9 1254.3 733.7 1256.1 743.5 1266.1 749.8 1270.5 766.0 1267.9 782.2 1266.9 795.2 1277.8 793.6 1289.6 782.2 1297.5 767.6 1301.3 778.3 1313.1 766.0 1321.7 760.4 1324.8 766.0 1328.0 768.5 1324.8 782.2 1314.7 788.6 1313.1 788.1 1301.3 798.3 1293.5 812.4 1289.6 814.5 1288.8 817.7 1289.6 822.9 1301.3 824.8 1313.1 830.6 1321.0 836.2 1324.8 846.8 1329.8 863.0 1330.8 879.1 1335.2 888.6 1324.8 879.1 1318.1 863.0 1315.1 858.6 1313.1 849.2 1301.3 863.0 1298.1 867.4 1301.3 879.1 1310.8 890.4 1301.3 895.3 1297.8 911.4 1298.1 927.6 1298.6 943.8 1298.7 959.9 1297.1 973.3 1289.6 975.6 1277.8 976.1 1277.5 990.0 1266.1 992.2 1264.5 1008.4 1257.6 1024.6 1256.6 1040.7 1254.6 1055.9 1266.1 1056.9 1266.3 1058.0 1266.1 1072.0 1254.3 1073.0 1253.6 1089.2 1243.9 1105.4 1248.8 1109.4 1254.3 1105.4 1263.3 1103.1 1266.1 1089.2 1276.2 1086.9 1277.8 1073.0 1283.0 1067.9 1289.6 1064.5 1301.3 1073.0 1307.1 1089.2 1304.6 1094.8 1301.3 1104.3 1289.6 1105.4 1287.6 1121.5 1284.5 1137.7 1281.4 1153.8 1278.7 1154.5 1277.8 1168.1 1266.1 1170.0 1265.9 1170.2 1266.1 1172.8 1277.8 1186.2 1286.0 1202.3 1287.6 1218.5 1285.7 1234.6 1287.5 1242.0 1289.6 1239.8 1301.3 1240.1 1313.1 1234.6 1320.5 1218.5 1322.7 1202.3 1323.4 1196.9 1324.8 1186.2 1333.6 1183.6 1336.6 1186.2 1337.8 1202.3 1344.5 1209.1 1348.3 1218.5 1359.9 1227.6 1348.3 1231.0 1336.6 1234.6 1330.1 1250.8 1332.4 1257.1 1336.6 1267.0 1346.6 1283.1 1341.1 1286.9 1336.6 1299.1 1324.8 1299.3 1324.8 1306.3 1313.1 1315.4 1303.6 1318.3 1301.3 1331.6 1291.6 1334.9 1289.6 1338.4 1277.8 1347.8 1276.1 1350.1 1277.8 1350.7 1289.6 1363.9 1300.2 1380.1 1299.7 1382.3 1301.3 1381.0 1313.1 1380.1 1313.8 1364.9 1324.8 1363.9 1330.2 1347.8 1334.4 1343.8 1336.6 1338.3 1348.3 1346.6 1360.1 1331.6 1362.4 1315.4 1364.9 1307.5 1371.9 1302.2 1383.6 1299.3 1386.0 1290.6 1395.4 1290.3 1407.1 1297.7 1418.9 1299.3 1420.6 1313.0 1430.6 1315.4 1434.8 1321.9 1442.4 1331.6 1445.3 1347.8 1442.8 1363.9 1444.3 1364.3 1442.4 1363.9 1442.0 1347.8 1441.7 1331.6 1431.7 1328.1 1430.6 1315.4 1427.6 1303.3 1418.9 1315.4 1414.3 1321.2 1407.1 1331.6 1400.3 1339.7 1395.4 1344.0 1383.6 1340.6 1371.9 1347.8 1360.4 1348.5 1360.1 1363.9 1357.7 1379.6 1360.1 1372.0 1371.9 1370.9 1383.6 1369.6 1395.4 1363.9 1401.1 1354.7 1407.1 1363.9 1411.4 1376.1 1418.9 1380.1 1421.9 1396.2 1429.3 1398.1 1430.6 1406.8 1442.4 1412.4 1447.7 1428.6 1453.6 1429.4 1454.1 1428.6 1458.7 1412.4 1463.2 1410.8 1465.9 1409.9 1477.6 1412.4 1480.2 1420.8 1477.6 1428.6 1467.7 1430.0 1465.9 1444.7 1460.4 1454.1 1465.9 1460.9 1473.3 1468.6 1465.9 1477.0 1454.8 1477.4 1454.1 1477.0 1452.8 1475.5 1442.4 1466.2 1430.6 1477.0 1426.7 1478.3 1430.6 1493.2 1439.4 1497.3 1442.4 1497.7 1454.1 1498.7 1465.9 1509.4 1474.9 1521.6 1477.6 1525.5 1483.7 1531.9 1489.4 1541.7 1491.1 1547.3 1489.4 1557.8 1483.2 1574.0 1479.3 1575.7 1477.6 1579.9 1465.9 1590.2 1462.3 1603.7 1454.1 1606.3 1452.3 1616.3 1454.1 1622.5 1462.3 1638.6 1457.9 1654.8 1464.8 1656.3 1465.9 1654.8 1466.7 1645.0 1477.6 1642.6 1489.4 1649.3 1501.2 1654.8 1504.2 1656.1 1501.2 1669.7 1489.4 1671.0 1488.8 1687.1 1484.4 1692.9 1477.6 1703.3 1472.2 1717.0 1477.6 1719.4 1479.8 1732.1 1489.4 1719.4 1495.3 1707.8 1501.2 1709.3 1512.9 1719.4 1518.5 1726.9 1512.9 1735.6 1501.9 1736.7 1501.2 1751.8 1497.6 1764.9 1489.4 1767.9 1486.4 1784.1 1479.6 1785.7 1489.4 1784.3 1501.2 1785.6 1512.9 1784.1 1514.0 1782.6 1512.9 1767.9 1504.0 1756.9 1512.9 1751.8 1516.6 1739.9 1524.7 1738.0 1536.4 1735.6 1542.4 1719.4 1540.6 1704.7 1536.4 1703.3 1532.0 1687.1 1535.9 1685.5 1536.4 1671.0 1545.0 1667.6 1536.4 1654.8 1525.1 1649.3 1524.7 1638.6 1523.4 1637.5 1524.7 1622.5 1535.3 1606.3 1535.1 1590.2 1530.2 1578.7 1536.4 1588.9 1548.2 1590.2 1550.0 1606.3 1549.0 1622.5 1550.6 1638.6 1550.9 1654.2 1559.9 1654.8 1560.5 1657.0 1559.9 1671.0 1550.0 1684.4 1548.2 1687.1 1543.5 1687.4 1548.2 1687.1 1559.9 1695.0 1571.7 1690.4 1583.4 1687.1 1585.8 1677.5 1583.4 1671.0 1578.7 1659.9 1583.4 1654.8 1586.6 1644.5 1595.2 1638.6 1599.4 1622.5 1602.3 1606.3 1604.5 1601.6 1606.9 1590.2 1608.8 1574.0 1610.8 1561.3 1618.7 1557.8 1624.6 1542.6 1630.4 1541.7 1632.5 1536.4 1642.2 1541.7 1653.7 1557.8 1652.5 1574.0 1653.3 1574.3 1654.0 1574.0 1658.1 1561.8 1665.7 1557.8 1667.0 1556.5 1665.7 1541.7 1654.2 1525.5 1660.9 1516.7 1665.7 1509.4 1673.6 1493.2 1672.1 1480.9 1665.7 1477.0 1660.1 1471.3 1654.0 1460.9 1649.7 1444.7 1652.6 1428.6 1643.9 1426.0 1642.2 1412.4 1635.8 1402.8 1642.2 1399.1 1654.0 1412.4 1659.0 1427.4 1665.7 1428.6 1666.7 1444.7 1673.2 1455.4 1677.5 1444.7 1679.2 1428.6 1682.2 1416.1 1689.2 1412.4 1689.9 1411.4 1689.2 1396.2 1678.6 1389.5 1677.5 1386.4 1665.7 1380.1 1663.1 1376.3 1665.7 1363.9 1671.3 1347.8 1670.9 1331.6 1672.0 1324.9 1677.5 1315.4 1686.9 1313.0 1689.2 1299.3 1691.6 1286.9 1701.0 1283.1 1703.7 1267.0 1703.8 1254.3 1712.7 1250.8 1715.3 1237.3 1724.5 1234.6 1726.4 1223.0 1736.2 1221.7 1748.0 1219.6 1759.7 1230.5 1771.5 1234.6 1776.4 1236.7 1783.2 1250.8 1794.3 1251.8 1795.0 1250.8 1798.7 1238.6 1806.8 1239.9 1818.5 1242.0 1830.3 1240.6 1842.0 1234.6 1853.5 1234.4 1853.8 1234.6 1854.2 1250.8 1863.4 1267.0 1863.2 1270.2 1865.5 1269.9 1877.3 1267.0 1881.1 1255.8 1877.3 1250.8 1873.6 1234.6 1871.9 1221.6 1877.3 1218.9 1889.0 1227.3 1900.8 1218.5 1904.7 1216.3 1900.8 1202.3 1892.7 1186.2 1899.3 1183.9 1900.8 1173.5 1912.5 1170.0 1917.7 1164.2 1924.3 1153.8 1929.2 1146.4 1936.0 1153.6 1947.8 1153.8 1948.0 1154.5 1947.8 1170.0 1942.9 1186.2 1946.1 1202.3 1947.6 1218.5 1946.4 1221.0 1947.8 1234.6 1948.9 1250.8 1950.2 1267.0 1952.2 1283.1 1955.8 1299.3 1959.4 1299.7 1959.6 1305.6 1971.3 1308.9 1983.1 1315.4 1984.7 1323.8 1994.8 1329.8 2006.6 1319.8 2018.3 1319.5 2030.1 1331.6 2040.0 1347.8 2041.0 1359.5 2041.8 1347.8 2044.6 1331.6 2052.9 1331.1 2053.6 1319.9 2065.3 1315.4 2076.1 1299.3 2073.8 1283.1 2076.7 1282.5 2077.1 1267.0 2087.8 1250.8 2085.2 1236.7 2077.1 1234.6 2068.3 1233.3 2065.3 1234.6 2064.1 1238.9 2053.6 1245.9 2041.8 1250.8 2035.1 1267.0 2036.8 1272.8 2030.1 1281.3 2018.3 1267.0 2013.1 1262.5 2018.3 1250.8 2027.4 1239.7 2030.1 1234.6 2031.6 1232.5 2030.1 1218.9 2018.3 1223.6 2006.6 1228.2 1994.8 1218.5 1983.4 1215.3 1983.1 1205.6 1971.3 1202.3 1963.2 1194.8 1971.3 1200.2 1983.1 1199.6 1994.8 1197.6 2006.6 1186.2 2017.8 1183.8 2018.3 1170.0 2021.9 1153.8 2026.5 1147.0 2018.3 1143.5 2006.6 1137.7 2004.9 1135.1 2006.6 1121.5 2013.8 1115.9 2018.3 1108.4 2030.1 1105.4 2035.0 1099.6 2041.8 1089.2 2043.8 1086.5 2041.8 1083.2 2030.1 1075.2 2018.3 1073.0 2015.7 1064.9 2018.3 1060.1 2030.1 1056.9 2030.6 1040.7 2031.9 1035.2 2030.1 1030.2 2018.3 1024.6 2012.6 1021.5 2006.6 1023.4 1994.8 1024.6 1985.9 1026.3 1983.1 1025.8 1971.3 1040.7 1965.4 1050.9 1959.6 1049.0 1947.8 1056.9 1942.7 1073.0 1945.4 1089.2 1941.6 1097.1 1936.0 1089.2 1928.2 1086.4 1924.3 1089.2 1921.2 1097.0 1912.5 1095.7 1900.8 1089.2 1890.9 1085.2 1889.0 1073.0 1878.8 1068.9 1877.3 1056.9 1871.5 1040.7 1867.9 1024.6 1869.7 1008.4 1869.5 1002.9 1865.5 992.2 1857.5 976.1 1856.8 959.9 1855.7 947.0 1853.8 943.8 1846.2 939.0 1842.0 927.6 1840.1 911.4 1832.6 907.7 1830.3 895.3 1824.4 879.1 1823.0 869.6 1818.5 863.0 1811.8 856.3 1818.5 851.5 1830.3 863.0 1832.2 879.1 1839.8 881.6 1842.0 885.1 1853.8 891.3 1865.5 892.2 1877.3 879.1 1882.6 864.1 1877.3 863.0 1876.4 850.9 1865.5 846.8 1862.8 840.5 1853.8 837.5 1842.0 830.6 1830.8 825.0 1842.0 814.5 1851.6 804.1 1853.8 798.3 1856.2 795.6 1853.8 782.2 1845.8 766.0 1843.8 765.5 1842.0 762.0 1830.3 755.5 1818.5 749.8 1807.1 749.7 1806.8 735.4 1795.0 733.7 1793.5 731.9 1795.0 717.5 1802.2 704.7 1806.8 701.4 1808.7 700.7 1806.8 685.2 1797.1 682.3 1795.0 669.0 1787.7 652.9 1785.5 645.0 1783.2 645.2 1771.5 643.2 1759.7 637.0 1748.0 652.9 1741.5 669.0 1743.0 675.3 1748.0 683.4 1759.7 685.2 1760.4 696.5 1759.7 701.4 1757.2 705.4 1748.0 717.5 1741.6 733.7 1737.9 735.7 1736.2 749.8 1727.0 763.1 1736.2 762.3 1748.0 766.0 1750.4 782.2 1751.0 793.2 1748.0 798.3 1744.9 801.5 1748.0 814.5 1752.1 830.6 1759.3 831.6 1759.7 830.6 1764.8 829.1 1771.5 814.5 1774.6 802.8 1783.2 814.5 1794.1 830.6 1787.9 839.3 1783.2 834.4 1771.5 846.8 1769.0 854.0 1759.7 851.0 1748.0 849.6 1736.2 846.8 1730.2 830.6 1731.8 814.5 1726.2 808.1 1724.5 807.9 1712.7 801.5 1701.0 799.1 1689.2 798.3 1687.5 782.7 1689.2 782.2 1689.2 781.5 1689.2 766.0 1688.6 753.8 1677.5 749.8 1672.9 733.7 1667.5 717.5 1671.4 710.9 1677.5 711.0 1689.2 712.8 1701.0 701.4 1704.8 685.2 1706.4 669.0 1703.1 660.4 1701.0 652.9 1699.4 636.7 1691.2 627.9 1689.2 620.6 1685.2 614.3 1689.2 604.4 1695.8 596.7 1701.0 590.6 1712.7 588.2 1713.8 572.1 1716.4 555.9 1713.4 539.8 1714.2 523.6 1713.8 512.0 1712.7 507.4 1711.4 491.3 1711.8 475.1 1702.8 459.0 1706.2 454.0 1712.7 447.9 1724.5 442.8 1731.6 439.3 1736.2 442.8 1737.9 451.8 1748.0 453.7 1759.7 459.0 1761.2 470.3 1759.7 475.1 1757.9 481.9 1748.0 475.1 1737.7 459.0 1736.7 456.5 1736.2 459.0 1735.7 475.1 1734.8 491.3 1733.3 497.7 1736.2 507.4 1738.7 511.8 1748.0 523.6 1756.2 539.8 1756.1 555.9 1757.1 559.6 1759.7 572.1 1770.3 588.2 1770.4 592.0 1771.5 588.2 1773.0 572.1 1774.2 555.9 1771.7 539.8 1780.0 534.3 1783.2 539.8 1790.9 542.9 1795.0 555.9 1805.2 572.1 1800.9 581.7 1795.0 588.2 1789.9 604.4 1787.9 620.6 1791.1 636.7 1791.9 638.1 1795.0 636.7 1796.0 620.6 1796.2 610.4 1806.8 609.0 1818.5 620.6 1829.7 625.9 1830.3 636.7 1832.9 652.9 1832.7 669.0 1837.3 684.0 1842.0 685.2 1844.7 688.0 1842.0 701.4 1838.1 710.3 1842.0 717.5 1846.2 728.7 1853.8 733.7 1857.4 749.8 1861.0 758.0 1865.5 764.8 1877.3 766.0 1878.0 782.2 1879.3 798.3 1880.5 814.5 1880.7 830.2 1889.0 830.6 1890.4 833.3 1900.8 830.6 1902.0 814.5 1902.2 798.3 1901.9 782.2 1909.8 776.0 1912.5 766.0 1917.1 750.5 1912.5 749.8 1912.4 734.8 1900.8 739.3 1889.0 733.7 1878.6 732.3 1877.3 717.5 1866.8 714.1 1865.5 701.4 1861.2 685.2 1857.5 669.0 1858.0 652.9 1856.9 636.7 1863.0 632.3 1865.5 620.6 1875.7 604.4 1871.3 596.4 1865.5 588.2 1857.9 572.1 1854.7 568.5 1853.8 561.2 1842.0 555.9 1838.7 539.8 1837.3 523.6 1833.2 507.4 1832.1 501.0 1830.3 507.2 1818.5 507.4 1818.0 515.2 1806.8 522.5 1795.0 510.3 1783.2 507.4 1781.4 497.5 1783.2 491.3 1784.8 479.3 1795.0 479.4 1806.8 475.1 1810.2 465.6 1818.5 464.6 1830.3 459.0 1831.6 457.1 1830.3 449.3 1818.5 442.8 1813.0 426.6 1810.6 414.6 1818.5 410.5 1819.5 409.1 1818.5 394.3 1810.3 389.5 1806.8 390.7 1795.0 383.7 1783.2 381.0 1771.5 378.2 1770.8 377.2 1771.5 370.1 1783.2 362.0 1784.5M1073.0 1201.0 1056.9 1195.9 1040.7 1206.3 1039.5 1195.5 1040.7 1194.7 1056.9 1195.4 1073.0 1195.2 1074.7 1195.5 1073.0 1201.0M782.2 1214.4 766.9 1207.3 782.2 1206.0 783.9 1207.3 782.2 1214.4M1137.7 1227.2 1121.5 1219.1 1121.5 1219.1 1115.8 1207.3 1121.5 1205.8 1137.7 1207.0 1138.3 1207.3 1142.0 1219.1 1137.7 1227.2M814.5 1230.1 798.3 1227.7 786.6 1219.1 798.3 1217.1 814.5 1216.7 825.3 1219.1 814.5 1230.1M1040.7 1254.1 1024.6 1249.8 1008.4 1245.4 1007.9 1242.6 1008.4 1241.0 1024.6 1239.1 1031.1 1230.8 1036.5 1219.1 1040.7 1208.1 1047.1 1219.1 1055.1 1230.8 1046.1 1242.6 1040.7 1254.1M532.7 1277.8 539.8 1273.7 546.6 1266.1 554.0 1254.3 541.2 1242.6 539.8 1240.8 523.6 1232.2 520.3 1230.8 507.4 1225.4 505.2 1230.8 501.0 1242.6 492.2 1254.3 491.3 1255.9 486.3 1266.1 491.3 1273.3 498.1 1277.8 507.4 1281.0 523.6 1282.9 532.7 1277.8M620.6 1239.9 616.5 1230.8 620.6 1221.8 629.0 1230.8 620.6 1239.9M766.0 1262.5 754.2 1254.3 749.8 1244.9 748.8 1242.6 749.8 1241.9 766.0 1233.5 776.9 1242.6 782.0 1254.3 766.0 1262.5M1137.7 1246.3 1134.5 1242.6 1137.7 1237.8 1143.2 1242.6 1137.7 1246.3M446.9 1254.3 442.8 1250.0 438.3 1254.3 442.8 1259.1 446.9 1254.3M830.6 1270.0 814.5 1271.1 798.3 1272.7 785.5 1266.1 782.4 1254.3 798.3 1248.2 814.5 1250.1 830.6 1253.3 832.0 1254.3 831.1 1266.1 830.6 1270.0M507.4 1269.7 503.1 1266.1 507.4 1264.5 511.8 1266.1 507.4 1269.7M581.4 1289.6 588.2 1284.8 595.9 1277.8 588.2 1273.5 572.1 1273.3 564.2 1277.8 562.4 1289.6 572.1 1294.1 581.4 1289.6M673.0 1289.6 669.0 1287.2 662.4 1289.6 669.0 1293.1 673.0 1289.6M846.8 1299.5 832.4 1289.6 846.8 1286.5 851.0 1289.6 846.8 1299.5M1028.3 1313.1 1035.2 1301.3 1031.5 1289.6 1024.6 1282.1 1008.4 1281.0 992.2 1283.2 984.1 1289.6 987.4 1301.3 992.2 1305.6 1008.4 1306.6 1021.6 1313.1 1024.6 1315.6 1028.3 1313.1M765.2 1301.3 749.8 1293.7 733.7 1297.2 728.1 1301.3 733.7 1307.7 749.8 1307.2 765.2 1301.3M1179.7 1313.1 1170.0 1305.0 1165.7 1301.3 1153.8 1293.4 1137.7 1297.0 1129.7 1301.3 1137.7 1311.7 1138.8 1313.1 1153.8 1316.1 1170.0 1318.0 1179.7 1313.1M520.3 1324.8 508.1 1313.1 507.4 1313.0 507.3 1313.1 496.4 1324.8 507.4 1331.8 520.3 1324.8M540.4 1313.1 539.8 1310.3 537.3 1313.1 539.8 1313.6 540.4 1313.1M622.8 1313.1 620.6 1310.0 618.2 1313.1 620.6 1315.2 622.8 1313.1M362.0 1755.0 378.2 1748.5 394.3 1748.6 394.4 1748.0 394.3 1747.9 378.2 1747.3 373.1 1736.2 376.7 1724.5 378.2 1721.7 394.3 1716.7 405.5 1712.7 397.0 1701.0 410.5 1694.3 420.1 1689.2 426.6 1681.1 428.0 1677.5 442.8 1665.8 459.0 1665.7 459.1 1665.7 475.1 1654.0 475.2 1654.0 491.3 1653.0 503.6 1642.2 497.7 1630.4 501.8 1618.7 491.3 1608.9 489.5 1606.9 485.1 1595.2 491.3 1590.3 507.4 1587.0 523.6 1590.8 524.7 1595.2 537.4 1606.9 538.4 1618.7 530.9 1630.4 539.8 1640.0 550.4 1642.2 555.9 1643.2 572.1 1648.3 588.2 1650.5 604.4 1644.9 620.6 1646.1 636.7 1649.7 647.3 1654.0 652.9 1655.7 656.0 1654.0 656.3 1642.2 659.2 1630.4 663.3 1618.7 669.0 1610.6 670.9 1606.9 669.0 1605.3 652.9 1602.4 646.1 1606.9 636.7 1612.4 620.6 1612.2 604.4 1617.4 602.1 1618.7 588.2 1627.5 581.0 1618.7 574.7 1606.9 581.0 1595.2 572.1 1590.9 555.9 1585.7 552.1 1583.4 539.8 1576.3 523.6 1574.6 523.0 1571.7 523.6 1570.5 533.2 1559.9 539.8 1555.9 554.0 1548.2 555.9 1547.3 557.5 1548.2 564.4 1559.9 572.1 1564.5 583.3 1571.7 588.2 1577.9 592.7 1571.7 599.3 1559.9 596.1 1548.2 591.0 1536.4 600.9 1524.7 596.8 1512.9 590.5 1501.2 588.5 1489.4 593.8 1477.6 588.9 1465.9 604.4 1463.5 620.6 1462.8 632.2 1454.1 631.4 1442.4 620.6 1435.9 604.4 1434.6 593.5 1442.4 593.3 1454.1 588.2 1465.6 585.4 1465.9 572.1 1467.4 559.9 1477.6 572.1 1485.6 587.9 1489.4 585.8 1501.2 572.1 1509.8 569.1 1512.9 555.9 1520.3 540.2 1512.9 539.8 1509.3 536.1 1512.9 523.6 1514.7 512.8 1524.7 507.4 1526.5 491.3 1527.0 478.5 1524.7 484.6 1512.9 475.1 1506.3 468.0 1501.2 467.3 1489.4 475.1 1483.8 491.3 1481.5 498.7 1477.6 507.4 1470.8 512.2 1465.9 508.9 1454.1 507.4 1452.5 491.3 1451.5 475.1 1444.7 474.1 1442.4 475.1 1441.3 483.7 1430.6 478.0 1418.9 491.3 1408.9 496.7 1407.1 507.4 1405.0 523.6 1398.4 529.4 1395.4 531.9 1383.6 523.6 1376.3 507.4 1382.8 504.7 1383.6 491.3 1388.8 481.3 1383.6 475.1 1377.3 471.8 1371.9 459.0 1363.5 454.7 1360.1 452.2 1348.3 459.0 1345.3 475.1 1338.7 486.7 1336.6 475.1 1332.7 459.0 1328.6 450.9 1336.6 442.8 1344.5 426.6 1344.4 410.5 1347.5 405.9 1336.6 395.6 1324.8 394.3 1323.4 392.6 1324.8 378.2 1334.2 375.5 1336.6 378.2 1342.2 382.2 1348.3 386.6 1360.1 383.8 1371.9 392.7 1383.6 394.3 1385.5 399.2 1395.4 405.1 1407.1 410.5 1410.1 419.7 1407.1 426.6 1405.7 433.4 1407.1 442.8 1415.9 449.3 1418.9 442.8 1420.8 430.1 1430.6 426.6 1437.3 421.9 1442.4 410.5 1446.0 395.4 1454.1 395.6 1465.9 394.3 1470.3 389.3 1477.6 394.3 1488.5 394.5 1489.4 394.3 1489.7 378.2 1498.8 362.0 1498.6M1099.9 1336.6 1095.8 1324.8 1089.2 1318.4 1074.5 1324.8 1073.0 1325.6 1063.9 1336.6 1073.0 1341.2 1089.2 1342.8 1099.9 1336.6M574.4 1336.6 572.1 1335.3 568.7 1336.6 572.1 1341.6 574.4 1336.6M684.5 1348.3 685.2 1347.9 695.1 1336.6 685.2 1329.4 669.0 1329.4 652.9 1326.0 640.8 1336.6 644.4 1348.3 652.9 1357.6 669.0 1355.2 684.5 1348.3M410.5 1360.4 409.8 1360.1 410.5 1356.8 410.7 1360.1 410.5 1360.4M783.6 1360.1 782.2 1359.4 776.3 1360.1 782.2 1360.4 783.6 1360.1M1221.3 1371.9 1218.5 1360.9 1216.9 1371.9 1218.5 1374.3 1221.3 1371.9M362.0 1457.0 372.9 1454.1 378.2 1449.9 382.9 1442.4 394.3 1431.1 394.9 1430.6 394.3 1430.3 383.2 1418.9 378.2 1407.9 378.0 1407.1 377.8 1395.4 363.0 1383.6 362.0 1383.2M1152.2 1383.6 1137.7 1374.6 1121.5 1377.1 1116.5 1383.6 1121.5 1391.1 1137.7 1394.1 1152.2 1383.6M475.1 1415.2 459.0 1416.9 447.3 1407.1 457.7 1395.4 459.0 1394.5 475.1 1390.6 479.1 1395.4 486.8 1407.1 475.1 1415.2M561.2 1430.6 558.1 1418.9 555.9 1418.2 552.8 1418.9 550.8 1430.6 555.9 1433.0 561.2 1430.6M1266.2 1430.6 1256.9 1418.9 1250.8 1412.2 1234.6 1411.0 1221.7 1418.9 1224.7 1430.6 1234.6 1434.9 1250.8 1437.5 1266.2 1430.6M1460.9 1426.7 1448.7 1418.9 1460.9 1418.0 1466.1 1418.9 1460.9 1426.7M670.5 1442.4 669.0 1442.2 667.7 1442.4 669.0 1442.9 670.5 1442.4M742.3 1489.4 733.7 1484.5 724.4 1477.6 717.5 1471.6 703.9 1465.9 702.5 1454.1 701.4 1451.6 691.5 1454.1 698.4 1465.9 692.2 1477.6 692.3 1489.4 701.4 1497.3 717.5 1501.0 733.7 1497.6 742.3 1489.4M969.1 1524.7 976.1 1518.4 980.0 1512.9 981.9 1501.2 981.3 1489.4 978.5 1477.6 976.1 1471.6 964.9 1465.9 959.9 1463.3 958.9 1465.9 957.9 1477.6 943.8 1484.6 936.2 1489.4 927.6 1500.8 927.2 1501.2 927.6 1501.8 937.5 1512.9 936.8 1524.7 943.8 1531.1 959.9 1529.7 969.1 1524.7M850.1 1489.4 848.5 1477.6 846.8 1477.2 841.8 1477.6 836.7 1489.4 846.8 1498.0 850.1 1489.4M1193.6 1501.2 1193.9 1489.4 1186.2 1483.9 1181.7 1489.4 1182.6 1501.2 1186.2 1511.0 1193.6 1501.2M1637.4 1501.2 1637.5 1489.4 1622.5 1479.5 1610.8 1489.4 1606.6 1501.2 1622.5 1510.7 1637.4 1501.2M426.6 1503.3 417.7 1501.2 426.6 1492.5 429.6 1501.2 426.6 1503.3M911.1 1512.9 895.3 1507.1 885.0 1512.9 895.3 1517.1 911.1 1512.9M947.5 1712.7 943.8 1704.6 942.8 1701.0 939.3 1689.2 938.9 1677.5 931.0 1665.7 927.6 1663.9 911.4 1663.6 895.3 1660.9 879.1 1663.1 871.4 1654.0 868.1 1642.2 874.9 1630.4 879.1 1627.4 895.3 1628.1 911.4 1626.5 921.7 1618.7 921.4 1606.9 927.6 1602.4 938.9 1595.2 927.6 1583.8 924.8 1583.4 927.6 1579.8 931.2 1571.7 927.6 1569.2 911.4 1562.3 903.8 1559.9 895.3 1557.0 884.3 1559.9 890.1 1571.7 893.9 1583.4 895.3 1584.3 911.4 1586.3 916.6 1595.2 911.4 1598.9 895.3 1597.6 879.1 1596.2 877.7 1595.2 863.0 1584.6 861.3 1583.4 863.0 1577.0 868.1 1571.7 873.9 1559.9 863.0 1556.6 846.8 1552.5 830.6 1554.7 814.5 1552.7 798.3 1557.4 791.7 1559.9 782.2 1562.0 766.0 1560.9 763.1 1559.9 752.7 1548.2 760.1 1536.4 749.8 1526.9 733.7 1528.3 718.4 1524.7 717.5 1524.2 715.8 1524.7 701.4 1532.0 700.5 1536.4 695.4 1548.2 698.6 1559.9 701.4 1562.0 717.5 1568.3 729.4 1571.7 723.8 1583.4 721.1 1595.2 717.5 1603.1 714.6 1606.9 715.7 1618.7 717.5 1620.1 730.3 1630.4 733.7 1635.5 737.0 1642.2 739.7 1654.0 749.8 1658.1 758.6 1654.0 766.0 1651.6 782.2 1648.5 795.4 1642.2 798.3 1641.5 802.1 1642.2 814.5 1650.5 817.1 1654.0 828.9 1665.7 830.6 1666.0 846.8 1670.9 863.0 1677.1 879.1 1671.2 886.6 1677.5 879.1 1680.9 863.0 1677.8 857.6 1689.2 856.7 1701.0 863.0 1708.7 879.1 1707.4 887.8 1701.0 895.1 1689.2 895.3 1688.9 895.3 1689.2 908.4 1701.0 911.4 1707.7 914.2 1712.7 927.6 1722.9 943.8 1716.5 947.5 1712.7M1114.6 1571.7 1112.6 1559.9 1121.5 1549.5 1134.4 1548.2 1121.5 1547.0 1105.4 1539.7 1101.7 1536.4 1089.2 1527.2 1073.5 1536.4 1073.0 1536.8 1067.2 1548.2 1073.0 1553.2 1086.9 1559.9 1089.2 1562.7 1096.9 1571.7 1105.4 1575.6 1114.6 1571.7M991.5 1571.7 991.8 1559.9 976.1 1551.5 959.9 1551.3 955.6 1548.2 943.8 1537.9 931.4 1548.2 943.8 1556.4 948.6 1559.9 959.9 1569.7 962.6 1571.7 976.1 1580.4 991.5 1571.7M491.3 1562.1 481.1 1559.9 491.3 1556.5 495.3 1559.9 491.3 1562.1M1008.8 1571.7 1008.5 1559.9 1008.4 1559.3 1005.6 1559.9 1005.4 1571.7 1008.4 1581.0 1008.8 1571.7M830.6 1597.6 818.8 1595.2 814.5 1591.7 803.0 1583.4 811.0 1571.7 814.5 1571.4 830.6 1568.2 831.8 1571.7 836.3 1583.4 834.0 1595.2 830.6 1597.6M1257.8 1654.0 1259.7 1642.2 1250.8 1633.6 1234.6 1634.5 1218.5 1632.8 1213.9 1630.4 1202.3 1625.8 1199.2 1618.7 1198.8 1606.9 1202.3 1600.5 1208.8 1595.2 1202.3 1590.8 1186.2 1584.3 1184.9 1583.4 1170.0 1578.1 1153.8 1581.0 1149.4 1583.4 1153.8 1593.2 1155.0 1595.2 1167.7 1606.9 1164.7 1618.7 1153.8 1627.5 1151.7 1630.4 1153.8 1633.4 1162.8 1642.2 1170.0 1646.4 1183.5 1654.0 1186.2 1656.4 1189.6 1654.0 1195.3 1642.2 1202.3 1637.4 1207.2 1642.2 1218.5 1645.4 1234.6 1644.5 1247.9 1654.0 1250.8 1655.8 1257.8 1654.0M1257.3 1595.2 1253.9 1583.4 1250.8 1582.5 1234.6 1580.9 1227.4 1583.4 1231.4 1595.2 1234.6 1596.0 1250.8 1597.7 1257.3 1595.2M1572.4 1583.4 1557.8 1578.7 1547.5 1583.4 1557.8 1586.5 1572.4 1583.4M459.0 1620.2 458.9 1618.7 455.2 1606.9 442.8 1597.7 439.3 1595.2 442.8 1589.6 459.0 1592.9 463.9 1595.2 467.1 1606.9 459.3 1618.7 459.0 1620.2M1011.7 1630.4 1019.1 1618.7 1014.1 1606.9 1015.2 1595.2 1008.4 1583.6 999.5 1595.2 1003.4 1606.9 1000.3 1618.7 1003.8 1630.4 1008.4 1635.5 1011.7 1630.4M1340.2 1606.9 1336.5 1595.2 1331.6 1590.7 1315.4 1593.3 1312.0 1595.2 1315.4 1599.6 1320.2 1606.9 1331.6 1614.9 1340.2 1606.9M1092.5 1606.9 1089.2 1604.6 1084.5 1606.9 1089.2 1609.2 1092.5 1606.9M1606.3 1631.9 1604.3 1630.4 1605.1 1618.7 1606.3 1612.7 1609.1 1618.7 1608.4 1630.4 1606.3 1631.9M475.1 1631.0 466.4 1630.4 475.1 1628.8 480.4 1630.4 475.1 1631.0M1311.9 1630.4 1299.3 1623.9 1293.1 1630.4 1299.3 1636.2 1311.9 1630.4M1514.6 1642.2 1518.6 1630.4 1509.4 1627.5 1501.0 1630.4 1493.8 1642.2 1509.4 1644.1 1514.6 1642.2M1138.7 1654.0 1137.7 1652.9 1121.5 1644.9 1109.2 1642.2 1105.4 1641.4 1103.1 1642.2 1105.4 1644.2 1110.4 1654.0 1121.5 1664.7 1137.7 1658.6 1138.7 1654.0M581.8 1701.0 582.9 1689.2 585.0 1677.5 588.2 1673.2 594.4 1665.7 588.2 1661.5 579.5 1665.7 572.1 1669.0 555.9 1667.3 552.5 1677.5 549.7 1689.2 552.7 1701.0 555.9 1707.7 572.1 1708.0 581.8 1701.0M1541.7 1690.2 1540.3 1689.2 1541.2 1677.5 1541.7 1677.1 1542.3 1677.5 1543.0 1689.2 1541.7 1690.2M362.0 1682.2 373.3 1689.2 375.6 1701.0 362.0 1705.1M1250.8 1689.2 1250.8 1689.2 1250.8 1689.2 1250.8 1689.2 1250.8 1689.2M1131.4 1701.0 1121.5 1695.5 1117.3 1701.0 1121.5 1711.0 1131.4 1701.0M1189.7 1748.0 1189.4 1736.2 1198.5 1724.5 1202.3 1719.6 1206.7 1712.7 1202.3 1706.0 1194.7 1701.0 1186.2 1697.6 1181.5 1701.0 1171.3 1712.7 1170.0 1720.9 1168.7 1724.5 1159.0 1736.2 1153.8 1738.5 1151.2 1748.0 1153.8 1750.0 1170.0 1750.2 1186.2 1751.2 1189.7 1748.0M1074.5 1842.0 1083.5 1830.3 1073.0 1826.8 1063.7 1818.5 1068.7 1806.8 1070.4 1795.0 1064.6 1783.2 1056.9 1774.5 1051.8 1771.5 1040.7 1766.3 1027.6 1759.7 1024.6 1755.6 1021.3 1748.0 1015.2 1736.2 1008.4 1731.7 999.5 1724.5 992.2 1721.5 982.6 1724.5 976.1 1730.5 971.8 1736.2 969.1 1748.0 974.0 1759.7 968.6 1771.5 976.1 1773.6 988.5 1771.5 992.2 1771.3 992.8 1771.5 1008.4 1778.0 1017.1 1783.2 1008.4 1788.4 992.2 1792.9 982.7 1795.0 992.2 1806.6 1008.4 1804.9 1024.6 1806.2 1024.8 1806.8 1030.8 1818.5 1026.7 1830.3 1040.7 1839.0 1052.8 1842.0 1056.9 1845.0 1073.0 1842.5 1074.5 1842.0M620.6 1754.5 607.3 1748.0 604.4 1736.4 604.4 1736.2 604.4 1736.2 620.6 1730.5 636.7 1728.3 648.9 1736.2 636.7 1747.9 636.6 1748.0 620.6 1754.5M930.6 1795.0 928.4 1783.2 927.6 1782.6 918.4 1771.5 927.6 1769.6 943.8 1770.0 957.9 1759.7 956.4 1748.0 943.8 1737.8 927.8 1748.0 927.6 1748.1 926.6 1748.0 911.4 1739.0 895.3 1747.8 895.1 1748.0 881.8 1759.7 879.1 1761.9 874.9 1771.5 879.1 1777.1 895.3 1781.4 900.0 1783.2 911.4 1792.5 920.3 1795.0 927.6 1801.2 930.6 1795.0M429.8 1783.2 426.6 1779.7 425.5 1783.2 426.6 1784.5 429.8 1783.2M804.2 1830.3 814.5 1824.5 823.1 1818.5 814.5 1811.7 798.3 1812.6 791.7 1806.8 782.2 1802.4 777.6 1806.8 782.2 1811.4 793.3 1818.5 792.4 1830.3 798.3 1831.4 804.2 1830.3M1223.7 1806.8 1218.5 1805.8 1204.6 1806.8 1218.5 1807.5 1223.7 1806.8M1267.0 1840.9 1263.1 1830.3 1267.0 1829.6 1267.9 1830.3 1267.0 1840.9M669.0 1918.8 652.9 1916.3 647.3 1912.5 636.7 1907.3 620.6 1901.2 620.3 1900.8 604.4 1892.8 599.2 1889.0 604.4 1885.3 620.6 1883.8 636.7 1883.7 652.9 1884.3 669.0 1878.8 671.5 1877.3 685.2 1869.1 701.4 1872.2 705.7 1877.3 702.3 1889.0 701.4 1889.8 688.3 1900.8 685.2 1905.8 676.2 1912.5 669.0 1918.8M943.8 1890.3 942.6 1889.0 943.8 1888.7 943.9 1889.0 943.8 1890.3M927.6 1908.0 924.2 1900.8 927.6 1894.8 937.4 1900.8 927.6 1908.0M1040.7 1901.3 1024.6 1903.2 1021.2 1900.8 1024.6 1898.4 1040.7 1900.3 1043.4 1900.8 1040.7 1901.3M1283.1 1906.9 1280.5 1900.8 1283.1 1898.0 1283.8 1900.8 1283.1 1906.9M588.2 1914.7 586.1 1912.5 588.2 1912.2 590.3 1912.5 588.2 1914.7M1347.8 1938.0 1331.6 1941.5 1317.8 1936.0 1315.4 1934.9 1299.3 1929.4 1288.5 1936.0 1283.1 1942.8 1267.0 1941.2 1254.8 1936.0 1250.8 1933.0 1245.5 1936.0 1234.6 1941.6 1228.4 1936.0 1223.3 1924.3 1223.7 1912.5 1234.6 1902.7 1250.8 1909.8 1267.0 1909.9 1276.8 1912.5 1283.1 1914.1 1299.3 1922.3 1313.1 1912.5 1315.4 1910.9 1317.8 1912.5 1331.6 1921.7 1335.1 1924.3 1347.8 1935.5 1355.8 1936.0 1347.8 1938.0M701.4 1936.1 701.2 1936.0 685.2 1928.3 678.3 1924.3 685.2 1920.2 701.4 1923.4 705.8 1924.3 701.4 1936.0 701.4 1936.1M1008.4 1940.4 992.2 1942.2 976.1 1938.8 969.3 1936.0 963.1 1924.3 976.1 1921.9 992.2 1920.9 996.9 1924.3 1008.4 1935.5 1011.8 1936.0 1008.4 1940.4M588.2 1945.9 574.4 1936.0 588.2 1930.1 593.7 1936.0 588.2 1945.9M911.4 1961.0 897.2 1959.6 911.4 1948.7 920.7 1959.6 911.4 1961.0M1101.1 1994.8 1105.4 1987.9 1108.0 1983.1 1105.4 1974.3 1104.0 1971.3 1092.4 1959.6 1089.2 1955.8 1073.0 1950.3 1060.5 1959.6 1059.9 1971.3 1056.9 1980.0 1055.1 1983.1 1054.9 1994.8 1056.9 2002.2 1073.0 2003.6 1089.2 2001.4 1101.1 1994.8M1008.4 1980.2 992.2 1978.8 976.1 1973.0 959.9 1973.5 956.9 1971.3 959.9 1965.1 976.1 1966.1 992.2 1968.0 1008.4 1964.2 1023.7 1971.3 1008.4 1980.2M992.2 2019.0 991.3 2018.3 992.2 2014.7 994.3 2018.3 992.2 2019.0M1186.2 2076.2 1170.0 2076.6 1153.8 2072.4 1137.7 2070.2 1130.2 2065.3 1125.5 2053.6 1131.6 2041.8 1137.7 2036.3 1153.8 2037.6 1159.0 2041.8 1170.0 2045.0 1174.6 2041.8 1186.2 2032.0 1200.8 2030.1 1202.3 2029.7 1202.7 2030.1 1205.7 2041.8 1202.3 2050.7 1200.7 2053.6 1191.4 2065.3 1186.2 2076.2M1363.9 2078.2 1359.3 2077.1 1363.9 2070.4 1365.4 2077.1 1363.9 2078.2M1186.2 2103.5 1173.7 2100.6 1179.0 2088.9 1186.2 2078.1 1189.5 2088.9 1189.9 2100.6 1186.2 2103.5M1331.6 2095.0 1315.4 2096.4 1311.4 2088.9 1315.4 2078.7 1331.6 2088.1 1333.6 2088.9 1331.6 2095.0M1250.8 2148.8 1234.6 2151.0 1218.5 2150.3 1203.5 2147.6 1216.8 2135.9 1218.5 2133.6 1226.5 2124.1 1218.5 2116.9 1211.0 2112.4 1214.8 2100.6 1218.5 2097.5 1234.6 2093.8 1235.9 2100.6 1236.2 2112.4 1250.8 2114.8 1266.9 2124.1 1254.1 2135.9 1256.1 2147.6 1250.8 2148.8M1315.4 2149.4 1299.3 2149.6 1283.1 2147.7 1282.5 2147.6 1283.1 2144.2 1287.0 2135.9 1283.1 2135.0 1267.0 2124.1 1272.8 2112.4 1283.1 2101.5 1286.1 2100.6 1299.3 2098.3 1308.6 2100.6 1309.8 2112.4 1307.3 2124.1 1313.4 2135.9 1315.4 2136.5 1322.1 2147.6 1315.4 2149.4M1363.9 2149.8 1347.8 2149.0 1342.1 2147.6 1347.8 2140.7 1363.9 2138.0 1366.9 2147.6 1363.9 2149.8"/><path stroke="#404040" d="M542.9 1125.0 539.8 1127.7 523.6 1127.5 518.5 1125.0M555.9 1213.6 539.8 1214.9 523.6 1212.6 511.7 1207.3 523.6 1198.1 533.1 1195.5 537.4 1183.8 538.9 1172.0 539.8 1170.9 555.9 1165.2 572.1 1169.1 582.9 1160.3 583.0 1148.5 579.0 1136.8 588.2 1126.8 604.4 1135.6 608.4 1136.8 606.7 1148.5 611.1 1160.3 613.3 1172.0 604.4 1174.6 588.2 1176.8 583.6 1183.8 577.3 1195.5 572.1 1205.5 571.1 1207.3 555.9 1213.6M669.0 1162.1 660.9 1160.3 669.0 1158.5 671.5 1160.3 669.0 1162.1M685.2 1272.9 669.0 1270.9 652.9 1268.1 649.6 1266.1 652.9 1262.4 669.0 1260.8 685.2 1264.7 687.8 1266.1 685.2 1272.9M717.5 1292.5 705.6 1289.6 710.7 1277.8 717.5 1271.3 723.2 1277.8 721.6 1289.6 717.5 1292.5M491.3 1301.8 475.1 1303.9 462.6 1301.3 468.8 1289.6 475.1 1285.6 491.3 1288.1 494.2 1289.6 491.8 1301.3 491.3 1301.8M1218.5 1311.9 1202.3 1303.7 1187.4 1301.3 1202.3 1300.3 1218.4 1289.6 1218.5 1289.6 1218.6 1289.6 1225.0 1301.3 1218.5 1311.9M959.9 1305.0 956.3 1301.3 959.9 1300.9 964.7 1301.3 959.9 1305.0M362.0 1311.6 378.2 1310.3 382.8 1313.1 378.2 1317.0 370.7 1324.8 362.0 1332.7M1040.7 1566.6 1024.6 1569.0 1021.0 1559.9 1017.8 1548.2 1012.9 1536.4 1008.4 1533.9 994.7 1524.7 994.3 1512.9 994.4 1501.2 996.9 1489.4 997.6 1477.6 1008.4 1467.1 1024.6 1470.9 1033.2 1465.9 1028.0 1454.1 1024.6 1448.3 1014.8 1442.4 1008.4 1439.3 992.2 1431.0 976.1 1430.8 975.9 1430.6 959.9 1424.6 954.9 1418.9 943.8 1413.1 927.6 1412.8 912.2 1418.9 924.6 1430.6 927.6 1434.9 937.5 1442.4 934.2 1454.1 942.0 1465.9 931.6 1477.6 927.6 1480.2 914.4 1489.4 911.4 1491.6 895.3 1490.9 879.1 1496.3 875.2 1489.4 879.1 1486.8 888.0 1477.6 886.6 1465.9 892.4 1454.1 886.1 1442.4 879.1 1436.0 872.6 1430.6 870.1 1418.9 863.0 1416.9 860.1 1418.9 852.2 1430.6 846.8 1439.4 845.4 1442.4 846.8 1443.9 860.4 1454.1 860.1 1465.9 846.8 1468.7 830.6 1469.6 814.5 1471.1 798.3 1468.0 793.8 1465.9 782.2 1459.4 766.0 1460.8 752.4 1454.1 749.8 1453.5 748.5 1454.1 749.8 1455.4 760.7 1465.9 757.9 1477.6 749.8 1480.8 743.1 1477.6 733.7 1472.9 726.2 1465.9 717.5 1457.8 714.8 1454.1 708.2 1442.4 701.4 1438.0 685.2 1436.3 669.0 1434.1 652.9 1435.1 636.7 1442.1 620.6 1432.7 604.4 1430.7 603.8 1430.6 604.4 1429.4 611.1 1418.9 620.6 1412.6 622.5 1407.1 631.7 1395.4 632.0 1383.6 636.7 1380.0 646.8 1371.9 652.9 1369.7 669.0 1366.8 681.4 1360.1 685.2 1358.2 701.4 1350.2 717.1 1360.1 717.5 1360.2 733.7 1361.9 749.8 1363.6 766.0 1365.2 782.2 1367.5 798.3 1366.8 809.2 1360.1 803.8 1348.3 803.5 1336.6 814.5 1335.0 829.7 1336.6 830.6 1336.7 846.8 1343.7 863.0 1345.2 879.1 1343.3 895.3 1338.1 911.4 1339.0 919.7 1336.6 917.1 1324.8 911.4 1322.1 895.3 1318.6 887.5 1313.1 895.3 1304.0 911.4 1304.5 927.6 1308.4 933.1 1313.1 941.2 1324.8 943.8 1326.5 959.9 1327.9 970.9 1324.8 976.1 1322.5 992.2 1322.8 996.4 1324.8 1008.4 1331.0 1024.6 1334.6 1040.7 1332.1 1044.2 1336.6 1056.9 1340.6 1073.0 1348.3 1073.5 1348.3 1089.2 1350.4 1102.1 1348.3 1105.4 1347.3 1108.2 1348.3 1112.8 1360.1 1105.4 1367.0 1101.8 1371.9 1101.1 1383.6 1089.2 1393.8 1085.3 1395.4 1073.0 1400.4 1056.9 1398.8 1044.2 1407.1 1040.7 1409.7 1028.8 1418.9 1035.4 1430.6 1040.7 1432.9 1056.9 1435.2 1067.0 1442.4 1065.8 1454.1 1072.1 1465.9 1073.0 1474.4 1074.7 1477.6 1086.8 1489.4 1073.0 1499.0 1072.4 1501.2 1067.0 1512.9 1064.1 1524.7 1058.4 1536.4 1056.9 1539.0 1052.7 1548.2 1049.8 1559.9 1040.7 1566.6M1331.6 1316.6 1327.2 1313.1 1331.6 1309.7 1342.2 1313.1 1331.6 1316.6M426.6 1327.6 420.0 1324.8 426.6 1322.5 432.0 1324.8 426.6 1327.6M717.5 1359.8 703.7 1348.3 708.7 1336.6 705.8 1324.8 717.5 1321.1 733.1 1324.8 733.7 1325.2 740.0 1336.6 733.7 1344.0 727.6 1348.3 717.5 1359.8M1056.9 1327.4 1050.7 1324.8 1056.9 1321.1 1058.9 1324.8 1056.9 1327.4M1121.5 1335.0 1112.6 1324.8 1121.5 1319.2 1134.6 1324.8 1121.5 1335.0M1153.8 1332.2 1142.2 1324.8 1153.8 1323.1 1159.7 1324.8 1153.8 1332.2M362.0 1342.8 365.2 1348.3 362.0 1359.9M491.3 1370.2 478.7 1360.1 491.3 1352.8 499.5 1360.1 491.3 1370.2M604.4 1363.4 588.2 1360.7 586.9 1360.1 588.2 1358.6 604.4 1356.7 606.9 1360.1 604.4 1363.4M1202.3 1387.0 1186.2 1389.6 1177.8 1383.6 1180.7 1371.9 1182.0 1360.1 1186.2 1355.7 1202.3 1356.2 1206.2 1360.1 1202.3 1371.5 1201.4 1371.9 1202.3 1372.6 1205.6 1383.6 1202.3 1387.0M1283.1 1387.4 1267.0 1395.3 1250.8 1388.4 1234.6 1384.1 1234.5 1383.6 1234.6 1383.4 1250.8 1380.6 1259.9 1371.9 1267.0 1365.0 1277.9 1360.1 1283.1 1358.7 1287.4 1360.1 1292.2 1371.9 1286.6 1383.6 1283.1 1387.4M588.2 1421.2 585.1 1418.9 572.1 1413.0 555.9 1411.3 539.8 1410.5 526.6 1418.9 523.6 1425.6 520.4 1418.9 522.6 1407.1 523.6 1406.7 539.8 1402.3 543.3 1395.4 550.3 1383.6 555.9 1376.6 572.1 1377.2 577.2 1383.6 581.0 1395.4 588.2 1404.0 595.0 1407.1 595.3 1418.9 588.2 1421.2M1121.5 1410.5 1105.4 1412.8 1098.9 1407.1 1105.4 1402.8 1121.5 1405.6 1129.0 1407.1 1121.5 1410.5M1153.8 1414.3 1149.7 1407.1 1153.8 1406.2 1161.0 1407.1 1153.8 1414.3M1186.2 1427.6 1170.0 1428.5 1155.8 1418.9 1170.0 1409.6 1181.2 1407.1 1186.2 1406.4 1187.1 1407.1 1193.2 1418.9 1186.2 1427.6M1137.7 1497.2 1121.5 1500.1 1105.4 1490.3 1095.5 1489.4 1092.7 1477.6 1094.7 1465.9 1099.7 1454.1 1105.4 1444.1 1106.7 1442.4 1121.5 1431.3 1137.7 1435.5 1142.8 1442.4 1137.7 1447.5 1132.6 1454.1 1121.5 1465.3 1120.7 1465.9 1121.5 1467.0 1137.7 1471.5 1147.3 1477.6 1150.7 1489.4 1137.7 1497.2M539.8 1469.4 533.8 1465.9 539.2 1454.1 539.8 1453.1 555.9 1452.8 560.9 1454.1 555.9 1462.2 555.0 1465.9 539.8 1469.4M1396.2 1609.5 1389.7 1606.9 1380.1 1604.5 1364.0 1595.2 1363.9 1595.1 1347.8 1591.6 1340.9 1583.4 1331.6 1580.1 1315.4 1575.2 1311.8 1571.7 1299.3 1566.7 1286.7 1571.7 1283.1 1574.5 1267.0 1578.3 1250.8 1574.2 1242.9 1571.7 1234.6 1565.6 1222.5 1571.7 1218.5 1573.1 1202.3 1573.2 1194.5 1571.7 1186.2 1569.9 1170.0 1568.1 1153.8 1569.8 1142.2 1559.9 1153.8 1553.4 1159.3 1548.2 1170.0 1539.9 1186.2 1540.5 1202.3 1546.0 1215.8 1536.4 1218.5 1535.1 1234.6 1530.2 1239.2 1524.7 1241.5 1512.9 1234.6 1505.9 1218.5 1502.9 1216.4 1501.2 1212.4 1489.4 1218.5 1480.9 1234.6 1480.2 1238.7 1477.6 1246.5 1465.9 1243.1 1454.1 1250.8 1450.2 1267.0 1454.1 1266.9 1465.9 1265.8 1477.6 1261.4 1489.4 1263.2 1501.2 1267.0 1501.5 1267.6 1501.2 1274.4 1489.4 1283.1 1486.3 1299.3 1478.8 1315.4 1481.9 1331.6 1481.6 1344.1 1477.6 1345.0 1465.9 1347.8 1464.5 1349.0 1465.9 1363.9 1470.7 1376.1 1465.9 1380.1 1456.2 1383.1 1454.1 1396.2 1450.5 1399.8 1454.1 1397.0 1465.9 1398.8 1477.6 1409.9 1489.4 1412.4 1492.5 1421.9 1489.4 1428.6 1487.8 1444.7 1482.6 1451.2 1489.4 1460.9 1498.4 1472.1 1489.4 1477.0 1483.6 1482.5 1477.6 1492.6 1465.9 1493.2 1464.6 1493.3 1465.9 1500.6 1477.6 1509.4 1484.6 1513.4 1489.4 1525.5 1498.2 1541.7 1497.4 1557.8 1497.1 1567.7 1501.2 1570.1 1512.9 1557.8 1518.3 1552.2 1524.7 1551.5 1536.4 1557.8 1540.0 1574.0 1547.4 1574.8 1548.2 1575.6 1559.9 1574.0 1560.7 1557.8 1566.2 1541.7 1561.5 1536.3 1559.9 1525.5 1557.6 1515.3 1559.9 1509.4 1563.0 1493.2 1569.4 1492.6 1571.7 1483.6 1583.4 1478.1 1595.2 1477.0 1596.1 1473.5 1595.2 1460.9 1594.6 1444.7 1593.8 1437.0 1595.2 1428.6 1599.7 1412.4 1604.2 1401.8 1606.9 1396.2 1609.5M1299.3 1455.9 1283.1 1454.8 1267.2 1454.1 1283.1 1452.9 1299.3 1450.8 1301.4 1454.1 1299.3 1455.9M636.7 1477.9 620.6 1486.2 612.8 1477.6 620.6 1472.7 636.7 1476.9 637.0 1477.6 636.7 1477.9M1606.3 1482.3 1598.5 1477.6 1606.3 1467.0 1609.5 1477.6 1606.3 1482.3M555.9 1506.0 553.5 1501.2 554.1 1489.4 555.9 1488.1 558.0 1489.4 559.8 1501.2 555.9 1506.0M507.4 1514.4 491.3 1517.0 489.3 1512.9 475.1 1503.0 472.5 1501.2 475.1 1495.5 491.3 1494.6 504.4 1501.2 507.4 1507.7 509.2 1512.9 507.4 1514.4M636.7 1599.6 620.6 1601.9 610.0 1595.2 613.8 1583.4 618.5 1571.7 616.8 1559.9 612.3 1548.2 614.0 1536.4 616.8 1524.7 614.6 1512.9 614.4 1501.2 620.6 1491.8 636.7 1495.8 652.9 1497.7 664.0 1501.2 655.6 1512.9 652.9 1516.0 645.1 1524.7 652.9 1535.2 669.0 1532.1 682.5 1536.4 685.2 1540.9 686.2 1548.2 687.3 1559.9 701.4 1570.2 705.0 1571.7 708.3 1583.4 701.4 1594.9 693.3 1583.4 685.2 1573.5 669.0 1572.8 652.9 1583.1 652.0 1583.4 643.5 1595.2 636.7 1599.6M814.5 1539.9 798.3 1541.7 789.3 1536.4 791.1 1524.7 787.3 1512.9 786.1 1501.2 798.3 1500.1 814.5 1498.1 817.6 1501.2 814.5 1509.9 811.6 1512.9 810.3 1524.7 814.5 1528.0 829.6 1536.4 814.5 1539.9M863.0 1501.9 862.4 1501.2 863.0 1500.1 867.9 1501.2 863.0 1501.9M1671.0 1516.1 1669.1 1512.9 1671.0 1505.8 1677.0 1512.9 1671.0 1516.1M911.4 1546.4 895.3 1542.6 879.1 1541.4 867.4 1536.4 879.1 1529.6 895.3 1529.4 911.4 1526.3 925.2 1536.4 911.4 1546.4M1447.8 1536.4 1444.7 1534.4 1440.2 1536.4 1444.7 1537.7 1447.8 1536.4M1622.5 1586.1 1615.5 1583.4 1614.1 1571.7 1617.7 1559.9 1622.5 1559.5 1628.3 1559.9 1638.6 1562.8 1646.3 1571.7 1638.6 1579.9 1630.6 1583.4 1622.5 1586.1M1073.0 1600.1 1056.9 1604.0 1040.7 1600.1 1035.5 1595.2 1040.7 1587.7 1056.9 1583.4 1056.9 1583.4 1064.6 1571.7 1073.0 1568.0 1076.9 1571.7 1081.2 1583.4 1081.3 1595.2 1073.0 1600.1M830.6 1584.8 828.9 1583.4 830.6 1582.6 831.0 1583.4 830.6 1584.8M685.2 1606.3 675.9 1595.2 685.2 1588.9 701.0 1595.2 685.2 1606.3M1056.9 1721.6 1040.7 1718.8 1024.6 1720.2 1008.4 1717.2 998.3 1712.7 992.2 1710.1 979.7 1701.0 976.1 1696.0 959.9 1697.1 953.2 1689.2 951.3 1677.5 948.8 1665.7 943.8 1661.1 927.6 1655.4 919.7 1654.0 911.4 1650.6 899.0 1642.2 911.1 1630.4 911.4 1630.4 926.8 1618.7 926.4 1606.9 927.6 1606.1 943.8 1599.9 951.5 1595.2 959.9 1592.9 973.0 1595.2 976.1 1600.7 977.1 1606.9 981.1 1618.7 983.4 1630.4 976.1 1636.8 963.5 1642.2 960.5 1654.0 976.1 1660.6 992.2 1661.5 1007.7 1654.0 1008.4 1653.4 1022.9 1642.2 1024.6 1639.4 1040.7 1633.4 1056.9 1631.7 1061.3 1630.4 1073.0 1626.5 1079.5 1630.4 1077.2 1642.2 1080.6 1654.0 1089.2 1661.1 1099.0 1665.7 1095.4 1677.5 1089.2 1685.3 1086.8 1689.2 1073.0 1698.9 1069.8 1701.0 1060.3 1712.7 1056.9 1721.6M1137.7 1620.9 1121.5 1626.4 1107.9 1618.7 1121.4 1606.9 1116.1 1595.2 1121.5 1585.8 1126.9 1595.2 1121.7 1606.9 1137.7 1615.6 1139.0 1618.7 1137.7 1620.9M1493.2 1618.7 1492.7 1618.7 1492.5 1606.9 1493.2 1606.5 1494.0 1606.9 1493.3 1618.7 1493.2 1618.7M1557.8 1612.2 1546.6 1606.9 1557.8 1600.0 1573.6 1606.9 1557.8 1612.2M1267.0 1631.4 1265.9 1630.4 1260.2 1618.7 1267.0 1611.3 1275.1 1618.7 1268.8 1630.4 1267.0 1631.4M1363.9 1655.9 1360.6 1654.0 1350.7 1642.2 1349.9 1630.4 1363.9 1620.9 1380.1 1629.0 1381.8 1630.4 1383.6 1642.2 1380.1 1645.6 1366.7 1654.0 1363.9 1655.9M636.7 1670.5 627.8 1665.7 636.7 1663.0 643.6 1665.7 636.7 1670.5M782.2 1679.9 773.7 1677.5 766.0 1672.7 760.2 1665.7 766.0 1662.2 782.2 1661.4 785.9 1665.7 786.6 1677.5 782.2 1679.9M1218.5 1708.5 1214.7 1701.0 1202.3 1689.5 1201.5 1689.2 1195.4 1677.5 1202.3 1669.3 1207.6 1665.7 1218.5 1661.5 1224.0 1665.7 1219.2 1677.5 1219.4 1689.2 1230.7 1701.0 1218.5 1708.5M830.6 1701.2 830.0 1701.0 814.5 1689.6 814.3 1689.2 814.5 1688.4 819.5 1677.5 830.6 1674.7 846.0 1677.5 846.8 1678.0 849.4 1689.2 846.8 1700.2 836.6 1701.0 830.6 1701.2M1153.8 1709.9 1149.4 1701.0 1152.5 1689.2 1153.8 1688.6 1156.1 1689.2 1161.7 1701.0 1153.8 1709.9M442.8 1702.3 440.1 1701.0 442.8 1698.9 443.5 1701.0 442.8 1702.3M879.1 1735.5 875.9 1724.5 879.1 1722.0 885.1 1724.5 879.1 1735.5M1153.8 1912.7 1137.7 1917.2 1123.1 1912.5 1121.5 1911.7 1111.9 1900.8 1105.4 1892.2 1103.0 1889.0 1100.1 1877.3 1103.9 1865.5 1105.4 1864.2 1109.0 1853.8 1119.3 1842.0 1121.5 1836.5 1137.7 1835.3 1152.4 1830.3 1145.9 1818.5 1137.7 1816.2 1122.8 1818.5 1121.5 1820.4 1120.9 1818.5 1113.5 1806.8 1114.2 1795.0 1108.5 1783.2 1105.4 1780.2 1089.2 1778.9 1073.0 1776.6 1068.2 1771.5 1062.8 1759.7 1062.3 1748.0 1073.0 1739.5 1089.2 1737.4 1093.4 1736.2 1105.4 1732.7 1121.5 1726.3 1137.7 1735.8 1138.1 1736.2 1141.1 1748.0 1153.8 1758.0 1169.8 1759.7 1170.0 1759.8 1183.5 1771.5 1186.2 1773.4 1202.3 1782.4 1207.8 1783.2 1202.3 1784.5 1198.4 1795.0 1186.2 1805.1 1184.2 1806.8 1186.2 1811.9 1194.1 1818.5 1195.0 1830.3 1202.3 1840.7 1205.5 1842.0 1210.8 1853.8 1204.4 1865.5 1202.3 1867.3 1193.2 1877.3 1186.2 1884.8 1180.4 1889.0 1170.0 1896.2 1164.3 1900.8 1154.0 1912.5 1153.8 1912.7M507.4 1760.6 504.5 1759.7 507.4 1758.4 510.5 1759.7 507.4 1760.6M701.4 1796.2 698.9 1795.0 685.2 1787.0 669.0 1784.0 664.6 1783.2 662.9 1771.5 669.0 1767.5 681.9 1771.5 685.2 1774.1 688.3 1771.5 701.4 1768.6 713.8 1759.7 717.5 1756.4 728.9 1759.7 726.3 1771.5 723.8 1783.2 717.5 1788.3 704.2 1795.0 701.4 1796.2M798.3 1767.8 791.6 1759.7 798.3 1757.2 807.2 1759.7 798.3 1767.8M459.0 1783.4 458.9 1783.2 457.2 1771.5 459.0 1770.9 475.1 1770.5 478.2 1771.5 475.1 1774.0 459.2 1783.2 459.0 1783.4M523.6 1771.6 523.4 1771.5 523.6 1771.1 523.8 1771.5 523.6 1771.6M782.2 1784.8 766.0 1789.4 751.9 1783.2 763.3 1771.5 766.0 1770.0 782.2 1766.1 793.9 1771.5 784.4 1783.2 782.2 1784.8M410.5 1808.5 402.5 1806.8 407.1 1795.0 410.5 1791.2 413.4 1795.0 413.0 1806.8 410.5 1808.5M604.4 1868.4 600.5 1865.5 588.2 1854.1 586.7 1853.8 587.6 1842.0 586.4 1830.3 572.1 1821.7 567.9 1818.5 572.1 1816.1 581.8 1806.8 588.2 1802.8 604.4 1803.8 605.3 1806.8 604.4 1812.5 598.2 1818.5 590.0 1830.3 591.2 1842.0 604.4 1844.4 620.6 1848.7 632.8 1853.8 620.6 1858.8 616.3 1865.5 604.4 1868.4M959.9 1809.6 957.5 1806.8 959.9 1804.1 966.5 1806.8 959.9 1809.6M976.1 1819.1 974.5 1818.5 976.1 1816.2 977.2 1818.5 976.1 1819.1M1024.6 1865.9 1008.4 1865.6 1008.2 1865.5 995.5 1853.8 1008.4 1849.4 1022.5 1853.8 1024.6 1856.9 1027.4 1865.5 1024.6 1865.9M1170.0 1962.4 1166.8 1959.6 1170.0 1958.3 1173.8 1959.6 1170.0 1962.4M1250.8 1992.6 1234.9 1983.1 1234.6 1983.0 1219.9 1971.3 1225.5 1959.6 1234.6 1956.0 1250.8 1957.9 1255.1 1959.6 1267.0 1966.5 1273.5 1971.3 1267.0 1980.1 1264.3 1983.1 1250.8 1992.6M1153.8 1984.1 1137.7 1990.1 1124.2 1983.1 1137.7 1977.9 1153.8 1980.9 1156.5 1983.1 1153.8 1984.1M1121.5 1996.2 1120.6 1994.8 1121.5 1990.5 1123.9 1994.8 1121.5 1996.2M1105.4 2008.9 1103.6 2006.6 1105.4 2005.8 1107.6 2006.6 1105.4 2008.9M1234.6 2020.4 1232.0 2018.3 1234.6 2009.4 1239.6 2018.3 1234.6 2020.4M1315.4 2049.2 1299.3 2046.8 1291.8 2041.8 1299.3 2035.2 1315.4 2034.7 1322.7 2041.8 1315.4 2049.2M1267.0 2065.7 1266.0 2065.3 1267.0 2065.0 1267.5 2065.3 1267.0 2065.7"/><path stroke="#666666" d="M555.9 1191.3 552.5 1183.8 555.9 1180.4 560.2 1183.8 555.9 1191.3M814.5 1458.7 798.3 1455.2 796.6 1454.1 798.3 1448.5 802.5 1442.4 798.3 1441.5 782.2 1432.5 766.0 1435.4 749.8 1436.6 746.4 1442.4 733.7 1450.6 718.6 1442.4 717.5 1439.9 701.4 1431.5 695.7 1430.6 685.2 1426.2 669.0 1422.5 652.9 1423.9 639.9 1430.6 636.7 1431.9 632.6 1430.6 635.7 1418.9 635.6 1407.1 636.7 1405.8 642.8 1395.4 644.9 1383.6 652.9 1377.6 669.0 1374.4 685.0 1371.9 685.2 1371.8 701.4 1368.3 717.5 1366.0 733.7 1366.2 749.8 1367.8 766.0 1370.7 771.9 1371.9 782.2 1373.7 798.3 1376.9 814.5 1376.4 822.3 1371.9 828.0 1360.1 830.6 1355.1 846.8 1356.1 863.0 1355.9 879.1 1352.0 893.7 1348.3 895.3 1348.0 911.4 1346.5 927.6 1340.9 943.8 1341.4 959.1 1348.3 959.9 1348.8 976.1 1350.1 992.2 1349.7 1008.4 1353.2 1024.6 1351.7 1035.3 1348.3 1040.7 1346.0 1055.9 1348.3 1056.9 1348.6 1073.0 1359.4 1089.2 1359.6 1090.4 1360.1 1089.2 1365.5 1087.7 1371.9 1085.4 1383.6 1073.0 1388.8 1065.7 1383.6 1056.9 1375.5 1040.7 1382.8 1032.6 1383.6 1024.6 1385.3 1008.4 1385.5 992.2 1386.2 976.1 1389.8 972.9 1395.4 976.1 1400.8 984.8 1407.1 976.1 1411.6 959.9 1414.0 946.9 1407.1 943.8 1404.9 927.6 1402.4 911.4 1404.1 895.3 1401.9 879.1 1401.0 863.0 1402.7 856.8 1407.1 846.8 1413.3 845.3 1418.9 838.6 1430.6 830.6 1439.4 822.4 1442.4 826.8 1454.1 814.5 1458.7M555.9 1399.4 553.8 1395.4 555.9 1392.5 560.9 1395.4 555.9 1399.4M1024.6 1528.6 1014.2 1524.7 1008.4 1522.6 1003.7 1512.9 1003.4 1501.2 1008.4 1492.1 1010.5 1489.4 1024.6 1481.3 1039.4 1477.6 1040.7 1476.9 1056.9 1472.4 1058.9 1477.6 1062.6 1489.4 1060.4 1501.2 1056.9 1506.8 1053.0 1512.9 1040.7 1523.4 1034.4 1524.7 1024.6 1528.6M1460.9 1587.3 1444.7 1586.7 1428.6 1585.6 1422.8 1583.4 1412.4 1572.2 1412.1 1571.7 1396.2 1563.7 1383.1 1571.7 1380.1 1578.0 1363.9 1577.0 1347.8 1572.8 1338.5 1571.7 1331.6 1570.4 1315.4 1563.2 1299.5 1559.9 1299.3 1559.9 1299.2 1559.9 1283.1 1566.1 1267.0 1568.7 1250.8 1563.8 1245.4 1559.9 1235.0 1548.2 1239.0 1536.4 1246.5 1524.7 1250.8 1515.4 1253.5 1512.9 1267.0 1507.8 1279.4 1501.2 1283.1 1497.7 1290.6 1489.4 1299.3 1484.4 1315.4 1488.7 1331.6 1489.2 1347.8 1485.0 1363.9 1478.8 1368.2 1477.6 1380.1 1473.3 1386.3 1477.6 1396.0 1489.4 1396.1 1501.2 1396.2 1503.8 1398.1 1512.9 1410.7 1524.7 1412.4 1525.5 1422.4 1536.4 1428.6 1544.6 1439.8 1548.2 1444.7 1548.7 1459.3 1548.2 1460.9 1547.9 1461.4 1548.2 1477.0 1551.6 1487.5 1559.9 1485.9 1571.7 1477.0 1580.2 1469.2 1583.4 1460.9 1587.3M1541.7 1513.6 1540.9 1512.9 1541.7 1512.2 1542.2 1512.9 1541.7 1513.6M1525.5 1548.6 1509.4 1551.2 1493.6 1548.2 1505.0 1536.4 1509.4 1534.1 1525.5 1526.6 1534.6 1536.4 1533.1 1548.2 1525.5 1548.6M652.9 1576.2 636.7 1579.8 630.4 1571.7 629.9 1559.9 636.7 1553.3 644.0 1548.2 652.9 1543.8 669.0 1542.1 676.2 1548.2 678.4 1559.9 669.0 1566.4 659.6 1571.7 652.9 1576.2M1040.7 1548.3 1040.5 1548.2 1040.7 1547.8 1040.8 1548.2 1040.7 1548.3M1040.7 1705.6 1024.6 1710.0 1008.4 1709.1 993.6 1701.0 992.2 1698.3 985.8 1689.2 978.7 1677.5 992.2 1672.0 1001.6 1665.7 1008.4 1662.3 1019.6 1654.0 1024.6 1650.2 1040.7 1645.0 1056.9 1646.1 1066.7 1654.0 1073.0 1658.2 1082.5 1665.7 1082.1 1677.5 1073.0 1689.2 1073.0 1689.2 1056.9 1699.5 1052.7 1701.0 1040.7 1705.6M1170.0 1880.7 1153.8 1880.9 1137.7 1880.8 1132.0 1877.3 1121.5 1872.8 1116.0 1865.5 1120.1 1853.8 1121.5 1852.3 1137.7 1843.9 1147.0 1842.0 1153.8 1840.0 1165.5 1830.3 1169.2 1818.5 1153.8 1808.2 1137.7 1807.8 1133.7 1806.8 1126.5 1795.0 1121.5 1790.1 1116.9 1783.2 1105.4 1771.9 1103.5 1771.5 1089.2 1765.9 1082.8 1759.7 1089.2 1751.9 1096.3 1748.0 1105.4 1745.0 1121.5 1737.0 1129.1 1748.0 1137.7 1755.6 1142.8 1759.7 1153.8 1768.5 1167.7 1771.5 1170.0 1771.9 1185.8 1783.2 1184.3 1795.0 1170.4 1806.8 1170.7 1818.5 1175.6 1830.3 1186.2 1838.2 1190.4 1842.0 1197.9 1853.8 1191.8 1865.5 1186.2 1871.1 1174.6 1877.3 1170.0 1880.7M1137.7 1901.3 1136.7 1900.8 1137.7 1900.1 1138.5 1900.8 1137.7 1901.3M1250.8 1978.4 1234.6 1975.1 1229.9 1971.3 1234.6 1965.6 1250.8 1966.5 1258.4 1971.3 1250.8 1978.4"/><path stroke="#888888" d="M959.9 1398.9 954.2 1395.4 943.8 1393.9 927.6 1393.9 920.8 1395.4 911.4 1397.0 895.3 1396.2 891.2 1395.4 879.1 1387.5 874.9 1383.6 863.0 1372.2 862.4 1371.9 863.0 1371.6 879.1 1365.9 885.8 1360.1 895.3 1356.3 911.4 1353.3 924.1 1348.3 927.6 1347.1 937.9 1348.3 943.8 1349.5 959.9 1357.5 973.4 1360.1 976.1 1361.0 992.2 1360.2 1008.4 1364.5 1020.9 1360.1 1024.6 1359.4 1033.3 1360.1 1040.7 1364.6 1042.9 1371.9 1040.7 1373.0 1024.6 1376.1 1008.4 1376.1 992.2 1377.4 976.1 1377.7 964.5 1383.6 960.4 1395.4 959.9 1398.9M814.5 1437.2 798.3 1431.4 797.0 1430.6 782.2 1420.9 766.0 1425.3 749.8 1421.9 733.7 1428.1 717.5 1428.1 701.4 1424.9 691.7 1418.9 693.3 1407.1 685.2 1401.1 669.0 1403.7 656.9 1407.1 652.9 1408.9 651.2 1407.1 651.5 1395.4 652.9 1389.7 655.6 1383.6 669.0 1379.3 685.2 1377.8 701.4 1376.3 717.5 1371.9 717.8 1371.9 733.7 1370.6 749.5 1371.9 749.8 1371.9 766.0 1374.4 782.2 1378.5 794.9 1383.6 795.2 1395.4 782.2 1398.8 779.2 1407.1 782.2 1414.8 798.3 1408.3 800.9 1407.1 799.8 1395.4 814.5 1390.3 828.8 1383.6 830.6 1382.6 846.8 1382.3 848.2 1383.6 846.8 1385.7 833.6 1395.4 832.6 1407.1 838.1 1418.9 830.6 1428.6 827.6 1430.6 814.5 1437.2M733.7 1444.1 730.5 1442.4 733.7 1435.8 736.4 1442.4 733.7 1444.1M1024.6 1515.2 1020.0 1512.9 1013.0 1501.2 1023.0 1489.4 1024.6 1488.5 1040.7 1486.9 1045.7 1489.4 1049.3 1501.2 1040.7 1512.4 1038.3 1512.9 1024.6 1515.2M1363.9 1563.9 1359.7 1559.9 1354.4 1548.2 1347.8 1545.6 1339.0 1548.2 1331.6 1551.0 1315.4 1555.6 1299.3 1555.9 1283.1 1559.1 1271.0 1559.9 1267.0 1560.3 1266.0 1559.9 1250.8 1552.8 1246.0 1548.2 1250.8 1539.8 1252.5 1536.4 1254.4 1524.7 1267.0 1514.3 1269.7 1512.9 1283.1 1506.0 1288.0 1501.2 1299.3 1490.2 1315.4 1493.6 1331.6 1493.2 1347.8 1492.4 1355.4 1489.4 1363.9 1485.7 1380.1 1482.6 1386.7 1489.4 1387.6 1501.2 1380.3 1512.9 1380.1 1513.6 1376.8 1524.7 1380.1 1530.1 1396.2 1526.5 1412.4 1534.9 1413.8 1536.4 1418.0 1548.2 1412.4 1553.5 1396.2 1555.1 1380.1 1555.9 1371.0 1559.9 1363.9 1563.9M669.0 1560.6 652.9 1569.4 640.2 1559.9 652.9 1550.8 669.0 1556.6 670.0 1559.9 669.0 1560.6M1477.0 1573.8 1460.9 1581.6 1444.7 1581.3 1428.6 1575.3 1424.1 1571.7 1423.6 1559.9 1428.6 1557.3 1444.7 1552.6 1460.9 1552.1 1477.0 1559.3 1477.9 1559.9 1479.3 1571.7 1477.0 1573.8M1024.6 1703.3 1008.4 1702.9 1004.9 1701.0 998.5 1689.2 1000.1 1677.5 1008.4 1671.8 1016.1 1665.7 1024.6 1659.4 1031.9 1654.0 1040.7 1650.3 1053.6 1654.0 1056.9 1655.2 1072.4 1665.7 1070.6 1677.5 1058.5 1689.2 1056.9 1690.3 1040.7 1695.4 1030.7 1701.0 1024.6 1703.3M1121.5 1776.3 1117.5 1771.5 1105.4 1760.0 1104.8 1759.7 1105.4 1759.4 1121.5 1755.0 1126.5 1759.7 1135.1 1771.5 1121.5 1776.3M1170.0 1796.0 1153.8 1795.5 1150.1 1795.0 1137.7 1793.5 1127.3 1783.2 1137.7 1772.3 1153.8 1777.5 1170.0 1780.5 1173.9 1783.2 1171.2 1795.0 1170.0 1796.0M1170.0 1870.4 1153.8 1870.1 1137.7 1870.1 1129.3 1865.5 1132.7 1853.8 1137.7 1851.0 1153.8 1847.1 1165.7 1842.0 1170.0 1838.3 1175.0 1842.0 1186.2 1850.4 1188.7 1853.8 1186.2 1857.8 1178.4 1865.5 1170.0 1870.4"/><path stroke="#a6a6a6" d="M927.6 1385.2 911.4 1389.6 895.3 1387.7 889.4 1383.6 887.8 1371.9 895.3 1365.8 910.6 1360.1 911.4 1359.9 927.6 1356.3 943.8 1359.5 944.9 1360.1 959.9 1368.9 967.1 1371.9 959.9 1374.8 943.8 1377.1 931.8 1383.6 927.6 1385.2M717.5 1424.3 702.4 1418.9 704.5 1407.1 705.5 1395.4 701.4 1386.8 688.2 1383.6 701.4 1382.5 717.5 1375.5 733.7 1374.0 749.8 1374.8 766.0 1377.6 782.2 1383.2 783.1 1383.6 782.2 1384.6 774.6 1395.4 771.0 1407.1 766.0 1415.3 749.8 1410.6 733.7 1414.1 731.3 1418.9 717.5 1424.3M830.6 1419.2 814.5 1430.0 798.3 1419.7 797.0 1418.9 798.3 1418.2 814.5 1410.1 830.6 1418.4 830.9 1418.9 830.6 1419.2M1024.6 1502.7 1023.3 1501.2 1024.6 1499.7 1030.7 1501.2 1024.6 1502.7M1315.4 1549.4 1299.3 1551.9 1283.1 1552.8 1267.0 1552.8 1258.6 1548.2 1262.0 1536.4 1262.8 1524.7 1267.0 1521.3 1283.1 1513.1 1283.9 1512.9 1295.1 1501.2 1299.3 1497.1 1315.4 1498.3 1331.6 1497.2 1347.8 1498.5 1363.9 1494.2 1377.9 1501.2 1367.4 1512.9 1363.9 1520.9 1361.9 1524.7 1347.8 1533.7 1344.0 1536.4 1331.6 1542.5 1318.6 1548.2 1315.4 1549.4M1396.2 1546.4 1392.2 1536.4 1396.2 1534.4 1400.0 1536.4 1396.2 1546.4M652.9 1562.9 649.0 1559.9 652.9 1557.1 658.3 1559.9 652.9 1562.9M1460.9 1577.7 1444.7 1577.3 1433.6 1571.7 1436.3 1559.9 1444.7 1556.5 1460.9 1556.0 1469.3 1559.9 1472.1 1571.7 1460.9 1577.7M1024.6 1692.4 1013.3 1689.2 1020.5 1677.5 1024.6 1674.0 1028.4 1665.7 1040.7 1656.5 1056.9 1662.6 1061.5 1665.7 1056.9 1674.6 1053.0 1677.5 1040.7 1683.7 1030.9 1689.2 1024.6 1692.4M1170.0 1858.1 1153.8 1855.4 1152.3 1853.8 1153.8 1853.4 1170.0 1850.7 1174.1 1853.8 1170.0 1858.1"/><path stroke="#c8c8c8" d="M717.5 1420.5 713.0 1418.9 713.2 1407.1 714.0 1395.4 707.9 1383.6 717.5 1379.2 733.7 1377.0 749.8 1377.6 766.0 1380.8 773.9 1383.6 766.0 1394.9 763.5 1395.4 749.8 1398.2 733.7 1401.7 724.5 1407.1 721.6 1418.9 717.5 1420.5M814.5 1420.0 812.8 1418.9 814.5 1418.0 816.1 1418.9 814.5 1420.0M1315.4 1543.4 1299.3 1547.8 1283.1 1546.6 1270.6 1536.4 1273.1 1524.7 1283.1 1519.4 1299.3 1518.2 1309.5 1512.9 1315.4 1508.4 1331.0 1501.2 1331.6 1501.1 1332.1 1501.2 1347.8 1509.4 1351.8 1512.9 1347.8 1522.0 1346.9 1524.7 1331.6 1535.5 1330.4 1536.4 1315.4 1543.4M1460.9 1573.7 1444.7 1573.3 1441.5 1571.7 1444.7 1562.6 1460.9 1560.2 1464.7 1571.7 1460.9 1573.7M1040.7 1667.8 1039.3 1665.7 1040.7 1664.7 1043.6 1665.7 1040.7 1667.8"/><path stroke="#e5e5e5" d="M749.8 1390.4 733.7 1393.5 717.5 1386.5 715.9 1383.6 717.5 1382.9 733.7 1380.0 749.8 1380.5 764.3 1383.6 749.8 1390.4M1331.6 1526.4 1316.0 1524.7 1328.4 1512.9 1331.6 1511.0 1334.8 1512.9 1334.1 1524.7 1331.6 1526.4M1315.4 1537.5 1299.3 1542.9 1283.1 1540.4 1278.2 1536.4 1283.1 1527.1 1299.3 1527.8 1315.4 1525.1 1317.7 1536.4 1315.4 1537.5"/></g><g fill="#fff" stroke="#000" stroke-width="6" stroke-linejoin="round"><path d="M781.0 1634.0 L808.0 1624.0 L808.0 1606.0 L841.0 1606.0 L844.0 1559.0 L861.0 1573.0 L861.0 1587.0 L877.0 1597.0 L911.0 1597.0 L927.0 1586.0 L942.0 1595.0 L916.0 1608.0 L911.0 1629.0 L896.0 1620.0 L876.0 1620.0 L862.0 1632.0 Z"/><path d="M943.0 1865.5 L998.0 1865.5 L1014.6 1877.2 L1048.0 1877.2 L1071.4 1890.5 L1054.7 1900.6 L1014.6 1888.9 L1008.0 1900.6 L1048.0 1912.3 L1056.4 1924.0 L1014.6 1924.0 L1008.0 1935.6 L991.3 1912.3 L974.5 1924.0 L959.5 1924.0 L959.5 1877.2 Z"/><path d="M522.0 1723.5 L560.0 1723.5 L570.0 1737.0 L570.0 1748.6 L587.0 1760.0 L560.0 1760.0 L522.0 1748.6 Z"/><path d="M619.0 1807.0 L669.0 1783.7 L700.7 1807.0 L700.7 1820.4 L685.6 1807.0 L654.0 1820.4 L619.0 1830.4 Z"/><path d="M925.0 1750.0 L945.0 1737.0 L945.0 1759.0 L927.0 1771.0 Z"/><path d="M878.0 1914.0 L928.0 1914.0 L911.0 1924.0 L878.0 1924.0 Z"/><path d="M1614.0 1486.0 L1627.0 1486.0 L1627.0 1506.0 L1614.0 1506.0 Z"/><path d="M941.0 1548.0 L958.0 1548.0 L991.0 1561.0 L975.0 1573.0 Z"/><path d="M600.0 1442.0 L625.0 1442.0 L625.0 1459.0 L600.0 1459.0 Z"/></g><path d="M1365.0 1948.0 L1381.0 1936.0 L1397.0 1948.0 L1381.0 1961.0 Z" fill="#054962" stroke="#000" stroke-width="6" stroke-linejoin="round"/><path d="M943.0 1996.0 L959.0 1983.0 L976.0 1996.0 L959.0 2009.0 Z" fill="#034466" stroke="#000" stroke-width="6" stroke-linejoin="round"/><path d="M360.0 1307.0 L378.0 1300.0 L395.0 1313.0 L412.0 1301.0 L393.0 1287.0 L393.0 1279.0 L378.0 1265.0 L410.0 1242.0 L427.0 1242.0 L410.0 1230.0 L410.0 1219.0 L490.0 1160.0 L507.0 1172.0 L507.0 1162.0 L524.0 1150.0 L507.0 1145.0 L490.0 1137.0 L507.0 1125.0M572.0 1123.0 L589.0 1123.0 L604.0 1135.0 L637.0 1135.0 L671.0 1160.0 L654.0 1172.0 L654.0 1184.0 L671.0 1197.0 L671.0 1209.0 L686.0 1219.0 L734.0 1219.0 L749.0 1207.0 L783.0 1207.0 L798.0 1219.0 L831.0 1219.0 L848.0 1230.0 L831.0 1242.0 L814.0 1242.0 L831.0 1254.0 L831.0 1267.0 L848.0 1279.0 L848.0 1300.0 L863.0 1300.0 L879.0 1312.0 L894.0 1300.0 L928.0 1290.0 L961.0 1290.0 L975.0 1282.0 L975.0 1275.0 L991.0 1264.0 L1023.0 1265.0 L1006.0 1254.0 L1006.0 1230.0 L1040.0 1207.0 L1040.0 1195.0 L1056.0 1184.0 L1073.0 1195.0 L1088.4 1183.5 L1105.0 1195.2 L1088.4 1206.9 L1121.8 1206.9 L1136.8 1195.2 L1170.2 1218.6 L1170.2 1242.0 L1153.5 1253.7 L1186.9 1278.7 L1250.3 1278.7 L1267.0 1265.3 L1283.7 1265.3 L1298.8 1277.0 L1315.5 1265.3 L1332.2 1265.3 L1363.9 1288.7 L1363.9 1300.4 L1380.6 1300.4 L1395.6 1312.1 L1363.9 1323.8 L1395.6 1347.2 L1412.3 1335.5 L1429.0 1335.5 L1445.7 1347.2 L1445.7 1358.9 L1429.0 1370.6 L1429.0 1383.9 L1412.3 1393.9 L1429.0 1393.9 L1460.8 1417.3 L1475.8 1417.3 L1492.5 1429.0 L1494.2 1440.7 L1509.2 1452.4 L1492.5 1464.1 L1509.2 1477.4 L1524.2 1465.7 L1540.9 1477.4 L1557.6 1465.7 L1589.4 1465.7 L1606.0 1454.0 L1621.0 1454.0 L1637.8 1442.4 L1654.5 1454.0 L1704.6 1454.0 L1719.6 1442.4 L1734.6 1454.0 L1734.6 1442.0 L1766.4 1419.0 L1783.0 1419.0M1783.0 1524.2 L1768.0 1512.5 L1751.3 1524.2 L1751.3 1539.2 L1734.6 1550.9 L1751.3 1560.9 L1734.6 1572.6 L1702.9 1572.6 L1687.9 1584.3 L1671.2 1584.3 L1671.2 1596.0 L1639.1 1619.4 L1622.4 1619.4 L1606.2 1631.4 L1590.0 1619.4 L1606.2 1607.8 L1557.0 1607.8 L1590.0 1631.0 L1573.7 1642.6 L1590.0 1654.6 L1590.0 1666.7 L1573.7 1678.3 L1557.0 1678.3 L1541.3 1689.9 L1525.0 1677.8 L1500.0 1696.4 L1494.3 1701.8 L1444.2 1701.8 L1427.5 1690.1 L1412.5 1690.1 L1395.8 1678.5 L1379.1 1678.5 L1379.1 1690.1 L1364.1 1701.8 L1347.4 1690.1 L1332.3 1701.8 L1315.6 1690.1 L1297.3 1690.1 L1282.2 1701.8 L1252.2 1701.8 L1252.2 1713.5 L1233.8 1725.2 L1233.8 1760.3 L1250.5 1772.0 L1250.5 1783.7 L1267.2 1795.4 L1250.5 1807.0 L1267.2 1818.7 L1267.2 1842.1 L1250.5 1853.8 L1267.2 1865.5 L1250.5 1877.2 L1267.2 1877.2 L1283.9 1888.9 L1283.9 1913.9 L1300.6 1913.9 L1315.6 1902.2 L1364.1 1935.6 L1364.1 1959.0 L1332.3 1982.4 L1315.6 1982.4 L1332.3 1994.1 L1332.3 2007.5 L1315.6 2019.1 L1332.3 2030.8 L1364.1 2030.8 L1380.8 2042.5 L1380.8 2054.2 L1364.1 2065.9 L1364.1 2077.6 L1347.4 2089.3 L1332.3 2089.3 L1347.4 2101.0 L1364.1 2089.3 L1380.8 2089.3 L1412.5 2112.6 L1395.8 2124.3 L1395.8 2136.0 L1379.1 2147.7 L1364.1 2157.0M1180.4 2157.0 L1170.3 2147.7 L1187.0 2136.0 L1170.3 2136.0 L1155.3 2124.3 L1155.3 2112.6 L1138.6 2101.0 L1155.3 2089.3 L1155.3 2077.6 L1138.6 2089.3 L1121.9 2077.6 L1106.9 2077.6 L1090.2 2065.9 L1106.9 2054.2 L1071.8 2030.8 L1056.8 2030.8 L1040.1 2042.5 L1023.0 2031.0 L1023.0 2008.0 L1010.0 2019.0 L993.0 2019.0 L975.0 2008.0 L985.0 2003.0 L1010.0 1995.0 L983.0 1983.0 L944.0 1971.0 L878.0 1971.0 L863.0 1960.0 L894.0 1947.0 L781.0 1947.0 L749.1 1923.9 L749.1 1935.6 L717.4 1959.0 L685.6 1947.3 L685.6 1923.9 L685.6 1947.3 L669.0 1959.0 L637.2 1959.0 L620.5 1947.3 L620.5 1959.0 L603.8 1970.7 L587.1 1959.0 L587.1 1947.3 L570.4 1935.6 L570.4 1912.3 L588.8 1900.6 L605.5 1912.3 L605.5 1900.6 L588.8 1888.9 L605.5 1877.2 L588.8 1865.5 L572.1 1865.5 L557.1 1877.2 L523.7 1853.8 L540.4 1840.4 L460.2 1840.4 L443.5 1828.7 L410.1 1828.7 L393.4 1817.1 L393.4 1805.4 L376.7 1793.7 L361.0 1793.7M361.0 1676.8 L393.4 1676.8 L376.7 1665.1 L393.4 1653.4 L410.1 1665.1 L426.8 1653.4 L460.2 1653.4 L460.2 1645.0 L491.9 1645.0 L491.9 1631.7 L460.2 1631.7 L443.5 1620.0 L443.5 1606.0 L427.0 1594.0 L427.0 1583.0 L410.0 1571.0 L427.0 1559.0 L460.0 1571.0 L460.0 1548.0 L477.0 1536.0 L460.0 1524.0 L477.0 1512.5 L460.0 1501.0 L427.0 1501.0 L410.0 1512.5 L427.0 1524.0 L410.0 1536.0 L393.0 1536.0 L361.0 1511.5" fill="none" stroke="#000" stroke-width="6.0" stroke-linejoin="round" stroke-linecap="round"/><defs><linearGradient id="cb" x1="0" y1="1" x2="0" y2="0"><stop offset="0" stop-color="#663399"/><stop offset="0.5" stop-color="#003c6e"/><stop offset="1" stop-color="#228b22"/></linearGradient></defs><rect x="2610" y="720" width="150" height="1440" fill="url(#cb)"/><path d="M360.50 119.70v32M360.50 600.30v-32M761.10 119.70v32M761.10 600.30v-32M1161.70 119.70v32M1161.70 600.30v-32M1562.30 119.70v32M1562.30 600.30v-32M460.65 119.70v16M460.65 600.30v-16M560.80 119.70v16M560.80 600.30v-16M660.95 119.70v16M660.95 600.30v-16M861.25 119.70v16M861.25 600.30v-16M961.40 119.70v16M961.40 600.30v-16M1061.55 119.70v16M1061.55 600.30v-16M1261.85 119.70v16M1261.85 600.30v-16M1362.00 119.70v16M1362.00 600.30v-16M1462.15 119.70v16M1462.15 600.30v-16M1662.45 119.70v16M1662.45 600.30v-16M1762.60 119.70v16M1762.60 600.30v-16M360.50 719.80v32M360.50 2160.20v-32M761.10 719.80v32M761.10 2160.20v-32M1161.70 719.80v32M1161.70 2160.20v-32M1562.30 719.80v32M1562.30 2160.20v-32M460.65 719.80v16M460.65 2160.20v-16M560.80 719.80v16M560.80 2160.20v-16M660.95 719.80v16M660.95 2160.20v-16M861.25 719.80v16M861.25 2160.20v-16M961.40 719.80v16M961.40 2160.20v-16M1061.55 719.80v16M1061.55 2160.20v-16M1261.85 719.80v16M1261.85 2160.20v-16M1362.00 719.80v16M1362.00 2160.20v-16M1462.15 719.80v16M1462.15 2160.20v-16M1662.45 719.80v16M1662.45 2160.20v-16M1762.60 719.80v16M1762.60 2160.20v-16M360.50 2113.06h32M1800.40 2113.06h-32M1920.30 2113.06h32M2490.60 2113.06h-32M360.50 2045.73h16M1800.40 2045.73h-16M1920.30 2045.73h16M2490.60 2045.73h-16M360.50 1978.41h16M1800.40 1978.41h-16M1920.30 1978.41h16M2490.60 1978.41h-16M360.50 1911.08h16M1800.40 1911.08h-16M1920.30 1911.08h16M2490.60 1911.08h-16M360.50 1843.76h16M1800.40 1843.76h-16M1920.30 1843.76h16M2490.60 1843.76h-16M360.50 1776.43h32M1800.40 1776.43h-32M1920.30 1776.43h32M2490.60 1776.43h-32M360.50 1709.10h16M1800.40 1709.10h-16M1920.30 1709.10h16M2490.60 1709.10h-16M360.50 1641.78h16M1800.40 1641.78h-16M1920.30 1641.78h16M2490.60 1641.78h-16M360.50 1574.45h16M1800.40 1574.45h-16M1920.30 1574.45h16M2490.60 1574.45h-16M360.50 1507.13h16M1800.40 1507.13h-16M1920.30 1507.13h16M2490.60 1507.13h-16M360.50 1439.80h32M1800.40 1439.80h-32M1920.30 1439.80h32M2490.60 1439.80h-32M360.50 1372.47h16M1800.40 1372.47h-16M1920.30 1372.47h16M2490.60 1372.47h-16M360.50 1305.15h16M1800.40 1305.15h-16M1920.30 1305.15h16M2490.60 1305.15h-16M360.50 1237.82h16M1800.40 1237.82h-16M1920.30 1237.82h16M2490.60 1237.82h-16M360.50 1170.50h16M1800.40 1170.50h-16M1920.30 1170.50h16M2490.60 1170.50h-16M360.50 1103.17h32M1800.40 1103.17h-32M1920.30 1103.17h32M2490.60 1103.17h-32M360.50 1035.84h16M1800.40 1035.84h-16M1920.30 1035.84h16M2490.60 1035.84h-16M360.50 968.52h16M1800.40 968.52h-16M1920.30 968.52h16M2490.60 968.52h-16M360.50 901.19h16M1800.40 901.19h-16M1920.30 901.19h16M2490.60 901.19h-16M360.50 833.87h16M1800.40 833.87h-16M1920.30 833.87h16M2490.60 833.87h-16M360.50 766.54h32M1800.40 766.54h-32M1920.30 766.54h32M2490.60 766.54h-32M360.50 535.95h16M1800.40 535.95h-16M360.50 471.60h16M1800.40 471.60h-16M360.50 407.25h16M1800.40 407.25h-16M360.50 342.90h32M1800.40 342.90h-32M360.50 278.55h16M1800.40 278.55h-16M360.50 214.20h16M1800.40 214.20h-16M360.50 149.85h16M1800.40 149.85h-16M2019.44 719.90v16M2019.44 2160.20v-16M2118.58 719.90v16M2118.58 2160.20v-16M2217.72 719.90v16M2217.72 2160.20v-16M2316.86 719.90v16M2316.86 2160.20v-16M2416.00 719.90v32M2416.00 2160.20v-32M2760.00 2088.00h-16M2760.00 2016.00h-16M2760.00 1944.00h-16M2760.00 1872.00h-32M2760.00 1800.00h-16M2760.00 1728.00h-16M2760.00 1656.00h-16M2760.00 1584.00h-32M2760.00 1512.00h-16M2760.00 1440.00h-16M2760.00 1368.00h-16M2760.00 1296.00h-32M2760.00 1224.00h-16M2760.00 1152.00h-16M2760.00 1080.00h-16M2760.00 1008.00h-32M2760.00 936.00h-16M2760.00 864.00h-16M2760.00 792.00h-16" stroke="#000" stroke-width="2.2" fill="none"/><rect x="360.5" y="119.7" width="1439.90" height="480.60" fill="none" stroke="#000" stroke-width="3.0"/><rect x="360.5" y="719.8" width="1439.90" height="1440.40" fill="none" stroke="#000" stroke-width="3.0"/><rect x="1920.3" y="719.9" width="570.30" height="1440.30" fill="none" stroke="#000" stroke-width="3.0"/><rect x="2610" y="720" width="150.00" height="1440.00" fill="none" stroke="#000" stroke-width="3.0"/><g font-family="Liberation Sans, sans-serif" font-weight="bold" fill="#000" stroke="#000" stroke-width="0.9" style="font-kerning:none"><text x="1917.11" y="281.60" font-size="130.50" textLength="245.53" lengthAdjust="spacingAndGlyphs">PepDF</text><text x="1920.24" y="432.70" font-size="108.60" textLength="674.42" lengthAdjust="spacingAndGlyphs">Time window: 200 ns</text><text x="-1.12" y="0" font-size="107.50" textLength="279.29" lengthAdjust="spacingAndGlyphs" transform="translate(210.60,499.70) rotate(-90)"># Counts</text><text x="251.50" y="363.66" font-size="86.00" textLength="91.66" lengthAdjust="spacingAndGlyphs">200</text><text x="313.82" y="619.96" font-size="86.00" textLength="29.24" lengthAdjust="spacingAndGlyphs">0</text><text x="252.11" y="787.76" font-size="86.00" textLength="91.13" lengthAdjust="spacingAndGlyphs">200</text><text x="250.31" y="1123.56" font-size="86.00" textLength="92.46" lengthAdjust="spacingAndGlyphs">100</text><text x="314.40" y="1459.76" font-size="86.00" textLength="28.18" lengthAdjust="spacingAndGlyphs">0</text><text x="202.51" y="1797.26" font-size="86.00" textLength="140.55" lengthAdjust="spacingAndGlyphs">−100</text><text x="202.40" y="2133.36" font-size="86.00" textLength="141.17" lengthAdjust="spacingAndGlyphs">−200</text><text x="345.92" y="2234.19" font-size="82.50" textLength="29.24" lengthAdjust="spacingAndGlyphs">0</text><text x="747.16" y="2234.19" font-size="82.50" textLength="29.57" lengthAdjust="spacingAndGlyphs">2</text><text x="1146.67" y="2235.69" font-size="82.50" textLength="30.63" lengthAdjust="spacingAndGlyphs">4</text><text x="1549.67" y="2236.39" font-size="82.50" textLength="27.73" lengthAdjust="spacingAndGlyphs">6</text><text x="1905.77" y="2235.36" font-size="86.00" textLength="29.94" lengthAdjust="spacingAndGlyphs">0</text><text x="2372.12" y="2235.36" font-size="86.00" textLength="91.02" lengthAdjust="spacingAndGlyphs">500</text><text x="2776.45" y="740.16" font-size="86.00" textLength="78.36" lengthAdjust="spacingAndGlyphs">1.0</text><text x="2777.83" y="1028.16" font-size="86.00" textLength="76.36" lengthAdjust="spacingAndGlyphs">0.8</text><text x="2777.82" y="1316.16" font-size="86.00" textLength="76.67" lengthAdjust="spacingAndGlyphs">0.6</text><text x="2777.87" y="1604.16" font-size="86.00" textLength="74.92" lengthAdjust="spacingAndGlyphs">0.4</text><text x="2777.81" y="1892.16" font-size="86.00" textLength="76.90" lengthAdjust="spacingAndGlyphs">0.2</text><text x="2777.81" y="2180.16" font-size="86.00" textLength="76.96" lengthAdjust="spacingAndGlyphs">0.0</text><text x="657.55" y="2343.90" font-size="107.00" textLength="843.04" lengthAdjust="spacingAndGlyphs">Lateral displacement (nm)</text><text x="2065.79" y="2344.00" font-size="107.00" textLength="278.48" lengthAdjust="spacingAndGlyphs"># Counts</text><text x="-4.51" y="0" font-size="107.50" textLength="682.57" lengthAdjust="spacingAndGlyphs" transform="translate(159.70,1779.60) rotate(-90)">Precession (degrees)</text><text x="-3.69" y="0" font-size="90.00" textLength="597.88" lengthAdjust="spacingAndGlyphs" transform="translate(2932.40,1741.00) rotate(-90)">Normalized Mean Time</text></g></svg></body></html>
